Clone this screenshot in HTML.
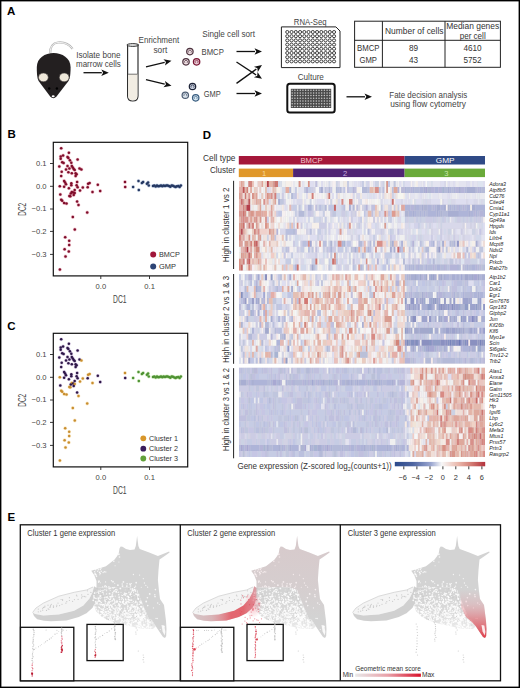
<!DOCTYPE html>
<html><head><meta charset="utf-8"><style>
html,body{margin:0;padding:0;background:#fff;width:520px;height:688px;overflow:hidden}
svg{display:block;font-family:"Liberation Sans",sans-serif}
</style></head><body>
<svg width="520" height="688" viewBox="0 0 520 688">
<rect width="520" height="688" fill="#fff"/>
<text x="7" y="15.2" font-size="11.5" fill="#000" font-weight="bold">A</text>
<text x="7.5" y="137.8" font-size="11.5" fill="#000" font-weight="bold">B</text>
<text x="7.2" y="330.2" font-size="11.5" fill="#000" font-weight="bold">C</text>
<text x="202.8" y="138.6" font-size="11.5" fill="#000" font-weight="bold">D</text>
<text x="7.6" y="521.4" font-size="11.5" fill="#000" font-weight="bold">E</text>
<path d="M50.2,53 C50,47 53,43 58,42.5 C63,42 69,44 72.6,48.8" fill="none" stroke="#b5b5b5" stroke-width="2.2"/>
<path d="M50.2,53 C50,47 53,43 58,42.5 C63,42 69,44 72.6,48.8" fill="none" stroke="#fff" stroke-width="0.8"/>
<path d="M53.6,52.9 C62,52.9 70.6,58 70.6,67 C70.6,73 70.2,78 68.5,81 L56.5,96.5 Q53.3,99.8 50.2,96.5 L38.6,81 C37,78 36.8,73 36.8,67 C36.8,58 45,52.9 53.6,52.9 Z" fill="#231f20"/>
<ellipse cx="43.4" cy="77.4" rx="4.9" ry="4.4" fill="#efe8da" stroke="#3a3536" stroke-width="0.6"/>
<ellipse cx="64.2" cy="77.4" rx="4.9" ry="4.4" fill="#efe8da" stroke="#3a3536" stroke-width="0.6"/>
<circle cx="49.2" cy="88.5" r="1.2" fill="#000"/><circle cx="56.9" cy="88.5" r="1.2" fill="#000"/>
<ellipse cx="53.2" cy="96.3" rx="1.5" ry="1" fill="#fff"/>
<text x="76.2" y="58" font-size="8.7" fill="#444" textLength="44.3" lengthAdjust="spacingAndGlyphs">Isolate bone</text>
<text x="76.0" y="67.4" font-size="8.7" fill="#444" textLength="44.8" lengthAdjust="spacingAndGlyphs">marrow cells</text>
<line x1="83.5" y1="72.7" x2="101.80" y2="72.70" stroke="#111" stroke-width="1.3"/>
<path d="M108.80,72.70 L101.30,75.90 L103.10,72.70 L101.30,69.50 Z" fill="#111"/>
<path d="M127.6,45 L127.6,96 Q127.6,101 132.8,101 Q138,101 138,96 L138,45" fill="#fff" stroke="#2a2a2a" stroke-width="1.15"/>
<path d="M128.2,74 L137.4,74 L137.4,96 Q137.4,100.3 132.8,100.3 Q128.2,100.3 128.2,96 Z" fill="#f2ede3"/>
<line x1="128" y1="74.2" x2="137.6" y2="74.2" stroke="#666" stroke-width="0.9"/>
<ellipse cx="132.8" cy="45" rx="6" ry="1.3" fill="#fff" stroke="#222" stroke-width="1"/>
<text x="138.6" y="43" font-size="8.7" fill="#444" textLength="40.6" lengthAdjust="spacingAndGlyphs">Enrichment</text>
<text x="153.4" y="52.7" font-size="8.7" fill="#444" textLength="13.8" lengthAdjust="spacingAndGlyphs">sort</text>
<line x1="146" y1="66.8" x2="164.69" y2="62.33" stroke="#111" stroke-width="1.3"/>
<path d="M171.50,60.70 L164.95,65.56 L165.96,62.03 L163.46,59.33 Z" fill="#111"/>
<line x1="146" y1="79.6" x2="164.70" y2="84.15" stroke="#111" stroke-width="1.3"/>
<path d="M171.50,85.80 L163.46,87.14 L165.96,84.45 L164.97,80.92 Z" fill="#111"/>
<circle cx="189.9" cy="51.6" r="3.2" fill="#f0e0e4" stroke="#4e3440" stroke-width="1.25"/>
<path d="M188.70000000000002,52.5 A1.5,1.5 0 1 1 191.0,52.6" fill="none" stroke="#4e3440" stroke-width="0.75"/>
<circle cx="186" cy="61.8" r="3.2" fill="#f0e0e4" stroke="#4e3440" stroke-width="1.25"/>
<path d="M184.8,62.699999999999996 A1.5,1.5 0 1 1 187.1,62.8" fill="none" stroke="#4e3440" stroke-width="0.75"/>
<circle cx="196.6" cy="61.8" r="3.2" fill="#e8c8d2" stroke="#7a1836" stroke-width="1.25"/>
<path d="M195.4,62.699999999999996 A1.5,1.5 0 1 1 197.7,62.8" fill="none" stroke="#7a1836" stroke-width="0.75"/>
<circle cx="192.5" cy="86.5" r="3.2" fill="#c8d0e0" stroke="#1c2236" stroke-width="1.25"/>
<path d="M191.3,87.4 A1.5,1.5 0 1 1 193.6,87.5" fill="none" stroke="#1c2236" stroke-width="0.75"/>
<circle cx="185.3" cy="95.2" r="3.2" fill="#e0e8f0" stroke="#4e5e74" stroke-width="1.25"/>
<path d="M184.10000000000002,96.10000000000001 A1.5,1.5 0 1 1 186.4,96.2" fill="none" stroke="#4e5e74" stroke-width="0.75"/>
<circle cx="195.7" cy="97.8" r="3.2" fill="#d8e8f2" stroke="#3a5e80" stroke-width="1.25"/>
<path d="M194.5,98.7 A1.5,1.5 0 1 1 196.79999999999998,98.8" fill="none" stroke="#3a5e80" stroke-width="0.75"/>
<text x="202.3" y="37.3" font-size="8.7" fill="#444" textLength="52.7" lengthAdjust="spacingAndGlyphs">Single cell sort</text>
<text x="201.5" y="55" font-size="8.7" fill="#444" textLength="22.3" lengthAdjust="spacingAndGlyphs">BMCP</text>
<text x="203.8" y="97.3" font-size="8.7" fill="#444" textLength="17" lengthAdjust="spacingAndGlyphs">GMP</text>
<line x1="236.5" y1="51.5" x2="255.00" y2="51.50" stroke="#111" stroke-width="1.3"/>
<path d="M262.00,51.50 L254.50,54.70 L256.30,51.50 L254.50,48.30 Z" fill="#111"/>
<line x1="236.5" y1="62" x2="256.15" y2="74.95" stroke="#111" stroke-width="1.3"/>
<path d="M262.00,78.80 L253.98,77.35 L257.24,75.66 L257.50,72.00 Z" fill="#111"/>
<line x1="236.5" y1="83.4" x2="256.32" y2="69.10" stroke="#111" stroke-width="1.3"/>
<path d="M262.00,65.00 L257.79,71.98 L257.38,68.34 L254.05,66.79 Z" fill="#111"/>
<line x1="236.5" y1="93.5" x2="255.00" y2="93.50" stroke="#111" stroke-width="1.3"/>
<path d="M262.00,93.50 L254.50,96.70 L256.30,93.50 L254.50,90.30 Z" fill="#111"/>
<path d="M281.4,26.9 L335.9,26.9 L340,31 L340,67.6 L281.4,67.6 Z" fill="#fff" stroke="#222" stroke-width="1"/>
<g fill="none" stroke="#2a2a2a" stroke-width="0.9"><ellipse cx="287.30" cy="32.00" rx="1.6" ry="1.5"/><ellipse cx="291.55" cy="32.00" rx="1.6" ry="1.5"/><ellipse cx="295.80" cy="32.00" rx="1.6" ry="1.5"/><ellipse cx="300.05" cy="32.00" rx="1.6" ry="1.5"/><ellipse cx="304.30" cy="32.00" rx="1.6" ry="1.5"/><ellipse cx="308.55" cy="32.00" rx="1.6" ry="1.5"/><ellipse cx="312.80" cy="32.00" rx="1.6" ry="1.5"/><ellipse cx="317.05" cy="32.00" rx="1.6" ry="1.5"/><ellipse cx="321.30" cy="32.00" rx="1.6" ry="1.5"/><ellipse cx="325.55" cy="32.00" rx="1.6" ry="1.5"/><ellipse cx="329.80" cy="32.00" rx="1.6" ry="1.5"/><ellipse cx="334.05" cy="32.00" rx="1.6" ry="1.5"/><ellipse cx="287.30" cy="36.20" rx="1.6" ry="1.5"/><ellipse cx="291.55" cy="36.20" rx="1.6" ry="1.5"/><ellipse cx="295.80" cy="36.20" rx="1.6" ry="1.5"/><ellipse cx="300.05" cy="36.20" rx="1.6" ry="1.5"/><ellipse cx="304.30" cy="36.20" rx="1.6" ry="1.5"/><ellipse cx="308.55" cy="36.20" rx="1.6" ry="1.5"/><ellipse cx="312.80" cy="36.20" rx="1.6" ry="1.5"/><ellipse cx="317.05" cy="36.20" rx="1.6" ry="1.5"/><ellipse cx="321.30" cy="36.20" rx="1.6" ry="1.5"/><ellipse cx="325.55" cy="36.20" rx="1.6" ry="1.5"/><ellipse cx="329.80" cy="36.20" rx="1.6" ry="1.5"/><ellipse cx="334.05" cy="36.20" rx="1.6" ry="1.5"/><ellipse cx="287.30" cy="40.40" rx="1.6" ry="1.5"/><ellipse cx="291.55" cy="40.40" rx="1.6" ry="1.5"/><ellipse cx="295.80" cy="40.40" rx="1.6" ry="1.5"/><ellipse cx="300.05" cy="40.40" rx="1.6" ry="1.5"/><ellipse cx="304.30" cy="40.40" rx="1.6" ry="1.5"/><ellipse cx="308.55" cy="40.40" rx="1.6" ry="1.5"/><ellipse cx="312.80" cy="40.40" rx="1.6" ry="1.5"/><ellipse cx="317.05" cy="40.40" rx="1.6" ry="1.5"/><ellipse cx="321.30" cy="40.40" rx="1.6" ry="1.5"/><ellipse cx="325.55" cy="40.40" rx="1.6" ry="1.5"/><ellipse cx="329.80" cy="40.40" rx="1.6" ry="1.5"/><ellipse cx="334.05" cy="40.40" rx="1.6" ry="1.5"/><ellipse cx="287.30" cy="44.60" rx="1.6" ry="1.5"/><ellipse cx="291.55" cy="44.60" rx="1.6" ry="1.5"/><ellipse cx="295.80" cy="44.60" rx="1.6" ry="1.5"/><ellipse cx="300.05" cy="44.60" rx="1.6" ry="1.5"/><ellipse cx="304.30" cy="44.60" rx="1.6" ry="1.5"/><ellipse cx="308.55" cy="44.60" rx="1.6" ry="1.5"/><ellipse cx="312.80" cy="44.60" rx="1.6" ry="1.5"/><ellipse cx="317.05" cy="44.60" rx="1.6" ry="1.5"/><ellipse cx="321.30" cy="44.60" rx="1.6" ry="1.5"/><ellipse cx="325.55" cy="44.60" rx="1.6" ry="1.5"/><ellipse cx="329.80" cy="44.60" rx="1.6" ry="1.5"/><ellipse cx="334.05" cy="44.60" rx="1.6" ry="1.5"/><ellipse cx="287.30" cy="48.80" rx="1.6" ry="1.5"/><ellipse cx="291.55" cy="48.80" rx="1.6" ry="1.5"/><ellipse cx="295.80" cy="48.80" rx="1.6" ry="1.5"/><ellipse cx="300.05" cy="48.80" rx="1.6" ry="1.5"/><ellipse cx="304.30" cy="48.80" rx="1.6" ry="1.5"/><ellipse cx="308.55" cy="48.80" rx="1.6" ry="1.5"/><ellipse cx="312.80" cy="48.80" rx="1.6" ry="1.5"/><ellipse cx="317.05" cy="48.80" rx="1.6" ry="1.5"/><ellipse cx="321.30" cy="48.80" rx="1.6" ry="1.5"/><ellipse cx="325.55" cy="48.80" rx="1.6" ry="1.5"/><ellipse cx="329.80" cy="48.80" rx="1.6" ry="1.5"/><ellipse cx="334.05" cy="48.80" rx="1.6" ry="1.5"/><ellipse cx="287.30" cy="53.00" rx="1.6" ry="1.5"/><ellipse cx="291.55" cy="53.00" rx="1.6" ry="1.5"/><ellipse cx="295.80" cy="53.00" rx="1.6" ry="1.5"/><ellipse cx="300.05" cy="53.00" rx="1.6" ry="1.5"/><ellipse cx="304.30" cy="53.00" rx="1.6" ry="1.5"/><ellipse cx="308.55" cy="53.00" rx="1.6" ry="1.5"/><ellipse cx="312.80" cy="53.00" rx="1.6" ry="1.5"/><ellipse cx="317.05" cy="53.00" rx="1.6" ry="1.5"/><ellipse cx="321.30" cy="53.00" rx="1.6" ry="1.5"/><ellipse cx="325.55" cy="53.00" rx="1.6" ry="1.5"/><ellipse cx="329.80" cy="53.00" rx="1.6" ry="1.5"/><ellipse cx="334.05" cy="53.00" rx="1.6" ry="1.5"/><ellipse cx="287.30" cy="57.20" rx="1.6" ry="1.5"/><ellipse cx="291.55" cy="57.20" rx="1.6" ry="1.5"/><ellipse cx="295.80" cy="57.20" rx="1.6" ry="1.5"/><ellipse cx="300.05" cy="57.20" rx="1.6" ry="1.5"/><ellipse cx="304.30" cy="57.20" rx="1.6" ry="1.5"/><ellipse cx="308.55" cy="57.20" rx="1.6" ry="1.5"/><ellipse cx="312.80" cy="57.20" rx="1.6" ry="1.5"/><ellipse cx="317.05" cy="57.20" rx="1.6" ry="1.5"/><ellipse cx="321.30" cy="57.20" rx="1.6" ry="1.5"/><ellipse cx="325.55" cy="57.20" rx="1.6" ry="1.5"/><ellipse cx="329.80" cy="57.20" rx="1.6" ry="1.5"/><ellipse cx="334.05" cy="57.20" rx="1.6" ry="1.5"/><ellipse cx="287.30" cy="61.40" rx="1.6" ry="1.5"/><ellipse cx="291.55" cy="61.40" rx="1.6" ry="1.5"/><ellipse cx="295.80" cy="61.40" rx="1.6" ry="1.5"/><ellipse cx="300.05" cy="61.40" rx="1.6" ry="1.5"/><ellipse cx="304.30" cy="61.40" rx="1.6" ry="1.5"/><ellipse cx="308.55" cy="61.40" rx="1.6" ry="1.5"/><ellipse cx="312.80" cy="61.40" rx="1.6" ry="1.5"/><ellipse cx="317.05" cy="61.40" rx="1.6" ry="1.5"/><ellipse cx="321.30" cy="61.40" rx="1.6" ry="1.5"/><ellipse cx="325.55" cy="61.40" rx="1.6" ry="1.5"/><ellipse cx="329.80" cy="61.40" rx="1.6" ry="1.5"/><ellipse cx="334.05" cy="61.40" rx="1.6" ry="1.5"/></g>
<text x="293.8" y="25" font-size="8.7" fill="#444" textLength="32.7" lengthAdjust="spacingAndGlyphs">RNA-Seq</text>
<text x="297.7" y="80" font-size="8.7" fill="#444" textLength="26.2" lengthAdjust="spacingAndGlyphs">Culture</text>
<rect x="287.3" y="83.7" width="47.4" height="28.8" rx="2.5" fill="#fff" stroke="#111" stroke-width="2"/>
<rect x="290.8" y="88.8" width="40.4" height="19.2" fill="#4a4a4a"/>
<g fill="#c8c8c8"><circle cx="292.20" cy="90.20" r="0.75"/><circle cx="294.88" cy="90.20" r="0.75"/><circle cx="297.56" cy="90.20" r="0.75"/><circle cx="300.24" cy="90.20" r="0.75"/><circle cx="302.92" cy="90.20" r="0.75"/><circle cx="305.60" cy="90.20" r="0.75"/><circle cx="308.28" cy="90.20" r="0.75"/><circle cx="310.96" cy="90.20" r="0.75"/><circle cx="313.64" cy="90.20" r="0.75"/><circle cx="316.32" cy="90.20" r="0.75"/><circle cx="319.00" cy="90.20" r="0.75"/><circle cx="321.68" cy="90.20" r="0.75"/><circle cx="324.36" cy="90.20" r="0.75"/><circle cx="327.04" cy="90.20" r="0.75"/><circle cx="329.72" cy="90.20" r="0.75"/><circle cx="292.20" cy="92.90" r="0.75"/><circle cx="294.88" cy="92.90" r="0.75"/><circle cx="297.56" cy="92.90" r="0.75"/><circle cx="300.24" cy="92.90" r="0.75"/><circle cx="302.92" cy="92.90" r="0.75"/><circle cx="305.60" cy="92.90" r="0.75"/><circle cx="308.28" cy="92.90" r="0.75"/><circle cx="310.96" cy="92.90" r="0.75"/><circle cx="313.64" cy="92.90" r="0.75"/><circle cx="316.32" cy="92.90" r="0.75"/><circle cx="319.00" cy="92.90" r="0.75"/><circle cx="321.68" cy="92.90" r="0.75"/><circle cx="324.36" cy="92.90" r="0.75"/><circle cx="327.04" cy="92.90" r="0.75"/><circle cx="329.72" cy="92.90" r="0.75"/><circle cx="292.20" cy="95.60" r="0.75"/><circle cx="294.88" cy="95.60" r="0.75"/><circle cx="297.56" cy="95.60" r="0.75"/><circle cx="300.24" cy="95.60" r="0.75"/><circle cx="302.92" cy="95.60" r="0.75"/><circle cx="305.60" cy="95.60" r="0.75"/><circle cx="308.28" cy="95.60" r="0.75"/><circle cx="310.96" cy="95.60" r="0.75"/><circle cx="313.64" cy="95.60" r="0.75"/><circle cx="316.32" cy="95.60" r="0.75"/><circle cx="319.00" cy="95.60" r="0.75"/><circle cx="321.68" cy="95.60" r="0.75"/><circle cx="324.36" cy="95.60" r="0.75"/><circle cx="327.04" cy="95.60" r="0.75"/><circle cx="329.72" cy="95.60" r="0.75"/><circle cx="292.20" cy="98.30" r="0.75"/><circle cx="294.88" cy="98.30" r="0.75"/><circle cx="297.56" cy="98.30" r="0.75"/><circle cx="300.24" cy="98.30" r="0.75"/><circle cx="302.92" cy="98.30" r="0.75"/><circle cx="305.60" cy="98.30" r="0.75"/><circle cx="308.28" cy="98.30" r="0.75"/><circle cx="310.96" cy="98.30" r="0.75"/><circle cx="313.64" cy="98.30" r="0.75"/><circle cx="316.32" cy="98.30" r="0.75"/><circle cx="319.00" cy="98.30" r="0.75"/><circle cx="321.68" cy="98.30" r="0.75"/><circle cx="324.36" cy="98.30" r="0.75"/><circle cx="327.04" cy="98.30" r="0.75"/><circle cx="329.72" cy="98.30" r="0.75"/><circle cx="292.20" cy="101.00" r="0.75"/><circle cx="294.88" cy="101.00" r="0.75"/><circle cx="297.56" cy="101.00" r="0.75"/><circle cx="300.24" cy="101.00" r="0.75"/><circle cx="302.92" cy="101.00" r="0.75"/><circle cx="305.60" cy="101.00" r="0.75"/><circle cx="308.28" cy="101.00" r="0.75"/><circle cx="310.96" cy="101.00" r="0.75"/><circle cx="313.64" cy="101.00" r="0.75"/><circle cx="316.32" cy="101.00" r="0.75"/><circle cx="319.00" cy="101.00" r="0.75"/><circle cx="321.68" cy="101.00" r="0.75"/><circle cx="324.36" cy="101.00" r="0.75"/><circle cx="327.04" cy="101.00" r="0.75"/><circle cx="329.72" cy="101.00" r="0.75"/><circle cx="292.20" cy="103.70" r="0.75"/><circle cx="294.88" cy="103.70" r="0.75"/><circle cx="297.56" cy="103.70" r="0.75"/><circle cx="300.24" cy="103.70" r="0.75"/><circle cx="302.92" cy="103.70" r="0.75"/><circle cx="305.60" cy="103.70" r="0.75"/><circle cx="308.28" cy="103.70" r="0.75"/><circle cx="310.96" cy="103.70" r="0.75"/><circle cx="313.64" cy="103.70" r="0.75"/><circle cx="316.32" cy="103.70" r="0.75"/><circle cx="319.00" cy="103.70" r="0.75"/><circle cx="321.68" cy="103.70" r="0.75"/><circle cx="324.36" cy="103.70" r="0.75"/><circle cx="327.04" cy="103.70" r="0.75"/><circle cx="329.72" cy="103.70" r="0.75"/><circle cx="292.20" cy="106.40" r="0.75"/><circle cx="294.88" cy="106.40" r="0.75"/><circle cx="297.56" cy="106.40" r="0.75"/><circle cx="300.24" cy="106.40" r="0.75"/><circle cx="302.92" cy="106.40" r="0.75"/><circle cx="305.60" cy="106.40" r="0.75"/><circle cx="308.28" cy="106.40" r="0.75"/><circle cx="310.96" cy="106.40" r="0.75"/><circle cx="313.64" cy="106.40" r="0.75"/><circle cx="316.32" cy="106.40" r="0.75"/><circle cx="319.00" cy="106.40" r="0.75"/><circle cx="321.68" cy="106.40" r="0.75"/><circle cx="324.36" cy="106.40" r="0.75"/><circle cx="327.04" cy="106.40" r="0.75"/><circle cx="329.72" cy="106.40" r="0.75"/></g>
<line x1="346.5" y1="96.8" x2="365.00" y2="96.80" stroke="#111" stroke-width="1.3"/>
<path d="M372.00,96.80 L364.50,100.00 L366.30,96.80 L364.50,93.60 Z" fill="#111"/>
<text x="389.3" y="98" font-size="8.7" fill="#444" textLength="77.9" lengthAdjust="spacingAndGlyphs">Fate decision analysis</text>
<text x="390.2" y="107.3" font-size="8.7" fill="#444" textLength="75.8" lengthAdjust="spacingAndGlyphs">using flow cytometry</text>
<g stroke="#222" stroke-width="1" fill="none"><rect x="354.6" y="21.2" width="145.8" height="46.1"/><line x1="382.4" y1="21.2" x2="382.4" y2="67.3"/><line x1="445" y1="21.2" x2="445" y2="67.3"/><line x1="354.6" y1="40.3" x2="500.4" y2="40.3"/></g>
<text x="385" y="34.0" font-size="8.2" fill="#333" textLength="58.5" lengthAdjust="spacingAndGlyphs">Number of cells</text>
<text x="472.7" y="29.0" font-size="8.2" fill="#333" text-anchor="middle" textLength="53" lengthAdjust="spacingAndGlyphs">Median genes</text>
<text x="472.7" y="39.4" font-size="8.2" fill="#333" text-anchor="middle" textLength="26" lengthAdjust="spacingAndGlyphs">per cell</text>
<text x="357" y="50.7" font-size="8.2" fill="#333" textLength="22.5" lengthAdjust="spacingAndGlyphs">BMCP</text>
<text x="359.5" y="62.7" font-size="8.2" fill="#333" textLength="17.5" lengthAdjust="spacingAndGlyphs">GMP</text>
<text x="413.5" y="50.7" font-size="8.2" fill="#333" text-anchor="middle">89</text>
<text x="413.5" y="62.7" font-size="8.2" fill="#333" text-anchor="middle">43</text>
<text x="472.5" y="50.7" font-size="8.2" fill="#333" text-anchor="middle">4610</text>
<text x="472.5" y="62.7" font-size="8.2" fill="#333" text-anchor="middle">5752</text>
<rect x="53.3" y="142.3" width="134.4" height="133.6" fill="none" stroke="#111" stroke-width="1.2"/>
<line x1="50" y1="163.5" x2="53.3" y2="163.5" stroke="#222" stroke-width="0.9"/>
<text x="46.6" y="165.9" font-size="7.6" fill="#444" text-anchor="end">0.1</text>
<line x1="50" y1="186.3" x2="53.3" y2="186.3" stroke="#222" stroke-width="0.9"/>
<text x="46.6" y="188.70000000000002" font-size="7.6" fill="#444" text-anchor="end">0.0</text>
<line x1="50" y1="209" x2="53.3" y2="209" stroke="#222" stroke-width="0.9"/>
<text x="46.6" y="211.4" font-size="7.6" fill="#444" text-anchor="end">−0.1</text>
<line x1="50" y1="231.4" x2="53.3" y2="231.4" stroke="#222" stroke-width="0.9"/>
<text x="46.6" y="233.8" font-size="7.6" fill="#444" text-anchor="end">−0.2</text>
<line x1="50" y1="254.4" x2="53.3" y2="254.4" stroke="#222" stroke-width="0.9"/>
<text x="46.6" y="256.8" font-size="7.6" fill="#444" text-anchor="end">−0.3</text>
<line x1="100.8" y1="276" x2="100.8" y2="279" stroke="#222" stroke-width="0.9"/>
<text x="100.89999999999999" y="288.6" font-size="7.6" fill="#444" text-anchor="middle">0.0</text>
<line x1="149.5" y1="276" x2="149.5" y2="279" stroke="#222" stroke-width="0.9"/>
<text x="149.6" y="288.6" font-size="7.6" fill="#444" text-anchor="middle">0.1</text>
<text x="119.85" y="302.7" font-size="10" fill="#444" text-anchor="middle" textLength="13.5" lengthAdjust="spacingAndGlyphs">DC1</text>
<text transform="translate(26.0,209.3) rotate(-90)" font-size="10" fill="#444" text-anchor="middle" textLength="12.8" lengthAdjust="spacingAndGlyphs">DC2</text>
<circle cx="61.2" cy="148.3" r="1.9" fill="#d03a5a" fill-opacity="0.3"/><circle cx="68.9" cy="152.8" r="1.9" fill="#d03a5a" fill-opacity="0.3"/><circle cx="60.7" cy="156.4" r="1.9" fill="#d03a5a" fill-opacity="0.3"/><circle cx="63.1" cy="155.5" r="1.9" fill="#d03a5a" fill-opacity="0.3"/><circle cx="60.7" cy="158.8" r="1.9" fill="#d03a5a" fill-opacity="0.3"/><circle cx="67.5" cy="156.9" r="1.9" fill="#d03a5a" fill-opacity="0.3"/><circle cx="68.4" cy="157.9" r="1.9" fill="#d03a5a" fill-opacity="0.3"/><circle cx="77.6" cy="159.6" r="1.9" fill="#d03a5a" fill-opacity="0.3"/><circle cx="69.9" cy="160.3" r="1.9" fill="#d03a5a" fill-opacity="0.3"/><circle cx="62.2" cy="162.2" r="1.9" fill="#d03a5a" fill-opacity="0.3"/><circle cx="63.6" cy="163" r="1.9" fill="#d03a5a" fill-opacity="0.3"/><circle cx="71.3" cy="162.7" r="1.9" fill="#d03a5a" fill-opacity="0.3"/><circle cx="59.3" cy="166.5" r="1.9" fill="#d03a5a" fill-opacity="0.3"/><circle cx="67.5" cy="166" r="1.9" fill="#d03a5a" fill-opacity="0.3"/><circle cx="71.8" cy="166" r="1.9" fill="#d03a5a" fill-opacity="0.3"/><circle cx="72.8" cy="167.5" r="1.9" fill="#d03a5a" fill-opacity="0.3"/><circle cx="73.7" cy="169" r="1.9" fill="#d03a5a" fill-opacity="0.3"/><circle cx="74.7" cy="169.9" r="1.9" fill="#d03a5a" fill-opacity="0.3"/><circle cx="79.5" cy="168.4" r="1.9" fill="#d03a5a" fill-opacity="0.3"/><circle cx="81.4" cy="169.4" r="1.9" fill="#d03a5a" fill-opacity="0.3"/><circle cx="66" cy="169.4" r="1.9" fill="#d03a5a" fill-opacity="0.3"/><circle cx="69.4" cy="168.4" r="1.9" fill="#d03a5a" fill-opacity="0.3"/><circle cx="61.7" cy="171.8" r="1.9" fill="#d03a5a" fill-opacity="0.3"/><circle cx="68.4" cy="172.3" r="1.9" fill="#d03a5a" fill-opacity="0.3"/><circle cx="71.8" cy="173.3" r="1.9" fill="#d03a5a" fill-opacity="0.3"/><circle cx="75.6" cy="173.3" r="1.9" fill="#d03a5a" fill-opacity="0.3"/><circle cx="76.6" cy="174.2" r="1.9" fill="#d03a5a" fill-opacity="0.3"/><circle cx="75.6" cy="176.1" r="1.9" fill="#d03a5a" fill-opacity="0.3"/><circle cx="61.2" cy="176.1" r="1.9" fill="#d03a5a" fill-opacity="0.3"/><circle cx="64.1" cy="181" r="1.9" fill="#d03a5a" fill-opacity="0.3"/><circle cx="65.1" cy="182.4" r="1.9" fill="#d03a5a" fill-opacity="0.3"/><circle cx="66" cy="184.3" r="1.9" fill="#d03a5a" fill-opacity="0.3"/><circle cx="71.3" cy="183.3" r="1.9" fill="#d03a5a" fill-opacity="0.3"/><circle cx="71.3" cy="185.3" r="1.9" fill="#d03a5a" fill-opacity="0.3"/><circle cx="77.1" cy="181.9" r="1.9" fill="#d03a5a" fill-opacity="0.3"/><circle cx="76.6" cy="185.3" r="1.9" fill="#d03a5a" fill-opacity="0.3"/><circle cx="77.6" cy="187.2" r="1.9" fill="#d03a5a" fill-opacity="0.3"/><circle cx="59.8" cy="186.3" r="1.9" fill="#d03a5a" fill-opacity="0.3"/><circle cx="64.1" cy="186.7" r="1.9" fill="#d03a5a" fill-opacity="0.3"/><circle cx="68.9" cy="188.2" r="1.9" fill="#d03a5a" fill-opacity="0.3"/><circle cx="82.8" cy="187.5" r="1.9" fill="#d03a5a" fill-opacity="0.3"/><circle cx="88.1" cy="183.8" r="1.9" fill="#d03a5a" fill-opacity="0.3"/><circle cx="89.6" cy="183.1" r="1.9" fill="#d03a5a" fill-opacity="0.3"/><circle cx="87.7" cy="187.2" r="1.9" fill="#d03a5a" fill-opacity="0.3"/><circle cx="97.8" cy="184.8" r="1.9" fill="#d03a5a" fill-opacity="0.3"/><circle cx="80" cy="190.6" r="1.9" fill="#d03a5a" fill-opacity="0.3"/><circle cx="92.5" cy="192" r="1.9" fill="#d03a5a" fill-opacity="0.3"/><circle cx="100.2" cy="191" r="1.9" fill="#d03a5a" fill-opacity="0.3"/><circle cx="74.7" cy="190.1" r="1.9" fill="#d03a5a" fill-opacity="0.3"/><circle cx="71.8" cy="192" r="1.9" fill="#d03a5a" fill-opacity="0.3"/><circle cx="73.2" cy="192.5" r="1.9" fill="#d03a5a" fill-opacity="0.3"/><circle cx="74.7" cy="193" r="1.9" fill="#d03a5a" fill-opacity="0.3"/><circle cx="70.8" cy="193.5" r="1.9" fill="#d03a5a" fill-opacity="0.3"/><circle cx="73.7" cy="194.9" r="1.9" fill="#d03a5a" fill-opacity="0.3"/><circle cx="69.4" cy="195.9" r="1.9" fill="#d03a5a" fill-opacity="0.3"/><circle cx="70.3" cy="196.3" r="1.9" fill="#d03a5a" fill-opacity="0.3"/><circle cx="60.3" cy="194.4" r="1.9" fill="#d03a5a" fill-opacity="0.3"/><circle cx="61.2" cy="199.7" r="1.9" fill="#d03a5a" fill-opacity="0.3"/><circle cx="62.2" cy="200.7" r="1.9" fill="#d03a5a" fill-opacity="0.3"/><circle cx="64.1" cy="203.1" r="1.9" fill="#d03a5a" fill-opacity="0.3"/><circle cx="66.5" cy="203.6" r="1.9" fill="#d03a5a" fill-opacity="0.3"/><circle cx="77.1" cy="201.6" r="1.9" fill="#d03a5a" fill-opacity="0.3"/><circle cx="78.5" cy="205" r="1.9" fill="#d03a5a" fill-opacity="0.3"/><circle cx="87.2" cy="212.5" r="1.9" fill="#d03a5a" fill-opacity="0.3"/><circle cx="72.8" cy="217" r="1.9" fill="#d03a5a" fill-opacity="0.3"/><circle cx="74.8" cy="229.5" r="1.9" fill="#d03a5a" fill-opacity="0.3"/><circle cx="65.2" cy="237.2" r="1.9" fill="#d03a5a" fill-opacity="0.3"/><circle cx="69.2" cy="240.8" r="1.9" fill="#d03a5a" fill-opacity="0.3"/><circle cx="69.2" cy="245" r="1.9" fill="#d03a5a" fill-opacity="0.3"/><circle cx="64.6" cy="249.2" r="1.9" fill="#d03a5a" fill-opacity="0.3"/><circle cx="68.8" cy="251.4" r="1.9" fill="#d03a5a" fill-opacity="0.3"/><circle cx="65.5" cy="256.5" r="1.9" fill="#d03a5a" fill-opacity="0.3"/><circle cx="59.9" cy="269.6" r="1.9" fill="#d03a5a" fill-opacity="0.3"/><circle cx="125" cy="181.9" r="1.9" fill="#d03a5a" fill-opacity="0.3"/><circle cx="125.2" cy="186.9" r="1.9" fill="#d03a5a" fill-opacity="0.3"/><circle cx="133.1" cy="186.9" r="1.9" fill="#5a7ab0" fill-opacity="0.3"/><circle cx="138.5" cy="181" r="1.9" fill="#5a7ab0" fill-opacity="0.3"/><circle cx="138.8" cy="190" r="1.9" fill="#5a7ab0" fill-opacity="0.3"/><circle cx="141.9" cy="183.1" r="1.9" fill="#5a7ab0" fill-opacity="0.3"/><circle cx="143.1" cy="181.9" r="1.9" fill="#5a7ab0" fill-opacity="0.3"/><circle cx="146.9" cy="183.8" r="1.9" fill="#5a7ab0" fill-opacity="0.3"/><circle cx="148.1" cy="182.5" r="1.9" fill="#5a7ab0" fill-opacity="0.3"/><circle cx="148.8" cy="185.6" r="1.9" fill="#5a7ab0" fill-opacity="0.3"/><circle cx="153.0" cy="185.9" r="1.9" fill="#5a7ab0" fill-opacity="0.3"/><circle cx="154.3" cy="185.6" r="1.9" fill="#5a7ab0" fill-opacity="0.3"/><circle cx="155.7" cy="186.5" r="1.9" fill="#5a7ab0" fill-opacity="0.3"/><circle cx="157.0" cy="185.4" r="1.9" fill="#5a7ab0" fill-opacity="0.3"/><circle cx="158.3" cy="186.3" r="1.9" fill="#5a7ab0" fill-opacity="0.3"/><circle cx="159.7" cy="186.0" r="1.9" fill="#5a7ab0" fill-opacity="0.3"/><circle cx="161.0" cy="185.4" r="1.9" fill="#5a7ab0" fill-opacity="0.3"/><circle cx="162.3" cy="186.2" r="1.9" fill="#5a7ab0" fill-opacity="0.3"/><circle cx="163.6" cy="185.4" r="1.9" fill="#5a7ab0" fill-opacity="0.3"/><circle cx="165.0" cy="186.1" r="1.9" fill="#5a7ab0" fill-opacity="0.3"/><circle cx="166.3" cy="185.4" r="1.9" fill="#5a7ab0" fill-opacity="0.3"/><circle cx="167.6" cy="185.5" r="1.9" fill="#5a7ab0" fill-opacity="0.3"/><circle cx="169.0" cy="186.1" r="1.9" fill="#5a7ab0" fill-opacity="0.3"/><circle cx="170.3" cy="186.8" r="1.9" fill="#5a7ab0" fill-opacity="0.3"/><circle cx="171.6" cy="185.5" r="1.9" fill="#5a7ab0" fill-opacity="0.3"/><circle cx="172.9" cy="185.7" r="1.9" fill="#5a7ab0" fill-opacity="0.3"/><circle cx="174.3" cy="186.4" r="1.9" fill="#5a7ab0" fill-opacity="0.3"/><circle cx="175.6" cy="187.0" r="1.9" fill="#5a7ab0" fill-opacity="0.3"/><circle cx="176.9" cy="186.3" r="1.9" fill="#5a7ab0" fill-opacity="0.3"/><circle cx="178.3" cy="186.0" r="1.9" fill="#5a7ab0" fill-opacity="0.3"/><circle cx="179.6" cy="187.1" r="1.9" fill="#5a7ab0" fill-opacity="0.3"/><circle cx="180.9" cy="185.4" r="1.9" fill="#5a7ab0" fill-opacity="0.3"/><circle cx="61.2" cy="148.3" r="1.25" fill="#7e0e2c"/><circle cx="68.9" cy="152.8" r="1.25" fill="#7e0e2c"/><circle cx="60.7" cy="156.4" r="1.25" fill="#7e0e2c"/><circle cx="63.1" cy="155.5" r="1.25" fill="#7e0e2c"/><circle cx="60.7" cy="158.8" r="1.25" fill="#7e0e2c"/><circle cx="67.5" cy="156.9" r="1.25" fill="#7e0e2c"/><circle cx="68.4" cy="157.9" r="1.25" fill="#7e0e2c"/><circle cx="77.6" cy="159.6" r="1.25" fill="#7e0e2c"/><circle cx="69.9" cy="160.3" r="1.25" fill="#7e0e2c"/><circle cx="62.2" cy="162.2" r="1.25" fill="#7e0e2c"/><circle cx="63.6" cy="163" r="1.25" fill="#7e0e2c"/><circle cx="71.3" cy="162.7" r="1.25" fill="#7e0e2c"/><circle cx="59.3" cy="166.5" r="1.25" fill="#7e0e2c"/><circle cx="67.5" cy="166" r="1.25" fill="#7e0e2c"/><circle cx="71.8" cy="166" r="1.25" fill="#7e0e2c"/><circle cx="72.8" cy="167.5" r="1.25" fill="#7e0e2c"/><circle cx="73.7" cy="169" r="1.25" fill="#7e0e2c"/><circle cx="74.7" cy="169.9" r="1.25" fill="#7e0e2c"/><circle cx="79.5" cy="168.4" r="1.25" fill="#7e0e2c"/><circle cx="81.4" cy="169.4" r="1.25" fill="#7e0e2c"/><circle cx="66" cy="169.4" r="1.25" fill="#7e0e2c"/><circle cx="69.4" cy="168.4" r="1.25" fill="#7e0e2c"/><circle cx="61.7" cy="171.8" r="1.25" fill="#7e0e2c"/><circle cx="68.4" cy="172.3" r="1.25" fill="#7e0e2c"/><circle cx="71.8" cy="173.3" r="1.25" fill="#7e0e2c"/><circle cx="75.6" cy="173.3" r="1.25" fill="#7e0e2c"/><circle cx="76.6" cy="174.2" r="1.25" fill="#7e0e2c"/><circle cx="75.6" cy="176.1" r="1.25" fill="#7e0e2c"/><circle cx="61.2" cy="176.1" r="1.25" fill="#7e0e2c"/><circle cx="64.1" cy="181" r="1.25" fill="#7e0e2c"/><circle cx="65.1" cy="182.4" r="1.25" fill="#7e0e2c"/><circle cx="66" cy="184.3" r="1.25" fill="#7e0e2c"/><circle cx="71.3" cy="183.3" r="1.25" fill="#7e0e2c"/><circle cx="71.3" cy="185.3" r="1.25" fill="#7e0e2c"/><circle cx="77.1" cy="181.9" r="1.25" fill="#7e0e2c"/><circle cx="76.6" cy="185.3" r="1.25" fill="#7e0e2c"/><circle cx="77.6" cy="187.2" r="1.25" fill="#7e0e2c"/><circle cx="59.8" cy="186.3" r="1.25" fill="#7e0e2c"/><circle cx="64.1" cy="186.7" r="1.25" fill="#7e0e2c"/><circle cx="68.9" cy="188.2" r="1.25" fill="#7e0e2c"/><circle cx="82.8" cy="187.5" r="1.25" fill="#7e0e2c"/><circle cx="88.1" cy="183.8" r="1.25" fill="#7e0e2c"/><circle cx="89.6" cy="183.1" r="1.25" fill="#7e0e2c"/><circle cx="87.7" cy="187.2" r="1.25" fill="#7e0e2c"/><circle cx="97.8" cy="184.8" r="1.25" fill="#7e0e2c"/><circle cx="80" cy="190.6" r="1.25" fill="#7e0e2c"/><circle cx="92.5" cy="192" r="1.25" fill="#7e0e2c"/><circle cx="100.2" cy="191" r="1.25" fill="#7e0e2c"/><circle cx="74.7" cy="190.1" r="1.25" fill="#7e0e2c"/><circle cx="71.8" cy="192" r="1.25" fill="#7e0e2c"/><circle cx="73.2" cy="192.5" r="1.25" fill="#7e0e2c"/><circle cx="74.7" cy="193" r="1.25" fill="#7e0e2c"/><circle cx="70.8" cy="193.5" r="1.25" fill="#7e0e2c"/><circle cx="73.7" cy="194.9" r="1.25" fill="#7e0e2c"/><circle cx="69.4" cy="195.9" r="1.25" fill="#7e0e2c"/><circle cx="70.3" cy="196.3" r="1.25" fill="#7e0e2c"/><circle cx="60.3" cy="194.4" r="1.25" fill="#7e0e2c"/><circle cx="61.2" cy="199.7" r="1.25" fill="#7e0e2c"/><circle cx="62.2" cy="200.7" r="1.25" fill="#7e0e2c"/><circle cx="64.1" cy="203.1" r="1.25" fill="#7e0e2c"/><circle cx="66.5" cy="203.6" r="1.25" fill="#7e0e2c"/><circle cx="77.1" cy="201.6" r="1.25" fill="#7e0e2c"/><circle cx="78.5" cy="205" r="1.25" fill="#7e0e2c"/><circle cx="87.2" cy="212.5" r="1.25" fill="#7e0e2c"/><circle cx="72.8" cy="217" r="1.25" fill="#7e0e2c"/><circle cx="74.8" cy="229.5" r="1.25" fill="#7e0e2c"/><circle cx="65.2" cy="237.2" r="1.25" fill="#7e0e2c"/><circle cx="69.2" cy="240.8" r="1.25" fill="#7e0e2c"/><circle cx="69.2" cy="245" r="1.25" fill="#7e0e2c"/><circle cx="64.6" cy="249.2" r="1.25" fill="#7e0e2c"/><circle cx="68.8" cy="251.4" r="1.25" fill="#7e0e2c"/><circle cx="65.5" cy="256.5" r="1.25" fill="#7e0e2c"/><circle cx="59.9" cy="269.6" r="1.25" fill="#7e0e2c"/><circle cx="125" cy="181.9" r="1.25" fill="#7e0e2c"/><circle cx="125.2" cy="186.9" r="1.25" fill="#7e0e2c"/><circle cx="133.1" cy="186.9" r="1.25" fill="#253862"/><circle cx="138.5" cy="181" r="1.25" fill="#253862"/><circle cx="138.8" cy="190" r="1.25" fill="#253862"/><circle cx="141.9" cy="183.1" r="1.25" fill="#253862"/><circle cx="143.1" cy="181.9" r="1.25" fill="#253862"/><circle cx="146.9" cy="183.8" r="1.25" fill="#253862"/><circle cx="148.1" cy="182.5" r="1.25" fill="#253862"/><circle cx="148.8" cy="185.6" r="1.25" fill="#253862"/><circle cx="153.0" cy="185.9" r="1.25" fill="#253862"/><circle cx="154.3" cy="185.6" r="1.25" fill="#253862"/><circle cx="155.7" cy="186.5" r="1.25" fill="#253862"/><circle cx="157.0" cy="185.4" r="1.25" fill="#253862"/><circle cx="158.3" cy="186.3" r="1.25" fill="#253862"/><circle cx="159.7" cy="186.0" r="1.25" fill="#253862"/><circle cx="161.0" cy="185.4" r="1.25" fill="#253862"/><circle cx="162.3" cy="186.2" r="1.25" fill="#253862"/><circle cx="163.6" cy="185.4" r="1.25" fill="#253862"/><circle cx="165.0" cy="186.1" r="1.25" fill="#253862"/><circle cx="166.3" cy="185.4" r="1.25" fill="#253862"/><circle cx="167.6" cy="185.5" r="1.25" fill="#253862"/><circle cx="169.0" cy="186.1" r="1.25" fill="#253862"/><circle cx="170.3" cy="186.8" r="1.25" fill="#253862"/><circle cx="171.6" cy="185.5" r="1.25" fill="#253862"/><circle cx="172.9" cy="185.7" r="1.25" fill="#253862"/><circle cx="174.3" cy="186.4" r="1.25" fill="#253862"/><circle cx="175.6" cy="187.0" r="1.25" fill="#253862"/><circle cx="176.9" cy="186.3" r="1.25" fill="#253862"/><circle cx="178.3" cy="186.0" r="1.25" fill="#253862"/><circle cx="179.6" cy="187.1" r="1.25" fill="#253862"/><circle cx="180.9" cy="185.4" r="1.25" fill="#253862"/>
<circle cx="153.2" cy="254.5" r="3" fill="#a0163a"/>
<text x="158.9" y="257.2" font-size="7.5" fill="#333" textLength="21" lengthAdjust="spacingAndGlyphs">BMCP</text>
<circle cx="153.2" cy="266.6" r="3" fill="#2c4475"/>
<text x="158.9" y="269.3" font-size="7.5" fill="#333" textLength="17" lengthAdjust="spacingAndGlyphs">GMP</text>
<rect x="53.3" y="333.3" width="134.4" height="133.6" fill="none" stroke="#111" stroke-width="1.2"/>
<line x1="50" y1="354.5" x2="53.3" y2="354.5" stroke="#222" stroke-width="0.9"/>
<text x="46.6" y="356.9" font-size="7.6" fill="#444" text-anchor="end">0.1</text>
<line x1="50" y1="377.3" x2="53.3" y2="377.3" stroke="#222" stroke-width="0.9"/>
<text x="46.6" y="379.7" font-size="7.6" fill="#444" text-anchor="end">0.0</text>
<line x1="50" y1="400" x2="53.3" y2="400" stroke="#222" stroke-width="0.9"/>
<text x="46.6" y="402.4" font-size="7.6" fill="#444" text-anchor="end">−0.1</text>
<line x1="50" y1="422.4" x2="53.3" y2="422.4" stroke="#222" stroke-width="0.9"/>
<text x="46.6" y="424.79999999999995" font-size="7.6" fill="#444" text-anchor="end">−0.2</text>
<line x1="50" y1="445.4" x2="53.3" y2="445.4" stroke="#222" stroke-width="0.9"/>
<text x="46.6" y="447.79999999999995" font-size="7.6" fill="#444" text-anchor="end">−0.3</text>
<line x1="100.8" y1="467" x2="100.8" y2="470" stroke="#222" stroke-width="0.9"/>
<text x="100.89999999999999" y="479.6" font-size="7.6" fill="#444" text-anchor="middle">0.0</text>
<line x1="149.5" y1="467" x2="149.5" y2="470" stroke="#222" stroke-width="0.9"/>
<text x="149.6" y="479.6" font-size="7.6" fill="#444" text-anchor="middle">0.1</text>
<text x="119.85" y="493.7" font-size="10" fill="#444" text-anchor="middle" textLength="13.5" lengthAdjust="spacingAndGlyphs">DC1</text>
<text transform="translate(26.0,400.3) rotate(-90)" font-size="10" fill="#444" text-anchor="middle" textLength="12.8" lengthAdjust="spacingAndGlyphs">DC2</text>
<circle cx="61.2" cy="339.3" r="1.9" fill="#8a60b0" fill-opacity="0.3"/><circle cx="68.9" cy="343.8" r="1.9" fill="#8a60b0" fill-opacity="0.3"/><circle cx="60.7" cy="347.4" r="1.9" fill="#8a60b0" fill-opacity="0.3"/><circle cx="63.1" cy="346.5" r="1.9" fill="#8a60b0" fill-opacity="0.3"/><circle cx="60.7" cy="349.8" r="1.9" fill="#8a60b0" fill-opacity="0.3"/><circle cx="67.5" cy="347.9" r="1.9" fill="#8a60b0" fill-opacity="0.3"/><circle cx="68.4" cy="348.9" r="1.9" fill="#8a60b0" fill-opacity="0.3"/><circle cx="77.6" cy="350.6" r="1.9" fill="#8a60b0" fill-opacity="0.3"/><circle cx="69.9" cy="351.3" r="1.9" fill="#8a60b0" fill-opacity="0.3"/><circle cx="62.2" cy="353.2" r="1.9" fill="#8a60b0" fill-opacity="0.3"/><circle cx="63.6" cy="354" r="1.9" fill="#8a60b0" fill-opacity="0.3"/><circle cx="71.3" cy="353.7" r="1.9" fill="#8a60b0" fill-opacity="0.3"/><circle cx="59.3" cy="357.5" r="1.9" fill="#8a60b0" fill-opacity="0.3"/><circle cx="67.5" cy="357" r="1.9" fill="#8a60b0" fill-opacity="0.3"/><circle cx="71.8" cy="357" r="1.9" fill="#8a60b0" fill-opacity="0.3"/><circle cx="72.8" cy="358.5" r="1.9" fill="#8a60b0" fill-opacity="0.3"/><circle cx="73.7" cy="360" r="1.9" fill="#8a60b0" fill-opacity="0.3"/><circle cx="74.7" cy="360.9" r="1.9" fill="#8a60b0" fill-opacity="0.3"/><circle cx="79.5" cy="359.4" r="1.9" fill="#8a60b0" fill-opacity="0.3"/><circle cx="81.4" cy="360.4" r="1.9" fill="#f0b850" fill-opacity="0.3"/><circle cx="66" cy="360.4" r="1.9" fill="#8a60b0" fill-opacity="0.3"/><circle cx="69.4" cy="359.4" r="1.9" fill="#8a60b0" fill-opacity="0.3"/><circle cx="61.7" cy="362.8" r="1.9" fill="#8a60b0" fill-opacity="0.3"/><circle cx="68.4" cy="363.3" r="1.9" fill="#8a60b0" fill-opacity="0.3"/><circle cx="71.8" cy="364.3" r="1.9" fill="#8a60b0" fill-opacity="0.3"/><circle cx="75.6" cy="364.3" r="1.9" fill="#8a60b0" fill-opacity="0.3"/><circle cx="76.6" cy="365.2" r="1.9" fill="#8a60b0" fill-opacity="0.3"/><circle cx="75.6" cy="367.1" r="1.9" fill="#8a60b0" fill-opacity="0.3"/><circle cx="61.2" cy="367.1" r="1.9" fill="#8a60b0" fill-opacity="0.3"/><circle cx="64.1" cy="372" r="1.9" fill="#8a60b0" fill-opacity="0.3"/><circle cx="65.1" cy="373.4" r="1.9" fill="#8a60b0" fill-opacity="0.3"/><circle cx="66" cy="375.3" r="1.9" fill="#8a60b0" fill-opacity="0.3"/><circle cx="71.3" cy="374.3" r="1.9" fill="#8a60b0" fill-opacity="0.3"/><circle cx="71.3" cy="376.3" r="1.9" fill="#8a60b0" fill-opacity="0.3"/><circle cx="77.1" cy="372.9" r="1.9" fill="#8a60b0" fill-opacity="0.3"/><circle cx="76.6" cy="376.3" r="1.9" fill="#8a60b0" fill-opacity="0.3"/><circle cx="77.6" cy="378.2" r="1.9" fill="#8a60b0" fill-opacity="0.3"/><circle cx="59.8" cy="377.3" r="1.9" fill="#f0b850" fill-opacity="0.3"/><circle cx="64.1" cy="377.7" r="1.9" fill="#8a60b0" fill-opacity="0.3"/><circle cx="68.9" cy="379.2" r="1.9" fill="#8a60b0" fill-opacity="0.3"/><circle cx="82.8" cy="378.5" r="1.9" fill="#f0b850" fill-opacity="0.3"/><circle cx="88.1" cy="374.8" r="1.9" fill="#f0b850" fill-opacity="0.3"/><circle cx="89.6" cy="374.1" r="1.9" fill="#f0b850" fill-opacity="0.3"/><circle cx="87.7" cy="378.2" r="1.9" fill="#8a60b0" fill-opacity="0.3"/><circle cx="97.8" cy="375.8" r="1.9" fill="#8a60b0" fill-opacity="0.3"/><circle cx="80" cy="381.6" r="1.9" fill="#f0b850" fill-opacity="0.3"/><circle cx="92.5" cy="383" r="1.9" fill="#f0b850" fill-opacity="0.3"/><circle cx="100.2" cy="382" r="1.9" fill="#8a60b0" fill-opacity="0.3"/><circle cx="74.7" cy="381.1" r="1.9" fill="#8a60b0" fill-opacity="0.3"/><circle cx="71.8" cy="383" r="1.9" fill="#f0b850" fill-opacity="0.3"/><circle cx="73.2" cy="383.5" r="1.9" fill="#8a60b0" fill-opacity="0.3"/><circle cx="74.7" cy="384" r="1.9" fill="#f0b850" fill-opacity="0.3"/><circle cx="70.8" cy="384.5" r="1.9" fill="#8a60b0" fill-opacity="0.3"/><circle cx="73.7" cy="385.9" r="1.9" fill="#8a60b0" fill-opacity="0.3"/><circle cx="69.4" cy="386.9" r="1.9" fill="#f0b850" fill-opacity="0.3"/><circle cx="70.3" cy="387.3" r="1.9" fill="#f0b850" fill-opacity="0.3"/><circle cx="60.3" cy="385.4" r="1.9" fill="#8a60b0" fill-opacity="0.3"/><circle cx="61.2" cy="390.7" r="1.9" fill="#f0b850" fill-opacity="0.3"/><circle cx="62.2" cy="391.7" r="1.9" fill="#f0b850" fill-opacity="0.3"/><circle cx="64.1" cy="394.1" r="1.9" fill="#f0b850" fill-opacity="0.3"/><circle cx="66.5" cy="394.6" r="1.9" fill="#f0b850" fill-opacity="0.3"/><circle cx="77.1" cy="392.6" r="1.9" fill="#8a60b0" fill-opacity="0.3"/><circle cx="78.5" cy="396" r="1.9" fill="#f0b850" fill-opacity="0.3"/><circle cx="87.2" cy="403.5" r="1.9" fill="#f0b850" fill-opacity="0.3"/><circle cx="72.8" cy="408" r="1.9" fill="#f0b850" fill-opacity="0.3"/><circle cx="74.8" cy="420.5" r="1.9" fill="#f0b850" fill-opacity="0.3"/><circle cx="65.2" cy="428.2" r="1.9" fill="#f0b850" fill-opacity="0.3"/><circle cx="69.2" cy="431.8" r="1.9" fill="#f0b850" fill-opacity="0.3"/><circle cx="69.2" cy="436" r="1.9" fill="#f0b850" fill-opacity="0.3"/><circle cx="64.6" cy="440.2" r="1.9" fill="#f0b850" fill-opacity="0.3"/><circle cx="68.8" cy="442.4" r="1.9" fill="#f0b850" fill-opacity="0.3"/><circle cx="65.5" cy="447.5" r="1.9" fill="#f0b850" fill-opacity="0.3"/><circle cx="59.9" cy="460.6" r="1.9" fill="#f0b850" fill-opacity="0.3"/><circle cx="125" cy="372.9" r="1.9" fill="#f0b850" fill-opacity="0.3"/><circle cx="125.2" cy="377.9" r="1.9" fill="#8a60b0" fill-opacity="0.3"/><circle cx="133.1" cy="377.9" r="1.9" fill="#90d060" fill-opacity="0.3"/><circle cx="138.5" cy="372" r="1.9" fill="#90d060" fill-opacity="0.3"/><circle cx="138.8" cy="381" r="1.9" fill="#90d060" fill-opacity="0.3"/><circle cx="141.9" cy="374.1" r="1.9" fill="#90d060" fill-opacity="0.3"/><circle cx="143.1" cy="372.9" r="1.9" fill="#90d060" fill-opacity="0.3"/><circle cx="146.9" cy="374.8" r="1.9" fill="#90d060" fill-opacity="0.3"/><circle cx="148.1" cy="373.5" r="1.9" fill="#90d060" fill-opacity="0.3"/><circle cx="148.8" cy="376.6" r="1.9" fill="#90d060" fill-opacity="0.3"/><circle cx="153.0" cy="376.9" r="1.9" fill="#90d060" fill-opacity="0.3"/><circle cx="154.3" cy="376.6" r="1.9" fill="#90d060" fill-opacity="0.3"/><circle cx="155.7" cy="377.5" r="1.9" fill="#90d060" fill-opacity="0.3"/><circle cx="157.0" cy="376.4" r="1.9" fill="#90d060" fill-opacity="0.3"/><circle cx="158.3" cy="377.3" r="1.9" fill="#90d060" fill-opacity="0.3"/><circle cx="159.7" cy="377.0" r="1.9" fill="#90d060" fill-opacity="0.3"/><circle cx="161.0" cy="376.4" r="1.9" fill="#90d060" fill-opacity="0.3"/><circle cx="162.3" cy="377.2" r="1.9" fill="#90d060" fill-opacity="0.3"/><circle cx="163.6" cy="376.4" r="1.9" fill="#90d060" fill-opacity="0.3"/><circle cx="165.0" cy="377.1" r="1.9" fill="#90d060" fill-opacity="0.3"/><circle cx="166.3" cy="376.4" r="1.9" fill="#90d060" fill-opacity="0.3"/><circle cx="167.6" cy="376.5" r="1.9" fill="#90d060" fill-opacity="0.3"/><circle cx="169.0" cy="377.1" r="1.9" fill="#90d060" fill-opacity="0.3"/><circle cx="170.3" cy="377.8" r="1.9" fill="#90d060" fill-opacity="0.3"/><circle cx="171.6" cy="376.5" r="1.9" fill="#90d060" fill-opacity="0.3"/><circle cx="172.9" cy="376.7" r="1.9" fill="#90d060" fill-opacity="0.3"/><circle cx="174.3" cy="377.4" r="1.9" fill="#90d060" fill-opacity="0.3"/><circle cx="175.6" cy="378.0" r="1.9" fill="#90d060" fill-opacity="0.3"/><circle cx="176.9" cy="377.3" r="1.9" fill="#90d060" fill-opacity="0.3"/><circle cx="178.3" cy="377.0" r="1.9" fill="#90d060" fill-opacity="0.3"/><circle cx="179.6" cy="378.1" r="1.9" fill="#90d060" fill-opacity="0.3"/><circle cx="180.9" cy="376.4" r="1.9" fill="#90d060" fill-opacity="0.3"/><circle cx="61.2" cy="339.3" r="1.25" fill="#2e1848"/><circle cx="68.9" cy="343.8" r="1.25" fill="#2e1848"/><circle cx="60.7" cy="347.4" r="1.25" fill="#2e1848"/><circle cx="63.1" cy="346.5" r="1.25" fill="#2e1848"/><circle cx="60.7" cy="349.8" r="1.25" fill="#2e1848"/><circle cx="67.5" cy="347.9" r="1.25" fill="#2e1848"/><circle cx="68.4" cy="348.9" r="1.25" fill="#2e1848"/><circle cx="77.6" cy="350.6" r="1.25" fill="#2e1848"/><circle cx="69.9" cy="351.3" r="1.25" fill="#2e1848"/><circle cx="62.2" cy="353.2" r="1.25" fill="#2e1848"/><circle cx="63.6" cy="354" r="1.25" fill="#2e1848"/><circle cx="71.3" cy="353.7" r="1.25" fill="#2e1848"/><circle cx="59.3" cy="357.5" r="1.25" fill="#2e1848"/><circle cx="67.5" cy="357" r="1.25" fill="#2e1848"/><circle cx="71.8" cy="357" r="1.25" fill="#2e1848"/><circle cx="72.8" cy="358.5" r="1.25" fill="#2e1848"/><circle cx="73.7" cy="360" r="1.25" fill="#2e1848"/><circle cx="74.7" cy="360.9" r="1.25" fill="#2e1848"/><circle cx="79.5" cy="359.4" r="1.25" fill="#2e1848"/><circle cx="81.4" cy="360.4" r="1.25" fill="#c88e30"/><circle cx="66" cy="360.4" r="1.25" fill="#2e1848"/><circle cx="69.4" cy="359.4" r="1.25" fill="#2e1848"/><circle cx="61.7" cy="362.8" r="1.25" fill="#2e1848"/><circle cx="68.4" cy="363.3" r="1.25" fill="#2e1848"/><circle cx="71.8" cy="364.3" r="1.25" fill="#2e1848"/><circle cx="75.6" cy="364.3" r="1.25" fill="#2e1848"/><circle cx="76.6" cy="365.2" r="1.25" fill="#2e1848"/><circle cx="75.6" cy="367.1" r="1.25" fill="#2e1848"/><circle cx="61.2" cy="367.1" r="1.25" fill="#2e1848"/><circle cx="64.1" cy="372" r="1.25" fill="#2e1848"/><circle cx="65.1" cy="373.4" r="1.25" fill="#2e1848"/><circle cx="66" cy="375.3" r="1.25" fill="#2e1848"/><circle cx="71.3" cy="374.3" r="1.25" fill="#2e1848"/><circle cx="71.3" cy="376.3" r="1.25" fill="#2e1848"/><circle cx="77.1" cy="372.9" r="1.25" fill="#2e1848"/><circle cx="76.6" cy="376.3" r="1.25" fill="#2e1848"/><circle cx="77.6" cy="378.2" r="1.25" fill="#2e1848"/><circle cx="59.8" cy="377.3" r="1.25" fill="#c88e30"/><circle cx="64.1" cy="377.7" r="1.25" fill="#2e1848"/><circle cx="68.9" cy="379.2" r="1.25" fill="#2e1848"/><circle cx="82.8" cy="378.5" r="1.25" fill="#c88e30"/><circle cx="88.1" cy="374.8" r="1.25" fill="#c88e30"/><circle cx="89.6" cy="374.1" r="1.25" fill="#c88e30"/><circle cx="87.7" cy="378.2" r="1.25" fill="#2e1848"/><circle cx="97.8" cy="375.8" r="1.25" fill="#2e1848"/><circle cx="80" cy="381.6" r="1.25" fill="#c88e30"/><circle cx="92.5" cy="383" r="1.25" fill="#c88e30"/><circle cx="100.2" cy="382" r="1.25" fill="#2e1848"/><circle cx="74.7" cy="381.1" r="1.25" fill="#2e1848"/><circle cx="71.8" cy="383" r="1.25" fill="#c88e30"/><circle cx="73.2" cy="383.5" r="1.25" fill="#2e1848"/><circle cx="74.7" cy="384" r="1.25" fill="#c88e30"/><circle cx="70.8" cy="384.5" r="1.25" fill="#2e1848"/><circle cx="73.7" cy="385.9" r="1.25" fill="#2e1848"/><circle cx="69.4" cy="386.9" r="1.25" fill="#c88e30"/><circle cx="70.3" cy="387.3" r="1.25" fill="#c88e30"/><circle cx="60.3" cy="385.4" r="1.25" fill="#2e1848"/><circle cx="61.2" cy="390.7" r="1.25" fill="#c88e30"/><circle cx="62.2" cy="391.7" r="1.25" fill="#c88e30"/><circle cx="64.1" cy="394.1" r="1.25" fill="#c88e30"/><circle cx="66.5" cy="394.6" r="1.25" fill="#c88e30"/><circle cx="77.1" cy="392.6" r="1.25" fill="#2e1848"/><circle cx="78.5" cy="396" r="1.25" fill="#c88e30"/><circle cx="87.2" cy="403.5" r="1.25" fill="#c88e30"/><circle cx="72.8" cy="408" r="1.25" fill="#c88e30"/><circle cx="74.8" cy="420.5" r="1.25" fill="#c88e30"/><circle cx="65.2" cy="428.2" r="1.25" fill="#c88e30"/><circle cx="69.2" cy="431.8" r="1.25" fill="#c88e30"/><circle cx="69.2" cy="436" r="1.25" fill="#c88e30"/><circle cx="64.6" cy="440.2" r="1.25" fill="#c88e30"/><circle cx="68.8" cy="442.4" r="1.25" fill="#c88e30"/><circle cx="65.5" cy="447.5" r="1.25" fill="#c88e30"/><circle cx="59.9" cy="460.6" r="1.25" fill="#c88e30"/><circle cx="125" cy="372.9" r="1.25" fill="#c88e30"/><circle cx="125.2" cy="377.9" r="1.25" fill="#2e1848"/><circle cx="133.1" cy="377.9" r="1.25" fill="#4f9234"/><circle cx="138.5" cy="372" r="1.25" fill="#4f9234"/><circle cx="138.8" cy="381" r="1.25" fill="#4f9234"/><circle cx="141.9" cy="374.1" r="1.25" fill="#4f9234"/><circle cx="143.1" cy="372.9" r="1.25" fill="#4f9234"/><circle cx="146.9" cy="374.8" r="1.25" fill="#4f9234"/><circle cx="148.1" cy="373.5" r="1.25" fill="#4f9234"/><circle cx="148.8" cy="376.6" r="1.25" fill="#4f9234"/><circle cx="153.0" cy="376.9" r="1.25" fill="#4f9234"/><circle cx="154.3" cy="376.6" r="1.25" fill="#4f9234"/><circle cx="155.7" cy="377.5" r="1.25" fill="#4f9234"/><circle cx="157.0" cy="376.4" r="1.25" fill="#4f9234"/><circle cx="158.3" cy="377.3" r="1.25" fill="#4f9234"/><circle cx="159.7" cy="377.0" r="1.25" fill="#4f9234"/><circle cx="161.0" cy="376.4" r="1.25" fill="#4f9234"/><circle cx="162.3" cy="377.2" r="1.25" fill="#4f9234"/><circle cx="163.6" cy="376.4" r="1.25" fill="#4f9234"/><circle cx="165.0" cy="377.1" r="1.25" fill="#4f9234"/><circle cx="166.3" cy="376.4" r="1.25" fill="#4f9234"/><circle cx="167.6" cy="376.5" r="1.25" fill="#4f9234"/><circle cx="169.0" cy="377.1" r="1.25" fill="#4f9234"/><circle cx="170.3" cy="377.8" r="1.25" fill="#4f9234"/><circle cx="171.6" cy="376.5" r="1.25" fill="#4f9234"/><circle cx="172.9" cy="376.7" r="1.25" fill="#4f9234"/><circle cx="174.3" cy="377.4" r="1.25" fill="#4f9234"/><circle cx="175.6" cy="378.0" r="1.25" fill="#4f9234"/><circle cx="176.9" cy="377.3" r="1.25" fill="#4f9234"/><circle cx="178.3" cy="377.0" r="1.25" fill="#4f9234"/><circle cx="179.6" cy="378.1" r="1.25" fill="#4f9234"/><circle cx="180.9" cy="376.4" r="1.25" fill="#4f9234"/>
<circle cx="143.3" cy="438.3" r="2.9" fill="#d8962a"/>
<text x="149" y="440.90000000000003" font-size="7.3" fill="#333" textLength="28.9" lengthAdjust="spacingAndGlyphs">Cluster 1</text>
<circle cx="143.3" cy="448.7" r="2.9" fill="#3a1c5c"/>
<text x="149" y="451.3" font-size="7.3" fill="#333" textLength="28.9" lengthAdjust="spacingAndGlyphs">Cluster 2</text>
<circle cx="143.3" cy="458.5" r="2.9" fill="#62a03a"/>
<text x="149" y="461.1" font-size="7.3" fill="#333" textLength="28.9" lengthAdjust="spacingAndGlyphs">Cluster 3</text>
<rect x="239" y="181" width="246" height="89.5" fill="#d9d6e0"/>
<rect x="239" y="274.2" width="246" height="89.4" fill="#d9d6e0"/>
<rect x="239" y="367.8" width="246" height="89.1" fill="#d9d6e0"/>
<defs><filter id="hb" x="0" y="0" width="1" height="1"><feGaussianBlur stdDeviation="0.45"/></filter></defs><g filter="url(#hb)">
<path fill="#f0ccc6" d="M239.00 181.00h1.86v5.97h-1.86zM248.32 216.80h1.86v5.97h-1.86zM270.68 252.60h3.73v5.97h-3.73zM347.09 274.20h1.86v5.96h-1.86zM335.91 280.16h1.86v5.96h-1.86zM274.41 292.08h1.86v5.96h-1.86zM313.55 298.04h1.86v5.96h-1.86zM246.45 327.84h1.86v5.96h-1.86zM326.59 339.76h3.73v5.96h-3.73zM335.91 339.76h1.86v5.96h-1.86zM248.32 351.68h1.86v5.96h-1.86zM378.77 357.64h3.73v5.96h-3.73zM414.18 385.62h1.86v5.94h-1.86zM412.32 403.44h1.86v5.94h-1.86zM438.41 415.32h1.86v5.94h-1.86zM434.68 421.26h1.86v5.94h-1.86zM412.32 433.14h1.86v5.94h-1.86zM481.27 445.02h1.86v5.94h-1.86z"/>
<path fill="#dea296" d="M240.86 181.00h1.86v5.97h-1.86zM261.36 181.00h1.86v5.97h-1.86zM255.77 192.93h1.86v5.97h-1.86zM274.41 198.90h1.86v5.97h-1.86zM259.50 204.87h1.86v5.97h-1.86zM270.68 204.87h1.86v5.97h-1.86zM255.77 210.83h5.59v5.97h-5.59zM250.18 216.80h1.86v5.97h-1.86zM257.64 234.70h1.86v5.97h-1.86zM242.73 252.60h1.86v5.97h-1.86zM250.18 252.60h1.86v5.97h-1.86zM257.64 258.57h1.86v5.97h-1.86zM296.77 280.16h1.86v5.96h-1.86zM348.95 286.12h1.86v5.96h-1.86zM300.50 292.08h1.86v5.96h-1.86zM307.95 292.08h1.86v5.96h-1.86zM391.82 292.08h3.73v5.96h-3.73zM309.82 304.00h1.86v5.96h-1.86zM306.09 327.84h1.86v5.96h-1.86zM365.73 345.72h1.86v5.96h-1.86zM442.14 367.80h1.86v5.94h-1.86zM425.36 373.74h1.86v5.94h-1.86zM434.68 373.74h1.86v5.94h-1.86zM470.09 373.74h3.73v5.94h-3.73zM438.41 379.68h1.86v5.94h-1.86zM434.68 385.62h1.86v5.94h-1.86zM457.05 385.62h1.86v5.94h-1.86zM481.27 385.62h1.86v5.94h-1.86zM464.50 415.32h1.86v5.94h-1.86zM425.36 427.20h1.86v5.94h-1.86zM462.64 433.14h1.86v5.94h-1.86zM423.50 445.02h1.86v5.94h-1.86zM455.18 445.02h1.86v5.94h-1.86zM470.09 450.96h1.86v5.94h-1.86z"/>
<path fill="#e4b4a8" d="M242.73 181.00h1.86v5.97h-1.86zM268.82 181.00h3.73v5.97h-3.73zM244.59 186.97h1.86v5.97h-1.86zM253.91 192.93h1.86v5.97h-1.86zM257.64 198.90h1.86v5.97h-1.86zM266.95 198.90h1.86v5.97h-1.86zM272.55 216.80h1.86v5.97h-1.86zM255.77 228.73h1.86v5.97h-1.86zM270.68 228.73h1.86v5.97h-1.86zM240.86 234.70h1.86v5.97h-1.86zM252.05 234.70h1.86v5.97h-1.86zM270.68 234.70h1.86v5.97h-1.86zM268.82 240.67h1.86v5.97h-1.86zM253.91 246.63h1.86v5.97h-1.86zM403.00 246.63h1.86v5.97h-1.86zM246.45 252.60h1.86v5.97h-1.86zM263.23 264.53h1.86v5.97h-1.86zM347.09 280.16h1.86v5.96h-1.86zM386.23 286.12h1.86v5.96h-1.86zM403.00 286.12h1.86v5.96h-1.86zM315.41 292.08h1.86v5.96h-1.86zM326.59 292.08h1.86v5.96h-1.86zM298.64 304.00h3.73v5.96h-3.73zM313.55 304.00h1.86v5.96h-1.86zM337.77 304.00h3.73v5.96h-3.73zM304.23 309.96h1.86v5.96h-1.86zM293.05 321.88h1.86v5.96h-1.86zM298.64 321.88h1.86v5.96h-1.86zM296.77 333.80h1.86v5.96h-1.86zM252.05 339.76h1.86v5.96h-1.86zM317.27 339.76h3.73v5.96h-3.73zM298.64 345.72h1.86v5.96h-1.86zM252.05 351.68h1.86v5.96h-1.86zM265.09 351.68h3.73v5.96h-3.73zM356.41 351.68h1.86v5.96h-1.86zM403.00 351.68h1.86v5.96h-1.86zM451.45 367.80h1.86v5.94h-1.86zM460.77 367.80h1.86v5.94h-1.86zM466.36 367.80h1.86v5.94h-1.86zM481.27 367.80h3.73v5.94h-3.73zM479.41 373.74h1.86v5.94h-1.86zM425.36 379.68h1.86v5.94h-1.86zM460.77 379.68h1.86v5.94h-1.86zM417.91 385.62h1.86v5.94h-1.86zM466.36 385.62h1.86v5.94h-1.86zM449.59 391.56h1.86v5.94h-1.86zM471.95 397.50h1.86v5.94h-1.86zM414.18 403.44h1.86v5.94h-1.86zM468.23 409.38h3.73v5.94h-3.73zM410.45 415.32h1.86v5.94h-1.86zM429.09 415.32h1.86v5.94h-1.86zM432.82 415.32h3.73v5.94h-3.73zM462.64 415.32h1.86v5.94h-1.86zM483.14 415.32h1.86v5.94h-1.86zM432.82 421.26h1.86v5.94h-1.86zM445.86 421.26h1.86v5.94h-1.86zM451.45 421.26h1.86v5.94h-1.86zM458.91 421.26h1.86v5.94h-1.86zM464.50 421.26h5.59v5.94h-5.59zM483.14 421.26h1.86v5.94h-1.86zM429.09 427.20h1.86v5.94h-1.86zM442.14 433.14h1.86v5.94h-1.86zM445.86 433.14h1.86v5.94h-1.86zM425.36 439.08h1.86v5.94h-1.86zM429.09 439.08h1.86v5.94h-1.86zM455.18 439.08h1.86v5.94h-1.86zM447.73 445.02h1.86v5.94h-1.86zM460.77 445.02h1.86v5.94h-1.86zM475.68 445.02h1.86v5.94h-1.86zM479.41 445.02h1.86v5.94h-1.86zM442.14 450.96h1.86v5.94h-1.86zM457.05 450.96h1.86v5.94h-1.86z"/>
<path fill="#f0f0f0" d="M244.59 181.00h3.73v5.97h-3.73zM281.86 181.00h3.73v5.97h-3.73zM294.91 181.00h3.73v5.97h-3.73zM300.50 181.00h1.86v5.97h-1.86zM304.23 181.00h3.73v5.97h-3.73zM319.14 181.00h1.86v5.97h-1.86zM324.73 181.00h1.86v5.97h-1.86zM339.64 181.00h3.73v5.97h-3.73zM371.32 181.00h1.86v5.97h-1.86zM384.36 181.00h1.86v5.97h-1.86zM397.41 181.00h1.86v5.97h-1.86zM414.18 181.00h1.86v5.97h-1.86zM445.86 181.00h1.86v5.97h-1.86zM252.05 186.97h1.86v5.97h-1.86zM263.23 186.97h1.86v5.97h-1.86zM291.18 186.97h1.86v5.97h-1.86zM296.77 186.97h1.86v5.97h-1.86zM332.18 186.97h3.73v5.97h-3.73zM399.27 186.97h1.86v5.97h-1.86zM263.23 192.93h1.86v5.97h-1.86zM289.32 192.93h1.86v5.97h-1.86zM304.23 192.93h1.86v5.97h-1.86zM317.27 192.93h1.86v5.97h-1.86zM321.00 192.93h1.86v5.97h-1.86zM339.64 192.93h3.73v5.97h-3.73zM345.23 192.93h5.59v5.97h-5.59zM354.55 192.93h1.86v5.97h-1.86zM380.64 192.93h1.86v5.97h-1.86zM408.59 192.93h1.86v5.97h-1.86zM455.18 192.93h1.86v5.97h-1.86zM276.27 198.90h1.86v5.97h-1.86zM285.59 198.90h3.73v5.97h-3.73zM306.09 198.90h3.73v5.97h-3.73zM334.05 198.90h1.86v5.97h-1.86zM345.23 198.90h1.86v5.97h-1.86zM354.55 198.90h1.86v5.97h-1.86zM371.32 198.90h3.73v5.97h-3.73zM378.77 198.90h1.86v5.97h-1.86zM253.91 204.87h3.73v5.97h-3.73zM287.45 204.87h1.86v5.97h-1.86zM326.59 204.87h1.86v5.97h-1.86zM345.23 204.87h1.86v5.97h-1.86zM399.27 204.87h1.86v5.97h-1.86zM287.45 210.83h1.86v5.97h-1.86zM326.59 210.83h3.73v5.97h-3.73zM360.14 210.83h1.86v5.97h-1.86zM283.73 216.80h1.86v5.97h-1.86zM287.45 216.80h1.86v5.97h-1.86zM291.18 216.80h1.86v5.97h-1.86zM306.09 216.80h1.86v5.97h-1.86zM309.82 216.80h3.73v5.97h-3.73zM322.86 216.80h1.86v5.97h-1.86zM328.45 216.80h1.86v5.97h-1.86zM334.05 216.80h1.86v5.97h-1.86zM382.50 216.80h1.86v5.97h-1.86zM386.23 216.80h1.86v5.97h-1.86zM393.68 216.80h1.86v5.97h-1.86zM268.82 222.77h1.86v5.97h-1.86zM276.27 222.77h1.86v5.97h-1.86zM280.00 222.77h3.73v5.97h-3.73zM294.91 222.77h1.86v5.97h-1.86zM302.36 222.77h1.86v5.97h-1.86zM326.59 222.77h1.86v5.97h-1.86zM354.55 222.77h1.86v5.97h-1.86zM362.00 222.77h1.86v5.97h-1.86zM382.50 222.77h1.86v5.97h-1.86zM389.95 222.77h1.86v5.97h-1.86zM393.68 222.77h3.73v5.97h-3.73zM475.68 222.77h1.86v5.97h-1.86zM300.50 228.73h3.73v5.97h-3.73zM334.05 228.73h1.86v5.97h-1.86zM362.00 228.73h1.86v5.97h-1.86zM373.18 228.73h1.86v5.97h-1.86zM438.41 228.73h1.86v5.97h-1.86zM451.45 228.73h1.86v5.97h-1.86zM255.77 234.70h1.86v5.97h-1.86zM283.73 234.70h1.86v5.97h-1.86zM287.45 234.70h1.86v5.97h-1.86zM291.18 234.70h1.86v5.97h-1.86zM326.59 234.70h1.86v5.97h-1.86zM330.32 234.70h1.86v5.97h-1.86zM363.86 234.70h1.86v5.97h-1.86zM395.55 234.70h1.86v5.97h-1.86zM399.27 234.70h5.59v5.97h-5.59zM259.50 240.67h3.73v5.97h-3.73zM285.59 240.67h7.45v5.97h-7.45zM313.55 240.67h1.86v5.97h-1.86zM326.59 240.67h1.86v5.97h-1.86zM371.32 240.67h1.86v5.97h-1.86zM417.91 240.67h1.86v5.97h-1.86zM464.50 240.67h1.86v5.97h-1.86zM470.09 240.67h1.86v5.97h-1.86zM239.00 246.63h1.86v5.97h-1.86zM278.14 246.63h3.73v5.97h-3.73zM294.91 246.63h1.86v5.97h-1.86zM304.23 246.63h1.86v5.97h-1.86zM343.36 246.63h1.86v5.97h-1.86zM373.18 246.63h1.86v5.97h-1.86zM378.77 246.63h1.86v5.97h-1.86zM382.50 246.63h1.86v5.97h-1.86zM386.23 246.63h3.73v5.97h-3.73zM429.09 246.63h1.86v5.97h-1.86zM444.00 246.63h1.86v5.97h-1.86zM449.59 246.63h1.86v5.97h-1.86zM458.91 246.63h1.86v5.97h-1.86zM475.68 246.63h3.73v5.97h-3.73zM268.82 252.60h1.86v5.97h-1.86zM302.36 252.60h1.86v5.97h-1.86zM337.77 252.60h1.86v5.97h-1.86zM341.50 252.60h1.86v5.97h-1.86zM365.73 252.60h3.73v5.97h-3.73zM373.18 252.60h1.86v5.97h-1.86zM404.86 252.60h3.73v5.97h-3.73zM416.05 252.60h3.73v5.97h-3.73zM455.18 252.60h1.86v5.97h-1.86zM347.09 258.57h1.86v5.97h-1.86zM350.82 258.57h1.86v5.97h-1.86zM389.95 258.57h1.86v5.97h-1.86zM401.14 258.57h1.86v5.97h-1.86zM242.73 264.53h3.73v5.97h-3.73zM261.36 264.53h1.86v5.97h-1.86zM276.27 264.53h5.59v5.97h-5.59zM307.95 264.53h1.86v5.97h-1.86zM321.00 264.53h1.86v5.97h-1.86zM332.18 264.53h3.73v5.97h-3.73zM341.50 264.53h1.86v5.97h-1.86zM356.41 264.53h1.86v5.97h-1.86zM386.23 264.53h1.86v5.97h-1.86zM460.77 264.53h1.86v5.97h-1.86zM272.55 274.20h1.86v5.96h-1.86zM285.59 274.20h1.86v5.96h-1.86zM296.77 274.20h1.86v5.96h-1.86zM343.36 274.20h1.86v5.96h-1.86zM352.68 274.20h1.86v5.96h-1.86zM242.73 280.16h1.86v5.96h-1.86zM252.05 280.16h1.86v5.96h-1.86zM265.09 280.16h1.86v5.96h-1.86zM280.00 280.16h1.86v5.96h-1.86zM293.05 280.16h1.86v5.96h-1.86zM319.14 280.16h1.86v5.96h-1.86zM322.86 280.16h1.86v5.96h-1.86zM328.45 280.16h1.86v5.96h-1.86zM334.05 280.16h1.86v5.96h-1.86zM339.64 280.16h1.86v5.96h-1.86zM343.36 280.16h3.73v5.96h-3.73zM365.73 280.16h1.86v5.96h-1.86zM389.95 280.16h1.86v5.96h-1.86zM416.05 280.16h1.86v5.96h-1.86zM307.95 286.12h1.86v5.96h-1.86zM311.68 286.12h9.32v5.96h-9.32zM356.41 286.12h1.86v5.96h-1.86zM360.14 286.12h3.73v5.96h-3.73zM399.27 286.12h1.86v5.96h-1.86zM404.86 286.12h1.86v5.96h-1.86zM471.95 286.12h3.73v5.96h-3.73zM265.09 292.08h1.86v5.96h-1.86zM313.55 292.08h1.86v5.96h-1.86zM321.00 292.08h1.86v5.96h-1.86zM330.32 292.08h1.86v5.96h-1.86zM367.59 292.08h1.86v5.96h-1.86zM375.05 292.08h1.86v5.96h-1.86zM434.68 292.08h1.86v5.96h-1.86zM281.86 298.04h1.86v5.96h-1.86zM289.32 298.04h1.86v5.96h-1.86zM322.86 298.04h1.86v5.96h-1.86zM345.23 298.04h1.86v5.96h-1.86zM369.45 298.04h1.86v5.96h-1.86zM403.00 298.04h1.86v5.96h-1.86zM414.18 298.04h1.86v5.96h-1.86zM425.36 298.04h1.86v5.96h-1.86zM442.14 298.04h1.86v5.96h-1.86zM445.86 298.04h3.73v5.96h-3.73zM451.45 298.04h1.86v5.96h-1.86zM455.18 298.04h1.86v5.96h-1.86zM319.14 304.00h1.86v5.96h-1.86zM468.23 304.00h1.86v5.96h-1.86zM481.27 304.00h1.86v5.96h-1.86zM261.36 309.96h1.86v5.96h-1.86zM321.00 309.96h1.86v5.96h-1.86zM363.86 309.96h3.73v5.96h-3.73zM268.82 315.92h1.86v5.96h-1.86zM332.18 315.92h1.86v5.96h-1.86zM401.14 315.92h1.86v5.96h-1.86zM466.36 315.92h1.86v5.96h-1.86zM253.91 321.88h1.86v5.96h-1.86zM257.64 321.88h1.86v5.96h-1.86zM263.23 321.88h1.86v5.96h-1.86zM278.14 321.88h1.86v5.96h-1.86zM287.45 321.88h1.86v5.96h-1.86zM315.41 321.88h1.86v5.96h-1.86zM345.23 321.88h1.86v5.96h-1.86zM350.82 321.88h1.86v5.96h-1.86zM239.00 327.84h3.73v5.96h-3.73zM248.32 327.84h1.86v5.96h-1.86zM341.50 327.84h3.73v5.96h-3.73zM356.41 327.84h1.86v5.96h-1.86zM382.50 327.84h1.86v5.96h-1.86zM397.41 327.84h1.86v5.96h-1.86zM403.00 327.84h1.86v5.96h-1.86zM412.32 327.84h1.86v5.96h-1.86zM432.82 327.84h1.86v5.96h-1.86zM438.41 327.84h1.86v5.96h-1.86zM240.86 333.80h1.86v5.96h-1.86zM266.95 333.80h1.86v5.96h-1.86zM300.50 333.80h3.73v5.96h-3.73zM309.82 333.80h3.73v5.96h-3.73zM343.36 333.80h1.86v5.96h-1.86zM386.23 333.80h3.73v5.96h-3.73zM255.77 339.76h1.86v5.96h-1.86zM311.68 339.76h1.86v5.96h-1.86zM321.00 339.76h1.86v5.96h-1.86zM334.05 339.76h1.86v5.96h-1.86zM345.23 339.76h1.86v5.96h-1.86zM360.14 339.76h1.86v5.96h-1.86zM367.59 339.76h1.86v5.96h-1.86zM239.00 345.72h1.86v5.96h-1.86zM252.05 345.72h3.73v5.96h-3.73zM281.86 345.72h1.86v5.96h-1.86zM348.95 345.72h1.86v5.96h-1.86zM386.23 345.72h1.86v5.96h-1.86zM393.68 345.72h3.73v5.96h-3.73zM403.00 345.72h1.86v5.96h-1.86zM416.05 345.72h1.86v5.96h-1.86zM457.05 345.72h3.73v5.96h-3.73zM475.68 345.72h1.86v5.96h-1.86zM239.00 351.68h1.86v5.96h-1.86zM263.23 351.68h1.86v5.96h-1.86zM309.82 351.68h1.86v5.96h-1.86zM315.41 351.68h1.86v5.96h-1.86zM326.59 351.68h1.86v5.96h-1.86zM347.09 351.68h1.86v5.96h-1.86zM352.68 351.68h1.86v5.96h-1.86zM375.05 351.68h1.86v5.96h-1.86zM380.64 351.68h1.86v5.96h-1.86zM397.41 351.68h1.86v5.96h-1.86zM481.27 351.68h1.86v5.96h-1.86zM306.09 357.64h3.73v5.96h-3.73zM356.41 357.64h1.86v5.96h-1.86zM376.91 357.64h1.86v5.96h-1.86zM382.50 357.64h3.73v5.96h-3.73zM289.32 367.80h1.86v5.94h-1.86zM326.59 367.80h1.86v5.94h-1.86zM362.00 367.80h1.86v5.94h-1.86zM445.86 367.80h1.86v5.94h-1.86zM479.41 367.80h1.86v5.94h-1.86zM427.23 373.74h5.59v5.94h-5.59zM281.86 379.68h3.73v5.94h-3.73zM449.59 379.68h3.73v5.94h-3.73zM419.77 385.62h3.73v5.94h-3.73zM365.73 391.56h1.86v5.94h-1.86zM421.64 391.56h1.86v5.94h-1.86zM438.41 391.56h1.86v5.94h-1.86zM423.50 397.50h3.73v5.94h-3.73zM432.82 397.50h1.86v5.94h-1.86zM291.18 403.44h1.86v5.94h-1.86zM404.86 403.44h1.86v5.94h-1.86zM410.45 403.44h1.86v5.94h-1.86zM416.05 403.44h1.86v5.94h-1.86zM425.36 403.44h3.73v5.94h-3.73zM362.00 409.38h1.86v5.94h-1.86zM414.18 409.38h1.86v5.94h-1.86zM408.59 415.32h1.86v5.94h-1.86zM434.68 427.20h1.86v5.94h-1.86zM300.50 433.14h1.86v5.94h-1.86zM300.50 439.08h1.86v5.94h-1.86zM389.95 439.08h5.59v5.94h-5.59zM408.59 439.08h1.86v5.94h-1.86zM449.59 439.08h1.86v5.94h-1.86zM375.05 450.96h1.86v5.94h-1.86z"/>
<path fill="#d2847e" d="M248.32 181.00h3.73v5.97h-3.73zM348.95 198.90h3.73v5.97h-3.73zM242.73 204.87h1.86v5.97h-1.86zM253.91 228.73h1.86v5.97h-1.86zM250.18 240.67h1.86v5.97h-1.86zM246.45 258.57h1.86v5.97h-1.86zM468.23 379.68h1.86v5.94h-1.86zM475.68 421.26h1.86v5.94h-1.86zM473.82 433.14h1.86v5.94h-1.86zM481.27 439.08h1.86v5.94h-1.86z"/>
<path fill="#eac0b4" d="M252.05 181.00h1.86v5.97h-1.86zM375.05 204.87h1.86v5.97h-1.86zM257.64 222.77h1.86v5.97h-1.86zM291.18 222.77h1.86v5.97h-1.86zM257.64 252.60h3.73v5.97h-3.73zM281.86 264.53h1.86v5.97h-1.86zM354.55 274.20h3.73v5.96h-3.73zM391.82 280.16h1.86v5.96h-1.86zM347.09 286.12h1.86v5.96h-1.86zM343.36 292.08h1.86v5.96h-1.86zM384.36 292.08h1.86v5.96h-1.86zM386.23 304.00h1.86v5.96h-1.86zM393.68 304.00h1.86v5.96h-1.86zM397.41 333.80h1.86v5.96h-1.86zM287.45 339.76h1.86v5.96h-1.86zM313.55 339.76h1.86v5.96h-1.86zM360.14 345.72h1.86v5.96h-1.86zM293.05 351.68h1.86v5.96h-1.86zM447.73 391.56h1.86v5.94h-1.86zM483.14 391.56h1.86v5.94h-1.86zM457.05 397.50h1.86v5.94h-1.86zM470.09 397.50h1.86v5.94h-1.86zM455.18 403.44h1.86v5.94h-1.86zM471.95 403.44h1.86v5.94h-1.86zM432.82 409.38h1.86v5.94h-1.86zM447.73 421.26h3.73v5.94h-3.73zM451.45 433.14h1.86v5.94h-1.86zM417.91 445.02h1.86v5.94h-1.86zM421.64 445.02h1.86v5.94h-1.86zM430.95 445.02h1.86v5.94h-1.86zM473.82 445.02h1.86v5.94h-1.86zM419.77 450.96h1.86v5.94h-1.86z"/>
<path fill="#f6f0f0" d="M253.91 181.00h3.73v5.97h-3.73zM291.18 181.00h1.86v5.97h-1.86zM332.18 181.00h3.73v5.97h-3.73zM369.45 181.00h1.86v5.97h-1.86zM378.77 181.00h1.86v5.97h-1.86zM410.45 181.00h1.86v5.97h-1.86zM257.64 186.97h1.86v5.97h-1.86zM345.23 186.97h1.86v5.97h-1.86zM384.36 186.97h1.86v5.97h-1.86zM250.18 192.93h1.86v5.97h-1.86zM257.64 192.93h1.86v5.97h-1.86zM315.41 192.93h1.86v5.97h-1.86zM289.32 198.90h1.86v5.97h-1.86zM328.45 198.90h1.86v5.97h-1.86zM332.18 198.90h1.86v5.97h-1.86zM356.41 198.90h1.86v5.97h-1.86zM362.00 198.90h3.73v5.97h-3.73zM369.45 198.90h1.86v5.97h-1.86zM393.68 198.90h1.86v5.97h-1.86zM412.32 198.90h1.86v5.97h-1.86zM313.55 204.87h1.86v5.97h-1.86zM347.09 204.87h1.86v5.97h-1.86zM360.14 204.87h1.86v5.97h-1.86zM445.86 204.87h1.86v5.97h-1.86zM281.86 210.83h3.73v5.97h-3.73zM291.18 210.83h1.86v5.97h-1.86zM315.41 210.83h3.73v5.97h-3.73zM324.73 210.83h1.86v5.97h-1.86zM356.41 210.83h1.86v5.97h-1.86zM261.36 216.80h1.86v5.97h-1.86zM281.86 216.80h1.86v5.97h-1.86zM294.91 216.80h1.86v5.97h-1.86zM369.45 216.80h3.73v5.97h-3.73zM375.05 216.80h1.86v5.97h-1.86zM483.14 216.80h1.86v5.97h-1.86zM244.59 222.77h1.86v5.97h-1.86zM259.50 222.77h1.86v5.97h-1.86zM263.23 222.77h1.86v5.97h-1.86zM332.18 222.77h1.86v5.97h-1.86zM403.00 222.77h1.86v5.97h-1.86zM464.50 222.77h1.86v5.97h-1.86zM296.77 228.73h3.73v5.97h-3.73zM304.23 228.73h1.86v5.97h-1.86zM345.23 228.73h1.86v5.97h-1.86zM371.32 228.73h1.86v5.97h-1.86zM386.23 228.73h1.86v5.97h-1.86zM416.05 228.73h1.86v5.97h-1.86zM242.73 240.67h1.86v5.97h-1.86zM266.95 240.67h1.86v5.97h-1.86zM278.14 240.67h1.86v5.97h-1.86zM311.68 240.67h1.86v5.97h-1.86zM317.27 240.67h1.86v5.97h-1.86zM397.41 240.67h1.86v5.97h-1.86zM481.27 240.67h1.86v5.97h-1.86zM289.32 246.63h3.73v5.97h-3.73zM313.55 246.63h1.86v5.97h-1.86zM321.00 246.63h1.86v5.97h-1.86zM376.91 246.63h1.86v5.97h-1.86zM430.95 246.63h5.59v5.97h-5.59zM460.77 246.63h1.86v5.97h-1.86zM265.09 252.60h1.86v5.97h-1.86zM285.59 252.60h1.86v5.97h-1.86zM328.45 252.60h1.86v5.97h-1.86zM332.18 252.60h1.86v5.97h-1.86zM410.45 252.60h1.86v5.97h-1.86zM425.36 252.60h1.86v5.97h-1.86zM429.09 252.60h1.86v5.97h-1.86zM434.68 252.60h1.86v5.97h-1.86zM244.59 258.57h1.86v5.97h-1.86zM266.95 258.57h1.86v5.97h-1.86zM309.82 258.57h1.86v5.97h-1.86zM391.82 258.57h3.73v5.97h-3.73zM266.95 264.53h5.59v5.97h-5.59zM317.27 264.53h1.86v5.97h-1.86zM326.59 264.53h1.86v5.97h-1.86zM253.91 274.20h1.86v5.96h-1.86zM266.95 274.20h3.73v5.96h-3.73zM360.14 274.20h3.73v5.96h-3.73zM375.05 274.20h1.86v5.96h-1.86zM427.23 274.20h1.86v5.96h-1.86zM263.23 280.16h1.86v5.96h-1.86zM285.59 280.16h1.86v5.96h-1.86zM289.32 280.16h1.86v5.96h-1.86zM313.55 280.16h1.86v5.96h-1.86zM324.73 280.16h3.73v5.96h-3.73zM332.18 280.16h1.86v5.96h-1.86zM354.55 280.16h3.73v5.96h-3.73zM401.14 280.16h1.86v5.96h-1.86zM447.73 286.12h1.86v5.96h-1.86zM348.95 292.08h1.86v5.96h-1.86zM352.68 292.08h1.86v5.96h-1.86zM378.77 292.08h3.73v5.96h-3.73zM246.45 298.04h1.86v5.96h-1.86zM348.95 298.04h3.73v5.96h-3.73zM460.77 298.04h1.86v5.96h-1.86zM291.18 304.00h1.86v5.96h-1.86zM307.95 304.00h1.86v5.96h-1.86zM352.68 304.00h5.59v5.96h-5.59zM380.64 304.00h1.86v5.96h-1.86zM389.95 304.00h1.86v5.96h-1.86zM399.27 304.00h1.86v5.96h-1.86zM419.77 304.00h1.86v5.96h-1.86zM434.68 304.00h1.86v5.96h-1.86zM255.77 309.96h1.86v5.96h-1.86zM281.86 309.96h1.86v5.96h-1.86zM315.41 309.96h1.86v5.96h-1.86zM326.59 309.96h1.86v5.96h-1.86zM444.00 309.96h3.73v5.96h-3.73zM296.77 315.92h3.73v5.96h-3.73zM317.27 315.92h1.86v5.96h-1.86zM369.45 315.92h1.86v5.96h-1.86zM408.59 315.92h1.86v5.96h-1.86zM417.91 315.92h3.73v5.96h-3.73zM250.18 321.88h1.86v5.96h-1.86zM294.91 321.88h1.86v5.96h-1.86zM302.36 321.88h1.86v5.96h-1.86zM352.68 321.88h1.86v5.96h-1.86zM371.32 321.88h1.86v5.96h-1.86zM391.82 321.88h1.86v5.96h-1.86zM410.45 321.88h1.86v5.96h-1.86zM414.18 321.88h1.86v5.96h-1.86zM261.36 327.84h1.86v5.96h-1.86zM304.23 327.84h1.86v5.96h-1.86zM376.91 327.84h1.86v5.96h-1.86zM380.64 327.84h1.86v5.96h-1.86zM268.82 333.80h1.86v5.96h-1.86zM294.91 333.80h1.86v5.96h-1.86zM321.00 333.80h5.59v5.96h-5.59zM337.77 333.80h1.86v5.96h-1.86zM369.45 333.80h1.86v5.96h-1.86zM389.95 333.80h3.73v5.96h-3.73zM429.09 333.80h1.86v5.96h-1.86zM270.68 339.76h1.86v5.96h-1.86zM348.95 339.76h5.59v5.96h-5.59zM378.77 339.76h3.73v5.96h-3.73zM384.36 339.76h1.86v5.96h-1.86zM345.23 345.72h1.86v5.96h-1.86zM352.68 345.72h1.86v5.96h-1.86zM406.73 345.72h3.73v5.96h-3.73zM453.32 345.72h3.73v5.96h-3.73zM278.14 351.68h1.86v5.96h-1.86zM306.09 351.68h1.86v5.96h-1.86zM328.45 351.68h3.73v5.96h-3.73zM343.36 351.68h1.86v5.96h-1.86zM371.32 351.68h1.86v5.96h-1.86zM246.45 357.64h1.86v5.96h-1.86zM276.27 357.64h1.86v5.96h-1.86zM287.45 357.64h1.86v5.96h-1.86zM350.82 357.64h1.86v5.96h-1.86zM365.73 357.64h1.86v5.96h-1.86zM371.32 357.64h1.86v5.96h-1.86zM395.55 357.64h1.86v5.96h-1.86zM436.55 367.80h1.86v5.94h-1.86zM455.18 367.80h1.86v5.94h-1.86zM414.18 379.68h3.73v5.94h-3.73zM421.64 379.68h1.86v5.94h-1.86zM444.00 379.68h1.86v5.94h-1.86zM408.59 391.56h3.73v5.94h-3.73zM419.77 391.56h1.86v5.94h-1.86zM423.50 391.56h1.86v5.94h-1.86zM436.55 391.56h1.86v5.94h-1.86zM462.64 391.56h1.86v5.94h-1.86zM464.50 397.50h1.86v5.94h-1.86zM438.41 403.44h3.73v5.94h-3.73zM466.36 409.38h1.86v5.94h-1.86zM417.91 427.20h1.86v5.94h-1.86zM436.55 427.20h1.86v5.94h-1.86zM462.64 427.20h1.86v5.94h-1.86zM436.55 433.14h1.86v5.94h-1.86zM458.91 433.14h3.73v5.94h-3.73zM419.77 445.02h1.86v5.94h-1.86z"/>
<path fill="#eaccc6" d="M257.64 181.00h3.73v5.97h-3.73zM255.77 186.97h1.86v5.97h-1.86zM259.50 186.97h1.86v5.97h-1.86zM272.55 192.93h1.86v5.97h-1.86zM421.64 246.63h1.86v5.97h-1.86zM453.32 252.60h1.86v5.97h-1.86zM367.59 286.12h1.86v5.96h-1.86zM239.00 292.08h1.86v5.96h-1.86zM397.41 292.08h1.86v5.96h-1.86zM311.68 298.04h1.86v5.96h-1.86zM268.82 309.96h3.73v5.96h-3.73zM291.18 309.96h1.86v5.96h-1.86zM337.77 315.92h1.86v5.96h-1.86zM384.36 321.88h1.86v5.96h-1.86zM345.23 327.84h1.86v5.96h-1.86zM315.41 333.80h1.86v5.96h-1.86zM376.91 333.80h1.86v5.96h-1.86zM296.77 339.76h1.86v5.96h-1.86zM334.05 345.72h3.73v5.96h-3.73zM373.18 345.72h1.86v5.96h-1.86zM389.95 345.72h1.86v5.96h-1.86zM348.95 357.64h1.86v5.96h-1.86zM410.45 397.50h1.86v5.94h-1.86zM421.64 415.32h3.73v5.94h-3.73zM451.45 427.20h3.73v5.94h-3.73zM434.68 439.08h1.86v5.94h-1.86zM425.36 450.96h1.86v5.94h-1.86z"/>
<path fill="#f0e4d8" d="M263.23 181.00h1.86v5.97h-1.86zM335.91 198.90h1.86v5.97h-1.86zM246.45 228.73h1.86v5.97h-1.86zM388.09 240.67h1.86v5.97h-1.86zM274.41 252.60h1.86v5.97h-1.86zM419.77 252.60h1.86v5.97h-1.86zM471.95 252.60h1.86v5.97h-1.86zM389.95 264.53h1.86v5.97h-1.86zM307.95 274.20h1.86v5.96h-1.86zM386.23 274.20h1.86v5.96h-1.86zM393.68 280.16h1.86v5.96h-1.86zM309.82 286.12h1.86v5.96h-1.86zM322.86 286.12h1.86v5.96h-1.86zM389.95 292.08h1.86v5.96h-1.86zM315.41 304.00h1.86v5.96h-1.86zM404.86 385.62h1.86v5.94h-1.86zM416.05 409.38h1.86v5.94h-1.86zM412.32 421.26h3.73v5.94h-3.73zM440.27 427.20h1.86v5.94h-1.86z"/>
<path fill="#f0d2cc" d="M265.09 181.00h1.86v5.97h-1.86zM326.59 192.93h1.86v5.97h-1.86zM274.41 210.83h1.86v5.97h-1.86zM272.55 222.77h1.86v5.97h-1.86zM259.50 228.73h7.45v5.97h-7.45zM382.50 240.67h3.73v5.97h-3.73zM248.32 246.63h1.86v5.97h-1.86zM371.32 264.53h1.86v5.97h-1.86zM334.05 274.20h1.86v5.96h-1.86zM363.86 274.20h1.86v5.96h-1.86zM358.27 280.16h5.59v5.96h-5.59zM332.18 286.12h1.86v5.96h-1.86zM337.77 286.12h1.86v5.96h-1.86zM401.14 286.12h1.86v5.96h-1.86zM298.64 292.08h1.86v5.96h-1.86zM339.64 298.04h1.86v5.96h-1.86zM380.64 298.04h1.86v5.96h-1.86zM261.36 304.00h1.86v5.96h-1.86zM334.05 304.00h1.86v5.96h-1.86zM371.32 304.00h1.86v5.96h-1.86zM337.77 309.96h1.86v5.96h-1.86zM362.00 309.96h1.86v5.96h-1.86zM375.05 309.96h3.73v5.96h-3.73zM319.14 315.92h1.86v5.96h-1.86zM375.05 315.92h3.73v5.96h-3.73zM341.50 321.88h1.86v5.96h-1.86zM326.59 327.84h1.86v5.96h-1.86zM337.77 327.84h1.86v5.96h-1.86zM246.45 333.80h1.86v5.96h-1.86zM384.36 333.80h1.86v5.96h-1.86zM309.82 345.72h1.86v5.96h-1.86zM380.64 345.72h3.73v5.96h-3.73zM244.59 351.68h1.86v5.96h-1.86zM294.91 351.68h1.86v5.96h-1.86zM334.05 351.68h1.86v5.96h-1.86zM294.91 357.64h1.86v5.96h-1.86zM375.05 357.64h1.86v5.96h-1.86zM393.68 357.64h1.86v5.96h-1.86zM414.18 367.80h3.73v5.94h-3.73zM416.05 385.62h1.86v5.94h-1.86zM479.41 391.56h1.86v5.94h-1.86zM412.32 397.50h1.86v5.94h-1.86zM451.45 403.44h1.86v5.94h-1.86zM421.64 409.38h1.86v5.94h-1.86zM462.64 421.26h1.86v5.94h-1.86zM414.18 445.02h1.86v5.94h-1.86z"/>
<path fill="#b44248" d="M266.95 181.00h1.86v5.97h-1.86zM246.45 246.63h1.86v5.97h-1.86z"/>
<path fill="#d89c90" d="M272.55 181.00h1.86v5.97h-1.86zM386.23 186.97h1.86v5.97h-1.86zM239.00 192.93h1.86v5.97h-1.86zM242.73 198.90h1.86v5.97h-1.86zM244.59 204.87h1.86v5.97h-1.86zM253.91 216.80h1.86v5.97h-1.86zM239.00 222.77h1.86v5.97h-1.86zM255.77 222.77h1.86v5.97h-1.86zM384.36 222.77h1.86v5.97h-1.86zM239.00 228.73h1.86v5.97h-1.86zM259.50 234.70h1.86v5.97h-1.86zM239.00 240.67h1.86v5.97h-1.86zM244.59 240.67h3.73v5.97h-3.73zM240.86 252.60h1.86v5.97h-1.86zM373.18 280.16h1.86v5.96h-1.86zM311.68 292.08h1.86v5.96h-1.86zM328.45 292.08h1.86v5.96h-1.86zM337.77 292.08h3.73v5.96h-3.73zM367.59 309.96h1.86v5.96h-1.86zM384.36 315.92h7.45v5.96h-7.45zM386.23 327.84h3.73v5.96h-3.73zM341.50 333.80h1.86v5.96h-1.86zM358.27 351.68h1.86v5.96h-1.86zM462.64 373.74h1.86v5.94h-1.86zM466.36 373.74h3.73v5.94h-3.73zM483.14 385.62h1.86v5.94h-1.86zM475.68 391.56h1.86v5.94h-1.86zM417.91 409.38h1.86v5.94h-1.86zM449.59 409.38h1.86v5.94h-1.86zM481.27 415.32h1.86v5.94h-1.86zM457.05 433.14h1.86v5.94h-1.86zM471.95 433.14h1.86v5.94h-1.86zM471.95 445.02h1.86v5.94h-1.86z"/>
<path fill="#cc7872" d="M274.41 181.00h3.73v5.97h-3.73zM244.59 192.93h1.86v5.97h-1.86zM328.45 192.93h1.86v5.97h-1.86zM248.32 222.77h1.86v5.97h-1.86zM449.59 397.50h1.86v5.94h-1.86zM436.55 409.38h1.86v5.94h-1.86zM481.27 409.38h1.86v5.94h-1.86z"/>
<path fill="#d2d8ea" d="M278.14 181.00h1.86v5.97h-1.86zM328.45 181.00h1.86v5.97h-1.86zM365.73 181.00h1.86v5.97h-1.86zM403.00 181.00h1.86v5.97h-1.86zM281.86 186.97h3.73v5.97h-3.73zM360.14 198.90h1.86v5.97h-1.86zM425.36 198.90h1.86v5.97h-1.86zM300.50 204.87h1.86v5.97h-1.86zM339.64 204.87h1.86v5.97h-1.86zM335.91 210.83h5.59v5.97h-5.59zM347.09 210.83h1.86v5.97h-1.86zM296.77 216.80h1.86v5.97h-1.86zM307.95 216.80h1.86v5.97h-1.86zM315.41 216.80h3.73v5.97h-3.73zM337.77 216.80h1.86v5.97h-1.86zM445.86 216.80h1.86v5.97h-1.86zM453.32 216.80h1.86v5.97h-1.86zM343.36 222.77h1.86v5.97h-1.86zM375.05 222.77h1.86v5.97h-1.86zM408.59 222.77h1.86v5.97h-1.86zM419.77 222.77h1.86v5.97h-1.86zM425.36 222.77h1.86v5.97h-1.86zM481.27 222.77h1.86v5.97h-1.86zM363.86 228.73h1.86v5.97h-1.86zM444.00 228.73h1.86v5.97h-1.86zM294.91 234.70h3.73v5.97h-3.73zM410.45 234.70h1.86v5.97h-1.86zM421.64 234.70h1.86v5.97h-1.86zM436.55 234.70h3.73v5.97h-3.73zM475.68 234.70h5.59v5.97h-5.59zM294.91 240.67h3.73v5.97h-3.73zM335.91 240.67h1.86v5.97h-1.86zM399.27 240.67h1.86v5.97h-1.86zM283.73 246.63h1.86v5.97h-1.86zM360.14 246.63h1.86v5.97h-1.86zM462.64 246.63h1.86v5.97h-1.86zM276.27 252.60h1.86v5.97h-1.86zM322.86 252.60h1.86v5.97h-1.86zM356.41 252.60h1.86v5.97h-1.86zM360.14 252.60h1.86v5.97h-1.86zM375.05 252.60h3.73v5.97h-3.73zM401.14 252.60h3.73v5.97h-3.73zM440.27 252.60h1.86v5.97h-1.86zM319.14 258.57h1.86v5.97h-1.86zM330.32 258.57h1.86v5.97h-1.86zM341.50 258.57h1.86v5.97h-1.86zM371.32 258.57h3.73v5.97h-3.73zM388.09 258.57h1.86v5.97h-1.86zM395.55 258.57h1.86v5.97h-1.86zM423.50 258.57h1.86v5.97h-1.86zM430.95 258.57h1.86v5.97h-1.86zM434.68 258.57h1.86v5.97h-1.86zM440.27 258.57h1.86v5.97h-1.86zM300.50 264.53h5.59v5.97h-5.59zM330.32 264.53h1.86v5.97h-1.86zM343.36 264.53h1.86v5.97h-1.86zM373.18 264.53h1.86v5.97h-1.86zM380.64 264.53h1.86v5.97h-1.86zM391.82 264.53h1.86v5.97h-1.86zM263.23 274.20h1.86v5.96h-1.86zM244.59 280.16h1.86v5.96h-1.86zM479.41 280.16h1.86v5.96h-1.86zM434.68 286.12h1.86v5.96h-1.86zM460.77 286.12h1.86v5.96h-1.86zM281.86 292.08h3.73v5.96h-3.73zM276.27 298.04h3.73v5.96h-3.73zM250.18 304.00h1.86v5.96h-1.86zM429.09 309.96h1.86v5.96h-1.86zM324.73 321.88h1.86v5.96h-1.86zM393.68 321.88h3.73v5.96h-3.73zM453.32 321.88h1.86v5.96h-1.86zM458.91 321.88h1.86v5.96h-1.86zM455.18 333.80h1.86v5.96h-1.86zM473.82 333.80h1.86v5.96h-1.86zM250.18 339.76h1.86v5.96h-1.86zM302.36 339.76h1.86v5.96h-1.86zM261.36 345.72h1.86v5.96h-1.86zM324.73 345.72h1.86v5.96h-1.86zM255.77 351.68h1.86v5.96h-1.86zM272.55 351.68h1.86v5.96h-1.86zM432.82 351.68h3.73v5.96h-3.73zM263.23 357.64h1.86v5.96h-1.86zM268.82 357.64h3.73v5.96h-3.73zM406.73 397.50h3.73v5.94h-3.73zM283.73 433.14h1.86v5.94h-1.86zM296.77 433.14h1.86v5.94h-1.86zM307.95 433.14h1.86v5.94h-1.86zM369.45 433.14h1.86v5.94h-1.86zM382.50 433.14h1.86v5.94h-1.86zM395.55 433.14h1.86v5.94h-1.86zM363.86 439.08h1.86v5.94h-1.86z"/>
<path fill="#d8deea" d="M280.00 181.00h1.86v5.97h-1.86zM430.95 181.00h1.86v5.97h-1.86zM287.45 192.93h1.86v5.97h-1.86zM414.18 198.90h1.86v5.97h-1.86zM421.64 198.90h1.86v5.97h-1.86zM447.73 198.90h3.73v5.97h-3.73zM479.41 198.90h1.86v5.97h-1.86zM483.14 198.90h1.86v5.97h-1.86zM313.55 210.83h1.86v5.97h-1.86zM330.32 216.80h1.86v5.97h-1.86zM347.09 216.80h1.86v5.97h-1.86zM365.73 216.80h1.86v5.97h-1.86zM436.55 222.77h1.86v5.97h-1.86zM477.55 222.77h1.86v5.97h-1.86zM352.68 228.73h1.86v5.97h-1.86zM388.09 228.73h1.86v5.97h-1.86zM412.32 228.73h1.86v5.97h-1.86zM417.91 228.73h3.73v5.97h-3.73zM427.23 228.73h1.86v5.97h-1.86zM298.64 234.70h1.86v5.97h-1.86zM324.73 234.70h1.86v5.97h-1.86zM382.50 234.70h1.86v5.97h-1.86zM406.73 234.70h1.86v5.97h-1.86zM416.05 234.70h1.86v5.97h-1.86zM451.45 234.70h1.86v5.97h-1.86zM458.91 234.70h1.86v5.97h-1.86zM406.73 240.67h3.73v5.97h-3.73zM414.18 240.67h1.86v5.97h-1.86zM440.27 240.67h1.86v5.97h-1.86zM380.64 258.57h1.86v5.97h-1.86zM287.45 264.53h1.86v5.97h-1.86zM252.05 274.20h1.86v5.96h-1.86zM388.09 274.20h1.86v5.96h-1.86zM294.91 280.16h1.86v5.96h-1.86zM285.59 292.08h1.86v5.96h-1.86zM268.82 304.00h1.86v5.96h-1.86zM335.91 309.96h1.86v5.96h-1.86zM250.18 327.84h1.86v5.96h-1.86zM257.64 345.72h3.73v5.96h-3.73zM285.59 345.72h1.86v5.96h-1.86zM246.45 351.68h1.86v5.96h-1.86zM287.45 351.68h1.86v5.96h-1.86zM354.55 351.68h1.86v5.96h-1.86zM406.73 427.20h1.86v5.94h-1.86zM412.32 427.20h1.86v5.94h-1.86zM408.59 433.14h3.73v5.94h-3.73zM406.73 450.96h1.86v5.94h-1.86z"/>
<path fill="#f6f0ea" d="M285.59 181.00h5.59v5.97h-5.59zM416.05 181.00h1.86v5.97h-1.86zM276.27 186.97h3.73v5.97h-3.73zM356.41 186.97h3.73v5.97h-3.73zM313.55 192.93h1.86v5.97h-1.86zM386.23 192.93h1.86v5.97h-1.86zM403.00 192.93h1.86v5.97h-1.86zM302.36 198.90h1.86v5.97h-1.86zM347.09 198.90h1.86v5.97h-1.86zM354.55 204.87h1.86v5.97h-1.86zM470.09 204.87h1.86v5.97h-1.86zM268.82 216.80h1.86v5.97h-1.86zM362.00 216.80h1.86v5.97h-1.86zM367.59 216.80h1.86v5.97h-1.86zM378.77 216.80h1.86v5.97h-1.86zM253.91 222.77h1.86v5.97h-1.86zM311.68 222.77h7.45v5.97h-7.45zM337.77 222.77h1.86v5.97h-1.86zM350.82 222.77h1.86v5.97h-1.86zM248.32 228.73h3.73v5.97h-3.73zM343.36 228.73h1.86v5.97h-1.86zM280.00 234.70h1.86v5.97h-1.86zM307.95 234.70h1.86v5.97h-1.86zM343.36 234.70h1.86v5.97h-1.86zM281.86 240.67h1.86v5.97h-1.86zM321.00 240.67h1.86v5.97h-1.86zM365.73 240.67h1.86v5.97h-1.86zM425.36 240.67h3.73v5.97h-3.73zM471.95 240.67h3.73v5.97h-3.73zM261.36 246.63h3.73v5.97h-3.73zM263.23 258.57h1.86v5.97h-1.86zM317.27 258.57h1.86v5.97h-1.86zM360.14 258.57h1.86v5.97h-1.86zM382.50 258.57h1.86v5.97h-1.86zM419.77 258.57h1.86v5.97h-1.86zM319.14 264.53h1.86v5.97h-1.86zM298.64 274.20h1.86v5.96h-1.86zM313.55 274.20h1.86v5.96h-1.86zM321.00 274.20h1.86v5.96h-1.86zM350.82 274.20h1.86v5.96h-1.86zM358.27 274.20h1.86v5.96h-1.86zM378.77 274.20h1.86v5.96h-1.86zM436.55 274.20h1.86v5.96h-1.86zM382.50 280.16h1.86v5.96h-1.86zM330.32 286.12h1.86v5.96h-1.86zM345.23 286.12h1.86v5.96h-1.86zM280.00 292.08h1.86v5.96h-1.86zM341.50 292.08h1.86v5.96h-1.86zM307.95 298.04h1.86v5.96h-1.86zM341.50 298.04h1.86v5.96h-1.86zM399.27 298.04h1.86v5.96h-1.86zM330.32 304.00h3.73v5.96h-3.73zM363.86 304.00h3.73v5.96h-3.73zM384.36 304.00h1.86v5.96h-1.86zM388.09 304.00h1.86v5.96h-1.86zM401.14 304.00h1.86v5.96h-1.86zM285.59 309.96h1.86v5.96h-1.86zM309.82 309.96h1.86v5.96h-1.86zM242.73 315.92h1.86v5.96h-1.86zM313.55 315.92h1.86v5.96h-1.86zM354.55 315.92h1.86v5.96h-1.86zM358.27 315.92h1.86v5.96h-1.86zM447.73 315.92h1.86v5.96h-1.86zM458.91 315.92h1.86v5.96h-1.86zM477.55 315.92h3.73v5.96h-3.73zM296.77 321.88h1.86v5.96h-1.86zM268.82 327.84h1.86v5.96h-1.86zM321.00 327.84h1.86v5.96h-1.86zM313.55 333.80h1.86v5.96h-1.86zM309.82 339.76h1.86v5.96h-1.86zM369.45 339.76h1.86v5.96h-1.86zM306.09 345.72h1.86v5.96h-1.86zM356.41 345.72h1.86v5.96h-1.86zM283.73 351.68h1.86v5.96h-1.86zM386.23 351.68h1.86v5.96h-1.86zM438.41 351.68h1.86v5.96h-1.86zM326.59 357.64h1.86v5.96h-1.86zM337.77 357.64h1.86v5.96h-1.86zM358.27 357.64h3.73v5.96h-3.73zM423.50 357.64h1.86v5.96h-1.86zM410.45 373.74h3.73v5.94h-3.73zM447.73 379.68h1.86v5.94h-1.86zM419.77 397.50h3.73v5.94h-3.73zM440.27 397.50h1.86v5.94h-1.86zM483.14 397.50h1.86v5.94h-1.86zM421.64 403.44h1.86v5.94h-1.86zM449.59 403.44h1.86v5.94h-1.86zM477.55 415.32h1.86v5.94h-1.86zM438.41 421.26h1.86v5.94h-1.86zM410.45 427.20h1.86v5.94h-1.86zM445.86 427.20h5.59v5.94h-5.59zM419.77 439.08h1.86v5.94h-1.86z"/>
<path fill="#eaeaf0" d="M293.05 181.00h1.86v5.97h-1.86zM317.27 181.00h1.86v5.97h-1.86zM322.86 181.00h1.86v5.97h-1.86zM326.59 181.00h1.86v5.97h-1.86zM330.32 181.00h1.86v5.97h-1.86zM348.95 181.00h3.73v5.97h-3.73zM363.86 181.00h1.86v5.97h-1.86zM389.95 181.00h3.73v5.97h-3.73zM395.55 181.00h1.86v5.97h-1.86zM401.14 181.00h1.86v5.97h-1.86zM421.64 181.00h1.86v5.97h-1.86zM455.18 181.00h3.73v5.97h-3.73zM470.09 181.00h1.86v5.97h-1.86zM280.00 186.97h1.86v5.97h-1.86zM293.05 186.97h1.86v5.97h-1.86zM259.50 192.93h1.86v5.97h-1.86zM280.00 192.93h1.86v5.97h-1.86zM324.73 192.93h1.86v5.97h-1.86zM330.32 192.93h1.86v5.97h-1.86zM343.36 192.93h1.86v5.97h-1.86zM414.18 192.93h3.73v5.97h-3.73zM423.50 192.93h1.86v5.97h-1.86zM430.95 192.93h1.86v5.97h-1.86zM438.41 192.93h3.73v5.97h-3.73zM451.45 192.93h3.73v5.97h-3.73zM457.05 192.93h1.86v5.97h-1.86zM464.50 192.93h1.86v5.97h-1.86zM470.09 192.93h1.86v5.97h-1.86zM475.68 192.93h1.86v5.97h-1.86zM479.41 192.93h5.59v5.97h-5.59zM291.18 198.90h1.86v5.97h-1.86zM313.55 198.90h1.86v5.97h-1.86zM343.36 198.90h1.86v5.97h-1.86zM382.50 198.90h1.86v5.97h-1.86zM388.09 198.90h1.86v5.97h-1.86zM250.18 204.87h1.86v5.97h-1.86zM263.23 204.87h1.86v5.97h-1.86zM276.27 204.87h5.59v5.97h-5.59zM296.77 204.87h1.86v5.97h-1.86zM293.05 210.83h1.86v5.97h-1.86zM401.14 210.83h1.86v5.97h-1.86zM326.59 216.80h1.86v5.97h-1.86zM339.64 216.80h1.86v5.97h-1.86zM449.59 216.80h1.86v5.97h-1.86zM423.50 222.77h1.86v5.97h-1.86zM326.59 228.73h1.86v5.97h-1.86zM330.32 228.73h3.73v5.97h-3.73zM395.55 228.73h1.86v5.97h-1.86zM410.45 228.73h1.86v5.97h-1.86zM429.09 228.73h1.86v5.97h-1.86zM464.50 228.73h1.86v5.97h-1.86zM250.18 234.70h1.86v5.97h-1.86zM261.36 234.70h1.86v5.97h-1.86zM334.05 234.70h1.86v5.97h-1.86zM347.09 234.70h3.73v5.97h-3.73zM365.73 234.70h3.73v5.97h-3.73zM386.23 234.70h1.86v5.97h-1.86zM280.00 240.67h1.86v5.97h-1.86zM259.50 246.63h1.86v5.97h-1.86zM266.95 246.63h1.86v5.97h-1.86zM272.55 246.63h1.86v5.97h-1.86zM276.27 246.63h1.86v5.97h-1.86zM293.05 246.63h1.86v5.97h-1.86zM335.91 246.63h1.86v5.97h-1.86zM348.95 246.63h1.86v5.97h-1.86zM414.18 246.63h1.86v5.97h-1.86zM468.23 246.63h1.86v5.97h-1.86zM483.14 246.63h1.86v5.97h-1.86zM266.95 252.60h1.86v5.97h-1.86zM280.00 252.60h1.86v5.97h-1.86zM293.05 252.60h1.86v5.97h-1.86zM298.64 252.60h1.86v5.97h-1.86zM317.27 252.60h1.86v5.97h-1.86zM347.09 252.60h1.86v5.97h-1.86zM358.27 252.60h1.86v5.97h-1.86zM412.32 252.60h1.86v5.97h-1.86zM432.82 252.60h1.86v5.97h-1.86zM442.14 252.60h1.86v5.97h-1.86zM466.36 252.60h1.86v5.97h-1.86zM306.09 258.57h3.73v5.97h-3.73zM324.73 264.53h1.86v5.97h-1.86zM348.95 264.53h1.86v5.97h-1.86zM403.00 264.53h1.86v5.97h-1.86zM240.86 274.20h1.86v5.96h-1.86zM291.18 274.20h1.86v5.96h-1.86zM326.59 274.20h1.86v5.96h-1.86zM274.41 280.16h1.86v5.96h-1.86zM291.18 280.16h1.86v5.96h-1.86zM378.77 280.16h1.86v5.96h-1.86zM266.95 286.12h1.86v5.96h-1.86zM289.32 286.12h1.86v5.96h-1.86zM300.50 286.12h1.86v5.96h-1.86zM371.32 286.12h3.73v5.96h-3.73zM250.18 292.08h1.86v5.96h-1.86zM362.00 292.08h3.73v5.96h-3.73zM386.23 292.08h1.86v5.96h-1.86zM287.45 298.04h1.86v5.96h-1.86zM334.05 298.04h1.86v5.96h-1.86zM406.73 298.04h3.73v5.96h-3.73zM427.23 298.04h1.86v5.96h-1.86zM471.95 298.04h5.59v5.96h-5.59zM481.27 298.04h1.86v5.96h-1.86zM253.91 304.00h1.86v5.96h-1.86zM274.41 309.96h1.86v5.96h-1.86zM287.45 315.92h1.86v5.96h-1.86zM343.36 315.92h1.86v5.96h-1.86zM362.00 315.92h1.86v5.96h-1.86zM365.73 315.92h1.86v5.96h-1.86zM393.68 315.92h1.86v5.96h-1.86zM416.05 315.92h1.86v5.96h-1.86zM457.05 315.92h1.86v5.96h-1.86zM252.05 321.88h1.86v5.96h-1.86zM280.00 321.88h1.86v5.96h-1.86zM317.27 327.84h1.86v5.96h-1.86zM304.23 333.80h5.59v5.96h-5.59zM375.05 339.76h3.73v5.96h-3.73zM419.77 339.76h1.86v5.96h-1.86zM248.32 345.72h1.86v5.96h-1.86zM263.23 345.72h1.86v5.96h-1.86zM304.23 345.72h1.86v5.96h-1.86zM311.68 345.72h1.86v5.96h-1.86zM337.77 345.72h1.86v5.96h-1.86zM367.59 345.72h1.86v5.96h-1.86zM285.59 351.68h1.86v5.96h-1.86zM337.77 351.68h1.86v5.96h-1.86zM278.14 357.64h3.73v5.96h-3.73zM289.32 357.64h1.86v5.96h-1.86zM328.45 357.64h3.73v5.96h-3.73zM388.09 357.64h3.73v5.96h-3.73zM337.77 379.68h1.86v5.94h-1.86zM406.73 385.62h1.86v5.94h-1.86zM432.82 385.62h1.86v5.94h-1.86zM239.00 391.56h1.86v5.94h-1.86zM278.14 391.56h3.73v5.94h-3.73zM425.36 391.56h1.86v5.94h-1.86zM253.91 397.50h1.86v5.94h-1.86zM257.64 397.50h1.86v5.94h-1.86zM322.86 397.50h1.86v5.94h-1.86zM403.00 403.44h1.86v5.94h-1.86zM306.09 415.32h1.86v5.94h-1.86zM408.59 427.20h1.86v5.94h-1.86zM376.91 433.14h1.86v5.94h-1.86zM276.27 439.08h1.86v5.94h-1.86zM406.73 439.08h1.86v5.94h-1.86zM421.64 439.08h1.86v5.94h-1.86zM307.95 445.02h1.86v5.94h-1.86z"/>
<path fill="#d89084" d="M298.64 181.00h1.86v5.97h-1.86zM307.95 181.00h1.86v5.97h-1.86zM252.05 192.93h1.86v5.97h-1.86zM266.95 192.93h1.86v5.97h-1.86zM244.59 210.83h1.86v5.97h-1.86zM240.86 222.77h1.86v5.97h-1.86zM265.09 222.77h1.86v5.97h-1.86zM248.32 234.70h1.86v5.97h-1.86zM334.05 252.60h1.86v5.97h-1.86zM239.00 258.57h1.86v5.97h-1.86zM365.73 258.57h1.86v5.97h-1.86zM239.00 264.53h1.86v5.97h-1.86zM348.95 327.84h3.73v5.96h-3.73zM419.77 373.74h3.73v5.94h-3.73zM483.14 373.74h1.86v5.94h-1.86zM462.64 379.68h1.86v5.94h-1.86zM458.91 385.62h1.86v5.94h-1.86zM429.09 391.56h1.86v5.94h-1.86zM470.09 391.56h1.86v5.94h-1.86zM481.27 397.50h1.86v5.94h-1.86zM432.82 403.44h1.86v5.94h-1.86zM444.00 403.44h1.86v5.94h-1.86zM460.77 427.20h1.86v5.94h-1.86zM475.68 433.14h1.86v5.94h-1.86zM442.14 445.02h3.73v5.94h-3.73zM473.82 450.96h1.86v5.94h-1.86z"/>
<path fill="#e4e4f0" d="M302.36 181.00h1.86v5.97h-1.86zM313.55 181.00h1.86v5.97h-1.86zM352.68 181.00h1.86v5.97h-1.86zM356.41 181.00h1.86v5.97h-1.86zM412.32 181.00h1.86v5.97h-1.86zM417.91 181.00h3.73v5.97h-3.73zM429.09 181.00h1.86v5.97h-1.86zM432.82 181.00h7.45v5.97h-7.45zM449.59 181.00h3.73v5.97h-3.73zM458.91 181.00h7.45v5.97h-7.45zM473.82 181.00h3.73v5.97h-3.73zM298.64 186.97h5.59v5.97h-5.59zM283.73 192.93h1.86v5.97h-1.86zM298.64 192.93h3.73v5.97h-3.73zM362.00 192.93h5.59v5.97h-5.59zM375.05 192.93h1.86v5.97h-1.86zM410.45 192.93h3.73v5.97h-3.73zM417.91 192.93h1.86v5.97h-1.86zM421.64 192.93h1.86v5.97h-1.86zM425.36 192.93h1.86v5.97h-1.86zM432.82 192.93h5.59v5.97h-5.59zM442.14 192.93h5.59v5.97h-5.59zM449.59 192.93h1.86v5.97h-1.86zM458.91 192.93h5.59v5.97h-5.59zM466.36 192.93h3.73v5.97h-3.73zM471.95 192.93h3.73v5.97h-3.73zM294.91 198.90h1.86v5.97h-1.86zM304.23 198.90h1.86v5.97h-1.86zM315.41 198.90h1.86v5.97h-1.86zM326.59 198.90h1.86v5.97h-1.86zM339.64 198.90h1.86v5.97h-1.86zM352.68 198.90h1.86v5.97h-1.86zM384.36 198.90h3.73v5.97h-3.73zM403.00 198.90h1.86v5.97h-1.86zM406.73 198.90h1.86v5.97h-1.86zM477.55 198.90h1.86v5.97h-1.86zM283.73 204.87h1.86v5.97h-1.86zM369.45 204.87h1.86v5.97h-1.86zM319.14 210.83h3.73v5.97h-3.73zM403.00 210.83h1.86v5.97h-1.86zM289.32 216.80h1.86v5.97h-1.86zM302.36 216.80h1.86v5.97h-1.86zM332.18 216.80h1.86v5.97h-1.86zM341.50 216.80h1.86v5.97h-1.86zM356.41 216.80h1.86v5.97h-1.86zM391.82 216.80h1.86v5.97h-1.86zM283.73 222.77h1.86v5.97h-1.86zM307.95 222.77h3.73v5.97h-3.73zM334.05 222.77h3.73v5.97h-3.73zM345.23 222.77h1.86v5.97h-1.86zM365.73 222.77h1.86v5.97h-1.86zM378.77 222.77h1.86v5.97h-1.86zM386.23 222.77h1.86v5.97h-1.86zM391.82 222.77h1.86v5.97h-1.86zM397.41 222.77h3.73v5.97h-3.73zM311.68 228.73h1.86v5.97h-1.86zM341.50 228.73h1.86v5.97h-1.86zM384.36 228.73h1.86v5.97h-1.86zM393.68 228.73h1.86v5.97h-1.86zM403.00 228.73h1.86v5.97h-1.86zM457.05 228.73h3.73v5.97h-3.73zM468.23 228.73h3.73v5.97h-3.73zM477.55 228.73h1.86v5.97h-1.86zM293.05 234.70h1.86v5.97h-1.86zM302.36 234.70h5.59v5.97h-5.59zM322.86 234.70h1.86v5.97h-1.86zM328.45 234.70h1.86v5.97h-1.86zM352.68 234.70h3.73v5.97h-3.73zM397.41 234.70h1.86v5.97h-1.86zM471.95 234.70h1.86v5.97h-1.86zM481.27 234.70h3.73v5.97h-3.73zM332.18 240.67h1.86v5.97h-1.86zM416.05 240.67h1.86v5.97h-1.86zM423.50 240.67h1.86v5.97h-1.86zM410.45 246.63h1.86v5.97h-1.86zM419.77 246.63h1.86v5.97h-1.86zM287.45 252.60h3.73v5.97h-3.73zM294.91 252.60h3.73v5.97h-3.73zM304.23 252.60h1.86v5.97h-1.86zM319.14 252.60h3.73v5.97h-3.73zM391.82 252.60h3.73v5.97h-3.73zM445.86 252.60h5.59v5.97h-5.59zM280.00 258.57h5.59v5.97h-5.59zM337.77 258.57h1.86v5.97h-1.86zM362.00 258.57h3.73v5.97h-3.73zM378.77 258.57h1.86v5.97h-1.86zM404.86 258.57h1.86v5.97h-1.86zM410.45 258.57h1.86v5.97h-1.86zM306.09 264.53h1.86v5.97h-1.86zM376.91 264.53h1.86v5.97h-1.86zM246.45 280.16h1.86v5.96h-1.86zM248.32 286.12h5.59v5.96h-5.59zM393.68 286.12h1.86v5.96h-1.86zM335.91 292.08h1.86v5.96h-1.86zM345.23 292.08h1.86v5.96h-1.86zM458.91 298.04h1.86v5.96h-1.86zM266.95 304.00h1.86v5.96h-1.86zM289.32 304.00h1.86v5.96h-1.86zM259.50 309.96h1.86v5.96h-1.86zM393.68 309.96h3.73v5.96h-3.73zM240.86 315.92h1.86v5.96h-1.86zM321.00 315.92h3.73v5.96h-3.73zM244.59 321.88h3.73v5.96h-3.73zM270.68 321.88h1.86v5.96h-1.86zM367.59 321.88h1.86v5.96h-1.86zM259.50 327.84h1.86v5.96h-1.86zM347.09 327.84h1.86v5.96h-1.86zM242.73 333.80h3.73v5.96h-3.73zM354.55 333.80h1.86v5.96h-1.86zM382.50 333.80h1.86v5.96h-1.86zM253.91 339.76h1.86v5.96h-1.86zM263.23 339.76h1.86v5.96h-1.86zM337.77 339.76h3.73v5.96h-3.73zM300.50 351.68h1.86v5.96h-1.86zM253.91 357.64h1.86v5.96h-1.86zM332.18 357.64h1.86v5.96h-1.86zM339.64 357.64h1.86v5.96h-1.86zM358.27 373.74h3.73v5.94h-3.73zM408.59 385.62h3.73v5.94h-3.73zM332.18 391.56h1.86v5.94h-1.86zM352.68 391.56h1.86v5.94h-1.86zM404.86 397.50h1.86v5.94h-1.86zM321.00 403.44h3.73v5.94h-3.73zM404.86 409.38h1.86v5.94h-1.86zM350.82 421.26h1.86v5.94h-1.86zM345.23 427.20h1.86v5.94h-1.86zM388.09 427.20h1.86v5.94h-1.86zM404.86 427.20h1.86v5.94h-1.86zM270.68 433.14h1.86v5.94h-1.86zM404.86 433.14h1.86v5.94h-1.86zM345.23 439.08h3.73v5.94h-3.73zM423.50 439.08h1.86v5.94h-1.86zM427.23 439.08h1.86v5.94h-1.86zM298.64 445.02h1.86v5.94h-1.86zM306.09 445.02h1.86v5.94h-1.86zM423.50 450.96h1.86v5.94h-1.86z"/>
<path fill="#dedef0" d="M309.82 181.00h3.73v5.97h-3.73zM321.00 181.00h1.86v5.97h-1.86zM354.55 181.00h1.86v5.97h-1.86zM358.27 181.00h1.86v5.97h-1.86zM373.18 181.00h1.86v5.97h-1.86zM399.27 181.00h1.86v5.97h-1.86zM404.86 181.00h5.59v5.97h-5.59zM423.50 181.00h1.86v5.97h-1.86zM440.27 181.00h3.73v5.97h-3.73zM447.73 181.00h1.86v5.97h-1.86zM453.32 181.00h1.86v5.97h-1.86zM466.36 181.00h3.73v5.97h-3.73zM471.95 181.00h1.86v5.97h-1.86zM483.14 181.00h1.86v5.97h-1.86zM268.82 186.97h1.86v5.97h-1.86zM322.86 186.97h1.86v5.97h-1.86zM306.09 192.93h1.86v5.97h-1.86zM332.18 192.93h1.86v5.97h-1.86zM369.45 192.93h1.86v5.97h-1.86zM373.18 192.93h1.86v5.97h-1.86zM378.77 192.93h1.86v5.97h-1.86zM393.68 192.93h1.86v5.97h-1.86zM406.73 192.93h1.86v5.97h-1.86zM419.77 192.93h1.86v5.97h-1.86zM447.73 192.93h1.86v5.97h-1.86zM268.82 198.90h1.86v5.97h-1.86zM293.05 198.90h1.86v5.97h-1.86zM317.27 198.90h7.45v5.97h-7.45zM389.95 198.90h1.86v5.97h-1.86zM395.55 198.90h5.59v5.97h-5.59zM404.86 198.90h1.86v5.97h-1.86zM408.59 198.90h1.86v5.97h-1.86zM416.05 198.90h5.59v5.97h-5.59zM430.95 198.90h9.32v5.97h-9.32zM444.00 198.90h3.73v5.97h-3.73zM455.18 198.90h11.18v5.97h-11.18zM468.23 198.90h5.59v5.97h-5.59zM285.59 204.87h1.86v5.97h-1.86zM350.82 204.87h1.86v5.97h-1.86zM382.50 204.87h1.86v5.97h-1.86zM348.95 210.83h1.86v5.97h-1.86zM399.27 210.83h1.86v5.97h-1.86zM298.64 216.80h3.73v5.97h-3.73zM304.23 216.80h1.86v5.97h-1.86zM345.23 216.80h1.86v5.97h-1.86zM352.68 216.80h3.73v5.97h-3.73zM363.86 216.80h1.86v5.97h-1.86zM330.32 222.77h1.86v5.97h-1.86zM352.68 222.77h1.86v5.97h-1.86zM371.32 222.77h3.73v5.97h-3.73zM410.45 222.77h3.73v5.97h-3.73zM432.82 222.77h3.73v5.97h-3.73zM483.14 222.77h1.86v5.97h-1.86zM322.86 228.73h1.86v5.97h-1.86zM335.91 228.73h1.86v5.97h-1.86zM356.41 228.73h5.59v5.97h-5.59zM406.73 228.73h1.86v5.97h-1.86zM421.64 228.73h3.73v5.97h-3.73zM455.18 228.73h1.86v5.97h-1.86zM483.14 228.73h1.86v5.97h-1.86zM300.50 234.70h1.86v5.97h-1.86zM309.82 234.70h7.45v5.97h-7.45zM335.91 234.70h1.86v5.97h-1.86zM371.32 234.70h1.86v5.97h-1.86zM384.36 234.70h1.86v5.97h-1.86zM429.09 234.70h1.86v5.97h-1.86zM432.82 234.70h1.86v5.97h-1.86zM442.14 234.70h1.86v5.97h-1.86zM460.77 234.70h1.86v5.97h-1.86zM470.09 234.70h1.86v5.97h-1.86zM445.86 240.67h3.73v5.97h-3.73zM468.23 240.67h1.86v5.97h-1.86zM371.32 246.63h1.86v5.97h-1.86zM451.45 246.63h1.86v5.97h-1.86zM455.18 246.63h3.73v5.97h-3.73zM464.50 246.63h1.86v5.97h-1.86zM261.36 252.60h1.86v5.97h-1.86zM306.09 252.60h1.86v5.97h-1.86zM339.64 252.60h1.86v5.97h-1.86zM354.55 252.60h1.86v5.97h-1.86zM369.45 252.60h1.86v5.97h-1.86zM423.50 252.60h1.86v5.97h-1.86zM343.36 258.57h3.73v5.97h-3.73zM354.55 258.57h1.86v5.97h-1.86zM384.36 258.57h1.86v5.97h-1.86zM406.73 258.57h1.86v5.97h-1.86zM453.32 258.57h1.86v5.97h-1.86zM378.77 264.53h1.86v5.97h-1.86zM259.50 274.20h1.86v5.96h-1.86zM268.82 280.16h1.86v5.96h-1.86zM281.86 280.16h3.73v5.96h-3.73zM307.95 280.16h1.86v5.96h-1.86zM341.50 280.16h1.86v5.96h-1.86zM468.23 280.16h5.59v5.96h-5.59zM240.86 286.12h3.73v5.96h-3.73zM365.73 286.12h1.86v5.96h-1.86zM261.36 292.08h1.86v5.96h-1.86zM343.36 298.04h1.86v5.96h-1.86zM389.95 298.04h3.73v5.96h-3.73zM274.41 304.00h1.86v5.96h-1.86zM274.41 315.92h1.86v5.96h-1.86zM360.14 315.92h1.86v5.96h-1.86zM242.73 321.88h1.86v5.96h-1.86zM276.27 321.88h1.86v5.96h-1.86zM376.91 321.88h1.86v5.96h-1.86zM281.86 327.84h1.86v5.96h-1.86zM389.95 327.84h1.86v5.96h-1.86zM332.18 333.80h1.86v5.96h-1.86zM240.86 339.76h1.86v5.96h-1.86zM285.59 339.76h1.86v5.96h-1.86zM242.73 345.72h1.86v5.96h-1.86zM268.82 345.72h1.86v5.96h-1.86zM291.18 345.72h1.86v5.96h-1.86zM375.05 345.72h3.73v5.96h-3.73zM240.86 351.68h1.86v5.96h-1.86zM332.18 351.68h1.86v5.96h-1.86zM406.73 373.74h3.73v5.94h-3.73zM447.73 373.74h3.73v5.94h-3.73zM399.27 385.62h1.86v5.94h-1.86zM404.86 391.56h1.86v5.94h-1.86zM404.86 450.96h1.86v5.94h-1.86z"/>
<path fill="#c0c0de" d="M315.41 181.00h1.86v5.97h-1.86zM347.09 186.97h1.86v5.97h-1.86zM354.55 186.97h1.86v5.97h-1.86zM315.41 204.87h1.86v5.97h-1.86zM356.41 204.87h1.86v5.97h-1.86zM371.32 204.87h3.73v5.97h-3.73zM371.32 210.83h1.86v5.97h-1.86zM388.09 210.83h1.86v5.97h-1.86zM294.91 228.73h1.86v5.97h-1.86zM306.09 240.67h1.86v5.97h-1.86zM287.45 246.63h1.86v5.97h-1.86zM315.41 246.63h1.86v5.97h-1.86zM352.68 246.63h1.86v5.97h-1.86zM352.68 258.57h1.86v5.97h-1.86zM365.73 264.53h1.86v5.97h-1.86zM442.14 280.16h1.86v5.96h-1.86zM453.32 280.16h3.73v5.96h-3.73zM464.50 280.16h1.86v5.96h-1.86zM483.14 280.16h1.86v5.96h-1.86zM298.64 286.12h1.86v5.96h-1.86zM438.41 286.12h1.86v5.96h-1.86zM451.45 286.12h5.59v5.96h-5.59zM268.82 292.08h1.86v5.96h-1.86zM350.82 292.08h1.86v5.96h-1.86zM384.36 298.04h1.86v5.96h-1.86zM257.64 304.00h1.86v5.96h-1.86zM373.18 309.96h1.86v5.96h-1.86zM455.18 309.96h1.86v5.96h-1.86zM462.64 309.96h1.86v5.96h-1.86zM281.86 315.92h1.86v5.96h-1.86zM371.32 315.92h1.86v5.96h-1.86zM330.32 321.88h3.73v5.96h-3.73zM427.23 321.88h1.86v5.96h-1.86zM457.05 321.88h1.86v5.96h-1.86zM276.27 327.84h1.86v5.96h-1.86zM326.59 333.80h1.86v5.96h-1.86zM419.77 333.80h1.86v5.96h-1.86zM440.27 333.80h1.86v5.96h-1.86zM276.27 345.72h1.86v5.96h-1.86zM242.73 357.64h1.86v5.96h-1.86zM414.18 357.64h1.86v5.96h-1.86zM462.64 357.64h1.86v5.96h-1.86zM468.23 357.64h1.86v5.96h-1.86zM475.68 357.64h1.86v5.96h-1.86zM481.27 357.64h1.86v5.96h-1.86zM239.00 367.80h1.86v5.94h-1.86zM263.23 367.80h3.73v5.94h-3.73zM270.68 367.80h1.86v5.94h-1.86zM278.14 367.80h1.86v5.94h-1.86zM281.86 367.80h1.86v5.94h-1.86zM287.45 367.80h1.86v5.94h-1.86zM291.18 367.80h1.86v5.94h-1.86zM309.82 367.80h1.86v5.94h-1.86zM313.55 367.80h5.59v5.94h-5.59zM335.91 367.80h3.73v5.94h-3.73zM341.50 367.80h1.86v5.94h-1.86zM360.14 367.80h1.86v5.94h-1.86zM388.09 367.80h1.86v5.94h-1.86zM397.41 367.80h1.86v5.94h-1.86zM401.14 367.80h3.73v5.94h-3.73zM252.05 373.74h3.73v5.94h-3.73zM270.68 373.74h1.86v5.94h-1.86zM278.14 373.74h1.86v5.94h-1.86zM285.59 373.74h1.86v5.94h-1.86zM294.91 373.74h3.73v5.94h-3.73zM307.95 373.74h1.86v5.94h-1.86zM334.05 373.74h1.86v5.94h-1.86zM339.64 373.74h1.86v5.94h-1.86zM362.00 373.74h3.73v5.94h-3.73zM263.23 385.62h1.86v5.94h-1.86zM281.86 385.62h1.86v5.94h-1.86zM335.91 385.62h1.86v5.94h-1.86zM246.45 391.56h1.86v5.94h-1.86zM289.32 391.56h3.73v5.94h-3.73zM324.73 391.56h3.73v5.94h-3.73zM348.95 391.56h1.86v5.94h-1.86zM356.41 391.56h1.86v5.94h-1.86zM363.86 391.56h1.86v5.94h-1.86zM367.59 391.56h1.86v5.94h-1.86zM376.91 391.56h1.86v5.94h-1.86zM401.14 391.56h1.86v5.94h-1.86zM272.55 397.50h1.86v5.94h-1.86zM296.77 397.50h5.59v5.94h-5.59zM315.41 397.50h1.86v5.94h-1.86zM326.59 397.50h3.73v5.94h-3.73zM332.18 397.50h1.86v5.94h-1.86zM339.64 397.50h1.86v5.94h-1.86zM360.14 397.50h1.86v5.94h-1.86zM389.95 397.50h1.86v5.94h-1.86zM393.68 397.50h3.73v5.94h-3.73zM401.14 397.50h1.86v5.94h-1.86zM242.73 403.44h1.86v5.94h-1.86zM255.77 403.44h1.86v5.94h-1.86zM272.55 403.44h1.86v5.94h-1.86zM294.91 403.44h7.45v5.94h-7.45zM304.23 403.44h1.86v5.94h-1.86zM324.73 403.44h1.86v5.94h-1.86zM393.68 403.44h1.86v5.94h-1.86zM397.41 403.44h1.86v5.94h-1.86zM401.14 403.44h1.86v5.94h-1.86zM244.59 409.38h3.73v5.94h-3.73zM255.77 409.38h1.86v5.94h-1.86zM270.68 409.38h1.86v5.94h-1.86zM307.95 409.38h1.86v5.94h-1.86zM330.32 409.38h1.86v5.94h-1.86zM337.77 409.38h1.86v5.94h-1.86zM343.36 409.38h1.86v5.94h-1.86zM365.73 409.38h1.86v5.94h-1.86zM375.05 409.38h1.86v5.94h-1.86zM399.27 409.38h1.86v5.94h-1.86zM239.00 415.32h7.45v5.94h-7.45zM328.45 415.32h5.59v5.94h-5.59zM335.91 415.32h3.73v5.94h-3.73zM375.05 415.32h1.86v5.94h-1.86zM395.55 415.32h3.73v5.94h-3.73zM268.82 421.26h1.86v5.94h-1.86zM272.55 421.26h1.86v5.94h-1.86zM283.73 421.26h1.86v5.94h-1.86zM315.41 421.26h1.86v5.94h-1.86zM347.09 421.26h1.86v5.94h-1.86zM375.05 421.26h1.86v5.94h-1.86zM384.36 421.26h3.73v5.94h-3.73zM395.55 421.26h1.86v5.94h-1.86zM242.73 427.20h1.86v5.94h-1.86zM263.23 427.20h1.86v5.94h-1.86zM283.73 427.20h3.73v5.94h-3.73zM317.27 427.20h1.86v5.94h-1.86zM347.09 427.20h1.86v5.94h-1.86zM350.82 427.20h1.86v5.94h-1.86zM365.73 427.20h1.86v5.94h-1.86zM265.09 450.96h1.86v5.94h-1.86zM276.27 450.96h1.86v5.94h-1.86zM280.00 450.96h1.86v5.94h-1.86zM291.18 450.96h1.86v5.94h-1.86zM339.64 450.96h3.73v5.94h-3.73zM358.27 450.96h5.59v5.94h-5.59zM393.68 450.96h1.86v5.94h-1.86zM399.27 450.96h1.86v5.94h-1.86z"/>
<path fill="#ccd2e4" d="M335.91 181.00h1.86v5.97h-1.86zM375.05 181.00h3.73v5.97h-3.73zM382.50 181.00h1.86v5.97h-1.86zM276.27 192.93h3.73v5.97h-3.73zM391.82 192.93h1.86v5.97h-1.86zM309.82 198.90h1.86v5.97h-1.86zM330.32 198.90h1.86v5.97h-1.86zM317.27 204.87h1.86v5.97h-1.86zM322.86 204.87h1.86v5.97h-1.86zM389.95 204.87h1.86v5.97h-1.86zM304.23 210.83h1.86v5.97h-1.86zM345.23 210.83h1.86v5.97h-1.86zM313.55 216.80h1.86v5.97h-1.86zM319.14 216.80h1.86v5.97h-1.86zM388.09 216.80h1.86v5.97h-1.86zM408.59 216.80h5.59v5.97h-5.59zM417.91 216.80h1.86v5.97h-1.86zM421.64 216.80h3.73v5.97h-3.73zM436.55 216.80h1.86v5.97h-1.86zM440.27 216.80h1.86v5.97h-1.86zM447.73 216.80h1.86v5.97h-1.86zM455.18 216.80h1.86v5.97h-1.86zM460.77 216.80h1.86v5.97h-1.86zM464.50 216.80h1.86v5.97h-1.86zM468.23 216.80h1.86v5.97h-1.86zM471.95 216.80h1.86v5.97h-1.86zM429.09 222.77h1.86v5.97h-1.86zM440.27 222.77h1.86v5.97h-1.86zM324.73 228.73h1.86v5.97h-1.86zM391.82 228.73h1.86v5.97h-1.86zM447.73 228.73h3.73v5.97h-3.73zM471.95 228.73h3.73v5.97h-3.73zM266.95 234.70h1.86v5.97h-1.86zM317.27 234.70h1.86v5.97h-1.86zM419.77 234.70h1.86v5.97h-1.86zM328.45 240.67h1.86v5.97h-1.86zM421.64 240.67h1.86v5.97h-1.86zM417.91 246.63h1.86v5.97h-1.86zM423.50 246.63h1.86v5.97h-1.86zM335.91 252.60h1.86v5.97h-1.86zM348.95 252.60h1.86v5.97h-1.86zM363.86 252.60h1.86v5.97h-1.86zM395.55 252.60h3.73v5.97h-3.73zM436.55 252.60h3.73v5.97h-3.73zM348.95 258.57h1.86v5.97h-1.86zM425.36 258.57h1.86v5.97h-1.86zM436.55 258.57h3.73v5.97h-3.73zM444.00 258.57h3.73v5.97h-3.73zM470.09 258.57h7.45v5.97h-7.45zM315.41 264.53h1.86v5.97h-1.86zM246.45 274.20h1.86v5.96h-1.86zM248.32 280.16h1.86v5.96h-1.86zM257.64 280.16h1.86v5.96h-1.86zM432.82 280.16h1.86v5.96h-1.86zM445.86 280.16h5.59v5.96h-5.59zM296.77 286.12h1.86v5.96h-1.86zM350.82 286.12h1.86v5.96h-1.86zM391.82 286.12h1.86v5.96h-1.86zM406.73 286.12h1.86v5.96h-1.86zM417.91 286.12h1.86v5.96h-1.86zM427.23 286.12h1.86v5.96h-1.86zM436.55 286.12h1.86v5.96h-1.86zM440.27 286.12h1.86v5.96h-1.86zM444.00 286.12h3.73v5.96h-3.73zM244.59 304.00h1.86v5.96h-1.86zM272.55 304.00h1.86v5.96h-1.86zM347.09 304.00h3.73v5.96h-3.73zM266.95 309.96h1.86v5.96h-1.86zM404.86 309.96h1.86v5.96h-1.86zM410.45 309.96h1.86v5.96h-1.86zM432.82 309.96h1.86v5.96h-1.86zM436.55 309.96h1.86v5.96h-1.86zM248.32 315.92h5.59v5.96h-5.59zM263.23 315.92h1.86v5.96h-1.86zM276.27 315.92h1.86v5.96h-1.86zM315.41 315.92h1.86v5.96h-1.86zM321.00 321.88h1.86v5.96h-1.86zM404.86 321.88h1.86v5.96h-1.86zM416.05 321.88h1.86v5.96h-1.86zM257.64 327.84h1.86v5.96h-1.86zM330.32 327.84h1.86v5.96h-1.86zM358.27 327.84h1.86v5.96h-1.86zM255.77 333.80h1.86v5.96h-1.86zM289.32 333.80h1.86v5.96h-1.86zM406.73 333.80h1.86v5.96h-1.86zM427.23 333.80h1.86v5.96h-1.86zM239.00 339.76h1.86v5.96h-1.86zM272.55 345.72h1.86v5.96h-1.86zM302.36 345.72h1.86v5.96h-1.86zM250.18 351.68h1.86v5.96h-1.86zM253.91 351.68h1.86v5.96h-1.86zM429.09 351.68h3.73v5.96h-3.73zM468.23 351.68h1.86v5.96h-1.86zM261.36 357.64h1.86v5.96h-1.86zM300.50 373.74h1.86v5.94h-1.86zM265.09 385.62h1.86v5.94h-1.86zM272.55 385.62h1.86v5.94h-1.86zM280.00 385.62h1.86v5.94h-1.86zM289.32 385.62h1.86v5.94h-1.86zM307.95 385.62h1.86v5.94h-1.86zM319.14 385.62h1.86v5.94h-1.86zM326.59 385.62h1.86v5.94h-1.86zM341.50 385.62h3.73v5.94h-3.73zM356.41 385.62h1.86v5.94h-1.86zM369.45 385.62h3.73v5.94h-3.73zM313.55 391.56h1.86v5.94h-1.86zM330.32 403.44h1.86v5.94h-1.86zM406.73 403.44h3.73v5.94h-3.73zM451.45 409.38h3.73v5.94h-3.73zM371.32 415.32h1.86v5.94h-1.86zM270.68 421.26h1.86v5.94h-1.86zM300.50 421.26h1.86v5.94h-1.86zM335.91 421.26h1.86v5.94h-1.86zM354.55 421.26h1.86v5.94h-1.86zM358.27 427.20h1.86v5.94h-1.86zM246.45 433.14h1.86v5.94h-1.86zM257.64 433.14h3.73v5.94h-3.73zM272.55 433.14h1.86v5.94h-1.86zM291.18 433.14h1.86v5.94h-1.86zM319.14 433.14h1.86v5.94h-1.86zM326.59 433.14h3.73v5.94h-3.73zM332.18 433.14h1.86v5.94h-1.86zM337.77 433.14h1.86v5.94h-1.86zM341.50 433.14h3.73v5.94h-3.73zM371.32 433.14h3.73v5.94h-3.73zM401.14 433.14h1.86v5.94h-1.86zM240.86 439.08h3.73v5.94h-3.73zM281.86 439.08h1.86v5.94h-1.86zM296.77 439.08h3.73v5.94h-3.73zM341.50 439.08h3.73v5.94h-3.73zM360.14 439.08h1.86v5.94h-1.86zM395.55 439.08h1.86v5.94h-1.86zM399.27 439.08h1.86v5.94h-1.86zM404.86 445.02h1.86v5.94h-1.86zM283.73 450.96h1.86v5.94h-1.86zM304.23 450.96h1.86v5.94h-1.86zM345.23 450.96h1.86v5.94h-1.86z"/>
<path fill="#d8d8ea" d="M337.77 181.00h1.86v5.97h-1.86zM360.14 181.00h1.86v5.97h-1.86zM380.64 181.00h1.86v5.97h-1.86zM444.00 181.00h1.86v5.97h-1.86zM266.95 186.97h1.86v5.97h-1.86zM341.50 186.97h1.86v5.97h-1.86zM380.64 186.97h1.86v5.97h-1.86zM335.91 192.93h1.86v5.97h-1.86zM352.68 192.93h1.86v5.97h-1.86zM356.41 192.93h3.73v5.97h-3.73zM382.50 192.93h1.86v5.97h-1.86zM296.77 198.90h5.59v5.97h-5.59zM337.77 198.90h1.86v5.97h-1.86zM358.27 198.90h1.86v5.97h-1.86zM380.64 198.90h1.86v5.97h-1.86zM401.14 198.90h1.86v5.97h-1.86zM423.50 198.90h1.86v5.97h-1.86zM427.23 198.90h3.73v5.97h-3.73zM442.14 198.90h1.86v5.97h-1.86zM451.45 198.90h3.73v5.97h-3.73zM466.36 198.90h1.86v5.97h-1.86zM473.82 198.90h3.73v5.97h-3.73zM481.27 198.90h1.86v5.97h-1.86zM335.91 204.87h3.73v5.97h-3.73zM367.59 204.87h1.86v5.97h-1.86zM296.77 210.83h1.86v5.97h-1.86zM306.09 210.83h1.86v5.97h-1.86zM373.18 210.83h1.86v5.97h-1.86zM380.64 210.83h3.73v5.97h-3.73zM293.05 216.80h1.86v5.97h-1.86zM321.00 216.80h1.86v5.97h-1.86zM343.36 216.80h1.86v5.97h-1.86zM376.91 216.80h1.86v5.97h-1.86zM380.64 216.80h1.86v5.97h-1.86zM384.36 216.80h1.86v5.97h-1.86zM397.41 216.80h3.73v5.97h-3.73zM451.45 216.80h1.86v5.97h-1.86zM306.09 222.77h1.86v5.97h-1.86zM339.64 222.77h1.86v5.97h-1.86zM360.14 222.77h1.86v5.97h-1.86zM363.86 222.77h1.86v5.97h-1.86zM376.91 222.77h1.86v5.97h-1.86zM404.86 222.77h3.73v5.97h-3.73zM421.64 222.77h1.86v5.97h-1.86zM427.23 222.77h1.86v5.97h-1.86zM430.95 222.77h1.86v5.97h-1.86zM438.41 222.77h1.86v5.97h-1.86zM442.14 222.77h20.50v5.97h-20.50zM466.36 222.77h3.73v5.97h-3.73zM471.95 222.77h1.86v5.97h-1.86zM479.41 222.77h1.86v5.97h-1.86zM280.00 228.73h5.59v5.97h-5.59zM307.95 228.73h1.86v5.97h-1.86zM313.55 228.73h1.86v5.97h-1.86zM321.00 228.73h1.86v5.97h-1.86zM337.77 228.73h1.86v5.97h-1.86zM347.09 228.73h3.73v5.97h-3.73zM354.55 228.73h1.86v5.97h-1.86zM369.45 228.73h1.86v5.97h-1.86zM375.05 228.73h5.59v5.97h-5.59zM399.27 228.73h3.73v5.97h-3.73zM404.86 228.73h1.86v5.97h-1.86zM408.59 228.73h1.86v5.97h-1.86zM425.36 228.73h1.86v5.97h-1.86zM432.82 228.73h5.59v5.97h-5.59zM442.14 228.73h1.86v5.97h-1.86zM445.86 228.73h1.86v5.97h-1.86zM462.64 228.73h1.86v5.97h-1.86zM475.68 228.73h1.86v5.97h-1.86zM481.27 228.73h1.86v5.97h-1.86zM289.32 234.70h1.86v5.97h-1.86zM319.14 234.70h1.86v5.97h-1.86zM356.41 234.70h1.86v5.97h-1.86zM369.45 234.70h1.86v5.97h-1.86zM375.05 234.70h1.86v5.97h-1.86zM380.64 234.70h1.86v5.97h-1.86zM404.86 234.70h1.86v5.97h-1.86zM408.59 234.70h1.86v5.97h-1.86zM423.50 234.70h5.59v5.97h-5.59zM434.68 234.70h1.86v5.97h-1.86zM444.00 234.70h3.73v5.97h-3.73zM449.59 234.70h1.86v5.97h-1.86zM455.18 234.70h3.73v5.97h-3.73zM464.50 234.70h5.59v5.97h-5.59zM473.82 234.70h1.86v5.97h-1.86zM350.82 240.67h1.86v5.97h-1.86zM386.23 240.67h1.86v5.97h-1.86zM479.41 240.67h1.86v5.97h-1.86zM298.64 246.63h1.86v5.97h-1.86zM309.82 246.63h1.86v5.97h-1.86zM317.27 246.63h1.86v5.97h-1.86zM324.73 246.63h1.86v5.97h-1.86zM347.09 246.63h1.86v5.97h-1.86zM391.82 246.63h1.86v5.97h-1.86zM471.95 246.63h1.86v5.97h-1.86zM307.95 252.60h7.45v5.97h-7.45zM343.36 252.60h3.73v5.97h-3.73zM352.68 252.60h1.86v5.97h-1.86zM378.77 252.60h1.86v5.97h-1.86zM414.18 252.60h1.86v5.97h-1.86zM430.95 252.60h1.86v5.97h-1.86zM294.91 258.57h3.73v5.97h-3.73zM300.50 258.57h3.73v5.97h-3.73zM321.00 258.57h3.73v5.97h-3.73zM339.64 258.57h1.86v5.97h-1.86zM356.41 258.57h3.73v5.97h-3.73zM397.41 258.57h1.86v5.97h-1.86zM416.05 258.57h1.86v5.97h-1.86zM442.14 258.57h1.86v5.97h-1.86zM447.73 258.57h1.86v5.97h-1.86zM457.05 258.57h1.86v5.97h-1.86zM335.91 264.53h1.86v5.97h-1.86zM399.27 264.53h1.86v5.97h-1.86zM276.27 274.20h1.86v5.96h-1.86zM309.82 274.20h1.86v5.96h-1.86zM317.27 274.20h3.73v5.96h-3.73zM270.68 280.16h1.86v5.96h-1.86zM287.45 280.16h1.86v5.96h-1.86zM239.00 286.12h1.86v5.96h-1.86zM270.68 286.12h1.86v5.96h-1.86zM253.91 298.04h1.86v5.96h-1.86zM309.82 298.04h1.86v5.96h-1.86zM388.09 298.04h1.86v5.96h-1.86zM240.86 304.00h1.86v5.96h-1.86zM255.77 304.00h1.86v5.96h-1.86zM281.86 304.00h3.73v5.96h-3.73zM246.45 309.96h1.86v5.96h-1.86zM272.55 309.96h1.86v5.96h-1.86zM276.27 309.96h1.86v5.96h-1.86zM280.00 315.92h1.86v5.96h-1.86zM326.59 315.92h1.86v5.96h-1.86zM268.82 321.88h1.86v5.96h-1.86zM274.41 321.88h1.86v5.96h-1.86zM322.86 321.88h1.86v5.96h-1.86zM263.23 327.84h1.86v5.96h-1.86zM270.68 327.84h1.86v5.96h-1.86zM272.55 333.80h3.73v5.96h-3.73zM298.64 333.80h1.86v5.96h-1.86zM244.59 339.76h1.86v5.96h-1.86zM248.32 339.76h1.86v5.96h-1.86zM265.09 339.76h3.73v5.96h-3.73zM250.18 345.72h1.86v5.96h-1.86zM259.50 351.68h1.86v5.96h-1.86zM319.14 357.64h1.86v5.96h-1.86zM404.86 373.74h1.86v5.94h-1.86zM404.86 379.68h1.86v5.94h-1.86zM417.91 391.56h1.86v5.94h-1.86zM408.59 409.38h1.86v5.94h-1.86zM406.73 415.32h1.86v5.94h-1.86zM324.73 421.26h1.86v5.94h-1.86zM408.59 421.26h1.86v5.94h-1.86zM244.59 433.14h1.86v5.94h-1.86zM322.86 433.14h1.86v5.94h-1.86zM339.64 433.14h1.86v5.94h-1.86zM360.14 433.14h1.86v5.94h-1.86zM384.36 433.14h1.86v5.94h-1.86zM414.18 450.96h1.86v5.94h-1.86z"/>
<path fill="#f0eae4" d="M343.36 181.00h3.73v5.97h-3.73zM360.14 192.93h1.86v5.97h-1.86zM250.18 198.90h1.86v5.97h-1.86zM252.05 204.87h1.86v5.97h-1.86zM266.95 204.87h1.86v5.97h-1.86zM246.45 210.83h1.86v5.97h-1.86zM341.50 222.77h1.86v5.97h-1.86zM453.32 246.63h1.86v5.97h-1.86zM239.00 252.60h1.86v5.97h-1.86zM263.23 252.60h1.86v5.97h-1.86zM444.00 252.60h1.86v5.97h-1.86zM268.82 258.57h3.73v5.97h-3.73zM369.45 258.57h1.86v5.97h-1.86zM255.77 264.53h1.86v5.97h-1.86zM272.55 264.53h1.86v5.97h-1.86zM330.32 274.20h1.86v5.96h-1.86zM388.09 280.16h1.86v5.96h-1.86zM293.05 286.12h1.86v5.96h-1.86zM259.50 298.04h1.86v5.96h-1.86zM302.36 298.04h1.86v5.96h-1.86zM289.32 309.96h1.86v5.96h-1.86zM296.77 309.96h1.86v5.96h-1.86zM354.55 309.96h1.86v5.96h-1.86zM239.00 315.92h1.86v5.96h-1.86zM391.82 327.84h1.86v5.96h-1.86zM365.73 333.80h1.86v5.96h-1.86zM272.55 357.64h1.86v5.96h-1.86zM412.32 367.80h1.86v5.94h-1.86zM419.77 403.44h1.86v5.94h-1.86zM438.41 409.38h1.86v5.94h-1.86zM416.05 421.26h1.86v5.94h-1.86zM440.27 439.08h1.86v5.94h-1.86zM466.36 445.02h1.86v5.94h-1.86zM445.86 450.96h1.86v5.94h-1.86z"/>
<path fill="#c6cce4" d="M347.09 181.00h1.86v5.97h-1.86zM362.00 181.00h1.86v5.97h-1.86zM294.91 186.97h1.86v5.97h-1.86zM307.95 186.97h3.73v5.97h-3.73zM348.95 186.97h3.73v5.97h-3.73zM293.05 192.93h1.86v5.97h-1.86zM293.05 204.87h3.73v5.97h-3.73zM311.68 204.87h1.86v5.97h-1.86zM321.00 204.87h1.86v5.97h-1.86zM341.50 204.87h1.86v5.97h-1.86zM363.86 204.87h1.86v5.97h-1.86zM393.68 204.87h1.86v5.97h-1.86zM397.41 204.87h1.86v5.97h-1.86zM294.91 210.83h1.86v5.97h-1.86zM322.86 210.83h1.86v5.97h-1.86zM389.95 210.83h1.86v5.97h-1.86zM324.73 216.80h1.86v5.97h-1.86zM360.14 216.80h1.86v5.97h-1.86zM389.95 216.80h1.86v5.97h-1.86zM404.86 216.80h1.86v5.97h-1.86zM416.05 216.80h1.86v5.97h-1.86zM419.77 216.80h1.86v5.97h-1.86zM432.82 216.80h1.86v5.97h-1.86zM442.14 216.80h1.86v5.97h-1.86zM462.64 216.80h1.86v5.97h-1.86zM470.09 216.80h1.86v5.97h-1.86zM475.68 216.80h1.86v5.97h-1.86zM479.41 216.80h1.86v5.97h-1.86zM358.27 222.77h1.86v5.97h-1.86zM417.91 222.77h1.86v5.97h-1.86zM317.27 228.73h3.73v5.97h-3.73zM389.95 228.73h1.86v5.97h-1.86zM358.27 234.70h1.86v5.97h-1.86zM373.18 234.70h1.86v5.97h-1.86zM410.45 240.67h1.86v5.97h-1.86zM300.50 246.63h3.73v5.97h-3.73zM322.86 246.63h1.86v5.97h-1.86zM339.64 246.63h3.73v5.97h-3.73zM345.23 246.63h1.86v5.97h-1.86zM365.73 246.63h1.86v5.97h-1.86zM412.32 246.63h1.86v5.97h-1.86zM291.18 252.60h1.86v5.97h-1.86zM384.36 252.60h7.45v5.97h-7.45zM475.68 252.60h1.86v5.97h-1.86zM479.41 252.60h1.86v5.97h-1.86zM285.59 258.57h5.59v5.97h-5.59zM311.68 258.57h3.73v5.97h-3.73zM328.45 258.57h1.86v5.97h-1.86zM479.41 258.57h1.86v5.97h-1.86zM483.14 258.57h1.86v5.97h-1.86zM283.73 264.53h1.86v5.97h-1.86zM293.05 264.53h1.86v5.97h-1.86zM354.55 264.53h1.86v5.97h-1.86zM239.00 274.20h1.86v5.96h-1.86zM315.41 274.20h1.86v5.96h-1.86zM324.73 274.20h1.86v5.96h-1.86zM365.73 274.20h1.86v5.96h-1.86zM253.91 280.16h1.86v5.96h-1.86zM278.14 280.16h1.86v5.96h-1.86zM408.59 280.16h1.86v5.96h-1.86zM419.77 280.16h1.86v5.96h-1.86zM427.23 280.16h1.86v5.96h-1.86zM430.95 280.16h1.86v5.96h-1.86zM434.68 280.16h1.86v5.96h-1.86zM473.82 280.16h3.73v5.96h-3.73zM419.77 286.12h7.45v5.96h-7.45zM429.09 286.12h5.59v5.96h-5.59zM457.05 286.12h3.73v5.96h-3.73zM477.55 286.12h3.73v5.96h-3.73zM291.18 292.08h1.86v5.96h-1.86zM319.14 292.08h1.86v5.96h-1.86zM352.68 298.04h1.86v5.96h-1.86zM382.50 304.00h1.86v5.96h-1.86zM239.00 309.96h1.86v5.96h-1.86zM242.73 309.96h1.86v5.96h-1.86zM287.45 309.96h1.86v5.96h-1.86zM408.59 309.96h1.86v5.96h-1.86zM419.77 309.96h3.73v5.96h-3.73zM434.68 309.96h1.86v5.96h-1.86zM440.27 309.96h1.86v5.96h-1.86zM451.45 309.96h3.73v5.96h-3.73zM458.91 309.96h3.73v5.96h-3.73zM464.50 309.96h1.86v5.96h-1.86zM300.50 321.88h1.86v5.96h-1.86zM408.59 321.88h1.86v5.96h-1.86zM419.77 321.88h3.73v5.96h-3.73zM425.36 321.88h1.86v5.96h-1.86zM429.09 321.88h1.86v5.96h-1.86zM432.82 321.88h1.86v5.96h-1.86zM442.14 321.88h3.73v5.96h-3.73zM449.59 321.88h1.86v5.96h-1.86zM464.50 321.88h5.59v5.96h-5.59zM473.82 321.88h9.32v5.96h-9.32zM332.18 327.84h3.73v5.96h-3.73zM363.86 333.80h1.86v5.96h-1.86zM404.86 333.80h1.86v5.96h-1.86zM408.59 333.80h1.86v5.96h-1.86zM425.36 333.80h1.86v5.96h-1.86zM432.82 333.80h3.73v5.96h-3.73zM438.41 333.80h1.86v5.96h-1.86zM445.86 333.80h1.86v5.96h-1.86zM449.59 333.80h1.86v5.96h-1.86zM453.32 333.80h1.86v5.96h-1.86zM458.91 333.80h1.86v5.96h-1.86zM468.23 333.80h1.86v5.96h-1.86zM479.41 333.80h1.86v5.96h-1.86zM399.27 339.76h1.86v5.96h-1.86zM307.95 345.72h1.86v5.96h-1.86zM410.45 351.68h1.86v5.96h-1.86zM414.18 351.68h3.73v5.96h-3.73zM455.18 351.68h1.86v5.96h-1.86zM475.68 351.68h1.86v5.96h-1.86zM479.41 351.68h1.86v5.96h-1.86zM266.95 357.64h1.86v5.96h-1.86zM291.18 357.64h1.86v5.96h-1.86zM391.82 357.64h1.86v5.96h-1.86zM416.05 357.64h3.73v5.96h-3.73zM272.55 367.80h5.59v5.94h-5.59zM319.14 367.80h3.73v5.94h-3.73zM334.05 367.80h1.86v5.94h-1.86zM348.95 367.80h3.73v5.94h-3.73zM354.55 367.80h1.86v5.94h-1.86zM371.32 367.80h1.86v5.94h-1.86zM382.50 367.80h1.86v5.94h-1.86zM389.95 367.80h3.73v5.94h-3.73zM239.00 373.74h1.86v5.94h-1.86zM259.50 373.74h7.45v5.94h-7.45zM283.73 373.74h1.86v5.94h-1.86zM302.36 373.74h1.86v5.94h-1.86zM315.41 373.74h3.73v5.94h-3.73zM321.00 373.74h1.86v5.94h-1.86zM328.45 373.74h3.73v5.94h-3.73zM337.77 373.74h1.86v5.94h-1.86zM356.41 373.74h1.86v5.94h-1.86zM365.73 373.74h5.59v5.94h-5.59zM375.05 373.74h1.86v5.94h-1.86zM386.23 373.74h1.86v5.94h-1.86zM391.82 373.74h7.45v5.94h-7.45zM401.14 373.74h1.86v5.94h-1.86zM408.59 379.68h1.86v5.94h-1.86zM250.18 385.62h3.73v5.94h-3.73zM266.95 385.62h1.86v5.94h-1.86zM270.68 385.62h1.86v5.94h-1.86zM276.27 385.62h1.86v5.94h-1.86zM293.05 385.62h1.86v5.94h-1.86zM300.50 385.62h5.59v5.94h-5.59zM311.68 385.62h3.73v5.94h-3.73zM330.32 385.62h5.59v5.94h-5.59zM339.64 385.62h1.86v5.94h-1.86zM360.14 385.62h1.86v5.94h-1.86zM391.82 385.62h1.86v5.94h-1.86zM395.55 385.62h3.73v5.94h-3.73zM242.73 391.56h1.86v5.94h-1.86zM252.05 391.56h3.73v5.94h-3.73zM259.50 391.56h3.73v5.94h-3.73zM268.82 391.56h3.73v5.94h-3.73zM283.73 391.56h3.73v5.94h-3.73zM293.05 391.56h3.73v5.94h-3.73zM300.50 391.56h3.73v5.94h-3.73zM311.68 391.56h1.86v5.94h-1.86zM317.27 391.56h1.86v5.94h-1.86zM321.00 391.56h1.86v5.94h-1.86zM330.32 391.56h1.86v5.94h-1.86zM335.91 391.56h1.86v5.94h-1.86zM339.64 391.56h7.45v5.94h-7.45zM369.45 391.56h7.45v5.94h-7.45zM378.77 391.56h3.73v5.94h-3.73zM386.23 391.56h1.86v5.94h-1.86zM397.41 391.56h1.86v5.94h-1.86zM239.00 397.50h1.86v5.94h-1.86zM244.59 397.50h1.86v5.94h-1.86zM276.27 397.50h1.86v5.94h-1.86zM311.68 397.50h1.86v5.94h-1.86zM321.00 397.50h1.86v5.94h-1.86zM324.73 397.50h1.86v5.94h-1.86zM330.32 397.50h1.86v5.94h-1.86zM337.77 397.50h1.86v5.94h-1.86zM362.00 397.50h3.73v5.94h-3.73zM373.18 397.50h1.86v5.94h-1.86zM376.91 397.50h1.86v5.94h-1.86zM380.64 397.50h1.86v5.94h-1.86zM388.09 397.50h1.86v5.94h-1.86zM391.82 397.50h1.86v5.94h-1.86zM252.05 403.44h3.73v5.94h-3.73zM265.09 403.44h1.86v5.94h-1.86zM270.68 403.44h1.86v5.94h-1.86zM276.27 403.44h5.59v5.94h-5.59zM287.45 403.44h1.86v5.94h-1.86zM306.09 403.44h1.86v5.94h-1.86zM309.82 403.44h3.73v5.94h-3.73zM328.45 403.44h1.86v5.94h-1.86zM332.18 403.44h1.86v5.94h-1.86zM335.91 403.44h1.86v5.94h-1.86zM339.64 403.44h7.45v5.94h-7.45zM363.86 403.44h1.86v5.94h-1.86zM367.59 403.44h1.86v5.94h-1.86zM388.09 403.44h1.86v5.94h-1.86zM399.27 403.44h1.86v5.94h-1.86zM445.86 403.44h1.86v5.94h-1.86zM242.73 409.38h1.86v5.94h-1.86zM252.05 409.38h1.86v5.94h-1.86zM259.50 409.38h1.86v5.94h-1.86zM265.09 409.38h3.73v5.94h-3.73zM278.14 409.38h1.86v5.94h-1.86zM285.59 409.38h3.73v5.94h-3.73zM291.18 409.38h9.32v5.94h-9.32zM302.36 409.38h5.59v5.94h-5.59zM317.27 409.38h7.45v5.94h-7.45zM341.50 409.38h1.86v5.94h-1.86zM345.23 409.38h3.73v5.94h-3.73zM352.68 409.38h1.86v5.94h-1.86zM376.91 409.38h1.86v5.94h-1.86zM382.50 409.38h5.59v5.94h-5.59zM268.82 415.32h1.86v5.94h-1.86zM272.55 415.32h5.59v5.94h-5.59zM281.86 415.32h1.86v5.94h-1.86zM298.64 415.32h1.86v5.94h-1.86zM304.23 415.32h1.86v5.94h-1.86zM319.14 415.32h5.59v5.94h-5.59zM326.59 415.32h1.86v5.94h-1.86zM348.95 415.32h1.86v5.94h-1.86zM354.55 415.32h1.86v5.94h-1.86zM367.59 415.32h1.86v5.94h-1.86zM380.64 415.32h1.86v5.94h-1.86zM393.68 415.32h1.86v5.94h-1.86zM399.27 415.32h5.59v5.94h-5.59zM240.86 421.26h3.73v5.94h-3.73zM248.32 421.26h5.59v5.94h-5.59zM261.36 421.26h1.86v5.94h-1.86zM287.45 421.26h3.73v5.94h-3.73zM294.91 421.26h1.86v5.94h-1.86zM302.36 421.26h1.86v5.94h-1.86zM307.95 421.26h1.86v5.94h-1.86zM313.55 421.26h1.86v5.94h-1.86zM328.45 421.26h3.73v5.94h-3.73zM341.50 421.26h3.73v5.94h-3.73zM356.41 421.26h9.32v5.94h-9.32zM373.18 421.26h1.86v5.94h-1.86zM378.77 421.26h1.86v5.94h-1.86zM382.50 421.26h1.86v5.94h-1.86zM399.27 421.26h5.59v5.94h-5.59zM274.41 427.20h9.32v5.94h-9.32zM291.18 427.20h1.86v5.94h-1.86zM294.91 427.20h3.73v5.94h-3.73zM307.95 427.20h3.73v5.94h-3.73zM315.41 427.20h1.86v5.94h-1.86zM334.05 427.20h3.73v5.94h-3.73zM339.64 427.20h1.86v5.94h-1.86zM343.36 427.20h1.86v5.94h-1.86zM363.86 427.20h1.86v5.94h-1.86zM367.59 427.20h1.86v5.94h-1.86zM373.18 427.20h5.59v5.94h-5.59zM380.64 427.20h1.86v5.94h-1.86zM389.95 427.20h1.86v5.94h-1.86zM395.55 427.20h1.86v5.94h-1.86zM399.27 427.20h1.86v5.94h-1.86zM280.00 433.14h3.73v5.94h-3.73zM294.91 433.14h1.86v5.94h-1.86zM298.64 433.14h1.86v5.94h-1.86zM309.82 433.14h3.73v5.94h-3.73zM317.27 433.14h1.86v5.94h-1.86zM334.05 433.14h1.86v5.94h-1.86zM362.00 433.14h1.86v5.94h-1.86zM389.95 433.14h3.73v5.94h-3.73zM406.73 433.14h1.86v5.94h-1.86zM246.45 439.08h5.59v5.94h-5.59zM255.77 439.08h1.86v5.94h-1.86zM259.50 439.08h5.59v5.94h-5.59zM268.82 439.08h1.86v5.94h-1.86zM287.45 439.08h1.86v5.94h-1.86zM294.91 439.08h1.86v5.94h-1.86zM304.23 439.08h3.73v5.94h-3.73zM309.82 439.08h1.86v5.94h-1.86zM326.59 439.08h3.73v5.94h-3.73zM334.05 439.08h5.59v5.94h-5.59zM350.82 439.08h5.59v5.94h-5.59zM358.27 439.08h1.86v5.94h-1.86zM362.00 439.08h1.86v5.94h-1.86zM365.73 439.08h1.86v5.94h-1.86zM373.18 439.08h1.86v5.94h-1.86zM386.23 439.08h1.86v5.94h-1.86zM401.14 439.08h1.86v5.94h-1.86zM246.45 450.96h1.86v5.94h-1.86zM250.18 450.96h1.86v5.94h-1.86zM257.64 450.96h3.73v5.94h-3.73zM268.82 450.96h7.45v5.94h-7.45zM278.14 450.96h1.86v5.94h-1.86zM281.86 450.96h1.86v5.94h-1.86zM294.91 450.96h3.73v5.94h-3.73zM306.09 450.96h3.73v5.94h-3.73zM348.95 450.96h1.86v5.94h-1.86zM386.23 450.96h3.73v5.94h-3.73zM401.14 450.96h1.86v5.94h-1.86zM408.59 450.96h1.86v5.94h-1.86z"/>
<path fill="#d2d2ea" d="M367.59 181.00h1.86v5.97h-1.86zM283.73 198.90h1.86v5.97h-1.86zM306.09 204.87h1.86v5.97h-1.86zM358.27 216.80h1.86v5.97h-1.86zM328.45 222.77h1.86v5.97h-1.86zM414.18 222.77h3.73v5.97h-3.73zM328.45 228.73h1.86v5.97h-1.86zM321.00 234.70h1.86v5.97h-1.86zM391.82 234.70h3.73v5.97h-3.73zM412.32 234.70h3.73v5.97h-3.73zM345.23 240.67h1.86v5.97h-1.86zM326.59 252.60h1.86v5.97h-1.86zM339.64 264.53h1.86v5.97h-1.86zM287.45 274.20h1.86v5.96h-1.86zM315.41 280.16h1.86v5.96h-1.86zM280.00 298.04h1.86v5.96h-1.86zM479.41 309.96h1.86v5.96h-1.86zM395.55 315.92h1.86v5.96h-1.86zM356.41 321.88h1.86v5.96h-1.86zM455.18 321.88h1.86v5.96h-1.86zM253.91 327.84h1.86v5.96h-1.86zM471.95 333.80h1.86v5.96h-1.86zM270.68 345.72h1.86v5.96h-1.86zM423.50 351.68h1.86v5.96h-1.86zM352.68 357.64h1.86v5.96h-1.86zM404.86 367.80h1.86v5.94h-1.86zM268.82 385.62h1.86v5.94h-1.86zM278.14 385.62h1.86v5.94h-1.86zM296.77 385.62h1.86v5.94h-1.86zM352.68 385.62h1.86v5.94h-1.86zM358.27 385.62h1.86v5.94h-1.86zM363.86 385.62h1.86v5.94h-1.86zM239.00 433.14h1.86v5.94h-1.86zM255.77 433.14h1.86v5.94h-1.86zM266.95 433.14h1.86v5.94h-1.86zM274.41 433.14h1.86v5.94h-1.86zM315.41 433.14h1.86v5.94h-1.86zM335.91 433.14h1.86v5.94h-1.86zM386.23 433.14h1.86v5.94h-1.86zM265.09 439.08h1.86v5.94h-1.86zM348.95 439.08h1.86v5.94h-1.86zM375.05 439.08h1.86v5.94h-1.86zM388.09 439.08h1.86v5.94h-1.86z"/>
<path fill="#d8968a" d="M386.23 181.00h1.86v5.97h-1.86zM250.18 210.83h3.73v5.97h-3.73zM259.50 216.80h1.86v5.97h-1.86zM268.82 228.73h1.86v5.97h-1.86zM255.77 252.60h1.86v5.97h-1.86zM350.82 309.96h1.86v5.96h-1.86zM369.45 321.88h1.86v5.96h-1.86zM317.27 351.68h1.86v5.96h-1.86zM421.64 367.80h1.86v5.94h-1.86zM425.36 367.80h1.86v5.94h-1.86zM412.32 379.68h1.86v5.94h-1.86zM458.91 391.56h1.86v5.94h-1.86zM471.95 427.20h1.86v5.94h-1.86zM481.27 427.20h1.86v5.94h-1.86zM483.14 433.14h1.86v5.94h-1.86zM451.45 450.96h3.73v5.94h-3.73zM460.77 450.96h1.86v5.94h-1.86z"/>
<path fill="#c0c6e4" d="M388.09 181.00h1.86v5.97h-1.86zM343.36 186.97h1.86v5.97h-1.86zM328.45 204.87h3.73v5.97h-3.73zM278.14 210.83h3.73v5.97h-3.73zM363.86 210.83h1.86v5.97h-1.86zM274.41 234.70h1.86v5.97h-1.86zM347.09 240.67h3.73v5.97h-3.73zM464.50 252.60h1.86v5.97h-1.86zM429.09 258.57h1.86v5.97h-1.86zM382.50 264.53h3.73v5.97h-3.73zM244.59 274.20h1.86v5.96h-1.86zM278.14 274.20h1.86v5.96h-1.86zM367.59 280.16h1.86v5.96h-1.86zM406.73 280.16h1.86v5.96h-1.86zM412.32 280.16h1.86v5.96h-1.86zM417.91 280.16h1.86v5.96h-1.86zM421.64 280.16h3.73v5.96h-3.73zM438.41 280.16h3.73v5.96h-3.73zM451.45 280.16h1.86v5.96h-1.86zM477.55 280.16h1.86v5.96h-1.86zM481.27 280.16h1.86v5.96h-1.86zM274.41 286.12h1.86v5.96h-1.86zM416.05 286.12h1.86v5.96h-1.86zM466.36 286.12h3.73v5.96h-3.73zM242.73 292.08h1.86v5.96h-1.86zM287.45 292.08h3.73v5.96h-3.73zM278.14 304.00h3.73v5.96h-3.73zM423.50 309.96h1.86v5.96h-1.86zM475.68 309.96h3.73v5.96h-3.73zM483.14 309.96h1.86v5.96h-1.86zM417.91 321.88h1.86v5.96h-1.86zM313.55 327.84h1.86v5.96h-1.86zM421.64 333.80h1.86v5.96h-1.86zM436.55 333.80h1.86v5.96h-1.86zM477.55 333.80h1.86v5.96h-1.86zM483.14 333.80h1.86v5.96h-1.86zM300.50 339.76h1.86v5.96h-1.86zM265.09 345.72h1.86v5.96h-1.86zM417.91 351.68h3.73v5.96h-3.73zM447.73 351.68h3.73v5.96h-3.73zM466.36 351.68h1.86v5.96h-1.86zM250.18 357.64h3.73v5.96h-3.73zM477.55 357.64h1.86v5.96h-1.86zM244.59 367.80h1.86v5.94h-1.86zM257.64 367.80h3.73v5.94h-3.73zM300.50 367.80h3.73v5.94h-3.73zM332.18 367.80h1.86v5.94h-1.86zM339.64 367.80h1.86v5.94h-1.86zM242.73 373.74h3.73v5.94h-3.73zM255.77 373.74h3.73v5.94h-3.73zM266.95 373.74h1.86v5.94h-1.86zM272.55 373.74h1.86v5.94h-1.86zM298.64 373.74h1.86v5.94h-1.86zM304.23 373.74h1.86v5.94h-1.86zM313.55 373.74h1.86v5.94h-1.86zM341.50 373.74h7.45v5.94h-7.45zM298.64 385.62h1.86v5.94h-1.86zM321.00 385.62h5.59v5.94h-5.59zM328.45 385.62h1.86v5.94h-1.86zM345.23 385.62h7.45v5.94h-7.45zM373.18 385.62h3.73v5.94h-3.73zM380.64 385.62h1.86v5.94h-1.86zM401.14 385.62h1.86v5.94h-1.86zM255.77 391.56h1.86v5.94h-1.86zM315.41 391.56h1.86v5.94h-1.86zM319.14 391.56h1.86v5.94h-1.86zM337.77 391.56h1.86v5.94h-1.86zM354.55 391.56h1.86v5.94h-1.86zM382.50 391.56h1.86v5.94h-1.86zM250.18 397.50h3.73v5.94h-3.73zM255.77 397.50h1.86v5.94h-1.86zM259.50 397.50h3.73v5.94h-3.73zM266.95 397.50h1.86v5.94h-1.86zM270.68 397.50h1.86v5.94h-1.86zM280.00 397.50h1.86v5.94h-1.86zM293.05 397.50h1.86v5.94h-1.86zM309.82 397.50h1.86v5.94h-1.86zM319.14 397.50h1.86v5.94h-1.86zM378.77 397.50h1.86v5.94h-1.86zM386.23 397.50h1.86v5.94h-1.86zM403.00 397.50h1.86v5.94h-1.86zM240.86 403.44h1.86v5.94h-1.86zM246.45 403.44h1.86v5.94h-1.86zM250.18 403.44h1.86v5.94h-1.86zM263.23 403.44h1.86v5.94h-1.86zM266.95 403.44h3.73v5.94h-3.73zM302.36 403.44h1.86v5.94h-1.86zM319.14 403.44h1.86v5.94h-1.86zM337.77 403.44h1.86v5.94h-1.86zM373.18 403.44h1.86v5.94h-1.86zM382.50 403.44h5.59v5.94h-5.59zM268.82 409.38h1.86v5.94h-1.86zM272.55 409.38h1.86v5.94h-1.86zM276.27 409.38h1.86v5.94h-1.86zM280.00 409.38h1.86v5.94h-1.86zM289.32 409.38h1.86v5.94h-1.86zM335.91 409.38h1.86v5.94h-1.86zM363.86 409.38h1.86v5.94h-1.86zM367.59 409.38h1.86v5.94h-1.86zM380.64 409.38h1.86v5.94h-1.86zM250.18 415.32h3.73v5.94h-3.73zM289.32 415.32h1.86v5.94h-1.86zM293.05 415.32h1.86v5.94h-1.86zM311.68 415.32h1.86v5.94h-1.86zM339.64 415.32h1.86v5.94h-1.86zM343.36 415.32h5.59v5.94h-5.59zM358.27 415.32h1.86v5.94h-1.86zM369.45 415.32h1.86v5.94h-1.86zM382.50 415.32h1.86v5.94h-1.86zM386.23 415.32h1.86v5.94h-1.86zM427.23 415.32h1.86v5.94h-1.86zM239.00 421.26h1.86v5.94h-1.86zM255.77 421.26h3.73v5.94h-3.73zM265.09 421.26h1.86v5.94h-1.86zM274.41 421.26h1.86v5.94h-1.86zM280.00 421.26h3.73v5.94h-3.73zM311.68 421.26h1.86v5.94h-1.86zM317.27 421.26h3.73v5.94h-3.73zM326.59 421.26h1.86v5.94h-1.86zM332.18 421.26h3.73v5.94h-3.73zM397.41 421.26h1.86v5.94h-1.86zM406.73 421.26h1.86v5.94h-1.86zM313.55 427.20h1.86v5.94h-1.86zM319.14 427.20h3.73v5.94h-3.73zM356.41 427.20h1.86v5.94h-1.86zM369.45 427.20h1.86v5.94h-1.86zM382.50 427.20h3.73v5.94h-3.73zM393.68 427.20h1.86v5.94h-1.86zM266.95 439.08h1.86v5.94h-1.86zM293.05 439.08h1.86v5.94h-1.86zM248.32 450.96h1.86v5.94h-1.86zM317.27 450.96h1.86v5.94h-1.86zM350.82 450.96h3.73v5.94h-3.73zM367.59 450.96h1.86v5.94h-1.86zM376.91 450.96h1.86v5.94h-1.86z"/>
<path fill="#c0c6de" d="M393.68 181.00h1.86v5.97h-1.86zM304.23 186.97h1.86v5.97h-1.86zM324.73 186.97h1.86v5.97h-1.86zM378.77 186.97h1.86v5.97h-1.86zM280.00 198.90h3.73v5.97h-3.73zM298.64 204.87h1.86v5.97h-1.86zM332.18 204.87h1.86v5.97h-1.86zM380.64 204.87h1.86v5.97h-1.86zM332.18 210.83h3.73v5.97h-3.73zM289.32 222.77h1.86v5.97h-1.86zM436.55 240.67h1.86v5.97h-1.86zM311.68 246.63h1.86v5.97h-1.86zM326.59 246.63h1.86v5.97h-1.86zM356.41 246.63h1.86v5.97h-1.86zM408.59 246.63h1.86v5.97h-1.86zM445.86 246.63h1.86v5.97h-1.86zM479.41 246.63h3.73v5.97h-3.73zM330.32 252.60h1.86v5.97h-1.86zM335.91 258.57h1.86v5.97h-1.86zM412.32 258.57h1.86v5.97h-1.86zM449.59 258.57h3.73v5.97h-3.73zM328.45 264.53h1.86v5.97h-1.86zM362.00 264.53h1.86v5.97h-1.86zM255.77 274.20h1.86v5.96h-1.86zM272.55 280.16h1.86v5.96h-1.86zM321.00 280.16h1.86v5.96h-1.86zM404.86 280.16h1.86v5.96h-1.86zM414.18 280.16h1.86v5.96h-1.86zM425.36 280.16h1.86v5.96h-1.86zM429.09 280.16h1.86v5.96h-1.86zM436.55 280.16h1.86v5.96h-1.86zM462.64 280.16h1.86v5.96h-1.86zM369.45 286.12h1.86v5.96h-1.86zM449.59 286.12h1.86v5.96h-1.86zM464.50 286.12h1.86v5.96h-1.86zM255.77 292.08h1.86v5.96h-1.86zM266.95 292.08h1.86v5.96h-1.86zM369.45 292.08h3.73v5.96h-3.73zM458.91 292.08h1.86v5.96h-1.86zM272.55 298.04h3.73v5.96h-3.73zM265.09 304.00h1.86v5.96h-1.86zM276.27 304.00h1.86v5.96h-1.86zM412.32 309.96h3.73v5.96h-3.73zM427.23 309.96h1.86v5.96h-1.86zM430.95 309.96h1.86v5.96h-1.86zM442.14 309.96h1.86v5.96h-1.86zM470.09 309.96h1.86v5.96h-1.86zM281.86 321.88h1.86v5.96h-1.86zM406.73 321.88h1.86v5.96h-1.86zM412.32 321.88h1.86v5.96h-1.86zM291.18 333.80h1.86v5.96h-1.86zM410.45 333.80h3.73v5.96h-3.73zM416.05 333.80h3.73v5.96h-3.73zM423.50 333.80h1.86v5.96h-1.86zM460.77 333.80h1.86v5.96h-1.86zM481.27 333.80h1.86v5.96h-1.86zM242.73 339.76h1.86v5.96h-1.86zM240.86 345.72h1.86v5.96h-1.86zM328.45 345.72h1.86v5.96h-1.86zM451.45 345.72h1.86v5.96h-1.86zM404.86 351.68h3.73v5.96h-3.73zM425.36 351.68h3.73v5.96h-3.73zM440.27 351.68h1.86v5.96h-1.86zM458.91 351.68h1.86v5.96h-1.86zM432.82 357.64h1.86v5.96h-1.86zM466.36 357.64h1.86v5.96h-1.86zM242.73 367.80h1.86v5.94h-1.86zM246.45 367.80h3.73v5.94h-3.73zM266.95 367.80h1.86v5.94h-1.86zM304.23 367.80h1.86v5.94h-1.86zM347.09 367.80h1.86v5.94h-1.86zM352.68 367.80h1.86v5.94h-1.86zM356.41 367.80h3.73v5.94h-3.73zM369.45 367.80h1.86v5.94h-1.86zM384.36 367.80h3.73v5.94h-3.73zM393.68 367.80h3.73v5.94h-3.73zM399.27 367.80h1.86v5.94h-1.86zM240.86 373.74h1.86v5.94h-1.86zM248.32 373.74h1.86v5.94h-1.86zM268.82 373.74h1.86v5.94h-1.86zM291.18 373.74h1.86v5.94h-1.86zM306.09 373.74h1.86v5.94h-1.86zM309.82 373.74h1.86v5.94h-1.86zM319.14 373.74h1.86v5.94h-1.86zM332.18 373.74h1.86v5.94h-1.86zM335.91 373.74h1.86v5.94h-1.86zM248.32 385.62h1.86v5.94h-1.86zM255.77 385.62h3.73v5.94h-3.73zM306.09 385.62h1.86v5.94h-1.86zM240.86 391.56h1.86v5.94h-1.86zM265.09 391.56h3.73v5.94h-3.73zM272.55 391.56h5.59v5.94h-5.59zM287.45 391.56h1.86v5.94h-1.86zM309.82 391.56h1.86v5.94h-1.86zM388.09 391.56h1.86v5.94h-1.86zM393.68 391.56h3.73v5.94h-3.73zM274.41 397.50h1.86v5.94h-1.86zM278.14 397.50h1.86v5.94h-1.86zM294.91 397.50h1.86v5.94h-1.86zM302.36 397.50h5.59v5.94h-5.59zM317.27 397.50h1.86v5.94h-1.86zM334.05 397.50h3.73v5.94h-3.73zM341.50 397.50h1.86v5.94h-1.86zM345.23 397.50h3.73v5.94h-3.73zM354.55 397.50h3.73v5.94h-3.73zM365.73 397.50h1.86v5.94h-1.86zM369.45 397.50h3.73v5.94h-3.73zM382.50 397.50h3.73v5.94h-3.73zM397.41 397.50h3.73v5.94h-3.73zM248.32 403.44h1.86v5.94h-1.86zM274.41 403.44h1.86v5.94h-1.86zM281.86 403.44h1.86v5.94h-1.86zM289.32 403.44h1.86v5.94h-1.86zM347.09 403.44h3.73v5.94h-3.73zM358.27 403.44h5.59v5.94h-5.59zM365.73 403.44h1.86v5.94h-1.86zM369.45 403.44h1.86v5.94h-1.86zM375.05 403.44h3.73v5.94h-3.73zM239.00 409.38h1.86v5.94h-1.86zM248.32 409.38h3.73v5.94h-3.73zM253.91 409.38h1.86v5.94h-1.86zM274.41 409.38h1.86v5.94h-1.86zM300.50 409.38h1.86v5.94h-1.86zM324.73 409.38h1.86v5.94h-1.86zM332.18 409.38h1.86v5.94h-1.86zM339.64 409.38h1.86v5.94h-1.86zM354.55 409.38h1.86v5.94h-1.86zM373.18 409.38h1.86v5.94h-1.86zM388.09 409.38h1.86v5.94h-1.86zM391.82 409.38h3.73v5.94h-3.73zM403.00 409.38h1.86v5.94h-1.86zM246.45 415.32h3.73v5.94h-3.73zM261.36 415.32h1.86v5.94h-1.86zM278.14 415.32h3.73v5.94h-3.73zM283.73 415.32h3.73v5.94h-3.73zM302.36 415.32h1.86v5.94h-1.86zM315.41 415.32h1.86v5.94h-1.86zM341.50 415.32h1.86v5.94h-1.86zM362.00 415.32h1.86v5.94h-1.86zM376.91 415.32h1.86v5.94h-1.86zM388.09 415.32h5.59v5.94h-5.59zM244.59 421.26h1.86v5.94h-1.86zM253.91 421.26h1.86v5.94h-1.86zM259.50 421.26h1.86v5.94h-1.86zM266.95 421.26h1.86v5.94h-1.86zM278.14 421.26h1.86v5.94h-1.86zM293.05 421.26h1.86v5.94h-1.86zM298.64 421.26h1.86v5.94h-1.86zM322.86 421.26h1.86v5.94h-1.86zM337.77 421.26h3.73v5.94h-3.73zM345.23 421.26h1.86v5.94h-1.86zM348.95 421.26h1.86v5.94h-1.86zM365.73 421.26h3.73v5.94h-3.73zM371.32 421.26h1.86v5.94h-1.86zM376.91 421.26h1.86v5.94h-1.86zM244.59 427.20h3.73v5.94h-3.73zM253.91 427.20h1.86v5.94h-1.86zM259.50 427.20h1.86v5.94h-1.86zM265.09 427.20h3.73v5.94h-3.73zM272.55 427.20h1.86v5.94h-1.86zM287.45 427.20h1.86v5.94h-1.86zM293.05 427.20h1.86v5.94h-1.86zM298.64 427.20h1.86v5.94h-1.86zM322.86 427.20h1.86v5.94h-1.86zM330.32 427.20h3.73v5.94h-3.73zM337.77 427.20h1.86v5.94h-1.86zM391.82 427.20h1.86v5.94h-1.86zM397.41 427.20h1.86v5.94h-1.86zM401.14 427.20h1.86v5.94h-1.86zM266.95 450.96h1.86v5.94h-1.86zM285.59 450.96h3.73v5.94h-3.73zM309.82 450.96h3.73v5.94h-3.73zM324.73 450.96h1.86v5.94h-1.86zM332.18 450.96h1.86v5.94h-1.86zM335.91 450.96h1.86v5.94h-1.86zM354.55 450.96h3.73v5.94h-3.73zM363.86 450.96h3.73v5.94h-3.73zM373.18 450.96h1.86v5.94h-1.86zM378.77 450.96h3.73v5.94h-3.73zM384.36 450.96h1.86v5.94h-1.86zM389.95 450.96h1.86v5.94h-1.86z"/>
<path fill="#f6f6f6" d="M425.36 181.00h1.86v5.97h-1.86zM261.36 186.97h1.86v5.97h-1.86zM315.41 186.97h3.73v5.97h-3.73zM360.14 186.97h1.86v5.97h-1.86zM388.09 186.97h1.86v5.97h-1.86zM334.05 192.93h1.86v5.97h-1.86zM311.68 198.90h1.86v5.97h-1.86zM367.59 198.90h1.86v5.97h-1.86zM375.05 198.90h1.86v5.97h-1.86zM285.59 210.83h1.86v5.97h-1.86zM289.32 210.83h1.86v5.97h-1.86zM362.00 210.83h1.86v5.97h-1.86zM276.27 216.80h3.73v5.97h-3.73zM335.91 216.80h1.86v5.97h-1.86zM274.41 222.77h1.86v5.97h-1.86zM380.64 222.77h1.86v5.97h-1.86zM278.14 228.73h1.86v5.97h-1.86zM315.41 228.73h1.86v5.97h-1.86zM365.73 228.73h1.86v5.97h-1.86zM332.18 234.70h1.86v5.97h-1.86zM341.50 234.70h1.86v5.97h-1.86zM345.23 234.70h1.86v5.97h-1.86zM376.91 234.70h1.86v5.97h-1.86zM298.64 240.67h1.86v5.97h-1.86zM319.14 246.63h1.86v5.97h-1.86zM416.05 246.63h1.86v5.97h-1.86zM380.64 252.60h1.86v5.97h-1.86zM399.27 252.60h1.86v5.97h-1.86zM460.77 252.60h1.86v5.97h-1.86zM276.27 258.57h1.86v5.97h-1.86zM367.59 258.57h1.86v5.97h-1.86zM350.82 264.53h1.86v5.97h-1.86zM242.73 274.20h1.86v5.96h-1.86zM266.95 280.16h1.86v5.96h-1.86zM298.64 280.16h3.73v5.96h-3.73zM371.32 280.16h1.86v5.96h-1.86zM265.09 286.12h1.86v5.96h-1.86zM294.91 286.12h1.86v5.96h-1.86zM276.27 292.08h3.73v5.96h-3.73zM382.50 292.08h1.86v5.96h-1.86zM432.82 292.08h1.86v5.96h-1.86zM367.59 298.04h1.86v5.96h-1.86zM311.68 304.00h1.86v5.96h-1.86zM345.23 304.00h1.86v5.96h-1.86zM244.59 309.96h1.86v5.96h-1.86zM294.91 309.96h1.86v5.96h-1.86zM328.45 309.96h1.86v5.96h-1.86zM388.09 309.96h3.73v5.96h-3.73zM285.59 315.92h1.86v5.96h-1.86zM302.36 315.92h1.86v5.96h-1.86zM391.82 315.92h1.86v5.96h-1.86zM436.55 315.92h1.86v5.96h-1.86zM307.95 321.88h3.73v5.96h-3.73zM358.27 321.88h3.73v5.96h-3.73zM298.64 327.84h1.86v5.96h-1.86zM319.14 327.84h1.86v5.96h-1.86zM352.68 327.84h1.86v5.96h-1.86zM362.00 327.84h1.86v5.96h-1.86zM365.73 327.84h5.59v5.96h-5.59zM278.14 333.80h1.86v5.96h-1.86zM348.95 333.80h1.86v5.96h-1.86zM399.27 333.80h1.86v5.96h-1.86zM403.00 333.80h1.86v5.96h-1.86zM457.05 333.80h1.86v5.96h-1.86zM246.45 339.76h1.86v5.96h-1.86zM283.73 339.76h1.86v5.96h-1.86zM294.91 339.76h1.86v5.96h-1.86zM298.64 339.76h1.86v5.96h-1.86zM315.41 339.76h1.86v5.96h-1.86zM386.23 339.76h3.73v5.96h-3.73zM289.32 345.72h1.86v5.96h-1.86zM280.00 351.68h1.86v5.96h-1.86zM296.77 351.68h3.73v5.96h-3.73zM240.86 357.64h1.86v5.96h-1.86zM313.55 357.64h1.86v5.96h-1.86zM464.50 379.68h3.73v5.94h-3.73zM475.68 379.68h1.86v5.94h-1.86zM414.18 415.32h1.86v5.94h-1.86zM425.36 415.32h1.86v5.94h-1.86zM414.18 433.14h3.73v5.94h-3.73zM416.05 445.02h1.86v5.94h-1.86z"/>
<path fill="#dee4f0" d="M427.23 181.00h1.86v5.97h-1.86zM477.55 181.00h5.59v5.97h-5.59zM367.59 192.93h1.86v5.97h-1.86zM371.32 192.93h1.86v5.97h-1.86zM404.86 192.93h1.86v5.97h-1.86zM429.09 192.93h1.86v5.97h-1.86zM410.45 198.90h1.86v5.97h-1.86zM304.23 222.77h1.86v5.97h-1.86zM414.18 228.73h1.86v5.97h-1.86zM324.73 252.60h1.86v5.97h-1.86zM293.05 258.57h1.86v5.97h-1.86zM304.23 258.57h1.86v5.97h-1.86zM460.77 258.57h3.73v5.97h-3.73zM477.55 258.57h1.86v5.97h-1.86zM322.86 264.53h1.86v5.97h-1.86zM266.95 315.92h1.86v5.96h-1.86zM239.00 357.64h1.86v5.96h-1.86zM395.55 379.68h1.86v5.94h-1.86zM417.91 403.44h1.86v5.94h-1.86zM276.27 421.26h1.86v5.94h-1.86z"/>
<path fill="#e4aea8" d="M239.00 186.97h3.73v5.97h-3.73zM239.00 204.87h3.73v5.97h-3.73zM242.73 246.63h1.86v5.97h-1.86zM253.91 252.60h1.86v5.97h-1.86zM367.59 264.53h1.86v5.97h-1.86zM270.68 292.08h3.73v5.96h-3.73zM358.27 292.08h1.86v5.96h-1.86zM283.73 298.04h1.86v5.96h-1.86zM401.14 298.04h1.86v5.96h-1.86zM352.68 309.96h1.86v5.96h-1.86zM293.05 327.84h3.73v5.96h-3.73zM391.82 351.68h5.59v5.96h-5.59zM447.73 367.80h1.86v5.94h-1.86zM453.32 367.80h1.86v5.94h-1.86zM457.05 367.80h1.86v5.94h-1.86zM473.82 367.80h1.86v5.94h-1.86zM457.05 373.74h1.86v5.94h-1.86zM447.73 385.62h1.86v5.94h-1.86zM464.50 391.56h1.86v5.94h-1.86zM462.64 409.38h1.86v5.94h-1.86zM483.14 409.38h1.86v5.94h-1.86zM460.77 415.32h1.86v5.94h-1.86zM466.36 439.08h1.86v5.94h-1.86zM445.86 445.02h1.86v5.94h-1.86zM464.50 445.02h1.86v5.94h-1.86z"/>
<path fill="#c05454" d="M242.73 186.97h1.86v5.97h-1.86z"/>
<path fill="#d28478" d="M246.45 186.97h1.86v5.97h-1.86zM304.23 321.88h1.86v5.96h-1.86zM395.55 339.76h3.73v5.96h-3.73zM475.68 385.62h1.86v5.94h-1.86z"/>
<path fill="#f6eae4" d="M248.32 186.97h1.86v5.97h-1.86zM307.95 192.93h3.73v5.97h-3.73zM388.09 192.93h1.86v5.97h-1.86zM365.73 198.90h1.86v5.97h-1.86zM281.86 204.87h1.86v5.97h-1.86zM391.82 204.87h1.86v5.97h-1.86zM266.95 210.83h1.86v5.97h-1.86zM263.23 216.80h1.86v5.97h-1.86zM274.41 216.80h1.86v5.97h-1.86zM367.59 222.77h3.73v5.97h-3.73zM401.14 222.77h1.86v5.97h-1.86zM404.86 240.67h1.86v5.97h-1.86zM281.86 252.60h1.86v5.97h-1.86zM253.91 264.53h1.86v5.97h-1.86zM395.55 264.53h3.73v5.97h-3.73zM401.14 264.53h1.86v5.97h-1.86zM311.68 274.20h1.86v5.96h-1.86zM391.82 274.20h1.86v5.96h-1.86zM261.36 280.16h1.86v5.96h-1.86zM352.68 280.16h1.86v5.96h-1.86zM341.50 286.12h3.73v5.96h-3.73zM358.27 286.12h1.86v5.96h-1.86zM252.05 292.08h1.86v5.96h-1.86zM388.09 292.08h1.86v5.96h-1.86zM265.09 298.04h1.86v5.96h-1.86zM457.05 298.04h1.86v5.96h-1.86zM373.18 304.00h1.86v5.96h-1.86zM291.18 327.84h1.86v5.96h-1.86zM257.64 333.80h1.86v5.96h-1.86zM285.59 333.80h1.86v5.96h-1.86zM319.14 333.80h1.86v5.96h-1.86zM393.68 333.80h1.86v5.96h-1.86zM291.18 339.76h1.86v5.96h-1.86zM389.95 339.76h3.73v5.96h-3.73zM322.86 351.68h1.86v5.96h-1.86zM257.64 357.64h1.86v5.96h-1.86zM321.00 357.64h1.86v5.96h-1.86zM341.50 357.64h1.86v5.96h-1.86zM440.27 379.68h1.86v5.94h-1.86zM473.82 385.62h1.86v5.94h-1.86zM406.73 409.38h1.86v5.94h-1.86zM404.86 421.26h1.86v5.94h-1.86zM414.18 427.20h3.73v5.94h-3.73zM457.05 427.20h1.86v5.94h-1.86zM466.36 433.14h1.86v5.94h-1.86zM442.14 439.08h3.73v5.94h-3.73zM412.32 445.02h1.86v5.94h-1.86z"/>
<path fill="#e4aea2" d="M250.18 186.97h1.86v5.97h-1.86zM285.59 186.97h3.73v5.97h-3.73zM263.23 210.83h3.73v5.97h-3.73zM266.95 222.77h1.86v5.97h-1.86zM358.27 246.63h1.86v5.97h-1.86zM335.91 274.20h1.86v5.96h-1.86zM281.86 286.12h1.86v5.96h-1.86zM302.36 292.08h1.86v5.96h-1.86zM324.73 292.08h1.86v5.96h-1.86zM334.05 292.08h1.86v5.96h-1.86zM337.77 298.04h1.86v5.96h-1.86zM347.09 298.04h1.86v5.96h-1.86zM263.23 304.00h1.86v5.96h-1.86zM358.27 304.00h1.86v5.96h-1.86zM265.09 315.92h1.86v5.96h-1.86zM300.50 345.72h1.86v5.96h-1.86zM339.64 351.68h1.86v5.96h-1.86zM475.68 367.80h1.86v5.94h-1.86zM434.68 379.68h1.86v5.94h-1.86zM470.09 379.68h1.86v5.94h-1.86zM477.55 379.68h1.86v5.94h-1.86zM425.36 385.62h1.86v5.94h-1.86zM451.45 385.62h1.86v5.94h-1.86zM477.55 385.62h1.86v5.94h-1.86zM427.23 391.56h1.86v5.94h-1.86zM445.86 397.50h3.73v5.94h-3.73zM436.55 403.44h1.86v5.94h-1.86zM479.41 409.38h1.86v5.94h-1.86zM436.55 415.32h1.86v5.94h-1.86zM444.00 415.32h1.86v5.94h-1.86zM421.64 421.26h1.86v5.94h-1.86zM427.23 427.20h1.86v5.94h-1.86zM442.14 427.20h1.86v5.94h-1.86zM479.41 427.20h1.86v5.94h-1.86zM481.27 433.14h1.86v5.94h-1.86zM477.55 439.08h1.86v5.94h-1.86zM432.82 445.02h1.86v5.94h-1.86zM462.64 450.96h1.86v5.94h-1.86zM481.27 450.96h1.86v5.94h-1.86z"/>
<path fill="#eaccc0" d="M253.91 186.97h1.86v5.97h-1.86zM373.18 186.97h1.86v5.97h-1.86zM261.36 192.93h1.86v5.97h-1.86zM265.09 204.87h1.86v5.97h-1.86zM272.55 204.87h1.86v5.97h-1.86zM375.05 210.83h1.86v5.97h-1.86zM395.55 210.83h1.86v5.97h-1.86zM252.05 228.73h1.86v5.97h-1.86zM276.27 240.67h1.86v5.97h-1.86zM253.91 258.57h1.86v5.97h-1.86zM393.68 264.53h1.86v5.97h-1.86zM261.36 274.20h1.86v5.96h-1.86zM341.50 274.20h1.86v5.96h-1.86zM401.14 274.20h3.73v5.96h-3.73zM363.86 280.16h1.86v5.96h-1.86zM376.91 280.16h1.86v5.96h-1.86zM399.27 280.16h1.86v5.96h-1.86zM352.68 286.12h1.86v5.96h-1.86zM395.55 286.12h1.86v5.96h-1.86zM399.27 292.08h1.86v5.96h-1.86zM319.14 298.04h3.73v5.96h-3.73zM324.73 298.04h1.86v5.96h-1.86zM362.00 298.04h1.86v5.96h-1.86zM270.68 304.00h1.86v5.96h-1.86zM283.73 309.96h1.86v5.96h-1.86zM343.36 309.96h5.59v5.96h-5.59zM403.00 309.96h1.86v5.96h-1.86zM324.73 315.92h1.86v5.96h-1.86zM345.23 315.92h1.86v5.96h-1.86zM311.68 321.88h1.86v5.96h-1.86zM373.18 321.88h1.86v5.96h-1.86zM322.86 327.84h1.86v5.96h-1.86zM259.50 339.76h1.86v5.96h-1.86zM306.09 339.76h1.86v5.96h-1.86zM322.86 339.76h3.73v5.96h-3.73zM401.14 339.76h1.86v5.96h-1.86zM391.82 345.72h1.86v5.96h-1.86zM384.36 351.68h1.86v5.96h-1.86zM399.27 351.68h1.86v5.96h-1.86zM362.00 357.64h3.73v5.96h-3.73zM440.27 367.80h1.86v5.94h-1.86zM477.55 373.74h1.86v5.94h-1.86zM483.14 379.68h1.86v5.94h-1.86zM430.95 385.62h1.86v5.94h-1.86zM436.55 385.62h1.86v5.94h-1.86zM453.32 391.56h1.86v5.94h-1.86zM434.68 397.50h1.86v5.94h-1.86zM442.14 409.38h3.73v5.94h-3.73zM471.95 409.38h1.86v5.94h-1.86zM449.59 415.32h1.86v5.94h-1.86zM453.32 421.26h1.86v5.94h-1.86zM473.82 427.20h1.86v5.94h-1.86zM430.95 433.14h1.86v5.94h-1.86zM440.27 433.14h1.86v5.94h-1.86zM473.82 439.08h1.86v5.94h-1.86zM462.64 445.02h1.86v5.94h-1.86zM438.41 450.96h1.86v5.94h-1.86zM477.55 450.96h1.86v5.94h-1.86z"/>
<path fill="#e4c0b4" d="M265.09 186.97h1.86v5.97h-1.86zM272.55 198.90h1.86v5.97h-1.86zM397.41 210.83h1.86v5.97h-1.86zM253.91 234.70h1.86v5.97h-1.86zM259.50 264.53h1.86v5.97h-1.86zM274.41 264.53h1.86v5.97h-1.86zM283.73 274.20h1.86v5.96h-1.86zM348.95 274.20h1.86v5.96h-1.86zM293.05 292.08h5.59v5.96h-5.59zM268.82 298.04h3.73v5.96h-3.73zM378.77 298.04h1.86v5.96h-1.86zM306.09 304.00h1.86v5.96h-1.86zM391.82 304.00h1.86v5.96h-1.86zM307.95 315.92h1.86v5.96h-1.86zM334.05 315.92h1.86v5.96h-1.86zM239.00 321.88h1.86v5.96h-1.86zM328.45 333.80h1.86v5.96h-1.86zM395.55 333.80h1.86v5.96h-1.86zM401.14 333.80h1.86v5.96h-1.86zM373.18 339.76h1.86v5.96h-1.86zM296.77 357.64h1.86v5.96h-1.86zM403.00 357.64h1.86v5.96h-1.86zM444.00 373.74h1.86v5.94h-1.86zM453.32 379.68h1.86v5.94h-1.86zM464.50 385.62h1.86v5.94h-1.86zM468.23 385.62h3.73v5.94h-3.73zM444.00 397.50h1.86v5.94h-1.86zM447.73 403.44h1.86v5.94h-1.86zM423.50 409.38h1.86v5.94h-1.86zM427.23 421.26h3.73v5.94h-3.73zM436.55 421.26h1.86v5.94h-1.86zM460.77 421.26h1.86v5.94h-1.86zM429.09 433.14h1.86v5.94h-1.86zM417.91 439.08h1.86v5.94h-1.86zM430.95 439.08h1.86v5.94h-1.86zM451.45 439.08h1.86v5.94h-1.86zM436.55 445.02h1.86v5.94h-1.86zM440.27 445.02h1.86v5.94h-1.86zM416.05 450.96h3.73v5.94h-3.73zM429.09 450.96h1.86v5.94h-1.86z"/>
<path fill="#f0e4e4" d="M270.68 186.97h1.86v5.97h-1.86zM296.77 192.93h1.86v5.97h-1.86zM268.82 204.87h1.86v5.97h-1.86zM268.82 234.70h1.86v5.97h-1.86zM276.27 234.70h1.86v5.97h-1.86zM440.27 246.63h1.86v5.97h-1.86zM470.09 246.63h1.86v5.97h-1.86zM274.41 274.20h1.86v5.96h-1.86zM281.86 274.20h1.86v5.96h-1.86zM306.09 274.20h1.86v5.96h-1.86zM276.27 280.16h1.86v5.96h-1.86zM302.36 280.16h1.86v5.96h-1.86zM283.73 286.12h3.73v5.96h-3.73zM321.00 286.12h1.86v5.96h-1.86zM376.91 292.08h1.86v5.96h-1.86zM395.55 292.08h1.86v5.96h-1.86zM393.68 298.04h1.86v5.96h-1.86zM369.45 304.00h1.86v5.96h-1.86zM397.41 304.00h1.86v5.96h-1.86zM261.36 315.92h1.86v5.96h-1.86zM283.73 321.88h1.86v5.96h-1.86zM315.41 327.84h1.86v5.96h-1.86zM373.18 327.84h1.86v5.96h-1.86zM287.45 333.80h1.86v5.96h-1.86zM345.23 333.80h1.86v5.96h-1.86zM356.41 333.80h5.59v5.96h-5.59zM375.05 333.80h1.86v5.96h-1.86zM322.86 345.72h1.86v5.96h-1.86zM257.64 351.68h1.86v5.96h-1.86zM265.09 357.64h1.86v5.96h-1.86zM293.05 357.64h1.86v5.96h-1.86zM367.59 357.64h1.86v5.96h-1.86zM417.91 379.68h1.86v5.94h-1.86zM412.32 385.62h1.86v5.94h-1.86zM468.23 391.56h1.86v5.94h-1.86zM417.91 397.50h1.86v5.94h-1.86zM423.50 421.26h3.73v5.94h-3.73zM434.68 450.96h1.86v5.94h-1.86z"/>
<path fill="#e4baae" d="M272.55 186.97h1.86v5.97h-1.86zM369.45 186.97h3.73v5.97h-3.73zM367.59 210.83h3.73v5.97h-3.73zM239.00 216.80h1.86v5.97h-1.86zM272.55 234.70h1.86v5.97h-1.86zM248.32 240.67h1.86v5.97h-1.86zM270.68 246.63h1.86v5.97h-1.86zM302.36 274.20h3.73v5.96h-3.73zM386.23 280.16h1.86v5.96h-1.86zM246.45 286.12h1.86v5.96h-1.86zM253.91 286.12h1.86v5.96h-1.86zM334.05 286.12h3.73v5.96h-3.73zM322.86 292.08h1.86v5.96h-1.86zM294.91 304.00h1.86v5.96h-1.86zM321.00 304.00h3.73v5.96h-3.73zM350.82 304.00h1.86v5.96h-1.86zM356.41 309.96h3.73v5.96h-3.73zM391.82 309.96h1.86v5.96h-1.86zM341.50 315.92h1.86v5.96h-1.86zM352.68 315.92h1.86v5.96h-1.86zM363.86 315.92h1.86v5.96h-1.86zM339.64 321.88h1.86v5.96h-1.86zM354.55 327.84h1.86v5.96h-1.86zM401.14 327.84h1.86v5.96h-1.86zM393.68 339.76h1.86v5.96h-1.86zM339.64 345.72h1.86v5.96h-1.86zM319.14 351.68h1.86v5.96h-1.86zM345.23 351.68h1.86v5.96h-1.86zM274.41 357.64h1.86v5.96h-1.86zM432.82 391.56h3.73v5.94h-3.73zM455.18 391.56h3.73v5.94h-3.73zM468.23 403.44h1.86v5.94h-1.86zM473.82 403.44h7.45v5.94h-7.45zM410.45 409.38h1.86v5.94h-1.86zM419.77 409.38h1.86v5.94h-1.86zM412.32 415.32h1.86v5.94h-1.86zM447.73 415.32h1.86v5.94h-1.86zM451.45 415.32h1.86v5.94h-1.86zM458.91 415.32h1.86v5.94h-1.86zM438.41 427.20h1.86v5.94h-1.86zM432.82 433.14h1.86v5.94h-1.86zM464.50 433.14h1.86v5.94h-1.86zM432.82 439.08h1.86v5.94h-1.86zM427.23 450.96h1.86v5.94h-1.86zM444.00 450.96h1.86v5.94h-1.86zM455.18 450.96h1.86v5.94h-1.86z"/>
<path fill="#eac6ba" d="M274.41 186.97h1.86v5.97h-1.86zM244.59 198.90h1.86v5.97h-1.86zM244.59 228.73h1.86v5.97h-1.86zM281.86 234.70h1.86v5.97h-1.86zM393.68 240.67h1.86v5.97h-1.86zM255.77 258.57h1.86v5.97h-1.86zM384.36 286.12h1.86v5.96h-1.86zM389.95 286.12h1.86v5.96h-1.86zM332.18 292.08h1.86v5.96h-1.86zM397.41 298.04h1.86v5.96h-1.86zM293.05 304.00h1.86v5.96h-1.86zM324.73 309.96h1.86v5.96h-1.86zM401.14 309.96h1.86v5.96h-1.86zM300.50 315.92h1.86v5.96h-1.86zM388.09 321.88h1.86v5.96h-1.86zM242.73 327.84h1.86v5.96h-1.86zM283.73 327.84h1.86v5.96h-1.86zM330.32 339.76h1.86v5.96h-1.86zM341.50 339.76h3.73v5.96h-3.73zM354.55 357.64h1.86v5.96h-1.86zM468.23 367.80h3.73v5.94h-3.73zM453.32 373.74h3.73v5.94h-3.73zM423.50 379.68h1.86v5.94h-1.86zM455.18 379.68h3.73v5.94h-3.73zM442.14 385.62h3.73v5.94h-3.73zM460.77 385.62h1.86v5.94h-1.86zM458.91 397.50h1.86v5.94h-1.86zM429.09 403.44h1.86v5.94h-1.86zM470.09 421.26h1.86v5.94h-1.86zM464.50 427.20h1.86v5.94h-1.86zM438.41 433.14h1.86v5.94h-1.86zM453.32 433.14h1.86v5.94h-1.86zM457.05 445.02h3.73v5.94h-3.73z"/>
<path fill="#b4bad8" d="M289.32 186.97h1.86v5.97h-1.86zM328.45 186.97h1.86v5.97h-1.86zM335.91 186.97h1.86v5.97h-1.86zM339.64 186.97h1.86v5.97h-1.86zM362.00 186.97h5.59v5.97h-5.59zM406.73 186.97h3.73v5.97h-3.73zM414.18 186.97h5.59v5.97h-5.59zM444.00 186.97h3.73v5.97h-3.73zM451.45 186.97h1.86v5.97h-1.86zM475.68 186.97h1.86v5.97h-1.86zM481.27 186.97h3.73v5.97h-3.73zM291.18 192.93h1.86v5.97h-1.86zM324.73 204.87h1.86v5.97h-1.86zM352.68 204.87h1.86v5.97h-1.86zM419.77 204.87h1.86v5.97h-1.86zM430.95 204.87h1.86v5.97h-1.86zM451.45 204.87h1.86v5.97h-1.86zM455.18 204.87h1.86v5.97h-1.86zM460.77 204.87h1.86v5.97h-1.86zM464.50 204.87h1.86v5.97h-1.86zM298.64 210.83h5.59v5.97h-5.59zM416.05 210.83h3.73v5.97h-3.73zM421.64 210.83h1.86v5.97h-1.86zM425.36 210.83h1.86v5.97h-1.86zM442.14 210.83h5.59v5.97h-5.59zM477.55 210.83h1.86v5.97h-1.86zM293.05 228.73h1.86v5.97h-1.86zM358.27 240.67h3.73v5.97h-3.73zM369.45 240.67h1.86v5.97h-1.86zM449.59 240.67h1.86v5.97h-1.86zM425.36 246.63h3.73v5.97h-3.73zM436.55 246.63h1.86v5.97h-1.86zM466.36 246.63h1.86v5.97h-1.86zM403.00 258.57h1.86v5.97h-1.86zM432.82 258.57h1.86v5.97h-1.86zM360.14 264.53h1.86v5.97h-1.86zM404.86 264.53h1.86v5.97h-1.86zM410.45 264.53h1.86v5.97h-1.86zM419.77 264.53h3.73v5.97h-3.73zM427.23 264.53h5.59v5.97h-5.59zM434.68 264.53h1.86v5.97h-1.86zM440.27 264.53h3.73v5.97h-3.73zM445.86 264.53h1.86v5.97h-1.86zM458.91 264.53h1.86v5.97h-1.86zM464.50 264.53h1.86v5.97h-1.86zM468.23 264.53h3.73v5.97h-3.73zM477.55 264.53h1.86v5.97h-1.86zM483.14 264.53h1.86v5.97h-1.86zM404.86 274.20h1.86v5.96h-1.86zM442.14 274.20h1.86v5.96h-1.86zM449.59 274.20h1.86v5.96h-1.86zM458.91 274.20h1.86v5.96h-1.86zM462.64 274.20h1.86v5.96h-1.86zM244.59 286.12h1.86v5.96h-1.86zM257.64 286.12h3.73v5.96h-3.73zM276.27 286.12h1.86v5.96h-1.86zM408.59 292.08h1.86v5.96h-1.86zM414.18 292.08h5.59v5.96h-5.59zM423.50 292.08h1.86v5.96h-1.86zM427.23 292.08h5.59v5.96h-5.59zM442.14 292.08h3.73v5.96h-3.73zM457.05 292.08h1.86v5.96h-1.86zM464.50 292.08h5.59v5.96h-5.59zM471.95 292.08h1.86v5.96h-1.86zM261.36 298.04h1.86v5.96h-1.86zM266.95 298.04h1.86v5.96h-1.86zM283.73 315.92h1.86v5.96h-1.86zM291.18 315.92h1.86v5.96h-1.86zM430.95 315.92h1.86v5.96h-1.86zM442.14 315.92h1.86v5.96h-1.86zM265.09 321.88h3.73v5.96h-3.73zM274.41 327.84h1.86v5.96h-1.86zM464.50 327.84h3.73v5.96h-3.73zM248.32 333.80h3.73v5.96h-3.73zM281.86 333.80h1.86v5.96h-1.86zM261.36 339.76h1.86v5.96h-1.86zM326.59 345.72h1.86v5.96h-1.86zM414.18 345.72h1.86v5.96h-1.86zM417.91 345.72h1.86v5.96h-1.86zM421.64 345.72h1.86v5.96h-1.86zM438.41 345.72h3.73v5.96h-3.73zM481.27 345.72h3.73v5.96h-3.73zM270.68 351.68h1.86v5.96h-1.86zM412.32 357.64h1.86v5.96h-1.86zM425.36 357.64h5.59v5.96h-5.59zM442.14 357.64h13.05v5.96h-13.05zM458.91 357.64h1.86v5.96h-1.86zM470.09 357.64h3.73v5.96h-3.73zM479.41 357.64h1.86v5.96h-1.86zM306.09 367.80h3.73v5.94h-3.73zM367.59 367.80h1.86v5.94h-1.86zM373.18 367.80h1.86v5.94h-1.86zM246.45 379.68h1.86v5.94h-1.86zM266.95 379.68h3.73v5.94h-3.73zM287.45 379.68h3.73v5.94h-3.73zM294.91 379.68h7.45v5.94h-7.45zM306.09 379.68h1.86v5.94h-1.86zM309.82 379.68h1.86v5.94h-1.86zM313.55 379.68h1.86v5.94h-1.86zM324.73 379.68h3.73v5.94h-3.73zM332.18 379.68h1.86v5.94h-1.86zM352.68 379.68h1.86v5.94h-1.86zM382.50 379.68h3.73v5.94h-3.73zM397.41 379.68h1.86v5.94h-1.86zM391.82 391.56h1.86v5.94h-1.86zM406.73 391.56h1.86v5.94h-1.86zM268.82 397.50h1.86v5.94h-1.86zM352.68 427.20h3.73v5.94h-3.73zM386.23 427.20h1.86v5.94h-1.86zM239.00 445.02h1.86v5.94h-1.86zM265.09 445.02h1.86v5.94h-1.86zM268.82 445.02h3.73v5.94h-3.73zM280.00 445.02h1.86v5.94h-1.86zM287.45 445.02h1.86v5.94h-1.86zM332.18 445.02h9.32v5.94h-9.32zM343.36 445.02h5.59v5.94h-5.59zM354.55 445.02h1.86v5.94h-1.86zM365.73 445.02h3.73v5.94h-3.73zM399.27 445.02h1.86v5.94h-1.86zM319.14 450.96h3.73v5.94h-3.73z"/>
<path fill="#b4b4d8" d="M306.09 186.97h1.86v5.97h-1.86zM352.68 186.97h1.86v5.97h-1.86zM397.41 186.97h1.86v5.97h-1.86zM410.45 186.97h1.86v5.97h-1.86zM430.95 186.97h3.73v5.97h-3.73zM438.41 186.97h3.73v5.97h-3.73zM455.18 186.97h3.73v5.97h-3.73zM460.77 186.97h3.73v5.97h-3.73zM477.55 186.97h1.86v5.97h-1.86zM365.73 204.87h1.86v5.97h-1.86zM410.45 204.87h3.73v5.97h-3.73zM432.82 204.87h1.86v5.97h-1.86zM457.05 204.87h1.86v5.97h-1.86zM462.64 204.87h1.86v5.97h-1.86zM473.82 210.83h1.86v5.97h-1.86zM479.41 210.83h3.73v5.97h-3.73zM276.27 228.73h1.86v5.97h-1.86zM412.32 240.67h1.86v5.97h-1.86zM399.27 246.63h1.86v5.97h-1.86zM376.91 258.57h1.86v5.97h-1.86zM416.05 264.53h1.86v5.97h-1.86zM432.82 264.53h1.86v5.97h-1.86zM444.00 264.53h1.86v5.97h-1.86zM449.59 264.53h7.45v5.97h-7.45zM475.68 264.53h1.86v5.97h-1.86zM248.32 274.20h3.73v5.96h-3.73zM421.64 274.20h1.86v5.96h-1.86zM255.77 280.16h1.86v5.96h-1.86zM395.55 280.16h3.73v5.96h-3.73zM410.45 292.08h1.86v5.96h-1.86zM425.36 292.08h1.86v5.96h-1.86zM438.41 292.08h3.73v5.96h-3.73zM470.09 292.08h1.86v5.96h-1.86zM242.73 298.04h1.86v5.96h-1.86zM263.23 298.04h1.86v5.96h-1.86zM263.23 309.96h1.86v5.96h-1.86zM259.50 321.88h1.86v5.96h-1.86zM481.27 327.84h1.86v5.96h-1.86zM270.68 333.80h1.86v5.96h-1.86zM404.86 345.72h1.86v5.96h-1.86zM419.77 345.72h1.86v5.96h-1.86zM436.55 345.72h1.86v5.96h-1.86zM449.59 345.72h1.86v5.96h-1.86zM460.77 345.72h1.86v5.96h-1.86zM470.09 345.72h1.86v5.96h-1.86zM404.86 357.64h5.59v5.96h-5.59zM464.50 357.64h1.86v5.96h-1.86zM248.32 379.68h1.86v5.94h-1.86zM280.00 379.68h1.86v5.94h-1.86zM291.18 379.68h1.86v5.94h-1.86zM302.36 379.68h1.86v5.94h-1.86zM307.95 379.68h1.86v5.94h-1.86zM315.41 379.68h1.86v5.94h-1.86zM319.14 379.68h1.86v5.94h-1.86zM334.05 379.68h3.73v5.94h-3.73zM339.64 379.68h1.86v5.94h-1.86zM365.73 379.68h1.86v5.94h-1.86zM371.32 379.68h1.86v5.94h-1.86zM393.68 379.68h1.86v5.94h-1.86zM399.27 379.68h5.59v5.94h-5.59zM244.59 445.02h1.86v5.94h-1.86zM248.32 445.02h1.86v5.94h-1.86zM259.50 445.02h3.73v5.94h-3.73zM283.73 445.02h1.86v5.94h-1.86zM322.86 445.02h1.86v5.94h-1.86zM328.45 445.02h1.86v5.94h-1.86zM348.95 445.02h1.86v5.94h-1.86zM356.41 445.02h3.73v5.94h-3.73zM393.68 445.02h1.86v5.94h-1.86z"/>
<path fill="#cccce4" d="M311.68 186.97h1.86v5.97h-1.86zM326.59 186.97h1.86v5.97h-1.86zM281.86 192.93h1.86v5.97h-1.86zM291.18 204.87h1.86v5.97h-1.86zM304.23 204.87h1.86v5.97h-1.86zM276.27 210.83h1.86v5.97h-1.86zM311.68 210.83h1.86v5.97h-1.86zM330.32 210.83h1.86v5.97h-1.86zM341.50 210.83h3.73v5.97h-3.73zM350.82 210.83h1.86v5.97h-1.86zM354.55 210.83h1.86v5.97h-1.86zM378.77 210.83h1.86v5.97h-1.86zM266.95 216.80h1.86v5.97h-1.86zM350.82 216.80h1.86v5.97h-1.86zM373.18 216.80h1.86v5.97h-1.86zM406.73 216.80h1.86v5.97h-1.86zM425.36 216.80h7.45v5.97h-7.45zM434.68 216.80h1.86v5.97h-1.86zM444.00 216.80h1.86v5.97h-1.86zM457.05 216.80h3.73v5.97h-3.73zM466.36 216.80h1.86v5.97h-1.86zM473.82 216.80h1.86v5.97h-1.86zM477.55 216.80h1.86v5.97h-1.86zM293.05 222.77h1.86v5.97h-1.86zM300.50 222.77h1.86v5.97h-1.86zM319.14 222.77h7.45v5.97h-7.45zM347.09 222.77h1.86v5.97h-1.86zM380.64 228.73h1.86v5.97h-1.86zM440.27 228.73h1.86v5.97h-1.86zM460.77 228.73h1.86v5.97h-1.86zM430.95 234.70h1.86v5.97h-1.86zM440.27 234.70h1.86v5.97h-1.86zM453.32 234.70h1.86v5.97h-1.86zM293.05 240.67h1.86v5.97h-1.86zM300.50 240.67h1.86v5.97h-1.86zM334.05 240.67h1.86v5.97h-1.86zM362.00 240.67h1.86v5.97h-1.86zM367.59 240.67h1.86v5.97h-1.86zM477.55 240.67h1.86v5.97h-1.86zM281.86 246.63h1.86v5.97h-1.86zM296.77 246.63h1.86v5.97h-1.86zM332.18 246.63h3.73v5.97h-3.73zM380.64 246.63h1.86v5.97h-1.86zM442.14 246.63h1.86v5.97h-1.86zM315.41 252.60h1.86v5.97h-1.86zM371.32 252.60h1.86v5.97h-1.86zM408.59 252.60h1.86v5.97h-1.86zM421.64 252.60h1.86v5.97h-1.86zM408.59 258.57h1.86v5.97h-1.86zM414.18 258.57h1.86v5.97h-1.86zM421.64 258.57h1.86v5.97h-1.86zM455.18 258.57h1.86v5.97h-1.86zM458.91 258.57h1.86v5.97h-1.86zM464.50 258.57h5.59v5.97h-5.59zM481.27 258.57h1.86v5.97h-1.86zM309.82 264.53h1.86v5.97h-1.86zM337.77 264.53h1.86v5.97h-1.86zM369.45 264.53h1.86v5.97h-1.86zM240.86 280.16h1.86v5.96h-1.86zM348.95 280.16h1.86v5.96h-1.86zM410.45 280.16h1.86v5.96h-1.86zM268.82 286.12h1.86v5.96h-1.86zM272.55 286.12h1.86v5.96h-1.86zM397.41 286.12h1.86v5.96h-1.86zM408.59 286.12h1.86v5.96h-1.86zM412.32 286.12h3.73v5.96h-3.73zM442.14 286.12h1.86v5.96h-1.86zM481.27 286.12h1.86v5.96h-1.86zM239.00 298.04h1.86v5.96h-1.86zM354.55 298.04h3.73v5.96h-3.73zM285.59 304.00h1.86v5.96h-1.86zM240.86 309.96h1.86v5.96h-1.86zM253.91 309.96h1.86v5.96h-1.86zM406.73 309.96h1.86v5.96h-1.86zM416.05 309.96h1.86v5.96h-1.86zM425.36 309.96h1.86v5.96h-1.86zM449.59 309.96h1.86v5.96h-1.86zM466.36 309.96h3.73v5.96h-3.73zM471.95 309.96h1.86v5.96h-1.86zM481.27 309.96h1.86v5.96h-1.86zM253.91 315.92h3.73v5.96h-3.73zM272.55 315.92h1.86v5.96h-1.86zM289.32 315.92h1.86v5.96h-1.86zM255.77 321.88h1.86v5.96h-1.86zM430.95 321.88h1.86v5.96h-1.86zM434.68 321.88h5.59v5.96h-5.59zM445.86 321.88h3.73v5.96h-3.73zM460.77 321.88h1.86v5.96h-1.86zM483.14 321.88h1.86v5.96h-1.86zM244.59 327.84h1.86v5.96h-1.86zM252.05 333.80h3.73v5.96h-3.73zM259.50 333.80h7.45v5.96h-7.45zM430.95 333.80h1.86v5.96h-1.86zM447.73 333.80h1.86v5.96h-1.86zM462.64 333.80h3.73v5.96h-3.73zM470.09 333.80h1.86v5.96h-1.86zM475.68 333.80h1.86v5.96h-1.86zM266.95 345.72h1.86v5.96h-1.86zM289.32 351.68h1.86v5.96h-1.86zM388.09 351.68h1.86v5.96h-1.86zM401.14 351.68h1.86v5.96h-1.86zM436.55 351.68h1.86v5.96h-1.86zM444.00 351.68h1.86v5.96h-1.86zM451.45 351.68h1.86v5.96h-1.86zM460.77 351.68h5.59v5.96h-5.59zM470.09 351.68h5.59v5.96h-5.59zM483.14 351.68h1.86v5.96h-1.86zM304.23 357.64h1.86v5.96h-1.86zM285.59 367.80h1.86v5.94h-1.86zM293.05 367.80h3.73v5.94h-3.73zM324.73 367.80h1.86v5.94h-1.86zM330.32 367.80h1.86v5.94h-1.86zM406.73 367.80h3.73v5.94h-3.73zM280.00 373.74h3.73v5.94h-3.73zM287.45 373.74h1.86v5.94h-1.86zM322.86 373.74h5.59v5.94h-5.59zM348.95 373.74h1.86v5.94h-1.86zM354.55 373.74h1.86v5.94h-1.86zM406.73 379.68h1.86v5.94h-1.86zM239.00 385.62h9.32v5.94h-9.32zM253.91 385.62h1.86v5.94h-1.86zM259.50 385.62h3.73v5.94h-3.73zM274.41 385.62h1.86v5.94h-1.86zM285.59 385.62h3.73v5.94h-3.73zM309.82 385.62h1.86v5.94h-1.86zM315.41 385.62h1.86v5.94h-1.86zM337.77 385.62h1.86v5.94h-1.86zM354.55 385.62h1.86v5.94h-1.86zM365.73 385.62h3.73v5.94h-3.73zM376.91 385.62h1.86v5.94h-1.86zM382.50 385.62h9.32v5.94h-9.32zM393.68 385.62h1.86v5.94h-1.86zM403.00 385.62h1.86v5.94h-1.86zM244.59 391.56h1.86v5.94h-1.86zM281.86 391.56h1.86v5.94h-1.86zM296.77 391.56h3.73v5.94h-3.73zM306.09 391.56h1.86v5.94h-1.86zM322.86 391.56h1.86v5.94h-1.86zM334.05 391.56h1.86v5.94h-1.86zM362.00 391.56h1.86v5.94h-1.86zM384.36 391.56h1.86v5.94h-1.86zM263.23 397.50h3.73v5.94h-3.73zM287.45 397.50h3.73v5.94h-3.73zM348.95 397.50h5.59v5.94h-5.59zM358.27 397.50h1.86v5.94h-1.86zM367.59 397.50h1.86v5.94h-1.86zM239.00 403.44h1.86v5.94h-1.86zM257.64 403.44h1.86v5.94h-1.86zM285.59 403.44h1.86v5.94h-1.86zM293.05 403.44h1.86v5.94h-1.86zM313.55 403.44h1.86v5.94h-1.86zM352.68 403.44h1.86v5.94h-1.86zM389.95 403.44h1.86v5.94h-1.86zM395.55 403.44h1.86v5.94h-1.86zM240.86 409.38h1.86v5.94h-1.86zM309.82 409.38h1.86v5.94h-1.86zM334.05 409.38h1.86v5.94h-1.86zM350.82 409.38h1.86v5.94h-1.86zM356.41 409.38h1.86v5.94h-1.86zM360.14 409.38h1.86v5.94h-1.86zM255.77 415.32h1.86v5.94h-1.86zM263.23 415.32h3.73v5.94h-3.73zM300.50 415.32h1.86v5.94h-1.86zM307.95 415.32h1.86v5.94h-1.86zM313.55 415.32h1.86v5.94h-1.86zM334.05 415.32h1.86v5.94h-1.86zM350.82 415.32h3.73v5.94h-3.73zM356.41 415.32h1.86v5.94h-1.86zM384.36 415.32h1.86v5.94h-1.86zM246.45 421.26h1.86v5.94h-1.86zM291.18 421.26h1.86v5.94h-1.86zM309.82 421.26h1.86v5.94h-1.86zM321.00 421.26h1.86v5.94h-1.86zM388.09 421.26h1.86v5.94h-1.86zM239.00 427.20h1.86v5.94h-1.86zM289.32 427.20h1.86v5.94h-1.86zM311.68 427.20h1.86v5.94h-1.86zM326.59 427.20h3.73v5.94h-3.73zM371.32 427.20h1.86v5.94h-1.86zM403.00 427.20h1.86v5.94h-1.86zM240.86 433.14h3.73v5.94h-3.73zM250.18 433.14h5.59v5.94h-5.59zM261.36 433.14h3.73v5.94h-3.73zM268.82 433.14h1.86v5.94h-1.86zM276.27 433.14h3.73v5.94h-3.73zM293.05 433.14h1.86v5.94h-1.86zM302.36 433.14h5.59v5.94h-5.59zM313.55 433.14h1.86v5.94h-1.86zM324.73 433.14h1.86v5.94h-1.86zM330.32 433.14h1.86v5.94h-1.86zM345.23 433.14h14.91v5.94h-14.91zM375.05 433.14h1.86v5.94h-1.86zM378.77 433.14h3.73v5.94h-3.73zM388.09 433.14h1.86v5.94h-1.86zM393.68 433.14h1.86v5.94h-1.86zM399.27 433.14h1.86v5.94h-1.86zM239.00 439.08h1.86v5.94h-1.86zM244.59 439.08h1.86v5.94h-1.86zM252.05 439.08h3.73v5.94h-3.73zM257.64 439.08h1.86v5.94h-1.86zM270.68 439.08h5.59v5.94h-5.59zM278.14 439.08h3.73v5.94h-3.73zM291.18 439.08h1.86v5.94h-1.86zM302.36 439.08h1.86v5.94h-1.86zM307.95 439.08h1.86v5.94h-1.86zM311.68 439.08h3.73v5.94h-3.73zM319.14 439.08h7.45v5.94h-7.45zM330.32 439.08h3.73v5.94h-3.73zM339.64 439.08h1.86v5.94h-1.86zM356.41 439.08h1.86v5.94h-1.86zM371.32 439.08h1.86v5.94h-1.86zM376.91 439.08h1.86v5.94h-1.86zM382.50 439.08h3.73v5.94h-3.73zM397.41 439.08h1.86v5.94h-1.86zM404.86 439.08h1.86v5.94h-1.86zM240.86 450.96h1.86v5.94h-1.86zM244.59 450.96h1.86v5.94h-1.86zM322.86 450.96h1.86v5.94h-1.86zM326.59 450.96h5.59v5.94h-5.59zM337.77 450.96h1.86v5.94h-1.86zM347.09 450.96h1.86v5.94h-1.86zM369.45 450.96h3.73v5.94h-3.73zM395.55 450.96h3.73v5.94h-3.73zM403.00 450.96h1.86v5.94h-1.86z"/>
<path fill="#d2d2e4" d="M313.55 186.97h1.86v5.97h-1.86zM358.27 204.87h1.86v5.97h-1.86zM362.00 204.87h1.86v5.97h-1.86zM388.09 204.87h1.86v5.97h-1.86zM352.68 210.83h1.86v5.97h-1.86zM365.73 210.83h1.86v5.97h-1.86zM414.18 216.80h1.86v5.97h-1.86zM438.41 216.80h1.86v5.97h-1.86zM481.27 216.80h1.86v5.97h-1.86zM356.41 222.77h1.86v5.97h-1.86zM462.64 222.77h1.86v5.97h-1.86zM470.09 222.77h1.86v5.97h-1.86zM473.82 222.77h1.86v5.97h-1.86zM306.09 228.73h1.86v5.97h-1.86zM382.50 228.73h1.86v5.97h-1.86zM430.95 228.73h1.86v5.97h-1.86zM453.32 228.73h1.86v5.97h-1.86zM350.82 234.70h1.86v5.97h-1.86zM417.91 234.70h1.86v5.97h-1.86zM447.73 234.70h1.86v5.97h-1.86zM462.64 234.70h1.86v5.97h-1.86zM315.41 240.67h1.86v5.97h-1.86zM455.18 240.67h1.86v5.97h-1.86zM345.23 264.53h3.73v5.97h-3.73zM322.86 274.20h1.86v5.96h-1.86zM239.00 280.16h1.86v5.96h-1.86zM388.09 286.12h1.86v5.96h-1.86zM248.32 292.08h1.86v5.96h-1.86zM257.64 292.08h3.73v5.96h-3.73zM287.45 304.00h1.86v5.96h-1.86zM244.59 315.92h1.86v5.96h-1.86zM257.64 315.92h1.86v5.96h-1.86zM347.09 321.88h3.73v5.96h-3.73zM440.27 321.88h1.86v5.96h-1.86zM470.09 321.88h3.73v5.96h-3.73zM255.77 327.84h1.86v5.96h-1.86zM272.55 327.84h1.86v5.96h-1.86zM239.00 333.80h1.86v5.96h-1.86zM466.36 333.80h1.86v5.96h-1.86zM362.00 345.72h3.73v5.96h-3.73zM281.86 351.68h1.86v5.96h-1.86zM457.05 351.68h1.86v5.96h-1.86zM322.86 357.64h1.86v5.96h-1.86zM283.73 385.62h1.86v5.94h-1.86zM294.91 385.62h1.86v5.94h-1.86zM317.27 385.62h1.86v5.94h-1.86zM378.77 385.62h1.86v5.94h-1.86zM248.32 433.14h1.86v5.94h-1.86zM265.09 433.14h1.86v5.94h-1.86zM285.59 433.14h5.59v5.94h-5.59zM363.86 433.14h5.59v5.94h-5.59zM397.41 433.14h1.86v5.94h-1.86zM403.00 433.14h1.86v5.94h-1.86zM283.73 439.08h3.73v5.94h-3.73zM315.41 439.08h3.73v5.94h-3.73zM367.59 439.08h3.73v5.94h-3.73zM378.77 439.08h1.86v5.94h-1.86z"/>
<path fill="#bac0de" d="M319.14 186.97h1.86v5.97h-1.86zM337.77 186.97h1.86v5.97h-1.86zM367.59 186.97h1.86v5.97h-1.86zM382.50 186.97h1.86v5.97h-1.86zM391.82 186.97h1.86v5.97h-1.86zM319.14 204.87h1.86v5.97h-1.86zM343.36 204.87h1.86v5.97h-1.86zM285.59 228.73h7.45v5.97h-7.45zM309.82 228.73h1.86v5.97h-1.86zM367.59 228.73h1.86v5.97h-1.86zM285.59 234.70h1.86v5.97h-1.86zM302.36 240.67h3.73v5.97h-3.73zM322.86 240.67h3.73v5.97h-3.73zM373.18 240.67h1.86v5.97h-1.86zM419.77 240.67h1.86v5.97h-1.86zM430.95 240.67h1.86v5.97h-1.86zM285.59 246.63h1.86v5.97h-1.86zM307.95 246.63h1.86v5.97h-1.86zM369.45 246.63h1.86v5.97h-1.86zM401.14 246.63h1.86v5.97h-1.86zM362.00 252.60h1.86v5.97h-1.86zM477.55 252.60h1.86v5.97h-1.86zM386.23 258.57h1.86v5.97h-1.86zM313.55 264.53h1.86v5.97h-1.86zM352.68 264.53h1.86v5.97h-1.86zM406.73 264.53h1.86v5.97h-1.86zM423.50 264.53h1.86v5.97h-1.86zM447.73 264.53h1.86v5.97h-1.86zM250.18 280.16h1.86v5.96h-1.86zM457.05 280.16h5.59v5.96h-5.59zM466.36 280.16h1.86v5.96h-1.86zM410.45 286.12h1.86v5.96h-1.86zM462.64 286.12h1.86v5.96h-1.86zM470.09 286.12h1.86v5.96h-1.86zM475.68 286.12h1.86v5.96h-1.86zM244.59 292.08h3.73v5.96h-3.73zM412.32 292.08h1.86v5.96h-1.86zM445.86 292.08h5.59v5.96h-5.59zM460.77 292.08h1.86v5.96h-1.86zM483.14 292.08h1.86v5.96h-1.86zM240.86 298.04h1.86v5.96h-1.86zM248.32 298.04h3.73v5.96h-3.73zM291.18 298.04h1.86v5.96h-1.86zM296.77 298.04h1.86v5.96h-1.86zM317.27 309.96h3.73v5.96h-3.73zM417.91 309.96h1.86v5.96h-1.86zM438.41 309.96h1.86v5.96h-1.86zM447.73 309.96h1.86v5.96h-1.86zM457.05 309.96h1.86v5.96h-1.86zM432.82 315.92h1.86v5.96h-1.86zM272.55 321.88h1.86v5.96h-1.86zM462.64 321.88h1.86v5.96h-1.86zM278.14 327.84h3.73v5.96h-3.73zM274.41 345.72h1.86v5.96h-1.86zM242.73 351.68h1.86v5.96h-1.86zM477.55 351.68h1.86v5.96h-1.86zM255.77 357.64h1.86v5.96h-1.86zM281.86 357.64h1.86v5.96h-1.86zM440.27 357.64h1.86v5.96h-1.86zM455.18 357.64h3.73v5.96h-3.73zM460.77 357.64h1.86v5.96h-1.86zM473.82 357.64h1.86v5.96h-1.86zM240.86 367.80h1.86v5.94h-1.86zM261.36 367.80h1.86v5.94h-1.86zM283.73 367.80h1.86v5.94h-1.86zM311.68 367.80h1.86v5.94h-1.86zM328.45 367.80h1.86v5.94h-1.86zM343.36 367.80h3.73v5.94h-3.73zM376.91 367.80h5.59v5.94h-5.59zM274.41 373.74h1.86v5.94h-1.86zM293.05 373.74h1.86v5.94h-1.86zM350.82 373.74h1.86v5.94h-1.86zM376.91 373.74h3.73v5.94h-3.73zM263.23 391.56h1.86v5.94h-1.86zM304.23 391.56h1.86v5.94h-1.86zM307.95 391.56h1.86v5.94h-1.86zM350.82 391.56h1.86v5.94h-1.86zM389.95 391.56h1.86v5.94h-1.86zM307.95 397.50h1.86v5.94h-1.86zM343.36 397.50h1.86v5.94h-1.86zM334.05 403.44h1.86v5.94h-1.86zM350.82 403.44h1.86v5.94h-1.86zM356.41 403.44h1.86v5.94h-1.86zM378.77 403.44h3.73v5.94h-3.73zM281.86 409.38h1.86v5.94h-1.86zM348.95 409.38h1.86v5.94h-1.86zM358.27 409.38h1.86v5.94h-1.86zM389.95 409.38h1.86v5.94h-1.86zM253.91 415.32h1.86v5.94h-1.86zM257.64 415.32h1.86v5.94h-1.86zM287.45 415.32h1.86v5.94h-1.86zM296.77 415.32h1.86v5.94h-1.86zM324.73 415.32h1.86v5.94h-1.86zM363.86 415.32h1.86v5.94h-1.86zM373.18 415.32h1.86v5.94h-1.86zM378.77 415.32h1.86v5.94h-1.86zM404.86 415.32h1.86v5.94h-1.86zM263.23 421.26h1.86v5.94h-1.86zM352.68 421.26h1.86v5.94h-1.86zM389.95 421.26h1.86v5.94h-1.86zM240.86 427.20h1.86v5.94h-1.86zM255.77 427.20h3.73v5.94h-3.73zM261.36 427.20h1.86v5.94h-1.86zM300.50 427.20h1.86v5.94h-1.86zM362.00 427.20h1.86v5.94h-1.86zM378.77 427.20h1.86v5.94h-1.86zM375.05 445.02h1.86v5.94h-1.86zM391.82 445.02h1.86v5.94h-1.86zM293.05 450.96h1.86v5.94h-1.86zM298.64 450.96h5.59v5.94h-5.59z"/>
<path fill="#a8aed2" d="M321.00 186.97h1.86v5.97h-1.86zM423.50 186.97h1.86v5.97h-1.86zM447.73 186.97h1.86v5.97h-1.86zM458.91 186.97h1.86v5.97h-1.86zM466.36 186.97h9.32v5.97h-9.32zM278.14 198.90h1.86v5.97h-1.86zM348.95 204.87h1.86v5.97h-1.86zM421.64 204.87h1.86v5.97h-1.86zM436.55 204.87h3.73v5.97h-3.73zM444.00 204.87h1.86v5.97h-1.86zM471.95 204.87h3.73v5.97h-3.73zM412.32 210.83h1.86v5.97h-1.86zM436.55 210.83h1.86v5.97h-1.86zM447.73 210.83h11.18v5.97h-11.18zM468.23 210.83h1.86v5.97h-1.86zM391.82 240.67h1.86v5.97h-1.86zM442.14 240.67h1.86v5.97h-1.86zM475.68 240.67h1.86v5.97h-1.86zM354.55 246.63h1.86v5.97h-1.86zM389.95 246.63h1.86v5.97h-1.86zM393.68 246.63h1.86v5.97h-1.86zM289.32 274.20h1.86v5.96h-1.86zM410.45 274.20h3.73v5.96h-3.73zM416.05 274.20h1.86v5.96h-1.86zM429.09 274.20h1.86v5.96h-1.86zM434.68 274.20h1.86v5.96h-1.86zM438.41 274.20h1.86v5.96h-1.86zM444.00 274.20h1.86v5.96h-1.86zM451.45 274.20h3.73v5.96h-3.73zM457.05 274.20h1.86v5.96h-1.86zM468.23 274.20h3.73v5.96h-3.73zM481.27 274.20h3.73v5.96h-3.73zM291.18 286.12h1.86v5.96h-1.86zM421.64 292.08h1.86v5.96h-1.86zM477.55 292.08h1.86v5.96h-1.86zM259.50 304.00h1.86v5.96h-1.86zM404.86 304.00h1.86v5.96h-1.86zM410.45 304.00h1.86v5.96h-1.86zM421.64 304.00h5.59v5.96h-5.59zM432.82 304.00h1.86v5.96h-1.86zM436.55 304.00h1.86v5.96h-1.86zM257.64 309.96h1.86v5.96h-1.86zM270.68 315.92h1.86v5.96h-1.86zM434.68 315.92h1.86v5.96h-1.86zM455.18 315.92h1.86v5.96h-1.86zM481.27 315.92h3.73v5.96h-3.73zM362.00 321.88h1.86v5.96h-1.86zM408.59 327.84h1.86v5.96h-1.86zM417.91 327.84h1.86v5.96h-1.86zM434.68 327.84h3.73v5.96h-3.73zM442.14 327.84h3.73v5.96h-3.73zM457.05 327.84h1.86v5.96h-1.86zM460.77 327.84h1.86v5.96h-1.86zM468.23 327.84h1.86v5.96h-1.86zM475.68 327.84h1.86v5.96h-1.86zM283.73 333.80h1.86v5.96h-1.86zM444.00 345.72h1.86v5.96h-1.86zM468.23 345.72h1.86v5.96h-1.86zM471.95 345.72h3.73v5.96h-3.73zM259.50 357.64h1.86v5.96h-1.86zM240.86 379.68h5.59v5.94h-5.59zM252.05 379.68h1.86v5.94h-1.86zM278.14 379.68h1.86v5.94h-1.86zM322.86 379.68h1.86v5.94h-1.86zM347.09 379.68h1.86v5.94h-1.86zM350.82 379.68h1.86v5.94h-1.86zM356.41 379.68h1.86v5.94h-1.86zM375.05 379.68h1.86v5.94h-1.86zM378.77 379.68h1.86v5.94h-1.86zM391.82 379.68h1.86v5.94h-1.86zM266.95 445.02h1.86v5.94h-1.86zM278.14 445.02h1.86v5.94h-1.86zM289.32 445.02h1.86v5.94h-1.86zM309.82 445.02h1.86v5.94h-1.86zM317.27 445.02h3.73v5.94h-3.73zM363.86 445.02h1.86v5.94h-1.86zM386.23 445.02h1.86v5.94h-1.86zM395.55 445.02h1.86v5.94h-1.86z"/>
<path fill="#c6c6e4" d="M330.32 186.97h1.86v5.97h-1.86zM294.91 192.93h1.86v5.97h-1.86zM307.95 210.83h3.73v5.97h-3.73zM397.41 228.73h1.86v5.97h-1.86zM479.41 228.73h1.86v5.97h-1.86zM389.95 234.70h1.86v5.97h-1.86zM429.09 240.67h1.86v5.97h-1.86zM438.41 240.67h1.86v5.97h-1.86zM328.45 246.63h1.86v5.97h-1.86zM337.77 246.63h1.86v5.97h-1.86zM473.82 246.63h1.86v5.97h-1.86zM283.73 252.60h1.86v5.97h-1.86zM427.23 252.60h1.86v5.97h-1.86zM468.23 252.60h1.86v5.97h-1.86zM417.91 258.57h1.86v5.97h-1.86zM427.23 258.57h1.86v5.97h-1.86zM388.09 264.53h1.86v5.97h-1.86zM395.55 274.20h3.73v5.96h-3.73zM317.27 280.16h1.86v5.96h-1.86zM444.00 280.16h1.86v5.96h-1.86zM278.14 286.12h3.73v5.96h-3.73zM483.14 286.12h1.86v5.96h-1.86zM473.82 309.96h1.86v5.96h-1.86zM309.82 315.92h1.86v5.96h-1.86zM423.50 321.88h1.86v5.96h-1.86zM451.45 321.88h1.86v5.96h-1.86zM414.18 333.80h1.86v5.96h-1.86zM442.14 333.80h1.86v5.96h-1.86zM451.45 333.80h1.86v5.96h-1.86zM382.50 339.76h1.86v5.96h-1.86zM291.18 351.68h1.86v5.96h-1.86zM408.59 351.68h1.86v5.96h-1.86zM412.32 351.68h1.86v5.96h-1.86zM421.64 351.68h1.86v5.96h-1.86zM442.14 351.68h1.86v5.96h-1.86zM445.86 351.68h1.86v5.96h-1.86zM453.32 351.68h1.86v5.96h-1.86zM419.77 357.64h3.73v5.96h-3.73zM434.68 357.64h1.86v5.96h-1.86zM250.18 367.80h1.86v5.94h-1.86zM268.82 367.80h1.86v5.94h-1.86zM322.86 367.80h1.86v5.94h-1.86zM363.86 367.80h3.73v5.94h-3.73zM375.05 367.80h1.86v5.94h-1.86zM246.45 373.74h1.86v5.94h-1.86zM276.27 373.74h1.86v5.94h-1.86zM311.68 373.74h1.86v5.94h-1.86zM352.68 373.74h1.86v5.94h-1.86zM380.64 373.74h5.59v5.94h-5.59zM388.09 373.74h3.73v5.94h-3.73zM399.27 373.74h1.86v5.94h-1.86zM403.00 373.74h1.86v5.94h-1.86zM291.18 385.62h1.86v5.94h-1.86zM362.00 385.62h1.86v5.94h-1.86zM248.32 391.56h3.73v5.94h-3.73zM257.64 391.56h1.86v5.94h-1.86zM347.09 391.56h1.86v5.94h-1.86zM358.27 391.56h3.73v5.94h-3.73zM399.27 391.56h1.86v5.94h-1.86zM403.00 391.56h1.86v5.94h-1.86zM240.86 397.50h3.73v5.94h-3.73zM246.45 397.50h1.86v5.94h-1.86zM281.86 397.50h5.59v5.94h-5.59zM291.18 397.50h1.86v5.94h-1.86zM313.55 397.50h1.86v5.94h-1.86zM375.05 397.50h1.86v5.94h-1.86zM436.55 397.50h1.86v5.94h-1.86zM244.59 403.44h1.86v5.94h-1.86zM259.50 403.44h3.73v5.94h-3.73zM283.73 403.44h1.86v5.94h-1.86zM307.95 403.44h1.86v5.94h-1.86zM315.41 403.44h3.73v5.94h-3.73zM326.59 403.44h1.86v5.94h-1.86zM354.55 403.44h1.86v5.94h-1.86zM371.32 403.44h1.86v5.94h-1.86zM391.82 403.44h1.86v5.94h-1.86zM257.64 409.38h1.86v5.94h-1.86zM261.36 409.38h3.73v5.94h-3.73zM283.73 409.38h1.86v5.94h-1.86zM311.68 409.38h5.59v5.94h-5.59zM326.59 409.38h3.73v5.94h-3.73zM369.45 409.38h3.73v5.94h-3.73zM378.77 409.38h1.86v5.94h-1.86zM395.55 409.38h3.73v5.94h-3.73zM401.14 409.38h1.86v5.94h-1.86zM259.50 415.32h1.86v5.94h-1.86zM266.95 415.32h1.86v5.94h-1.86zM270.68 415.32h1.86v5.94h-1.86zM291.18 415.32h1.86v5.94h-1.86zM309.82 415.32h1.86v5.94h-1.86zM317.27 415.32h1.86v5.94h-1.86zM360.14 415.32h1.86v5.94h-1.86zM365.73 415.32h1.86v5.94h-1.86zM285.59 421.26h1.86v5.94h-1.86zM296.77 421.26h1.86v5.94h-1.86zM304.23 421.26h3.73v5.94h-3.73zM369.45 421.26h1.86v5.94h-1.86zM380.64 421.26h1.86v5.94h-1.86zM391.82 421.26h3.73v5.94h-3.73zM248.32 427.20h5.59v5.94h-5.59zM268.82 427.20h3.73v5.94h-3.73zM302.36 427.20h1.86v5.94h-1.86zM324.73 427.20h1.86v5.94h-1.86zM341.50 427.20h1.86v5.94h-1.86zM348.95 427.20h1.86v5.94h-1.86zM321.00 433.14h1.86v5.94h-1.86zM289.32 439.08h1.86v5.94h-1.86zM380.64 439.08h1.86v5.94h-1.86zM403.00 439.08h1.86v5.94h-1.86zM239.00 450.96h1.86v5.94h-1.86zM252.05 450.96h5.59v5.94h-5.59zM261.36 450.96h3.73v5.94h-3.73zM289.32 450.96h1.86v5.94h-1.86zM313.55 450.96h3.73v5.94h-3.73zM343.36 450.96h1.86v5.94h-1.86zM382.50 450.96h1.86v5.94h-1.86zM391.82 450.96h1.86v5.94h-1.86z"/>
<path fill="#d8908a" d="M375.05 186.97h3.73v5.97h-3.73zM270.68 192.93h1.86v5.97h-1.86zM263.23 198.90h1.86v5.97h-1.86zM384.36 210.83h1.86v5.97h-1.86zM255.77 216.80h1.86v5.97h-1.86zM296.77 222.77h1.86v5.97h-1.86zM257.64 228.73h1.86v5.97h-1.86zM307.95 240.67h1.86v5.97h-1.86zM376.91 240.67h5.59v5.97h-5.59zM334.05 258.57h1.86v5.97h-1.86zM380.64 286.12h1.86v5.96h-1.86zM397.41 345.72h3.73v5.96h-3.73zM347.09 357.64h1.86v5.96h-1.86zM445.86 409.38h1.86v5.94h-1.86zM440.27 421.26h1.86v5.94h-1.86zM445.86 439.08h3.73v5.94h-3.73zM470.09 439.08h3.73v5.94h-3.73zM477.55 445.02h1.86v5.94h-1.86z"/>
<path fill="#f0e4de" d="M389.95 186.97h1.86v5.97h-1.86zM337.77 192.93h1.86v5.97h-1.86zM384.36 192.93h1.86v5.97h-1.86zM395.55 192.93h1.86v5.97h-1.86zM270.68 198.90h1.86v5.97h-1.86zM376.91 204.87h1.86v5.97h-1.86zM384.36 204.87h3.73v5.97h-3.73zM272.55 210.83h1.86v5.97h-1.86zM358.27 210.83h1.86v5.97h-1.86zM280.00 216.80h1.86v5.97h-1.86zM263.23 234.70h3.73v5.97h-3.73zM362.00 234.70h1.86v5.97h-1.86zM378.77 234.70h1.86v5.97h-1.86zM388.09 234.70h1.86v5.97h-1.86zM375.05 240.67h1.86v5.97h-1.86zM403.00 240.67h1.86v5.97h-1.86zM460.77 240.67h1.86v5.97h-1.86zM252.05 246.63h1.86v5.97h-1.86zM447.73 246.63h1.86v5.97h-1.86zM311.68 280.16h1.86v5.96h-1.86zM261.36 286.12h1.86v5.96h-1.86zM317.27 292.08h1.86v5.96h-1.86zM347.09 292.08h1.86v5.96h-1.86zM365.73 292.08h1.86v5.96h-1.86zM401.14 292.08h1.86v5.96h-1.86zM382.50 309.96h1.86v5.96h-1.86zM304.23 315.92h3.73v5.96h-3.73zM348.95 315.92h1.86v5.96h-1.86zM367.59 315.92h1.86v5.96h-1.86zM397.41 315.92h3.73v5.96h-3.73zM296.77 327.84h1.86v5.96h-1.86zM378.77 327.84h1.86v5.96h-1.86zM384.36 327.84h1.86v5.96h-1.86zM330.32 333.80h1.86v5.96h-1.86zM244.59 345.72h3.73v5.96h-3.73zM350.82 345.72h1.86v5.96h-1.86zM384.36 345.72h1.86v5.96h-1.86zM321.00 351.68h1.86v5.96h-1.86zM244.59 357.64h1.86v5.96h-1.86zM298.64 357.64h1.86v5.96h-1.86zM386.23 357.64h1.86v5.96h-1.86zM423.50 373.74h1.86v5.94h-1.86zM432.82 373.74h1.86v5.94h-1.86zM414.18 397.50h1.86v5.94h-1.86zM430.95 397.50h1.86v5.94h-1.86zM455.18 409.38h1.86v5.94h-1.86zM417.91 421.26h3.73v5.94h-3.73zM434.68 433.14h1.86v5.94h-1.86zM464.50 439.08h1.86v5.94h-1.86zM468.23 439.08h1.86v5.94h-1.86zM408.59 445.02h3.73v5.94h-3.73zM434.68 445.02h1.86v5.94h-1.86z"/>
<path fill="#dea89c" d="M393.68 186.97h3.73v5.97h-3.73zM268.82 192.93h1.86v5.97h-1.86zM255.77 198.90h1.86v5.97h-1.86zM259.50 198.90h1.86v5.97h-1.86zM248.32 210.83h1.86v5.97h-1.86zM242.73 228.73h1.86v5.97h-1.86zM272.55 228.73h1.86v5.97h-1.86zM363.86 246.63h1.86v5.97h-1.86zM244.59 252.60h1.86v5.97h-1.86zM240.86 258.57h1.86v5.97h-1.86zM380.64 274.20h3.73v5.96h-3.73zM403.00 280.16h1.86v5.96h-1.86zM287.45 286.12h1.86v5.96h-1.86zM354.55 286.12h1.86v5.96h-1.86zM315.41 298.04h3.73v5.96h-3.73zM363.86 298.04h3.73v5.96h-3.73zM324.73 304.00h1.86v5.96h-1.86zM328.45 304.00h1.86v5.96h-1.86zM360.14 304.00h3.73v5.96h-3.73zM395.55 304.00h1.86v5.96h-1.86zM311.68 315.92h1.86v5.96h-1.86zM328.45 315.92h3.73v5.96h-3.73zM350.82 315.92h1.86v5.96h-1.86zM335.91 321.88h3.73v5.96h-3.73zM317.27 333.80h1.86v5.96h-1.86zM309.82 357.64h1.86v5.96h-1.86zM345.23 357.64h1.86v5.96h-1.86zM434.68 367.80h1.86v5.94h-1.86zM449.59 367.80h1.86v5.94h-1.86zM464.50 367.80h1.86v5.94h-1.86zM410.45 379.68h1.86v5.94h-1.86zM419.77 379.68h1.86v5.94h-1.86zM430.95 379.68h1.86v5.94h-1.86zM462.64 385.62h1.86v5.94h-1.86zM430.95 391.56h1.86v5.94h-1.86zM416.05 397.50h1.86v5.94h-1.86zM453.32 397.50h3.73v5.94h-3.73zM462.64 397.50h1.86v5.94h-1.86zM466.36 397.50h1.86v5.94h-1.86zM453.32 403.44h1.86v5.94h-1.86zM466.36 403.44h1.86v5.94h-1.86zM425.36 409.38h1.86v5.94h-1.86zM473.82 409.38h5.59v5.94h-5.59zM453.32 415.32h5.59v5.94h-5.59zM466.36 415.32h1.86v5.94h-1.86zM473.82 415.32h3.73v5.94h-3.73zM442.14 421.26h1.86v5.94h-1.86zM479.41 421.26h3.73v5.94h-3.73zM477.55 427.20h1.86v5.94h-1.86zM449.59 433.14h1.86v5.94h-1.86zM458.91 439.08h5.59v5.94h-5.59zM475.68 439.08h1.86v5.94h-1.86zM451.45 445.02h3.73v5.94h-3.73zM470.09 445.02h1.86v5.94h-1.86zM412.32 450.96h1.86v5.94h-1.86zM421.64 450.96h1.86v5.94h-1.86zM464.50 450.96h1.86v5.94h-1.86zM471.95 450.96h1.86v5.94h-1.86zM479.41 450.96h1.86v5.94h-1.86z"/>
<path fill="#babad8" d="M401.14 186.97h3.73v5.97h-3.73zM462.64 264.53h1.86v5.97h-1.86zM479.41 264.53h1.86v5.97h-1.86zM451.45 292.08h1.86v5.96h-1.86zM417.91 298.04h1.86v5.96h-1.86zM239.00 304.00h1.86v5.96h-1.86zM483.14 357.64h1.86v5.96h-1.86zM253.91 367.80h3.73v5.94h-3.73zM360.14 427.20h1.86v5.94h-1.86z"/>
<path fill="#aeb4d8" d="M404.86 186.97h1.86v5.97h-1.86zM412.32 186.97h1.86v5.97h-1.86zM419.77 186.97h3.73v5.97h-3.73zM434.68 186.97h3.73v5.97h-3.73zM449.59 186.97h1.86v5.97h-1.86zM453.32 186.97h1.86v5.97h-1.86zM464.50 186.97h1.86v5.97h-1.86zM479.41 186.97h1.86v5.97h-1.86zM307.95 204.87h3.73v5.97h-3.73zM404.86 204.87h5.59v5.97h-5.59zM416.05 204.87h3.73v5.97h-3.73zM427.23 204.87h3.73v5.97h-3.73zM434.68 204.87h1.86v5.97h-1.86zM440.27 204.87h3.73v5.97h-3.73zM449.59 204.87h1.86v5.97h-1.86zM453.32 204.87h1.86v5.97h-1.86zM458.91 204.87h1.86v5.97h-1.86zM466.36 204.87h3.73v5.97h-3.73zM475.68 204.87h9.32v5.97h-9.32zM408.59 210.83h3.73v5.97h-3.73zM414.18 210.83h1.86v5.97h-1.86zM419.77 210.83h1.86v5.97h-1.86zM423.50 210.83h1.86v5.97h-1.86zM427.23 210.83h9.32v5.97h-9.32zM438.41 210.83h1.86v5.97h-1.86zM458.91 210.83h9.32v5.97h-9.32zM470.09 210.83h3.73v5.97h-3.73zM475.68 210.83h1.86v5.97h-1.86zM483.14 210.83h1.86v5.97h-1.86zM341.50 240.67h1.86v5.97h-1.86zM401.14 240.67h1.86v5.97h-1.86zM432.82 240.67h1.86v5.97h-1.86zM453.32 240.67h1.86v5.97h-1.86zM330.32 246.63h1.86v5.97h-1.86zM367.59 246.63h1.86v5.97h-1.86zM294.91 264.53h1.86v5.97h-1.86zM408.59 264.53h1.86v5.97h-1.86zM412.32 264.53h1.86v5.97h-1.86zM417.91 264.53h1.86v5.97h-1.86zM425.36 264.53h1.86v5.97h-1.86zM436.55 264.53h3.73v5.97h-3.73zM457.05 264.53h1.86v5.97h-1.86zM466.36 264.53h1.86v5.97h-1.86zM471.95 264.53h3.73v5.97h-3.73zM406.73 274.20h1.86v5.96h-1.86zM417.91 274.20h1.86v5.96h-1.86zM423.50 274.20h1.86v5.96h-1.86zM445.86 274.20h3.73v5.96h-3.73zM455.18 274.20h1.86v5.96h-1.86zM479.41 274.20h1.86v5.96h-1.86zM404.86 292.08h1.86v5.96h-1.86zM436.55 292.08h1.86v5.96h-1.86zM453.32 292.08h1.86v5.96h-1.86zM462.64 292.08h1.86v5.96h-1.86zM473.82 292.08h3.73v5.96h-3.73zM479.41 292.08h3.73v5.96h-3.73zM246.45 304.00h3.73v5.96h-3.73zM416.05 304.00h1.86v5.96h-1.86zM252.05 309.96h1.86v5.96h-1.86zM246.45 315.92h1.86v5.96h-1.86zM278.14 315.92h1.86v5.96h-1.86zM451.45 315.92h1.86v5.96h-1.86zM252.05 327.84h1.86v5.96h-1.86zM440.27 327.84h1.86v5.96h-1.86zM471.95 327.84h1.86v5.96h-1.86zM276.27 339.76h3.73v5.96h-3.73zM410.45 345.72h1.86v5.96h-1.86zM445.86 345.72h1.86v5.96h-1.86zM462.64 345.72h5.59v5.96h-5.59zM250.18 379.68h1.86v5.94h-1.86zM253.91 379.68h13.05v5.94h-13.05zM270.68 379.68h1.86v5.94h-1.86zM276.27 379.68h1.86v5.94h-1.86zM285.59 379.68h1.86v5.94h-1.86zM293.05 379.68h1.86v5.94h-1.86zM304.23 379.68h1.86v5.94h-1.86zM317.27 379.68h1.86v5.94h-1.86zM321.00 379.68h1.86v5.94h-1.86zM330.32 379.68h1.86v5.94h-1.86zM341.50 379.68h3.73v5.94h-3.73zM348.95 379.68h1.86v5.94h-1.86zM354.55 379.68h1.86v5.94h-1.86zM358.27 379.68h7.45v5.94h-7.45zM369.45 379.68h1.86v5.94h-1.86zM373.18 379.68h1.86v5.94h-1.86zM380.64 379.68h1.86v5.94h-1.86zM386.23 379.68h5.59v5.94h-5.59zM242.73 445.02h1.86v5.94h-1.86zM250.18 445.02h9.32v5.94h-9.32zM272.55 445.02h5.59v5.94h-5.59zM281.86 445.02h1.86v5.94h-1.86zM291.18 445.02h7.45v5.94h-7.45zM311.68 445.02h1.86v5.94h-1.86zM321.00 445.02h1.86v5.94h-1.86zM324.73 445.02h1.86v5.94h-1.86zM330.32 445.02h1.86v5.94h-1.86zM341.50 445.02h1.86v5.94h-1.86zM350.82 445.02h3.73v5.94h-3.73zM360.14 445.02h3.73v5.94h-3.73zM369.45 445.02h1.86v5.94h-1.86zM376.91 445.02h9.32v5.94h-9.32zM388.09 445.02h3.73v5.94h-3.73zM397.41 445.02h1.86v5.94h-1.86zM401.14 445.02h3.73v5.94h-3.73zM406.73 445.02h1.86v5.94h-1.86z"/>
<path fill="#a8a8d2" d="M425.36 186.97h1.86v5.97h-1.86zM473.82 274.20h3.73v5.96h-3.73zM406.73 304.00h1.86v5.96h-1.86zM449.59 304.00h1.86v5.96h-1.86zM444.00 315.92h3.73v5.96h-3.73zM470.09 315.92h1.86v5.96h-1.86zM429.09 345.72h5.59v5.96h-5.59zM272.55 379.68h3.73v5.94h-3.73zM240.86 445.02h1.86v5.94h-1.86zM246.45 445.02h1.86v5.94h-1.86zM304.23 445.02h1.86v5.94h-1.86zM326.59 445.02h1.86v5.94h-1.86z"/>
<path fill="#aeb4d2" d="M427.23 186.97h3.73v5.97h-3.73zM414.18 204.87h1.86v5.97h-1.86zM423.50 204.87h3.73v5.97h-3.73zM447.73 204.87h1.86v5.97h-1.86zM404.86 210.83h3.73v5.97h-3.73zM440.27 210.83h1.86v5.97h-1.86zM330.32 240.67h1.86v5.97h-1.86zM408.59 274.20h1.86v5.96h-1.86zM460.77 304.00h3.73v5.96h-3.73zM240.86 321.88h1.86v5.96h-1.86zM239.00 379.68h1.86v5.94h-1.86zM345.23 379.68h1.86v5.94h-1.86zM376.91 379.68h1.86v5.94h-1.86zM300.50 445.02h3.73v5.94h-3.73zM373.18 445.02h1.86v5.94h-1.86z"/>
<path fill="#a8b4d2" d="M442.14 186.97h1.86v5.97h-1.86zM343.36 240.67h1.86v5.97h-1.86zM250.18 309.96h1.86v5.96h-1.86zM406.73 315.92h1.86v5.96h-1.86zM423.50 345.72h1.86v5.96h-1.86zM434.68 345.72h1.86v5.96h-1.86zM274.41 351.68h3.73v5.96h-3.73zM328.45 379.68h1.86v5.94h-1.86zM367.59 379.68h1.86v5.94h-1.86zM263.23 445.02h1.86v5.94h-1.86zM313.55 445.02h3.73v5.94h-3.73zM371.32 445.02h1.86v5.94h-1.86z"/>
<path fill="#dea29c" d="M240.86 192.93h1.86v5.97h-1.86zM270.68 210.83h1.86v5.97h-1.86zM240.86 240.67h1.86v5.97h-1.86zM345.23 274.20h1.86v5.96h-1.86zM389.95 274.20h1.86v5.96h-1.86zM356.41 315.92h1.86v5.96h-1.86zM447.73 409.38h1.86v5.94h-1.86zM479.41 439.08h1.86v5.94h-1.86z"/>
<path fill="#f0ded8" d="M242.73 192.93h1.86v5.97h-1.86zM261.36 222.77h1.86v5.97h-1.86zM278.14 222.77h1.86v5.97h-1.86zM244.59 234.70h1.86v5.97h-1.86zM265.09 240.67h1.86v5.97h-1.86zM270.68 240.67h5.59v5.97h-5.59zM283.73 240.67h1.86v5.97h-1.86zM458.91 240.67h1.86v5.97h-1.86zM483.14 240.67h1.86v5.97h-1.86zM268.82 246.63h1.86v5.97h-1.86zM483.14 252.60h1.86v5.97h-1.86zM278.14 258.57h1.86v5.97h-1.86zM339.64 274.20h1.86v5.96h-1.86zM367.59 274.20h1.86v5.96h-1.86zM373.18 274.20h1.86v5.96h-1.86zM306.09 280.16h1.86v5.96h-1.86zM375.05 280.16h1.86v5.96h-1.86zM302.36 286.12h1.86v5.96h-1.86zM363.86 286.12h1.86v5.96h-1.86zM304.23 292.08h3.73v5.96h-3.73zM356.41 292.08h1.86v5.96h-1.86zM300.50 298.04h1.86v5.96h-1.86zM373.18 298.04h1.86v5.96h-1.86zM302.36 304.00h3.73v5.96h-3.73zM334.05 309.96h1.86v5.96h-1.86zM399.27 309.96h1.86v5.96h-1.86zM386.23 321.88h1.86v5.96h-1.86zM403.00 321.88h1.86v5.96h-1.86zM307.95 327.84h3.73v5.96h-3.73zM324.73 327.84h1.86v5.96h-1.86zM293.05 333.80h1.86v5.96h-1.86zM363.86 339.76h1.86v5.96h-1.86zM283.73 345.72h1.86v5.96h-1.86zM313.55 345.72h1.86v5.96h-1.86zM369.45 345.72h3.73v5.96h-3.73zM378.77 345.72h1.86v5.96h-1.86zM302.36 357.64h1.86v5.96h-1.86zM417.91 367.80h1.86v5.94h-1.86zM442.14 373.74h1.86v5.94h-1.86zM473.82 373.74h3.73v5.94h-3.73zM423.50 385.62h1.86v5.94h-1.86zM440.27 385.62h1.86v5.94h-1.86zM449.59 385.62h1.86v5.94h-1.86zM427.23 397.50h1.86v5.94h-1.86zM412.32 409.38h1.86v5.94h-1.86zM457.05 409.38h5.59v5.94h-5.59zM464.50 409.38h1.86v5.94h-1.86zM442.14 415.32h1.86v5.94h-1.86zM470.09 415.32h3.73v5.94h-3.73zM430.95 421.26h1.86v5.94h-1.86zM466.36 427.20h1.86v5.94h-1.86zM421.64 433.14h3.73v5.94h-3.73zM444.00 433.14h1.86v5.94h-1.86zM447.73 433.14h1.86v5.94h-1.86zM412.32 439.08h1.86v5.94h-1.86zM427.23 445.02h3.73v5.94h-3.73zM449.59 445.02h1.86v5.94h-1.86zM430.95 450.96h3.73v5.94h-3.73z"/>
<path fill="#f0d2c6" d="M246.45 192.93h1.86v5.97h-1.86zM252.05 198.90h1.86v5.97h-1.86zM257.64 204.87h1.86v5.97h-1.86zM257.64 216.80h1.86v5.97h-1.86zM252.05 240.67h1.86v5.97h-1.86zM250.18 258.57h1.86v5.97h-1.86zM265.09 264.53h1.86v5.97h-1.86zM384.36 280.16h1.86v5.96h-1.86zM378.77 286.12h1.86v5.96h-1.86zM382.50 286.12h1.86v5.96h-1.86zM376.91 298.04h1.86v5.96h-1.86zM341.50 304.00h1.86v5.96h-1.86zM298.64 309.96h1.86v5.96h-1.86zM378.77 309.96h1.86v5.96h-1.86zM363.86 321.88h3.73v5.96h-3.73zM287.45 327.84h1.86v5.96h-1.86zM335.91 327.84h1.86v5.96h-1.86zM317.27 345.72h5.59v5.96h-5.59zM388.09 345.72h1.86v5.96h-1.86zM302.36 351.68h1.86v5.96h-1.86zM445.86 379.68h1.86v5.94h-1.86zM471.95 421.26h3.73v5.94h-3.73zM455.18 427.20h1.86v5.94h-1.86zM416.05 439.08h1.86v5.94h-1.86z"/>
<path fill="#de9c96" d="M248.32 192.93h1.86v5.97h-1.86zM319.14 240.67h1.86v5.97h-1.86zM358.27 264.53h1.86v5.97h-1.86zM375.05 286.12h1.86v5.96h-1.86zM373.18 357.64h1.86v5.96h-1.86zM455.18 421.26h1.86v5.94h-1.86zM458.91 427.20h1.86v5.94h-1.86zM468.23 433.14h1.86v5.94h-1.86z"/>
<path fill="#eac0ba" d="M265.09 192.93h1.86v5.97h-1.86zM253.91 210.83h1.86v5.97h-1.86zM363.86 240.67h1.86v5.97h-1.86zM462.64 252.60h1.86v5.97h-1.86zM265.09 258.57h1.86v5.97h-1.86zM285.59 264.53h1.86v5.97h-1.86zM380.64 280.16h1.86v5.96h-1.86zM309.82 292.08h1.86v5.96h-1.86zM335.91 304.00h1.86v5.96h-1.86zM375.05 304.00h3.73v5.96h-3.73zM348.95 309.96h1.86v5.96h-1.86zM347.09 315.92h1.86v5.96h-1.86zM306.09 321.88h1.86v5.96h-1.86zM317.27 321.88h1.86v5.96h-1.86zM326.59 321.88h3.73v5.96h-3.73zM375.05 321.88h1.86v5.96h-1.86zM375.05 327.84h1.86v5.96h-1.86zM293.05 339.76h1.86v5.96h-1.86zM307.95 351.68h1.86v5.96h-1.86zM283.73 357.64h1.86v5.96h-1.86zM317.27 357.64h1.86v5.96h-1.86zM334.05 357.64h3.73v5.96h-3.73zM399.27 357.64h3.73v5.96h-3.73zM410.45 367.80h1.86v5.94h-1.86zM419.77 367.80h1.86v5.94h-1.86zM462.64 367.80h1.86v5.94h-1.86zM451.45 373.74h1.86v5.94h-1.86zM444.00 391.56h1.86v5.94h-1.86zM460.77 391.56h1.86v5.94h-1.86zM434.68 409.38h1.86v5.94h-1.86zM457.05 421.26h1.86v5.94h-1.86zM419.77 427.20h1.86v5.94h-1.86zM432.82 427.20h1.86v5.94h-1.86zM414.18 439.08h1.86v5.94h-1.86zM453.32 439.08h1.86v5.94h-1.86zM483.14 445.02h1.86v5.94h-1.86z"/>
<path fill="#d27e78" d="M274.41 192.93h1.86v5.97h-1.86zM311.68 192.93h1.86v5.97h-1.86zM252.05 222.77h1.86v5.97h-1.86zM239.00 234.70h1.86v5.97h-1.86zM242.73 258.57h1.86v5.97h-1.86zM477.55 367.80h1.86v5.94h-1.86zM481.27 373.74h1.86v5.94h-1.86zM440.27 415.32h1.86v5.94h-1.86zM475.68 427.20h1.86v5.94h-1.86zM457.05 439.08h1.86v5.94h-1.86z"/>
<path fill="#f6f6f0" d="M285.59 192.93h1.86v5.97h-1.86zM302.36 192.93h1.86v5.97h-1.86zM322.86 192.93h1.86v5.97h-1.86zM397.41 192.93h5.59v5.97h-5.59zM261.36 198.90h1.86v5.97h-1.86zM376.91 198.90h1.86v5.97h-1.86zM440.27 198.90h1.86v5.97h-1.86zM302.36 204.87h1.86v5.97h-1.86zM378.77 204.87h1.86v5.97h-1.86zM285.59 216.80h1.86v5.97h-1.86zM388.09 222.77h1.86v5.97h-1.86zM337.77 234.70h1.86v5.97h-1.86zM352.68 240.67h3.73v5.97h-3.73zM306.09 246.63h1.86v5.97h-1.86zM404.86 246.63h1.86v5.97h-1.86zM252.05 252.60h1.86v5.97h-1.86zM278.14 252.60h1.86v5.97h-1.86zM350.82 252.60h1.86v5.97h-1.86zM291.18 258.57h1.86v5.97h-1.86zM324.73 258.57h3.73v5.97h-3.73zM363.86 264.53h1.86v5.97h-1.86zM376.91 274.20h1.86v5.96h-1.86zM350.82 280.16h1.86v5.96h-1.86zM354.55 292.08h1.86v5.96h-1.86zM395.55 298.04h1.86v5.96h-1.86zM440.27 298.04h1.86v5.96h-1.86zM403.00 304.00h1.86v5.96h-1.86zM278.14 309.96h3.73v5.96h-3.73zM293.05 309.96h1.86v5.96h-1.86zM289.32 321.88h3.73v5.96h-3.73zM334.05 321.88h1.86v5.96h-1.86zM289.32 327.84h1.86v5.96h-1.86zM311.68 327.84h1.86v5.96h-1.86zM360.14 327.84h1.86v5.96h-1.86zM399.27 327.84h1.86v5.96h-1.86zM339.64 333.80h1.86v5.96h-1.86zM257.64 339.76h1.86v5.96h-1.86zM272.55 339.76h3.73v5.96h-3.73zM447.73 345.72h1.86v5.96h-1.86zM324.73 357.64h1.86v5.96h-1.86zM440.27 409.38h1.86v5.94h-1.86zM425.36 433.14h1.86v5.94h-1.86zM410.45 450.96h1.86v5.94h-1.86z"/>
<path fill="#f6f0f6" d="M319.14 192.93h1.86v5.97h-1.86zM324.73 198.90h1.86v5.97h-1.86zM274.41 204.87h1.86v5.97h-1.86zM356.41 240.67h1.86v5.97h-1.86zM481.27 252.60h1.86v5.97h-1.86zM399.27 258.57h1.86v5.97h-1.86zM252.05 264.53h1.86v5.97h-1.86zM399.27 274.20h1.86v5.96h-1.86zM380.64 309.96h1.86v5.96h-1.86zM380.64 321.88h1.86v5.96h-1.86zM373.18 351.68h1.86v5.96h-1.86zM438.41 397.50h1.86v5.94h-1.86z"/>
<path fill="#f6eaea" d="M350.82 192.93h1.86v5.97h-1.86zM348.95 216.80h1.86v5.97h-1.86zM285.59 222.77h1.86v5.97h-1.86zM298.64 222.77h1.86v5.97h-1.86zM278.14 234.70h1.86v5.97h-1.86zM339.64 234.70h1.86v5.97h-1.86zM466.36 240.67h1.86v5.97h-1.86zM274.41 246.63h1.86v5.97h-1.86zM395.55 246.63h1.86v5.97h-1.86zM406.73 246.63h1.86v5.97h-1.86zM382.50 252.60h1.86v5.97h-1.86zM451.45 252.60h1.86v5.97h-1.86zM261.36 258.57h1.86v5.97h-1.86zM375.05 258.57h1.86v5.97h-1.86zM298.64 264.53h1.86v5.97h-1.86zM294.91 274.20h1.86v5.96h-1.86zM328.45 274.20h1.86v5.96h-1.86zM369.45 280.16h1.86v5.96h-1.86zM304.23 286.12h3.73v5.96h-3.73zM285.59 298.04h1.86v5.96h-1.86zM382.50 298.04h1.86v5.96h-1.86zM483.14 298.04h1.86v5.96h-1.86zM294.91 315.92h1.86v5.96h-1.86zM339.64 315.92h1.86v5.96h-1.86zM380.64 315.92h1.86v5.96h-1.86zM404.86 315.92h1.86v5.96h-1.86zM363.86 327.84h1.86v5.96h-1.86zM276.27 333.80h1.86v5.96h-1.86zM444.00 333.80h1.86v5.96h-1.86zM332.18 339.76h1.86v5.96h-1.86zM347.09 339.76h1.86v5.96h-1.86zM468.23 339.76h1.86v5.96h-1.86zM330.32 345.72h1.86v5.96h-1.86zM304.23 351.68h1.86v5.96h-1.86zM430.95 357.64h1.86v5.96h-1.86zM442.14 379.68h1.86v5.94h-1.86zM451.45 397.50h1.86v5.94h-1.86zM477.55 397.50h1.86v5.94h-1.86zM483.14 403.44h1.86v5.94h-1.86zM419.77 415.32h1.86v5.94h-1.86zM468.23 415.32h1.86v5.94h-1.86zM421.64 427.20h1.86v5.94h-1.86zM410.45 439.08h1.86v5.94h-1.86z"/>
<path fill="#f0eaf0" d="M376.91 192.93h1.86v5.97h-1.86zM360.14 234.70h1.86v5.97h-1.86zM434.68 240.67h1.86v5.97h-1.86zM298.64 258.57h1.86v5.97h-1.86zM427.23 315.92h1.86v5.96h-1.86zM477.55 327.84h1.86v5.96h-1.86zM280.00 345.72h1.86v5.96h-1.86zM347.09 345.72h1.86v5.96h-1.86zM397.41 357.64h1.86v5.96h-1.86zM451.45 391.56h1.86v5.94h-1.86z"/>
<path fill="#f0d8d2" d="M389.95 192.93h1.86v5.97h-1.86zM270.68 222.77h1.86v5.97h-1.86zM266.95 228.73h1.86v5.97h-1.86zM274.41 228.73h1.86v5.97h-1.86zM444.00 240.67h1.86v5.97h-1.86zM362.00 246.63h1.86v5.97h-1.86zM384.36 246.63h1.86v5.97h-1.86zM470.09 252.60h1.86v5.97h-1.86zM274.41 258.57h1.86v5.97h-1.86zM300.50 274.20h1.86v5.96h-1.86zM369.45 274.20h1.86v5.96h-1.86zM384.36 274.20h1.86v5.96h-1.86zM393.68 274.20h1.86v5.96h-1.86zM304.23 280.16h1.86v5.96h-1.86zM324.73 286.12h3.73v5.96h-3.73zM376.91 286.12h1.86v5.96h-1.86zM328.45 298.04h1.86v5.96h-1.86zM296.77 304.00h1.86v5.96h-1.86zM326.59 304.00h1.86v5.96h-1.86zM343.36 304.00h1.86v5.96h-1.86zM322.86 309.96h1.86v5.96h-1.86zM339.64 309.96h1.86v5.96h-1.86zM293.05 315.92h1.86v5.96h-1.86zM378.77 315.92h1.86v5.96h-1.86zM382.50 315.92h1.86v5.96h-1.86zM403.00 315.92h1.86v5.96h-1.86zM343.36 321.88h1.86v5.96h-1.86zM378.77 321.88h1.86v5.96h-1.86zM399.27 321.88h3.73v5.96h-3.73zM367.59 333.80h1.86v5.96h-1.86zM380.64 333.80h1.86v5.96h-1.86zM307.95 339.76h1.86v5.96h-1.86zM362.00 339.76h1.86v5.96h-1.86zM293.05 345.72h5.59v5.96h-5.59zM343.36 345.72h1.86v5.96h-1.86zM261.36 351.68h1.86v5.96h-1.86zM311.68 351.68h1.86v5.96h-1.86zM324.73 351.68h1.86v5.96h-1.86zM335.91 351.68h1.86v5.96h-1.86zM367.59 351.68h3.73v5.96h-3.73zM382.50 351.68h1.86v5.96h-1.86zM311.68 357.64h1.86v5.96h-1.86zM343.36 357.64h1.86v5.96h-1.86zM369.45 357.64h1.86v5.96h-1.86zM423.50 367.80h1.86v5.94h-1.86zM429.09 367.80h1.86v5.94h-1.86zM444.00 367.80h1.86v5.94h-1.86zM471.95 367.80h1.86v5.94h-1.86zM414.18 373.74h3.73v5.94h-3.73zM460.77 373.74h1.86v5.94h-1.86zM458.91 379.68h1.86v5.94h-1.86zM438.41 385.62h1.86v5.94h-1.86zM453.32 385.62h1.86v5.94h-1.86zM414.18 391.56h3.73v5.94h-3.73zM419.77 433.14h1.86v5.94h-1.86zM440.27 450.96h1.86v5.94h-1.86z"/>
<path fill="#e4eaf0" d="M427.23 192.93h1.86v5.97h-1.86zM477.55 192.93h1.86v5.97h-1.86zM261.36 204.87h1.86v5.97h-1.86zM395.55 216.80h1.86v5.97h-1.86zM401.14 216.80h3.73v5.97h-3.73zM272.55 258.57h1.86v5.97h-1.86zM242.73 304.00h1.86v5.96h-1.86zM330.32 309.96h1.86v5.96h-1.86zM339.64 327.84h1.86v5.96h-1.86z"/>
<path fill="#e4b4ae" d="M239.00 198.90h1.86v5.97h-1.86zM270.68 216.80h1.86v5.97h-1.86zM250.18 222.77h1.86v5.97h-1.86zM263.23 240.67h1.86v5.97h-1.86zM240.86 246.63h1.86v5.97h-1.86zM293.05 274.20h1.86v5.96h-1.86zM332.18 274.20h1.86v5.96h-1.86zM337.77 274.20h1.86v5.96h-1.86zM371.32 274.20h1.86v5.96h-1.86zM259.50 280.16h1.86v5.96h-1.86zM263.23 286.12h1.86v5.96h-1.86zM253.91 292.08h1.86v5.96h-1.86zM294.91 298.04h1.86v5.96h-1.86zM330.32 298.04h3.73v5.96h-3.73zM358.27 298.04h3.73v5.96h-3.73zM375.05 298.04h1.86v5.96h-1.86zM306.09 309.96h3.73v5.96h-3.73zM384.36 309.96h3.73v5.96h-3.73zM259.50 315.92h1.86v5.96h-1.86zM319.14 321.88h1.86v5.96h-1.86zM354.55 321.88h1.86v5.96h-1.86zM389.95 321.88h1.86v5.96h-1.86zM362.00 333.80h1.86v5.96h-1.86zM371.32 339.76h1.86v5.96h-1.86zM268.82 351.68h1.86v5.96h-1.86zM436.55 373.74h1.86v5.94h-1.86zM429.09 379.68h1.86v5.94h-1.86zM427.23 385.62h3.73v5.94h-3.73zM471.95 391.56h1.86v5.94h-1.86zM473.82 397.50h1.86v5.94h-1.86zM457.05 403.44h1.86v5.94h-1.86zM462.64 403.44h1.86v5.94h-1.86zM416.05 415.32h1.86v5.94h-1.86zM430.95 415.32h1.86v5.94h-1.86zM477.55 421.26h1.86v5.94h-1.86zM438.41 445.02h1.86v5.94h-1.86z"/>
<path fill="#cc6c6c" d="M240.86 198.90h1.86v5.97h-1.86zM397.41 246.63h1.86v5.97h-1.86zM248.32 252.60h1.86v5.97h-1.86zM479.41 433.14h1.86v5.94h-1.86z"/>
<path fill="#e4bab4" d="M246.45 198.90h1.86v5.97h-1.86zM289.32 204.87h1.86v5.97h-1.86zM246.45 222.77h1.86v5.97h-1.86zM257.64 240.67h1.86v5.97h-1.86zM457.05 252.60h3.73v5.97h-3.73zM252.05 258.57h1.86v5.97h-1.86zM259.50 258.57h1.86v5.97h-1.86zM250.18 264.53h1.86v5.97h-1.86zM375.05 264.53h1.86v5.97h-1.86zM328.45 286.12h1.86v5.96h-1.86zM339.64 286.12h1.86v5.96h-1.86zM403.00 292.08h1.86v5.96h-1.86zM326.59 298.04h1.86v5.96h-1.86zM386.23 298.04h1.86v5.96h-1.86zM367.59 304.00h1.86v5.96h-1.86zM311.68 309.96h3.73v5.96h-3.73zM335.91 315.92h1.86v5.96h-1.86zM328.45 327.84h1.86v5.96h-1.86zM335.91 333.80h1.86v5.96h-1.86zM378.77 333.80h1.86v5.96h-1.86zM280.00 339.76h3.73v5.96h-3.73zM365.73 339.76h1.86v5.96h-1.86zM403.00 339.76h1.86v5.96h-1.86zM332.18 345.72h1.86v5.96h-1.86zM300.50 357.64h1.86v5.96h-1.86zM315.41 357.64h1.86v5.96h-1.86zM440.27 373.74h1.86v5.94h-1.86zM427.23 379.68h1.86v5.94h-1.86zM442.14 397.50h1.86v5.94h-1.86zM423.50 403.44h1.86v5.94h-1.86zM458.91 403.44h1.86v5.94h-1.86zM430.95 427.20h1.86v5.94h-1.86zM427.23 433.14h1.86v5.94h-1.86zM455.18 433.14h1.86v5.94h-1.86zM436.55 450.96h1.86v5.94h-1.86zM468.23 450.96h1.86v5.94h-1.86z"/>
<path fill="#c05a5a" d="M248.32 198.90h1.86v5.97h-1.86z"/>
<path fill="#eac6c0" d="M253.91 198.90h1.86v5.97h-1.86zM265.09 198.90h1.86v5.97h-1.86zM268.82 210.83h1.86v5.97h-1.86zM386.23 210.83h1.86v5.97h-1.86zM252.05 216.80h1.86v5.97h-1.86zM395.55 240.67h1.86v5.97h-1.86zM462.64 240.67h1.86v5.97h-1.86zM309.82 280.16h1.86v5.96h-1.86zM248.32 309.96h1.86v5.96h-1.86zM300.50 309.96h3.73v5.96h-3.73zM332.18 309.96h1.86v5.96h-1.86zM360.14 309.96h1.86v5.96h-1.86zM397.41 309.96h1.86v5.96h-1.86zM261.36 321.88h1.86v5.96h-1.86zM285.59 321.88h1.86v5.96h-1.86zM285.59 327.84h1.86v5.96h-1.86zM354.55 339.76h5.59v5.96h-5.59zM315.41 345.72h1.86v5.96h-1.86zM401.14 345.72h1.86v5.96h-1.86zM378.77 351.68h1.86v5.96h-1.86zM438.41 373.74h1.86v5.94h-1.86zM445.86 373.74h1.86v5.94h-1.86zM432.82 379.68h1.86v5.94h-1.86zM479.41 379.68h3.73v5.94h-3.73zM445.86 385.62h1.86v5.94h-1.86zM471.95 385.62h1.86v5.94h-1.86zM412.32 391.56h1.86v5.94h-1.86zM445.86 391.56h1.86v5.94h-1.86zM466.36 391.56h1.86v5.94h-1.86zM473.82 391.56h1.86v5.94h-1.86zM429.09 397.50h1.86v5.94h-1.86zM442.14 403.44h1.86v5.94h-1.86zM423.50 427.20h1.86v5.94h-1.86zM417.91 433.14h1.86v5.94h-1.86z"/>
<path fill="#d88a84" d="M341.50 198.90h1.86v5.97h-1.86zM242.73 216.80h1.86v5.97h-1.86zM337.77 240.67h3.73v5.97h-3.73zM298.64 298.04h1.86v5.96h-1.86zM378.77 304.00h1.86v5.96h-1.86zM371.32 333.80h3.73v5.96h-3.73zM440.27 391.56h3.73v5.94h-3.73zM481.27 391.56h1.86v5.94h-1.86zM468.23 397.50h1.86v5.94h-1.86zM445.86 415.32h1.86v5.94h-1.86zM468.23 427.20h3.73v5.94h-3.73zM483.14 427.20h1.86v5.94h-1.86zM483.14 439.08h1.86v5.94h-1.86zM475.68 450.96h1.86v5.94h-1.86zM483.14 450.96h1.86v5.94h-1.86z"/>
<path fill="#cc726c" d="M391.82 198.90h1.86v5.97h-1.86zM242.73 210.83h1.86v5.97h-1.86zM242.73 222.77h1.86v5.97h-1.86zM253.91 240.67h1.86v5.97h-1.86zM315.41 258.57h1.86v5.97h-1.86zM332.18 258.57h1.86v5.97h-1.86zM296.77 264.53h1.86v5.97h-1.86z"/>
<path fill="#b43c48" d="M246.45 204.87h3.73v5.97h-3.73z"/>
<path fill="#c66666" d="M334.05 204.87h1.86v5.97h-1.86z"/>
<path fill="#f0ded2" d="M395.55 204.87h1.86v5.97h-1.86zM458.91 450.96h1.86v5.94h-1.86z"/>
<path fill="#dea8a2" d="M401.14 204.87h3.73v5.97h-3.73zM261.36 210.83h1.86v5.97h-1.86zM242.73 234.70h1.86v5.97h-1.86zM250.18 246.63h1.86v5.97h-1.86zM335.91 298.04h1.86v5.96h-1.86zM265.09 309.96h1.86v5.96h-1.86zM300.50 327.84h3.73v5.96h-3.73zM371.32 327.84h1.86v5.96h-1.86zM334.05 333.80h1.86v5.96h-1.86zM304.23 339.76h1.86v5.96h-1.86zM255.77 345.72h1.86v5.96h-1.86zM438.41 367.80h1.86v5.94h-1.86zM471.95 379.68h3.73v5.94h-3.73zM455.18 385.62h1.86v5.94h-1.86zM460.77 397.50h1.86v5.94h-1.86zM479.41 397.50h1.86v5.94h-1.86zM464.50 403.44h1.86v5.94h-1.86zM470.09 433.14h1.86v5.94h-1.86zM477.55 433.14h1.86v5.94h-1.86zM466.36 450.96h1.86v5.94h-1.86z"/>
<path fill="#d89690" d="M239.00 210.83h3.73v5.97h-3.73zM240.86 216.80h1.86v5.97h-1.86zM244.59 216.80h3.73v5.97h-3.73zM265.09 216.80h1.86v5.97h-1.86zM244.59 246.63h1.86v5.97h-1.86zM375.05 246.63h1.86v5.97h-1.86zM373.18 292.08h1.86v5.96h-1.86zM341.50 345.72h1.86v5.96h-1.86zM341.50 351.68h1.86v5.96h-1.86zM430.95 367.80h1.86v5.94h-1.86zM479.41 415.32h1.86v5.94h-1.86zM444.00 421.26h1.86v5.94h-1.86zM425.36 445.02h1.86v5.94h-1.86zM468.23 445.02h1.86v5.94h-1.86zM449.59 450.96h1.86v5.94h-1.86z"/>
<path fill="#f0d8cc" d="M376.91 210.83h1.86v5.97h-1.86zM287.45 222.77h1.86v5.97h-1.86zM246.45 234.70h1.86v5.97h-1.86zM265.09 246.63h1.86v5.97h-1.86zM473.82 252.60h1.86v5.97h-1.86zM246.45 264.53h1.86v5.97h-1.86zM257.64 264.53h1.86v5.97h-1.86zM289.32 264.53h3.73v5.97h-3.73zM330.32 280.16h1.86v5.96h-1.86zM337.77 280.16h1.86v5.96h-1.86zM293.05 298.04h1.86v5.96h-1.86zM371.32 298.04h1.86v5.96h-1.86zM317.27 304.00h1.86v5.96h-1.86zM341.50 309.96h1.86v5.96h-1.86zM371.32 309.96h1.86v5.96h-1.86zM373.18 315.92h1.86v5.96h-1.86zM248.32 321.88h1.86v5.96h-1.86zM382.50 321.88h1.86v5.96h-1.86zM397.41 321.88h1.86v5.96h-1.86zM350.82 333.80h3.73v5.96h-3.73zM268.82 339.76h1.86v5.96h-1.86zM354.55 345.72h1.86v5.96h-1.86zM358.27 345.72h1.86v5.96h-1.86zM313.55 351.68h1.86v5.96h-1.86zM348.95 351.68h3.73v5.96h-3.73zM376.91 351.68h1.86v5.96h-1.86zM389.95 351.68h1.86v5.96h-1.86zM427.23 367.80h1.86v5.94h-1.86zM432.82 367.80h1.86v5.94h-1.86zM417.91 373.74h1.86v5.94h-1.86zM458.91 373.74h1.86v5.94h-1.86zM434.68 403.44h1.86v5.94h-1.86zM481.27 403.44h1.86v5.94h-1.86zM427.23 409.38h5.59v5.94h-5.59zM417.91 415.32h1.86v5.94h-1.86zM410.45 421.26h1.86v5.94h-1.86zM436.55 439.08h3.73v5.94h-3.73zM447.73 450.96h1.86v5.94h-1.86z"/>
<path fill="#de9c90" d="M391.82 210.83h3.73v5.97h-3.73zM348.95 222.77h1.86v5.97h-1.86zM339.64 228.73h1.86v5.97h-1.86zM360.14 292.08h1.86v5.96h-1.86zM347.09 333.80h1.86v5.96h-1.86zM458.91 367.80h1.86v5.94h-1.86zM479.41 385.62h1.86v5.94h-1.86zM430.95 403.44h1.86v5.94h-1.86zM470.09 403.44h1.86v5.94h-1.86zM444.00 427.20h1.86v5.94h-1.86z"/>
<path fill="#ba4e54" d="M240.86 228.73h1.86v5.97h-1.86z"/>
<path fill="#dedeea" d="M350.82 228.73h1.86v5.97h-1.86zM466.36 228.73h1.86v5.97h-1.86zM300.50 252.60h1.86v5.97h-1.86zM313.55 321.88h1.86v5.96h-1.86z"/>
<path fill="#c66060" d="M255.77 240.67h1.86v5.97h-1.86zM248.32 258.57h1.86v5.97h-1.86z"/>
<path fill="#a2a8d2" d="M309.82 240.67h1.86v5.97h-1.86zM257.64 274.20h1.86v5.96h-1.86zM460.77 274.20h1.86v5.96h-1.86zM255.77 286.12h1.86v5.96h-1.86zM263.23 292.08h1.86v5.96h-1.86zM255.77 298.04h1.86v5.96h-1.86zM416.05 298.04h1.86v5.96h-1.86zM429.09 298.04h1.86v5.96h-1.86zM438.41 298.04h1.86v5.96h-1.86zM470.09 298.04h1.86v5.96h-1.86zM468.23 315.92h1.86v5.96h-1.86zM473.82 327.84h1.86v5.96h-1.86zM479.41 327.84h1.86v5.96h-1.86zM425.36 345.72h1.86v5.96h-1.86zM311.68 379.68h1.86v5.94h-1.86z"/>
<path fill="#bac0d8" d="M389.95 240.67h1.86v5.97h-1.86zM451.45 240.67h1.86v5.97h-1.86zM350.82 246.63h1.86v5.97h-1.86zM414.18 264.53h1.86v5.97h-1.86zM481.27 264.53h1.86v5.97h-1.86zM280.00 274.20h1.86v5.96h-1.86zM406.73 292.08h1.86v5.96h-1.86zM419.77 292.08h1.86v5.96h-1.86zM455.18 292.08h1.86v5.96h-1.86zM252.05 304.00h1.86v5.96h-1.86zM393.68 327.84h3.73v5.96h-3.73zM280.00 333.80h1.86v5.96h-1.86zM289.32 339.76h1.86v5.96h-1.86zM278.14 345.72h1.86v5.96h-1.86zM442.14 345.72h1.86v5.96h-1.86zM360.14 351.68h7.45v5.96h-7.45zM410.45 357.64h1.86v5.96h-1.86zM436.55 357.64h3.73v5.96h-3.73zM252.05 367.80h1.86v5.94h-1.86zM280.00 367.80h1.86v5.94h-1.86zM296.77 367.80h3.73v5.94h-3.73zM250.18 373.74h1.86v5.94h-1.86zM289.32 373.74h1.86v5.94h-1.86zM371.32 373.74h3.73v5.94h-3.73zM328.45 391.56h1.86v5.94h-1.86zM248.32 397.50h1.86v5.94h-1.86zM294.91 415.32h1.86v5.94h-1.86zM304.23 427.20h3.73v5.94h-3.73zM285.59 445.02h1.86v5.94h-1.86zM242.73 450.96h1.86v5.94h-1.86zM334.05 450.96h1.86v5.94h-1.86z"/>
<path fill="#9096c6" d="M457.05 240.67h1.86v5.97h-1.86zM410.45 298.04h3.73v5.96h-3.73zM483.14 304.00h1.86v5.96h-1.86zM429.09 315.92h1.86v5.96h-1.86zM404.86 339.76h1.86v5.96h-1.86zM430.95 339.76h1.86v5.96h-1.86zM444.00 339.76h1.86v5.96h-1.86z"/>
<path fill="#d28a7e" d="M255.77 246.63h3.73v5.97h-3.73zM369.45 309.96h1.86v5.96h-1.86zM464.50 373.74h1.86v5.94h-1.86zM460.77 403.44h1.86v5.94h-1.86z"/>
<path fill="#969cc6" d="M438.41 246.63h1.86v5.97h-1.86zM244.59 298.04h1.86v5.96h-1.86zM252.05 298.04h1.86v5.96h-1.86zM432.82 298.04h1.86v5.96h-1.86zM444.00 298.04h1.86v5.96h-1.86zM408.59 304.00h1.86v5.96h-1.86zM442.14 304.00h3.73v5.96h-3.73zM453.32 304.00h1.86v5.96h-1.86zM475.68 315.92h1.86v5.96h-1.86zM462.64 339.76h1.86v5.96h-1.86z"/>
<path fill="#c66660" d="M240.86 264.53h1.86v5.97h-1.86z"/>
<path fill="#d88a7e" d="M248.32 264.53h1.86v5.97h-1.86z"/>
<path fill="#a2a8cc" d="M311.68 264.53h1.86v5.97h-1.86zM414.18 274.20h1.86v5.96h-1.86zM419.77 274.20h1.86v5.96h-1.86zM425.36 274.20h1.86v5.96h-1.86zM440.27 274.20h1.86v5.96h-1.86zM464.50 274.20h3.73v5.96h-3.73zM471.95 274.20h1.86v5.96h-1.86zM477.55 274.20h1.86v5.96h-1.86zM257.64 298.04h1.86v5.96h-1.86zM419.77 298.04h1.86v5.96h-1.86zM436.55 298.04h1.86v5.96h-1.86zM449.59 298.04h1.86v5.96h-1.86zM468.23 298.04h1.86v5.96h-1.86zM414.18 304.00h1.86v5.96h-1.86zM477.55 304.00h1.86v5.96h-1.86zM410.45 315.92h1.86v5.96h-1.86zM440.27 315.92h1.86v5.96h-1.86zM449.59 315.92h1.86v5.96h-1.86zM453.32 315.92h1.86v5.96h-1.86zM265.09 327.84h3.73v5.96h-3.73zM410.45 327.84h1.86v5.96h-1.86zM414.18 327.84h3.73v5.96h-3.73zM419.77 327.84h9.32v5.96h-9.32zM449.59 327.84h1.86v5.96h-1.86zM455.18 327.84h1.86v5.96h-1.86zM458.91 327.84h1.86v5.96h-1.86zM462.64 327.84h1.86v5.96h-1.86zM412.32 345.72h1.86v5.96h-1.86zM248.32 357.64h1.86v5.96h-1.86z"/>
<path fill="#848aba" d="M265.09 274.20h1.86v5.96h-1.86z"/>
<path fill="#909cc6" d="M270.68 274.20h1.86v5.96h-1.86zM404.86 298.04h1.86v5.96h-1.86zM434.68 298.04h1.86v5.96h-1.86zM427.23 304.00h3.73v5.96h-3.73zM438.41 304.00h1.86v5.96h-1.86zM447.73 304.00h1.86v5.96h-1.86zM464.50 304.00h3.73v5.96h-3.73zM475.68 304.00h1.86v5.96h-1.86zM460.77 315.92h1.86v5.96h-1.86zM404.86 327.84h1.86v5.96h-1.86zM408.59 339.76h1.86v5.96h-1.86zM432.82 339.76h7.45v5.96h-7.45zM285.59 357.64h1.86v5.96h-1.86z"/>
<path fill="#9ca8cc" d="M430.95 274.20h1.86v5.96h-1.86zM423.50 298.04h1.86v5.96h-1.86zM430.95 298.04h1.86v5.96h-1.86zM477.55 298.04h1.86v5.96h-1.86zM458.91 304.00h1.86v5.96h-1.86zM438.41 315.92h1.86v5.96h-1.86zM429.09 327.84h3.73v5.96h-3.73zM477.55 345.72h3.73v5.96h-3.73z"/>
<path fill="#9ca2cc" d="M432.82 274.20h1.86v5.96h-1.86zM421.64 298.04h1.86v5.96h-1.86zM462.64 298.04h5.59v5.96h-5.59zM412.32 304.00h1.86v5.96h-1.86zM417.91 304.00h1.86v5.96h-1.86zM430.95 304.00h1.86v5.96h-1.86zM445.86 304.00h1.86v5.96h-1.86zM455.18 304.00h3.73v5.96h-3.73zM470.09 304.00h5.59v5.96h-5.59zM479.41 304.00h1.86v5.96h-1.86zM421.64 315.92h5.59v5.96h-5.59zM462.64 315.92h3.73v5.96h-3.73zM473.82 315.92h1.86v5.96h-1.86zM406.73 327.84h1.86v5.96h-1.86zM445.86 327.84h3.73v5.96h-3.73zM451.45 327.84h3.73v5.96h-3.73zM470.09 327.84h1.86v5.96h-1.86zM427.23 345.72h1.86v5.96h-1.86z"/>
<path fill="#8490c0" d="M240.86 292.08h1.86v5.96h-1.86zM410.45 339.76h3.73v5.96h-3.73zM429.09 339.76h1.86v5.96h-1.86zM447.73 339.76h1.86v5.96h-1.86zM451.45 339.76h3.73v5.96h-3.73zM464.50 339.76h1.86v5.96h-1.86z"/>
<path fill="#d27872" d="M304.23 298.04h3.73v5.96h-3.73zM436.55 379.68h1.86v5.94h-1.86zM477.55 391.56h1.86v5.94h-1.86z"/>
<path fill="#969ccc" d="M453.32 298.04h1.86v5.96h-1.86zM479.41 298.04h1.86v5.96h-1.86zM483.14 327.84h1.86v5.96h-1.86zM417.91 339.76h1.86v5.96h-1.86zM460.77 339.76h1.86v5.96h-1.86zM287.45 345.72h1.86v5.96h-1.86z"/>
<path fill="#8a90c0" d="M440.27 304.00h1.86v5.96h-1.86zM451.45 304.00h1.86v5.96h-1.86zM412.32 315.92h3.73v5.96h-3.73zM414.18 339.76h1.86v5.96h-1.86zM421.64 339.76h7.45v5.96h-7.45zM440.27 339.76h3.73v5.96h-3.73zM445.86 339.76h1.86v5.96h-1.86zM455.18 339.76h1.86v5.96h-1.86zM470.09 339.76h7.45v5.96h-7.45zM481.27 339.76h1.86v5.96h-1.86z"/>
<path fill="#848ac0" d="M471.95 315.92h1.86v5.96h-1.86zM457.05 339.76h1.86v5.96h-1.86zM466.36 339.76h1.86v5.96h-1.86z"/>
<path fill="#7e8aba" d="M406.73 339.76h1.86v5.96h-1.86zM416.05 339.76h1.86v5.96h-1.86z"/>
<path fill="#7884ba" d="M449.59 339.76h1.86v5.96h-1.86zM479.41 339.76h1.86v5.96h-1.86z"/>
<path fill="#6c78b4" d="M458.91 339.76h1.86v5.96h-1.86z"/>
<path fill="#9096c0" d="M477.55 339.76h1.86v5.96h-1.86z"/>
<path fill="#8a96c0" d="M483.14 339.76h1.86v5.96h-1.86z"/>
<path fill="#cc6c66" d="M475.68 397.50h1.86v5.94h-1.86z"/>
</g>
<rect x="238.8" y="156" width="165.8" height="8.5" fill="#a5183a"/><rect x="404.6" y="156" width="80.4" height="8.5" fill="#2f4a86"/>
<rect x="238.8" y="168.6" width="54.3" height="8.5" fill="#e0982a"/><rect x="293.1" y="168.6" width="111.5" height="8.5" fill="#4f2574"/><rect x="404.6" y="168.6" width="80.4" height="8.5" fill="#6aaa3a"/>
<text x="311.5" y="163" font-size="7.6" fill="#f4c8d0" text-anchor="middle" textLength="22" lengthAdjust="spacingAndGlyphs">BMCP</text>
<text x="445.2" y="163" font-size="7.6" fill="#fff" text-anchor="middle" textLength="18.8" lengthAdjust="spacingAndGlyphs">GMP</text>
<text x="264" y="175.6" font-size="7.6" fill="#f8d89a" text-anchor="middle">1</text>
<text x="345" y="175.6" font-size="7.6" fill="#c8b0e0" text-anchor="middle">2</text>
<text x="446.3" y="175.6" font-size="7.6" fill="#c8e8a8" text-anchor="middle">3</text>
<text x="235.4" y="160.6" font-size="8.6" fill="#333" text-anchor="end" textLength="32.3" lengthAdjust="spacingAndGlyphs">Cell type</text>
<text x="235.4" y="173.4" font-size="8.6" fill="#333" text-anchor="end" textLength="25.4" lengthAdjust="spacingAndGlyphs">Cluster</text>
<line x1="233.6" y1="180.8" x2="233.6" y2="269" stroke="#222" stroke-width="1"/>
<text transform="translate(229.4,224.8) rotate(-90)" font-size="8.2" fill="#333" text-anchor="middle" textLength="74.8" lengthAdjust="spacingAndGlyphs">High in cluster 1 vs 2</text>
<line x1="233.6" y1="274" x2="233.6" y2="363.8" stroke="#222" stroke-width="1"/>
<text transform="translate(229.4,319.5) rotate(-90)" font-size="8.2" fill="#333" text-anchor="middle" textLength="87.2" lengthAdjust="spacingAndGlyphs">High in cluster 2 vs 1 &amp; 3</text>
<line x1="233.6" y1="368.2" x2="233.6" y2="458.3" stroke="#222" stroke-width="1"/>
<text transform="translate(229.4,409.5) rotate(-90)" font-size="8.2" fill="#333" text-anchor="middle" textLength="83" lengthAdjust="spacingAndGlyphs">High in cluster 3 vs 1 &amp; 2</text>
<g transform="translate(489.2,0) scale(0.88,1)" font-size="5.9" font-style="italic" fill="#222"><text x="0" y="185.98">Adora3</text><text x="0" y="191.95">Atp8b5</text><text x="0" y="197.92">Cd276</text><text x="0" y="203.88">Cited4</text><text x="0" y="209.85">Cmia1</text><text x="0" y="215.82">Cyp11a1</text><text x="0" y="221.78">Gp49a</text><text x="0" y="227.75">Hpgds</text><text x="0" y="233.72">Ids</text><text x="0" y="239.68">Lilrb4</text><text x="0" y="245.65">Mcpt8</text><text x="0" y="251.62">Ndst2</text><text x="0" y="257.58">Npl</text><text x="0" y="263.55">Prkcb</text><text x="0" y="269.52">Rab27b</text></g>
<g transform="translate(489.2,0) scale(0.88,1)" font-size="5.9" font-style="italic" fill="#222"><text x="0" y="279.18">Atp1b2</text><text x="0" y="285.14">Car1</text><text x="0" y="291.10">Dok2</text><text x="0" y="297.06">Egr1</text><text x="0" y="303.02">Gm7676</text><text x="0" y="308.98">Gpr183</text><text x="0" y="314.94">Gtpbp2</text><text x="0" y="320.90">Jun</text><text x="0" y="326.86">Kif26b</text><text x="0" y="332.82">Klf6</text><text x="0" y="338.78">Myo1e</text><text x="0" y="344.74">Scin</text><text x="0" y="350.70">St6galc</text><text x="0" y="356.66">Tnv12-2</text><text x="0" y="362.62">Trib2</text></g>
<g transform="translate(489.2,0) scale(0.88,1)" font-size="5.9" font-style="italic" fill="#222"><text x="0" y="372.77">Alas1</text><text x="0" y="378.71">Anxa3</text><text x="0" y="384.65">Elane</text><text x="0" y="390.59">Gatm</text><text x="0" y="396.53">Gm11505</text><text x="0" y="402.47">Hk3</text><text x="0" y="408.41">Hp</text><text x="0" y="414.35">Igsf6</text><text x="0" y="420.29">Lbp</text><text x="0" y="426.23">Ly6c2</text><text x="0" y="432.17">Mefa3</text><text x="0" y="438.11">Mtus1</text><text x="0" y="444.05">Prss57</text><text x="0" y="449.99">Prtn3</text><text x="0" y="455.93">Rasgrp2</text></g>
<defs><linearGradient id="cb" x1="0" x2="1"><stop offset="0" stop-color="#2b4a8b"/><stop offset="0.2" stop-color="#4d64a0"/><stop offset="0.4" stop-color="#9aa6d0"/><stop offset="0.52" stop-color="#f7f7f7"/><stop offset="0.7" stop-color="#eab8ac"/><stop offset="0.85" stop-color="#d27a72"/><stop offset="1" stop-color="#b3323c"/></linearGradient><linearGradient id="gm" x1="0" x2="1"><stop offset="0" stop-color="#e8e8e8"/><stop offset="0.5" stop-color="#e8a0a8"/><stop offset="1" stop-color="#d8102a"/></linearGradient></defs>
<rect x="394.8" y="461.9" width="90.4" height="4.4" fill="url(#cb)"/>
<text x="402.6" y="479.8" font-size="7.4" fill="#333" text-anchor="middle">−6</text>
<text x="415.7" y="479.8" font-size="7.4" fill="#333" text-anchor="middle">−4</text>
<text x="428.8" y="479.8" font-size="7.4" fill="#333" text-anchor="middle">−2</text>
<text x="442.9" y="479.8" font-size="7.4" fill="#333" text-anchor="middle">0</text>
<text x="455.8" y="479.8" font-size="7.4" fill="#333" text-anchor="middle">2</text>
<text x="468.8" y="479.8" font-size="7.4" fill="#333" text-anchor="middle">4</text>
<text x="481.9" y="479.8" font-size="7.4" fill="#333" text-anchor="middle">6</text>
<line x1="403.8" y1="466.3" x2="403.8" y2="469.3" stroke="#222" stroke-width="0.9"/><line x1="416.9" y1="466.3" x2="416.9" y2="469.3" stroke="#222" stroke-width="0.9"/><line x1="430" y1="466.3" x2="430" y2="469.3" stroke="#222" stroke-width="0.9"/><line x1="442.9" y1="466.3" x2="442.9" y2="469.3" stroke="#222" stroke-width="0.9"/><line x1="455.8" y1="466.3" x2="455.8" y2="469.3" stroke="#222" stroke-width="0.9"/><line x1="468.8" y1="466.3" x2="468.8" y2="469.3" stroke="#222" stroke-width="0.9"/><line x1="481.9" y1="466.3" x2="481.9" y2="469.3" stroke="#222" stroke-width="0.9"/>
<text x="237.4" y="469" font-size="8.2" fill="#333" textLength="154.3" lengthAdjust="spacingAndGlyphs">Gene expression (Z-scored log<tspan font-size="5.5" dy="2">2</tspan><tspan dy="-2">(counts+1))</tspan></text>
<defs><linearGradient id="lg" x1="0" y1="0" x2="0" y2="1"><stop offset="0" stop-color="#d3d3d3" stop-opacity="1"/><stop offset="0.6" stop-color="#d3d3d3" stop-opacity="0.85"/><stop offset="1" stop-color="#d3d3d3" stop-opacity="0.45"/></linearGradient><g id="emb"><path d="M12.6,87.5 L16.0,83.0 L23.4,78.1 L38.8,71.2 L54.2,67.3 L66.5,65.0 L73.0,62.0 L74.2,61.2 L72.6,67.3 L69.5,73.5 L63.4,80.4 L54.2,85.8 L38.8,89.6 L23.4,90.4 L15.0,89.0 Z" fill="#ececec" fill-opacity="0.6"/><path d="M74.0,63.0 L80.0,62.5 L90.0,62.5 L99.0,62.0 L110.0,62.5 L117.0,65.0 L123.0,80.0 L128.8,93.8 L131.9,95.0 L135.8,101.2 L133.0,104.0 L126.0,104.0 L118.0,103.0 L110.0,101.0 L100.0,99.0 L90.0,96.0 L82.0,92.0 L76.0,86.0 L72.5,75.0 Z" fill="url(#lg)"/><path d="M98.9,27.5 L99.5,23.5 L100.7,21.4 L102.5,21.8 L106.0,24.0 L110.0,25.0 L114.5,24.5 L115.8,21.0 L116.6,15.0 L117.1,10.8 L117.6,15.0 L118.4,21.0 L119.7,24.0 L129.2,27.5 L137.9,31.0 L143.0,29.0 L149.1,26.4 L149.6,27.4 L144.0,31.5 L139.5,34.4 L138.5,45.0 L137.9,55.0 L139.0,66.0 L140.0,74.0 L144.0,80.0 L145.0,88.0 L146.0,96.0 L146.5,104.0 L146.2,111.0 L145.0,113.0 L143.0,112.0 L139.6,107.0 L135.8,101.2 L131.9,95.0 L128.8,93.8 L123.0,80.0 L117.0,65.0 L110.0,62.5 L99.0,62.0 L90.0,62.5 L80.0,62.5 L76.5,63.0 L76.5,56.0 L74.2,50.0 L71.2,45.7 L77.3,43.9 L86.0,41.3 L94.6,34.4 L97.2,31.0 Z" fill="#d3d3d3"/><path d="M12.6,87.5 L14.0,91.0 L17.2,94.2 L24.0,95.8 L31.1,96.3 L46.5,95.5 L58.8,92.0 L66.5,88.2 L72.6,82.7 L75.7,76.5 L76.5,70.4 L76.5,63.0 L74.2,61.2 L72.6,67.3 L69.5,73.5 L63.4,80.4 L54.2,85.8 L38.8,89.6 L23.4,90.4 L15.0,89.0 Z" fill="#d0d0d0"/><path d="M12.6,87.5 L16,83 L23.4,78.1 L38.8,71.2 L54.2,67.3 L66.5,65 L73,62" fill="none" stroke="#dadada" stroke-width="1"/><g fill="#fff" fill-opacity="0.8"><circle cx="118.6" cy="91.0" r="0.73"/><circle cx="78.8" cy="75.2" r="0.63"/><circle cx="112.4" cy="81.3" r="0.55"/><circle cx="80.8" cy="83.8" r="0.76"/><circle cx="112.1" cy="87.3" r="0.92"/><circle cx="107.5" cy="88.9" r="0.76"/><circle cx="128.5" cy="97.0" r="0.66"/><circle cx="132.2" cy="97.9" r="0.67"/><circle cx="94.7" cy="58.3" r="0.56"/><circle cx="111.6" cy="71.5" r="0.57"/><circle cx="116.3" cy="95.9" r="0.71"/><circle cx="78.3" cy="73.2" r="0.84"/><circle cx="108.1" cy="90.3" r="0.50"/><circle cx="92.7" cy="71.4" r="0.90"/><circle cx="108.9" cy="67.6" r="0.61"/><circle cx="91.2" cy="93.4" r="0.63"/><circle cx="98.2" cy="93.6" r="0.89"/><circle cx="124.2" cy="86.5" r="0.65"/><circle cx="98.3" cy="88.9" r="0.70"/><circle cx="107.9" cy="92.6" r="0.52"/><circle cx="120.7" cy="81.7" r="0.63"/><circle cx="106.1" cy="95.4" r="0.66"/><circle cx="127.6" cy="96.0" r="0.57"/><circle cx="123.9" cy="89.7" r="0.93"/><circle cx="115.3" cy="86.6" r="0.87"/><circle cx="118.7" cy="92.9" r="0.63"/><circle cx="104.4" cy="85.7" r="0.52"/><circle cx="123.5" cy="84.6" r="0.50"/><circle cx="106.8" cy="61.1" r="0.91"/><circle cx="80.4" cy="66.4" r="0.62"/><circle cx="99.7" cy="83.5" r="0.53"/><circle cx="91.7" cy="71.8" r="0.72"/><circle cx="134.8" cy="69.7" r="0.75"/><circle cx="102.7" cy="95.2" r="0.51"/><circle cx="114.1" cy="83.7" r="0.80"/><circle cx="119.1" cy="99.7" r="0.57"/><circle cx="108.7" cy="72.1" r="0.87"/><circle cx="92.3" cy="75.7" r="0.86"/><circle cx="118.5" cy="73.7" r="0.81"/><circle cx="131.0" cy="96.0" r="0.65"/><circle cx="89.2" cy="63.5" r="0.94"/><circle cx="93.5" cy="78.9" r="0.60"/><circle cx="93.2" cy="78.7" r="0.59"/><circle cx="98.2" cy="91.2" r="0.85"/><circle cx="139.3" cy="79.6" r="0.52"/><circle cx="100.6" cy="97.4" r="0.69"/><circle cx="93.1" cy="96.1" r="0.74"/><circle cx="107.3" cy="79.8" r="0.67"/><circle cx="117.6" cy="72.0" r="0.71"/><circle cx="114.9" cy="91.1" r="0.72"/><circle cx="80.5" cy="73.0" r="0.66"/><circle cx="81.8" cy="84.6" r="0.56"/><circle cx="90.5" cy="80.0" r="0.91"/><circle cx="121.9" cy="95.6" r="0.91"/><circle cx="96.0" cy="83.6" r="0.77"/><circle cx="120.5" cy="94.7" r="0.64"/><circle cx="114.7" cy="90.9" r="0.55"/><circle cx="107.5" cy="92.1" r="0.73"/><circle cx="106.7" cy="99.6" r="0.51"/><circle cx="103.4" cy="75.0" r="0.70"/><circle cx="123.6" cy="87.1" r="0.54"/><circle cx="94.3" cy="75.1" r="0.93"/><circle cx="110.5" cy="68.3" r="0.74"/><circle cx="73.9" cy="71.0" r="0.89"/><circle cx="89.9" cy="71.6" r="0.63"/><circle cx="108.0" cy="81.1" r="0.91"/><circle cx="105.0" cy="95.9" r="0.62"/><circle cx="79.0" cy="66.1" r="0.85"/><circle cx="92.3" cy="69.7" r="0.78"/><circle cx="90.9" cy="95.1" r="0.70"/><circle cx="90.5" cy="87.2" r="0.76"/><circle cx="98.3" cy="67.2" r="0.82"/><circle cx="115.6" cy="96.0" r="0.92"/><circle cx="77.4" cy="78.8" r="0.60"/><circle cx="107.6" cy="99.1" r="0.76"/><circle cx="86.8" cy="64.1" r="0.54"/><circle cx="111.9" cy="94.3" r="0.60"/><circle cx="116.3" cy="87.4" r="0.53"/><circle cx="91.4" cy="89.5" r="0.90"/><circle cx="110.3" cy="100.0" r="0.89"/><circle cx="117.9" cy="70.4" r="0.54"/><circle cx="86.6" cy="65.7" r="0.67"/><circle cx="118.5" cy="100.0" r="0.63"/><circle cx="119.4" cy="92.5" r="0.82"/><circle cx="111.2" cy="100.5" r="0.95"/><circle cx="113.9" cy="83.0" r="0.62"/><circle cx="84.8" cy="82.5" r="0.55"/><circle cx="123.8" cy="90.3" r="0.60"/><circle cx="87.9" cy="88.4" r="0.66"/><circle cx="127.4" cy="95.3" r="0.52"/><circle cx="79.2" cy="82.6" r="0.77"/><circle cx="79.1" cy="75.8" r="0.87"/><circle cx="127.5" cy="101.3" r="0.53"/><circle cx="88.6" cy="86.6" r="0.91"/><circle cx="129.7" cy="68.9" r="0.90"/><circle cx="89.6" cy="74.6" r="0.75"/><circle cx="116.3" cy="100.3" r="0.63"/><circle cx="119.6" cy="50.1" r="0.65"/><circle cx="129.0" cy="99.7" r="0.61"/><circle cx="84.4" cy="72.9" r="0.70"/><circle cx="102.7" cy="77.2" r="0.84"/><circle cx="97.4" cy="76.7" r="0.70"/><circle cx="86.2" cy="74.3" r="0.66"/><circle cx="76.9" cy="67.8" r="0.60"/><circle cx="91.5" cy="93.5" r="0.87"/><circle cx="90.4" cy="96.1" r="0.84"/><circle cx="100.3" cy="84.5" r="0.84"/><circle cx="127.7" cy="80.6" r="0.78"/><circle cx="108.6" cy="98.5" r="0.70"/><circle cx="117.7" cy="83.5" r="0.91"/><circle cx="120.6" cy="99.7" r="0.73"/><circle cx="90.2" cy="65.3" r="0.58"/><circle cx="90.9" cy="76.6" r="0.62"/><circle cx="102.7" cy="93.5" r="0.61"/><circle cx="90.6" cy="84.5" r="0.74"/><circle cx="119.3" cy="97.0" r="0.79"/><circle cx="100.0" cy="84.9" r="0.61"/><circle cx="90.3" cy="71.7" r="0.80"/><circle cx="102.0" cy="98.4" r="0.88"/><circle cx="102.5" cy="61.1" r="0.94"/><circle cx="114.1" cy="64.8" r="0.88"/><circle cx="79.0" cy="79.2" r="0.50"/><circle cx="119.4" cy="101.3" r="0.75"/><circle cx="106.7" cy="92.0" r="0.87"/><circle cx="80.4" cy="57.7" r="0.53"/><circle cx="89.6" cy="68.7" r="0.89"/><circle cx="96.2" cy="82.3" r="0.75"/><circle cx="80.4" cy="72.4" r="0.94"/><circle cx="121.1" cy="91.9" r="0.86"/><circle cx="109.4" cy="89.3" r="0.89"/><circle cx="115.3" cy="91.1" r="0.80"/><circle cx="116.5" cy="91.9" r="0.85"/><circle cx="78.3" cy="74.6" r="0.57"/><circle cx="117.9" cy="89.5" r="0.87"/><circle cx="75.2" cy="67.7" r="0.91"/><circle cx="93.4" cy="90.3" r="0.71"/><circle cx="101.4" cy="74.2" r="0.57"/><circle cx="123.3" cy="92.2" r="0.85"/><circle cx="89.5" cy="87.6" r="0.73"/><circle cx="77.4" cy="83.1" r="0.66"/><circle cx="81.2" cy="64.7" r="0.78"/><circle cx="81.6" cy="72.7" r="0.51"/><circle cx="116.9" cy="91.9" r="0.79"/><circle cx="117.4" cy="79.1" r="0.78"/><circle cx="93.0" cy="95.4" r="0.53"/><circle cx="94.1" cy="87.3" r="0.61"/><circle cx="110.0" cy="75.2" r="0.92"/><circle cx="95.6" cy="87.8" r="0.80"/><circle cx="105.2" cy="86.1" r="0.93"/><circle cx="101.6" cy="72.7" r="0.69"/><circle cx="104.2" cy="99.0" r="0.66"/><circle cx="98.5" cy="83.0" r="0.62"/><circle cx="76.4" cy="84.3" r="0.94"/><circle cx="94.9" cy="84.2" r="0.85"/><circle cx="89.9" cy="83.9" r="0.55"/><circle cx="117.9" cy="74.4" r="0.69"/><circle cx="94.3" cy="62.4" r="0.67"/><circle cx="127.7" cy="101.4" r="0.64"/><circle cx="126.2" cy="76.5" r="0.90"/><circle cx="114.7" cy="64.4" r="0.75"/><circle cx="90.3" cy="74.5" r="0.71"/><circle cx="108.0" cy="96.5" r="0.90"/><circle cx="119.5" cy="97.6" r="0.88"/><circle cx="93.0" cy="56.7" r="0.91"/><circle cx="115.6" cy="61.2" r="0.61"/><circle cx="121.8" cy="81.9" r="0.86"/><circle cx="79.3" cy="82.3" r="0.67"/><circle cx="119.1" cy="88.1" r="0.92"/><circle cx="84.6" cy="75.0" r="0.69"/><circle cx="97.0" cy="75.6" r="0.61"/><circle cx="117.2" cy="86.0" r="0.74"/><circle cx="97.4" cy="88.3" r="0.64"/><circle cx="81.7" cy="86.7" r="0.79"/><circle cx="98.7" cy="83.8" r="0.58"/><circle cx="122.3" cy="101.7" r="0.87"/><circle cx="125.3" cy="88.8" r="0.59"/><circle cx="117.9" cy="84.0" r="0.77"/><circle cx="110.9" cy="89.9" r="0.88"/><circle cx="125.7" cy="103.5" r="0.62"/><circle cx="96.0" cy="92.6" r="0.69"/><circle cx="108.5" cy="86.1" r="0.80"/><circle cx="94.9" cy="77.0" r="0.80"/><circle cx="129.9" cy="102.6" r="0.60"/><circle cx="79.2" cy="78.4" r="0.52"/><circle cx="127.5" cy="95.0" r="0.93"/><circle cx="113.2" cy="65.7" r="0.86"/><circle cx="103.3" cy="78.2" r="0.87"/><circle cx="110.8" cy="87.1" r="0.68"/><circle cx="110.7" cy="69.3" r="0.68"/><circle cx="103.2" cy="96.5" r="0.51"/><circle cx="86.3" cy="61.6" r="0.79"/><circle cx="121.1" cy="100.7" r="0.87"/><circle cx="110.3" cy="69.6" r="0.95"/><circle cx="85.3" cy="90.9" r="0.83"/><circle cx="85.2" cy="60.7" r="0.73"/><circle cx="131.8" cy="102.0" r="0.71"/><circle cx="116.0" cy="93.8" r="0.68"/><circle cx="85.1" cy="72.2" r="0.74"/><circle cx="95.6" cy="62.8" r="0.58"/><circle cx="84.3" cy="81.7" r="0.83"/><circle cx="117.6" cy="89.2" r="0.77"/><circle cx="78.5" cy="81.8" r="0.55"/><circle cx="108.7" cy="72.5" r="0.75"/><circle cx="99.0" cy="92.1" r="0.51"/><circle cx="111.1" cy="91.4" r="0.55"/><circle cx="115.9" cy="81.4" r="0.54"/><circle cx="86.8" cy="86.8" r="0.71"/><circle cx="87.8" cy="90.4" r="0.73"/><circle cx="115.3" cy="65.5" r="0.53"/><circle cx="109.0" cy="85.8" r="0.68"/><circle cx="98.0" cy="87.8" r="0.73"/><circle cx="108.2" cy="95.3" r="0.79"/><circle cx="97.4" cy="91.6" r="0.52"/><circle cx="103.2" cy="99.6" r="0.89"/><circle cx="111.8" cy="97.8" r="0.83"/><circle cx="95.6" cy="86.5" r="0.54"/><circle cx="108.9" cy="91.8" r="0.64"/><circle cx="90.1" cy="76.6" r="0.66"/><circle cx="113.7" cy="87.2" r="0.83"/><circle cx="117.5" cy="97.7" r="0.62"/><circle cx="85.4" cy="90.3" r="0.76"/><circle cx="107.0" cy="87.7" r="0.74"/><circle cx="82.9" cy="87.4" r="0.87"/><circle cx="92.7" cy="62.8" r="0.77"/><circle cx="78.9" cy="73.4" r="0.63"/><circle cx="90.2" cy="91.9" r="0.92"/><circle cx="120.7" cy="98.9" r="0.89"/><circle cx="96.8" cy="77.4" r="0.64"/><circle cx="100.0" cy="80.5" r="0.75"/><circle cx="83.8" cy="79.3" r="0.84"/><circle cx="118.9" cy="98.9" r="0.67"/><circle cx="112.0" cy="80.6" r="0.76"/><circle cx="81.3" cy="87.5" r="0.56"/><circle cx="108.3" cy="74.2" r="0.87"/><circle cx="86.2" cy="89.0" r="0.68"/><circle cx="104.5" cy="88.9" r="0.92"/><circle cx="119.3" cy="101.7" r="0.63"/><circle cx="103.4" cy="74.8" r="0.60"/><circle cx="103.5" cy="76.5" r="0.65"/><circle cx="89.4" cy="94.2" r="0.67"/><circle cx="112.4" cy="79.7" r="0.65"/><circle cx="103.0" cy="88.1" r="0.80"/><circle cx="124.8" cy="91.7" r="0.85"/><circle cx="96.5" cy="90.1" r="0.81"/><circle cx="120.4" cy="77.7" r="0.90"/><circle cx="114.5" cy="96.8" r="0.61"/><circle cx="117.6" cy="91.6" r="0.66"/><circle cx="108.1" cy="100.4" r="0.94"/><circle cx="85.4" cy="76.5" r="0.91"/><circle cx="135.0" cy="71.5" r="0.87"/><circle cx="83.8" cy="85.4" r="0.65"/><circle cx="97.7" cy="82.8" r="0.52"/><circle cx="121.3" cy="93.3" r="0.81"/><circle cx="113.9" cy="81.3" r="0.82"/><circle cx="90.8" cy="71.6" r="0.51"/><circle cx="113.6" cy="81.9" r="0.86"/><circle cx="92.9" cy="89.9" r="0.62"/><circle cx="75.5" cy="73.2" r="0.70"/><circle cx="83.7" cy="67.2" r="0.51"/><circle cx="125.5" cy="97.0" r="0.53"/><circle cx="109.7" cy="95.0" r="0.50"/><circle cx="85.1" cy="86.9" r="0.76"/><circle cx="97.2" cy="85.0" r="0.68"/><circle cx="107.8" cy="76.6" r="0.65"/><circle cx="111.3" cy="80.1" r="0.76"/><circle cx="73.3" cy="75.3" r="0.90"/><circle cx="107.0" cy="91.1" r="0.59"/><circle cx="110.5" cy="81.9" r="0.69"/><circle cx="76.2" cy="73.4" r="0.60"/><circle cx="88.8" cy="93.0" r="0.78"/><circle cx="99.7" cy="83.8" r="0.58"/><circle cx="120.8" cy="97.0" r="0.65"/><circle cx="120.4" cy="102.3" r="0.67"/><circle cx="107.7" cy="99.3" r="0.58"/><circle cx="102.2" cy="95.6" r="0.63"/><circle cx="90.6" cy="63.3" r="0.82"/><circle cx="92.4" cy="79.2" r="0.55"/><circle cx="91.9" cy="71.0" r="0.78"/><circle cx="101.5" cy="95.8" r="0.57"/><circle cx="76.1" cy="85.2" r="0.51"/><circle cx="115.8" cy="101.1" r="0.75"/><circle cx="83.0" cy="65.5" r="0.79"/><circle cx="81.1" cy="89.6" r="0.68"/><circle cx="92.2" cy="90.9" r="0.59"/><circle cx="88.7" cy="76.5" r="0.51"/><circle cx="82.2" cy="79.7" r="0.88"/><circle cx="85.5" cy="78.3" r="0.56"/><circle cx="120.5" cy="94.6" r="0.56"/><circle cx="91.7" cy="81.1" r="0.67"/><circle cx="114.2" cy="94.5" r="0.65"/><circle cx="90.2" cy="84.2" r="0.59"/><circle cx="123.1" cy="95.0" r="0.85"/><circle cx="115.8" cy="95.9" r="0.63"/><circle cx="84.3" cy="91.7" r="0.53"/><circle cx="87.8" cy="79.7" r="0.74"/><circle cx="94.2" cy="96.9" r="0.60"/><circle cx="125.8" cy="60.4" r="0.56"/><circle cx="84.7" cy="80.4" r="0.80"/><circle cx="94.3" cy="90.7" r="0.60"/><circle cx="99.9" cy="92.6" r="0.95"/><circle cx="128.6" cy="96.5" r="0.73"/><circle cx="126.9" cy="101.6" r="0.60"/><circle cx="85.0" cy="75.1" r="0.65"/><circle cx="107.6" cy="83.7" r="0.81"/><circle cx="119.9" cy="87.0" r="0.60"/><circle cx="92.9" cy="83.1" r="0.65"/><circle cx="77.8" cy="77.2" r="0.83"/><circle cx="105.8" cy="77.5" r="0.93"/><circle cx="115.3" cy="83.0" r="0.79"/><circle cx="97.3" cy="65.4" r="0.57"/><circle cx="117.7" cy="88.2" r="0.61"/><circle cx="81.1" cy="77.4" r="0.60"/><circle cx="74.2" cy="72.4" r="0.54"/><circle cx="104.4" cy="79.2" r="0.86"/><circle cx="104.6" cy="85.1" r="0.89"/><circle cx="117.1" cy="100.5" r="0.77"/><circle cx="99.6" cy="81.3" r="0.64"/><circle cx="90.1" cy="84.3" r="0.88"/><circle cx="78.6" cy="57.2" r="0.74"/><circle cx="120.9" cy="81.6" r="0.82"/><circle cx="115.7" cy="69.0" r="0.67"/><circle cx="116.9" cy="86.7" r="0.79"/><circle cx="97.8" cy="92.2" r="0.55"/><circle cx="116.2" cy="57.7" r="0.85"/><circle cx="101.1" cy="82.9" r="0.52"/><circle cx="85.5" cy="87.3" r="0.69"/><circle cx="95.6" cy="85.0" r="0.59"/><circle cx="94.7" cy="78.3" r="0.75"/><circle cx="102.2" cy="70.2" r="0.84"/><circle cx="98.7" cy="86.9" r="0.91"/><circle cx="115.8" cy="76.4" r="0.87"/><circle cx="127.4" cy="72.8" r="0.82"/><circle cx="110.4" cy="69.5" r="0.86"/><circle cx="91.9" cy="81.9" r="0.86"/><circle cx="88.2" cy="79.4" r="0.59"/><circle cx="83.6" cy="89.7" r="0.69"/><circle cx="118.7" cy="89.5" r="0.72"/><circle cx="116.0" cy="86.4" r="0.90"/><circle cx="78.0" cy="67.3" r="0.88"/><circle cx="106.7" cy="78.0" r="0.94"/><circle cx="120.2" cy="89.3" r="0.73"/><circle cx="115.6" cy="100.7" r="0.95"/><circle cx="123.7" cy="99.2" r="0.73"/><circle cx="97.0" cy="64.6" r="0.58"/><circle cx="90.9" cy="85.8" r="0.67"/><circle cx="87.0" cy="71.9" r="0.92"/><circle cx="124.5" cy="85.0" r="0.68"/><circle cx="87.9" cy="93.1" r="0.70"/><circle cx="115.5" cy="90.2" r="0.59"/><circle cx="120.1" cy="93.6" r="0.66"/><circle cx="106.6" cy="88.6" r="0.84"/><circle cx="114.8" cy="86.7" r="0.89"/><circle cx="99.0" cy="78.2" r="0.56"/><circle cx="103.4" cy="74.6" r="0.55"/><circle cx="118.8" cy="69.8" r="0.69"/><circle cx="125.7" cy="89.2" r="0.51"/><circle cx="98.6" cy="78.5" r="0.56"/><circle cx="86.5" cy="72.3" r="0.51"/><circle cx="110.1" cy="87.4" r="0.83"/><circle cx="80.8" cy="65.8" r="0.78"/><circle cx="127.7" cy="98.3" r="0.94"/><circle cx="94.1" cy="86.7" r="0.68"/><circle cx="125.7" cy="88.0" r="0.83"/><circle cx="109.0" cy="67.0" r="0.56"/><circle cx="104.6" cy="67.7" r="0.52"/><circle cx="119.1" cy="99.6" r="0.78"/><circle cx="96.5" cy="94.5" r="0.54"/><circle cx="123.0" cy="84.2" r="0.65"/><circle cx="89.1" cy="77.0" r="0.84"/><circle cx="112.2" cy="93.9" r="0.63"/><circle cx="96.1" cy="66.8" r="0.80"/><circle cx="108.7" cy="92.4" r="0.94"/><circle cx="86.4" cy="89.9" r="0.82"/><circle cx="88.0" cy="77.4" r="0.62"/><circle cx="117.6" cy="90.9" r="0.56"/><circle cx="90.8" cy="91.9" r="0.56"/><circle cx="102.0" cy="89.6" r="0.75"/><circle cx="81.4" cy="77.7" r="0.63"/><circle cx="124.8" cy="93.6" r="0.90"/><circle cx="84.6" cy="90.8" r="0.79"/><circle cx="122.9" cy="84.0" r="0.68"/><circle cx="75.9" cy="82.7" r="0.79"/><circle cx="128.9" cy="95.4" r="0.92"/><circle cx="107.4" cy="94.4" r="0.69"/><circle cx="111.2" cy="99.1" r="0.76"/><circle cx="117.9" cy="70.0" r="0.89"/><circle cx="121.4" cy="77.9" r="0.89"/><circle cx="126.7" cy="102.8" r="0.70"/><circle cx="73.2" cy="75.0" r="0.58"/><circle cx="75.7" cy="76.8" r="0.94"/><circle cx="86.5" cy="68.9" r="0.71"/><circle cx="82.9" cy="87.3" r="0.91"/><circle cx="104.7" cy="69.4" r="0.91"/><circle cx="102.9" cy="90.1" r="0.95"/><circle cx="83.6" cy="79.7" r="0.73"/><circle cx="108.6" cy="76.3" r="0.77"/><circle cx="117.3" cy="66.1" r="0.63"/><circle cx="91.9" cy="96.0" r="0.75"/><circle cx="95.8" cy="64.5" r="0.92"/><circle cx="117.5" cy="102.2" r="0.82"/><circle cx="89.1" cy="82.1" r="0.53"/><circle cx="96.3" cy="86.9" r="0.59"/><circle cx="80.2" cy="71.0" r="0.92"/><circle cx="93.4" cy="95.3" r="0.63"/><circle cx="100.8" cy="90.9" r="0.77"/><circle cx="124.6" cy="100.0" r="0.63"/><circle cx="80.8" cy="86.6" r="0.90"/><circle cx="103.4" cy="56.9" r="0.88"/><circle cx="119.7" cy="96.3" r="0.64"/><circle cx="105.9" cy="74.7" r="0.83"/><circle cx="115.5" cy="84.8" r="0.79"/><circle cx="121.3" cy="62.2" r="0.55"/><circle cx="127.6" cy="62.2" r="0.63"/><circle cx="81.0" cy="65.3" r="0.79"/><circle cx="97.4" cy="91.5" r="0.83"/><circle cx="99.1" cy="79.7" r="0.75"/><circle cx="105.7" cy="68.4" r="0.77"/><circle cx="98.1" cy="80.7" r="0.63"/><circle cx="93.9" cy="79.5" r="0.60"/><circle cx="117.5" cy="82.5" r="0.77"/><circle cx="97.4" cy="84.1" r="0.69"/><circle cx="92.1" cy="82.1" r="0.51"/><circle cx="130.4" cy="104.0" r="0.85"/><circle cx="123.2" cy="89.7" r="0.92"/><circle cx="116.4" cy="89.9" r="0.93"/><circle cx="95.0" cy="77.0" r="0.78"/><circle cx="84.6" cy="61.3" r="0.67"/><circle cx="87.3" cy="83.7" r="0.76"/><circle cx="83.5" cy="78.6" r="0.71"/><circle cx="104.9" cy="89.1" r="0.81"/><circle cx="84.9" cy="64.8" r="0.70"/><circle cx="120.7" cy="75.7" r="0.55"/><circle cx="108.7" cy="71.8" r="0.89"/><circle cx="102.8" cy="87.6" r="0.65"/><circle cx="117.0" cy="81.1" r="0.81"/><circle cx="117.2" cy="94.2" r="0.64"/><circle cx="90.3" cy="92.3" r="0.58"/><circle cx="112.1" cy="77.6" r="0.54"/><circle cx="115.6" cy="89.9" r="0.86"/><circle cx="124.4" cy="58.0" r="0.64"/><circle cx="95.5" cy="88.4" r="0.68"/><circle cx="119.7" cy="76.5" r="0.60"/><circle cx="91.5" cy="80.7" r="0.75"/><circle cx="86.4" cy="87.8" r="0.65"/><circle cx="80.9" cy="70.8" r="0.56"/><circle cx="116.5" cy="91.5" r="0.82"/><circle cx="105.5" cy="86.0" r="0.65"/><circle cx="88.2" cy="86.1" r="0.80"/><circle cx="109.7" cy="82.8" r="0.70"/><circle cx="121.3" cy="93.7" r="0.70"/><circle cx="83.6" cy="68.9" r="0.57"/><circle cx="101.2" cy="93.5" r="0.93"/><circle cx="121.0" cy="76.7" r="0.64"/><circle cx="85.7" cy="84.6" r="0.63"/><circle cx="101.4" cy="96.9" r="0.87"/><circle cx="74.5" cy="68.2" r="0.71"/><circle cx="78.6" cy="85.0" r="0.60"/><circle cx="85.3" cy="86.7" r="0.66"/><circle cx="98.3" cy="82.9" r="0.63"/><circle cx="117.4" cy="82.6" r="0.76"/><circle cx="122.6" cy="102.4" r="0.92"/><circle cx="87.3" cy="83.6" r="0.74"/><circle cx="97.9" cy="60.2" r="0.91"/><circle cx="106.6" cy="96.4" r="0.60"/><circle cx="111.6" cy="75.2" r="0.85"/><circle cx="110.0" cy="84.4" r="0.79"/><circle cx="123.4" cy="83.1" r="0.77"/><circle cx="124.8" cy="87.5" r="0.50"/><circle cx="128.3" cy="99.4" r="0.92"/><circle cx="92.2" cy="81.6" r="0.52"/><circle cx="107.3" cy="71.4" r="0.81"/><circle cx="109.6" cy="94.2" r="0.52"/><circle cx="114.1" cy="70.5" r="0.50"/><circle cx="108.9" cy="89.9" r="0.56"/><circle cx="81.7" cy="79.4" r="0.66"/><circle cx="108.2" cy="91.7" r="0.57"/><circle cx="111.6" cy="91.4" r="0.71"/><circle cx="118.2" cy="82.4" r="0.63"/><circle cx="83.4" cy="91.4" r="0.67"/><circle cx="107.6" cy="98.4" r="0.58"/><circle cx="93.6" cy="83.4" r="0.88"/><circle cx="112.3" cy="63.8" r="0.82"/><circle cx="96.4" cy="66.9" r="0.90"/><circle cx="122.0" cy="94.6" r="0.70"/><circle cx="136.0" cy="93.3" r="0.66"/><circle cx="123.6" cy="83.3" r="0.53"/><circle cx="114.7" cy="85.8" r="0.77"/><circle cx="108.7" cy="85.6" r="0.79"/><circle cx="118.3" cy="87.0" r="0.76"/><circle cx="100.5" cy="77.0" r="0.89"/><circle cx="128.5" cy="101.6" r="0.79"/><circle cx="105.3" cy="70.3" r="0.81"/><circle cx="113.6" cy="97.3" r="0.68"/><circle cx="116.3" cy="95.5" r="0.56"/><circle cx="116.9" cy="84.8" r="0.76"/><circle cx="95.5" cy="85.8" r="0.90"/><circle cx="92.1" cy="80.1" r="0.63"/><circle cx="115.9" cy="96.5" r="0.95"/><circle cx="108.9" cy="74.8" r="0.83"/><circle cx="94.4" cy="92.7" r="0.80"/><circle cx="123.6" cy="97.1" r="0.66"/><circle cx="122.1" cy="92.6" r="0.86"/><circle cx="110.4" cy="84.9" r="0.95"/><circle cx="86.8" cy="86.7" r="0.56"/><circle cx="116.1" cy="69.3" r="0.52"/><circle cx="101.1" cy="79.3" r="0.61"/><circle cx="75.8" cy="82.1" r="0.75"/><circle cx="113.4" cy="67.5" r="0.68"/><circle cx="99.7" cy="83.1" r="0.84"/><circle cx="90.6" cy="73.0" r="0.86"/><circle cx="117.5" cy="67.8" r="0.50"/><circle cx="116.8" cy="92.7" r="0.83"/><circle cx="115.7" cy="91.2" r="0.79"/><circle cx="81.3" cy="73.5" r="0.60"/><circle cx="115.4" cy="66.2" r="0.83"/><circle cx="99.8" cy="85.2" r="0.54"/><circle cx="75.5" cy="79.0" r="0.64"/><circle cx="117.0" cy="101.3" r="0.76"/><circle cx="129.9" cy="97.6" r="0.54"/><circle cx="115.3" cy="77.5" r="0.79"/><circle cx="137.2" cy="93.5" r="0.65"/><circle cx="100.2" cy="63.4" r="0.81"/><circle cx="109.8" cy="77.4" r="0.56"/><circle cx="102.5" cy="77.3" r="0.78"/><circle cx="101.9" cy="86.3" r="0.55"/><circle cx="94.7" cy="65.8" r="0.69"/><circle cx="120.0" cy="101.6" r="0.57"/><circle cx="110.2" cy="91.5" r="0.70"/><circle cx="105.4" cy="79.0" r="0.85"/><circle cx="103.7" cy="76.2" r="0.58"/><circle cx="123.7" cy="102.4" r="0.65"/><circle cx="86.2" cy="79.8" r="0.82"/><circle cx="98.3" cy="94.1" r="0.63"/><circle cx="123.2" cy="92.6" r="0.62"/><circle cx="82.2" cy="86.4" r="0.76"/><circle cx="100.7" cy="63.7" r="0.59"/><circle cx="111.2" cy="98.7" r="0.50"/><circle cx="124.6" cy="103.7" r="0.84"/><circle cx="114.8" cy="89.1" r="0.66"/><circle cx="125.0" cy="86.0" r="0.61"/><circle cx="128.2" cy="102.9" r="0.87"/><circle cx="74.1" cy="72.9" r="0.91"/><circle cx="112.5" cy="85.7" r="0.68"/><circle cx="123.2" cy="90.9" r="0.72"/><circle cx="101.8" cy="94.8" r="0.77"/><circle cx="107.6" cy="82.0" r="0.87"/><circle cx="140.3" cy="104.5" r="0.57"/><circle cx="88.4" cy="73.6" r="0.58"/><circle cx="93.6" cy="74.0" r="0.89"/><circle cx="119.8" cy="85.2" r="0.78"/><circle cx="118.2" cy="98.4" r="0.82"/><circle cx="133.4" cy="82.9" r="0.64"/><circle cx="87.4" cy="78.3" r="0.58"/><circle cx="78.4" cy="88.0" r="0.87"/><circle cx="99.0" cy="79.5" r="0.85"/><circle cx="120.7" cy="95.0" r="0.86"/><circle cx="109.2" cy="96.5" r="0.56"/><circle cx="96.9" cy="76.5" r="0.89"/><circle cx="113.8" cy="87.1" r="0.67"/><circle cx="107.1" cy="94.9" r="0.82"/><circle cx="93.2" cy="93.5" r="0.81"/><circle cx="115.1" cy="89.4" r="0.83"/><circle cx="95.3" cy="80.4" r="0.73"/><circle cx="105.0" cy="64.8" r="0.60"/><circle cx="123.2" cy="83.7" r="0.84"/><circle cx="109.2" cy="95.7" r="0.53"/><circle cx="93.9" cy="66.3" r="0.85"/><circle cx="113.4" cy="76.5" r="0.63"/><circle cx="119.9" cy="86.1" r="0.72"/><circle cx="103.9" cy="96.6" r="0.70"/><circle cx="78.5" cy="86.4" r="0.85"/><circle cx="78.7" cy="68.3" r="0.81"/><circle cx="117.1" cy="101.0" r="0.58"/><circle cx="84.3" cy="89.2" r="0.92"/><circle cx="89.3" cy="77.8" r="0.84"/><circle cx="118.6" cy="95.7" r="0.64"/><circle cx="109.8" cy="91.9" r="0.93"/><circle cx="78.2" cy="76.1" r="0.55"/><circle cx="110.3" cy="64.0" r="0.73"/><circle cx="89.6" cy="94.5" r="0.90"/><circle cx="88.1" cy="92.6" r="0.59"/><circle cx="121.9" cy="94.1" r="0.88"/><circle cx="83.0" cy="92.4" r="0.92"/><circle cx="97.6" cy="91.1" r="0.74"/><circle cx="124.5" cy="91.2" r="0.86"/><circle cx="82.4" cy="67.3" r="0.79"/><circle cx="143.9" cy="101.5" r="0.86"/><circle cx="135.4" cy="64.6" r="0.79"/><circle cx="89.3" cy="94.9" r="0.65"/><circle cx="76.7" cy="78.6" r="0.91"/><circle cx="106.0" cy="85.8" r="0.54"/><circle cx="112.3" cy="65.0" r="0.92"/><circle cx="128.3" cy="100.6" r="0.90"/><circle cx="126.2" cy="102.1" r="0.69"/><circle cx="80.4" cy="76.4" r="0.63"/><circle cx="105.3" cy="89.2" r="0.67"/><circle cx="82.5" cy="80.6" r="0.60"/><circle cx="100.1" cy="98.5" r="0.61"/><circle cx="114.7" cy="83.4" r="0.73"/><circle cx="114.6" cy="62.5" r="0.76"/><circle cx="118.7" cy="97.6" r="0.85"/><circle cx="108.8" cy="96.7" r="0.76"/><circle cx="102.2" cy="59.1" r="0.74"/><circle cx="82.1" cy="84.2" r="0.79"/><circle cx="114.2" cy="96.4" r="0.69"/><circle cx="118.8" cy="91.1" r="0.88"/><circle cx="119.9" cy="97.6" r="0.95"/><circle cx="89.9" cy="89.3" r="0.79"/><circle cx="104.4" cy="68.5" r="0.59"/><circle cx="107.1" cy="58.8" r="0.70"/><circle cx="104.7" cy="92.1" r="0.68"/><circle cx="123.8" cy="91.8" r="0.93"/><circle cx="99.4" cy="76.5" r="0.65"/><circle cx="89.5" cy="84.3" r="0.66"/><circle cx="101.0" cy="89.0" r="0.59"/><circle cx="111.5" cy="67.1" r="0.78"/><circle cx="129.9" cy="97.5" r="0.90"/><circle cx="120.6" cy="97.1" r="0.79"/><circle cx="125.0" cy="89.6" r="0.58"/><circle cx="86.8" cy="80.7" r="0.83"/><circle cx="105.3" cy="90.9" r="0.94"/><circle cx="83.5" cy="83.9" r="0.93"/><circle cx="122.4" cy="93.3" r="0.77"/><circle cx="95.2" cy="71.1" r="0.63"/><circle cx="86.0" cy="89.9" r="0.60"/><circle cx="99.5" cy="74.2" r="0.79"/><circle cx="99.9" cy="84.4" r="0.73"/><circle cx="117.4" cy="83.4" r="0.78"/><circle cx="112.0" cy="81.9" r="0.83"/><circle cx="114.1" cy="80.7" r="0.57"/><circle cx="105.5" cy="74.0" r="0.69"/><circle cx="104.7" cy="83.2" r="0.78"/><circle cx="123.9" cy="100.3" r="0.94"/><circle cx="130.5" cy="102.3" r="0.93"/><circle cx="122.4" cy="102.3" r="0.78"/><circle cx="88.9" cy="61.8" r="0.73"/><circle cx="110.4" cy="92.6" r="0.77"/><circle cx="108.3" cy="97.6" r="0.85"/><circle cx="92.7" cy="67.9" r="0.79"/><circle cx="99.9" cy="80.9" r="0.85"/><circle cx="110.4" cy="59.2" r="0.70"/><circle cx="137.7" cy="78.0" r="0.76"/><circle cx="98.7" cy="69.8" r="0.78"/><circle cx="108.8" cy="77.6" r="0.75"/><circle cx="85.6" cy="56.9" r="0.66"/><circle cx="106.5" cy="68.8" r="0.77"/><circle cx="79.0" cy="56.2" r="0.93"/><circle cx="94.5" cy="88.6" r="0.87"/><circle cx="122.2" cy="92.8" r="0.63"/><circle cx="125.4" cy="94.3" r="0.59"/><circle cx="114.4" cy="81.6" r="0.80"/><circle cx="123.3" cy="53.7" r="0.63"/><circle cx="96.8" cy="92.8" r="0.94"/><circle cx="120.2" cy="77.6" r="0.51"/><circle cx="99.2" cy="72.2" r="0.89"/><circle cx="112.6" cy="89.4" r="0.58"/><circle cx="80.4" cy="72.7" r="0.83"/><circle cx="123.2" cy="85.0" r="0.80"/><circle cx="118.0" cy="100.7" r="0.60"/><circle cx="91.5" cy="55.8" r="0.71"/><circle cx="89.3" cy="82.2" r="0.95"/><circle cx="80.2" cy="89.4" r="0.57"/><circle cx="122.7" cy="88.1" r="0.74"/><circle cx="87.7" cy="72.8" r="0.67"/><circle cx="109.8" cy="58.9" r="0.76"/><circle cx="123.2" cy="89.2" r="0.53"/><circle cx="120.0" cy="94.2" r="0.83"/><circle cx="118.3" cy="74.2" r="0.60"/><circle cx="104.7" cy="95.0" r="0.81"/><circle cx="111.2" cy="79.9" r="0.59"/><circle cx="88.3" cy="88.7" r="0.72"/><circle cx="103.0" cy="69.6" r="0.86"/><circle cx="115.6" cy="82.2" r="0.66"/><circle cx="122.2" cy="91.2" r="0.91"/><circle cx="93.8" cy="63.0" r="0.80"/><circle cx="82.6" cy="61.8" r="0.66"/><circle cx="89.3" cy="80.4" r="0.60"/><circle cx="83.2" cy="79.7" r="0.66"/><circle cx="83.2" cy="85.3" r="0.84"/><circle cx="119.4" cy="83.7" r="0.59"/><circle cx="112.3" cy="67.2" r="0.79"/><circle cx="88.1" cy="80.2" r="0.67"/><circle cx="91.4" cy="94.8" r="0.68"/><circle cx="118.5" cy="90.6" r="0.88"/><circle cx="102.9" cy="76.5" r="0.79"/><circle cx="90.2" cy="85.1" r="0.59"/><circle cx="81.3" cy="86.9" r="0.92"/><circle cx="127.2" cy="96.5" r="0.78"/><circle cx="125.4" cy="96.1" r="0.71"/><circle cx="79.4" cy="82.7" r="0.82"/><circle cx="82.3" cy="88.6" r="0.85"/><circle cx="109.4" cy="98.6" r="0.92"/><circle cx="117.0" cy="77.5" r="0.66"/><circle cx="111.5" cy="58.6" r="0.54"/><circle cx="116.7" cy="79.7" r="0.57"/><circle cx="112.5" cy="95.7" r="0.74"/><circle cx="113.4" cy="49.5" r="0.65"/><circle cx="89.3" cy="81.0" r="0.59"/><circle cx="106.9" cy="98.0" r="0.60"/><circle cx="108.4" cy="88.2" r="0.82"/><circle cx="97.1" cy="94.3" r="0.83"/><circle cx="108.8" cy="71.2" r="0.56"/><circle cx="74.7" cy="81.9" r="0.72"/><circle cx="91.9" cy="85.2" r="0.74"/><circle cx="94.5" cy="91.1" r="0.61"/><circle cx="111.8" cy="95.8" r="0.79"/><circle cx="79.4" cy="76.0" r="0.85"/><circle cx="110.8" cy="99.5" r="0.86"/><circle cx="90.3" cy="90.5" r="0.79"/><circle cx="103.6" cy="86.3" r="0.70"/><circle cx="113.3" cy="97.4" r="0.65"/><circle cx="105.9" cy="87.8" r="0.91"/><circle cx="77.7" cy="86.1" r="0.76"/><circle cx="118.0" cy="73.8" r="0.92"/><circle cx="96.9" cy="94.1" r="0.90"/><circle cx="98.0" cy="87.2" r="0.74"/><circle cx="110.7" cy="95.6" r="0.52"/><circle cx="76.2" cy="77.4" r="0.56"/><circle cx="114.1" cy="81.7" r="0.60"/><circle cx="120.3" cy="92.5" r="0.72"/><circle cx="102.7" cy="73.2" r="0.76"/><circle cx="74.5" cy="79.8" r="0.53"/><circle cx="74.8" cy="68.1" r="0.52"/><circle cx="119.1" cy="98.4" r="0.55"/><circle cx="111.0" cy="83.3" r="0.95"/><circle cx="120.6" cy="89.0" r="0.95"/><circle cx="116.0" cy="101.2" r="0.94"/><circle cx="98.1" cy="85.6" r="0.72"/><circle cx="110.5" cy="83.3" r="0.73"/><circle cx="113.9" cy="78.7" r="0.56"/><circle cx="93.8" cy="90.1" r="0.58"/><circle cx="118.9" cy="91.8" r="0.85"/><circle cx="110.5" cy="61.0" r="0.82"/><circle cx="115.9" cy="81.4" r="0.58"/><circle cx="101.0" cy="67.2" r="0.55"/><circle cx="119.3" cy="79.6" r="0.83"/><circle cx="88.1" cy="78.6" r="0.68"/><circle cx="80.4" cy="79.5" r="0.92"/><circle cx="116.9" cy="69.3" r="0.85"/><circle cx="94.0" cy="90.2" r="0.60"/><circle cx="125.0" cy="100.1" r="0.73"/><circle cx="96.3" cy="95.3" r="0.51"/><circle cx="95.9" cy="88.1" r="0.61"/><circle cx="101.6" cy="83.4" r="0.67"/><circle cx="106.9" cy="76.4" r="0.82"/><circle cx="118.7" cy="101.6" r="0.92"/><circle cx="80.3" cy="89.8" r="0.88"/><circle cx="80.3" cy="44.5" r="0.76"/><circle cx="95.1" cy="40.8" r="0.57"/><circle cx="75.5" cy="49.7" r="0.65"/><circle cx="85.8" cy="47.0" r="0.65"/><circle cx="84.4" cy="46.7" r="0.80"/><circle cx="75.7" cy="44.7" r="0.81"/><circle cx="98.9" cy="36.9" r="0.52"/><circle cx="79.8" cy="47.9" r="0.66"/><circle cx="76.3" cy="50.0" r="0.75"/><circle cx="77.7" cy="46.3" r="0.68"/><circle cx="99.5" cy="32.0" r="0.83"/><circle cx="98.8" cy="29.2" r="0.94"/><circle cx="80.5" cy="48.7" r="0.61"/><circle cx="76.5" cy="51.3" r="0.83"/><circle cx="79.7" cy="49.8" r="0.53"/><circle cx="75.1" cy="48.2" r="0.65"/><circle cx="75.1" cy="49.1" r="0.85"/><circle cx="81.0" cy="43.2" r="0.77"/><circle cx="78.3" cy="44.8" r="0.73"/><circle cx="79.5" cy="47.4" r="0.78"/><circle cx="81.2" cy="46.3" r="0.79"/><circle cx="93.8" cy="36.3" r="0.82"/><circle cx="74.6" cy="46.7" r="0.77"/><circle cx="83.1" cy="47.5" r="0.68"/></g><path d="M141.5,100 L144.3,100.5 L145.4,107 L144.6,110.5 L142.6,106.5 Z" fill="#fff" fill-opacity="0.85"/><g fill="#cbcbcb"><circle cx="75.1" cy="65.5" r="0.6"/><circle cx="92.3" cy="93.3" r="0.6"/><circle cx="80.5" cy="65.0" r="0.6"/><circle cx="107.5" cy="66.8" r="0.6"/><circle cx="109.7" cy="71.3" r="0.6"/><circle cx="130.2" cy="95.5" r="0.6"/><circle cx="77.2" cy="68.6" r="0.6"/><circle cx="93.3" cy="80.0" r="0.6"/><circle cx="131.7" cy="100.0" r="0.6"/><circle cx="81.8" cy="64.1" r="0.6"/><circle cx="77.5" cy="68.1" r="0.6"/><circle cx="83.7" cy="73.9" r="0.6"/><circle cx="109.0" cy="63.9" r="0.6"/><circle cx="82.6" cy="71.2" r="0.6"/><circle cx="95.6" cy="63.0" r="0.6"/><circle cx="116.5" cy="91.6" r="0.6"/><circle cx="119.8" cy="80.7" r="0.6"/><circle cx="112.5" cy="72.8" r="0.6"/><circle cx="102.5" cy="69.5" r="0.6"/><circle cx="81.8" cy="69.4" r="0.6"/><circle cx="86.6" cy="70.6" r="0.6"/><circle cx="88.5" cy="94.3" r="0.6"/><circle cx="75.4" cy="67.8" r="0.6"/><circle cx="112.6" cy="67.4" r="0.6"/><circle cx="111.7" cy="70.6" r="0.6"/><circle cx="117.4" cy="75.1" r="0.6"/><circle cx="100.8" cy="87.0" r="0.6"/><circle cx="78.8" cy="77.8" r="0.6"/><circle cx="86.7" cy="75.5" r="0.6"/><circle cx="81.7" cy="73.9" r="0.6"/><circle cx="77.2" cy="63.8" r="0.6"/><circle cx="116.4" cy="72.8" r="0.6"/><circle cx="86.9" cy="93.9" r="0.6"/><circle cx="77.2" cy="83.2" r="0.6"/><circle cx="81.6" cy="64.7" r="0.6"/><circle cx="87.5" cy="82.6" r="0.6"/><circle cx="94.9" cy="63.3" r="0.6"/><circle cx="108.7" cy="63.6" r="0.6"/><circle cx="115.4" cy="87.2" r="0.6"/><circle cx="97.7" cy="66.0" r="0.6"/><circle cx="104.8" cy="64.8" r="0.6"/><circle cx="113.8" cy="83.6" r="0.6"/><circle cx="80.9" cy="72.7" r="0.6"/><circle cx="99.3" cy="90.0" r="0.6"/><circle cx="84.9" cy="67.8" r="0.6"/><circle cx="99.2" cy="65.5" r="0.6"/><circle cx="83.4" cy="71.5" r="0.6"/><circle cx="77.0" cy="63.2" r="0.6"/><circle cx="113.2" cy="72.1" r="0.6"/><circle cx="94.0" cy="96.8" r="0.6"/><circle cx="83.4" cy="78.2" r="0.6"/><circle cx="76.2" cy="99.0" r="0.6"/><circle cx="77.2" cy="101.8" r="0.6"/><circle cx="77.0" cy="104.6" r="0.6"/><circle cx="77.3" cy="107.5" r="0.6"/><circle cx="77.5" cy="110.3" r="0.6"/><circle cx="77.0" cy="113.1" r="0.6"/><circle cx="77.0" cy="115.9" r="0.6"/><circle cx="77.1" cy="118.7" r="0.6"/><circle cx="76.9" cy="121.5" r="0.6"/><circle cx="76.5" cy="124.4" r="0.6"/><circle cx="76.1" cy="127.2" r="0.6"/><circle cx="77.5" cy="130.0" r="0.6"/><circle cx="95.9" cy="96.0" r="0.6"/><circle cx="94.5" cy="97.8" r="0.6"/><circle cx="95.3" cy="99.6" r="0.6"/><circle cx="95.5" cy="101.5" r="0.6"/><circle cx="95.5" cy="103.3" r="0.6"/><circle cx="95.7" cy="105.1" r="0.6"/><circle cx="95.2" cy="106.9" r="0.6"/><circle cx="94.9" cy="108.7" r="0.6"/><circle cx="95.3" cy="110.5" r="0.6"/><circle cx="95.9" cy="112.4" r="0.6"/><circle cx="94.7" cy="114.2" r="0.6"/><circle cx="94.9" cy="116.0" r="0.6"/><circle cx="115.8" cy="101.0" r="0.6"/><circle cx="116.2" cy="103.0" r="0.6"/><circle cx="117.2" cy="105.0" r="0.6"/><circle cx="115.8" cy="107.0" r="0.6"/><circle cx="116.0" cy="109.0" r="0.6"/><circle cx="123.2" cy="130.0" r="0.6"/><circle cx="123.7" cy="132.3" r="0.6"/><circle cx="123.1" cy="134.7" r="0.6"/><circle cx="123.8" cy="137.0" r="0.6"/><circle cx="118.3" cy="126.0" r="0.6"/><circle cx="28.1" cy="83.8" r="0.6"/><circle cx="65.8" cy="71.8" r="0.6"/><circle cx="23.5" cy="82.4" r="0.6"/><circle cx="24.9" cy="81.2" r="0.6"/><circle cx="61.7" cy="69.9" r="0.6"/><circle cx="33.4" cy="82.3" r="0.6"/><circle cx="39.6" cy="80.6" r="0.6"/><circle cx="30.6" cy="80.3" r="0.6"/><circle cx="46.8" cy="76.7" r="0.6"/><circle cx="64.1" cy="71.3" r="0.6"/><circle cx="24.7" cy="82.2" r="0.6"/><circle cx="58.1" cy="74.4" r="0.6"/><circle cx="36.8" cy="80.2" r="0.6"/><circle cx="28.9" cy="84.3" r="0.6"/><circle cx="36.6" cy="81.6" r="0.6"/><circle cx="45.9" cy="78.2" r="0.6"/><circle cx="26.5" cy="85.4" r="0.6"/><circle cx="42.6" cy="74.5" r="0.6"/><circle cx="38.0" cy="78.1" r="0.6"/><circle cx="64.3" cy="71.6" r="0.6"/><circle cx="33.4" cy="80.9" r="0.6"/><circle cx="18.3" cy="84.1" r="0.6"/><circle cx="57.0" cy="71.0" r="0.6"/><circle cx="41.1" cy="74.5" r="0.6"/><circle cx="33.6" cy="81.8" r="0.6"/><circle cx="49.4" cy="72.7" r="0.6"/><circle cx="42.6" cy="75.3" r="0.6"/><circle cx="67.4" cy="65.8" r="0.6"/><circle cx="31.3" cy="79.3" r="0.6"/><circle cx="68.0" cy="69.4" r="0.6"/><circle cx="61.6" cy="72.9" r="0.6"/><circle cx="22.7" cy="83.3" r="0.6"/><circle cx="22.7" cy="85.2" r="0.6"/><circle cx="42.0" cy="79.3" r="0.6"/><circle cx="52.6" cy="76.3" r="0.6"/><circle cx="56.5" cy="70.2" r="0.6"/><circle cx="28.0" cy="80.2" r="0.6"/><circle cx="30.3" cy="81.6" r="0.6"/><circle cx="49.4" cy="75.5" r="0.6"/><circle cx="30.0" cy="82.4" r="0.6"/><circle cx="62.2" cy="71.6" r="0.6"/><circle cx="70.9" cy="67.4" r="0.6"/><circle cx="20.7" cy="86.2" r="0.6"/><circle cx="18.3" cy="86.8" r="0.6"/><circle cx="54.4" cy="74.6" r="0.6"/></g></g></defs>
<g transform="translate(20,525)"><use href="#emb"/></g>
<g transform="translate(180,525)"><use href="#emb"/></g>
<g transform="translate(340,525)"><use href="#emb"/></g>
<defs><linearGradient id="bandg" x1="0" y1="0" x2="1" y2="0"><stop offset="0" stop-color="#e8a0a8" stop-opacity="0.2"/><stop offset="0.3" stop-color="#e88088" stop-opacity="0.35"/><stop offset="0.6" stop-color="#e84c58" stop-opacity="0.8"/><stop offset="0.8" stop-color="#e84450" stop-opacity="0.75"/><stop offset="1" stop-color="#e86070" stop-opacity="0.4"/></linearGradient><linearGradient id="lobe" x1="0" y1="0" x2="0" y2="1"><stop offset="0" stop-color="#e8a0a8" stop-opacity="0"/><stop offset="0.3" stop-color="#e8a0a8" stop-opacity="0.35"/><stop offset="0.6" stop-color="#e47078" stop-opacity="0.65"/><stop offset="1" stop-color="#e0303e" stop-opacity="0.92"/></linearGradient></defs>
<defs><linearGradient id="mt" x1="0" y1="0" x2="0" y2="1"><stop offset="0" stop-color="#e8a8b0" stop-opacity="0.22"/><stop offset="0.5" stop-color="#e8a8b0" stop-opacity="0.12"/><stop offset="0.8" stop-color="#e8a8b0" stop-opacity="0"/></linearGradient><radialGradient id="jn"><stop offset="0" stop-color="#e86070" stop-opacity="0.45"/><stop offset="1" stop-color="#e86070" stop-opacity="0"/></radialGradient></defs>
<g transform="translate(180,525)"><path d="M98.9,27.5 L99.5,23.5 L100.7,21.4 L102.5,21.8 L106.0,24.0 L110.0,25.0 L114.5,24.5 L115.8,21.0 L116.6,15.0 L117.1,10.8 L117.6,15.0 L118.4,21.0 L119.7,24.0 L129.2,27.5 L137.9,31.0 L143.0,29.0 L149.1,26.4 L149.6,27.4 L144.0,31.5 L139.5,34.4 L138.5,45.0 L137.9,55.0 L139.0,66.0 L140.0,74.0 L144.0,80.0 L145.0,88.0 L146.0,96.0 L146.5,104.0 L146.2,111.0 L145.0,113.0 L143.0,112.0 L139.6,107.0 L135.8,101.2 L131.9,95.0 L128.8,93.8 L123.0,80.0 L117.0,65.0 L110.0,62.5 L99.0,62.0 L90.0,62.5 L80.0,62.5 L76.5,63.0 L76.5,56.0 L74.2,50.0 L71.2,45.7 L77.3,43.9 L86.0,41.3 L94.6,34.4 L97.2,31.0 Z" fill="url(#mt)"/><ellipse cx="73" cy="80" rx="9" ry="13" fill="url(#jn)"/><path d="M12.6,87.5 L14.0,91.0 L17.2,94.2 L24.0,95.8 L31.1,96.3 L46.5,95.5 L58.8,92.0 L66.5,88.2 L72.6,82.7 L75.7,76.5 L76.5,70.4 L76.5,63.0 L74.2,61.2 L72.6,67.3 L69.5,73.5 L63.4,80.4 L54.2,85.8 L38.8,89.6 L23.4,90.4 L15.0,89.0 Z" fill="url(#bandg)"/><g fill="#e04858" fill-opacity="0.6"><circle cx="66.6" cy="97.7" r="0.6"/><circle cx="79.6" cy="78.7" r="0.6"/><circle cx="70.2" cy="92.9" r="0.6"/><circle cx="78.1" cy="95.3" r="0.6"/><circle cx="73.0" cy="83.9" r="0.6"/><circle cx="60.8" cy="75.2" r="0.6"/><circle cx="76.8" cy="94.8" r="0.6"/><circle cx="73.9" cy="100.5" r="0.6"/><circle cx="63.5" cy="72.7" r="0.6"/><circle cx="78.3" cy="84.3" r="0.6"/><circle cx="72.9" cy="85.4" r="0.6"/><circle cx="78.4" cy="78.8" r="0.6"/><circle cx="73.7" cy="99.8" r="0.6"/><circle cx="73.1" cy="95.8" r="0.6"/><circle cx="60.9" cy="89.8" r="0.6"/><circle cx="68.6" cy="74.5" r="0.6"/><circle cx="81.5" cy="93.8" r="0.6"/><circle cx="69.6" cy="79.7" r="0.6"/><circle cx="72.9" cy="84.2" r="0.6"/><circle cx="62.2" cy="99.0" r="0.6"/><circle cx="67.7" cy="70.8" r="0.6"/><circle cx="75.4" cy="83.0" r="0.6"/><circle cx="65.1" cy="92.3" r="0.6"/><circle cx="62.7" cy="70.7" r="0.6"/><circle cx="76.5" cy="74.4" r="0.6"/><circle cx="67.5" cy="93.9" r="0.6"/><circle cx="79.6" cy="97.5" r="0.6"/><circle cx="67.5" cy="98.7" r="0.6"/><circle cx="71.8" cy="90.3" r="0.6"/><circle cx="60.0" cy="85.8" r="0.6"/><circle cx="74.1" cy="71.5" r="0.6"/><circle cx="61.7" cy="86.7" r="0.6"/><circle cx="73.1" cy="84.0" r="0.6"/><circle cx="69.1" cy="101.1" r="0.6"/><circle cx="64.9" cy="96.1" r="0.6"/><circle cx="60.3" cy="88.4" r="0.6"/><circle cx="66.9" cy="71.9" r="0.6"/><circle cx="71.2" cy="87.1" r="0.6"/><circle cx="70.0" cy="90.8" r="0.6"/><circle cx="79.3" cy="80.1" r="0.6"/><circle cx="73.5" cy="79.7" r="0.6"/><circle cx="73.9" cy="99.6" r="0.6"/><circle cx="74.7" cy="93.8" r="0.6"/><circle cx="61.0" cy="78.9" r="0.6"/><circle cx="78.6" cy="86.6" r="0.6"/></g></g>
<g transform="translate(340,525)"><path d="M120,64 L138,65 L140,74 L144,80 L145,88 L146,96 L146.5,104 L146.2,111 L145,113 L143,112 L139.6,107 L135.8,101.2 L131.9,97 L126,92 L121,82 Z" fill="url(#lobe)"/><path d="M141.5,100 L144.3,100.5 L145.4,107 L144.6,110.5 L142.6,106.5 Z" fill="#fff" fill-opacity="0.85"/></g>
<g fill="none" stroke="#111" stroke-width="1.3"><rect x="20.3" y="524.8" width="480.2" height="156"/><line x1="180.3" y1="524.8" x2="180.3" y2="680.8"/><line x1="340.3" y1="524.8" x2="340.3" y2="680.8"/></g>
<rect x="20.5" y="627.3" width="53.3" height="53.5" fill="#fff" stroke="#111" stroke-width="1.3"/>
<rect x="87" y="624.4" width="36.2" height="36.2" fill="#fff" stroke="#111" stroke-width="1.3"/>
<circle cx="33.3" cy="629.3" r="0.77" fill="#c4c4c4"/><circle cx="33.9" cy="630.8" r="0.76" fill="#c4c4c4"/><circle cx="34.1" cy="632.6" r="0.66" fill="#c4c4c4"/><circle cx="33.9" cy="634.5" r="0.75" fill="#c4c4c4"/><circle cx="33.8" cy="636.1" r="0.57" fill="#c4c4c4"/><circle cx="33.1" cy="637.8" r="0.65" fill="#c4c4c4"/><circle cx="33.3" cy="639.7" r="0.68" fill="#c4c4c4"/><circle cx="33.1" cy="641.2" r="0.72" fill="#c4c4c4"/><circle cx="32.9" cy="642.9" r="0.76" fill="#c4c4c4"/><circle cx="33.6" cy="644.9" r="0.72" fill="#c4c4c4"/><circle cx="33.0" cy="646.6" r="0.70" fill="#c4c4c4"/><circle cx="32.8" cy="648.4" r="0.58" fill="#c4c4c4"/><circle cx="33.3" cy="649.7" r="0.71" fill="#c4c4c4"/><circle cx="32.9" cy="652.0" r="0.59" fill="#c4c4c4"/><circle cx="32.5" cy="653.4" r="0.52" fill="#c4c4c4"/><circle cx="32.5" cy="654.9" r="0.65" fill="#c4c4c4"/><circle cx="33.0" cy="656.7" r="0.69" fill="#c4c4c4"/><circle cx="32.3" cy="658.4" r="0.70" fill="#c4c4c4"/><circle cx="32.1" cy="660.5" r="0.72" fill="#c4c4c4"/><circle cx="32.8" cy="662.1" r="0.72" fill="#c4c4c4"/><circle cx="32.3" cy="663.8" r="0.55" fill="#e07080"/><circle cx="32.2" cy="665.3" r="0.75" fill="#e07080"/><circle cx="32.1" cy="667.3" r="0.59" fill="#e07080"/><circle cx="32.7" cy="668.7" r="0.73" fill="#e07080"/><circle cx="32.1" cy="670.6" r="0.66" fill="#e07080"/><circle cx="32.0" cy="672.3" r="0.58" fill="#c02038"/><circle cx="32.2" cy="674.0" r="0.54" fill="#c02038"/><circle cx="32.2" cy="675.9" r="0.70" fill="#c02038"/>
<circle cx="61.7" cy="628.1" r="0.71" fill="#c4c4c4"/><circle cx="61.7" cy="629.7" r="0.88" fill="#c4c4c4"/><circle cx="61.8" cy="631.3" r="0.79" fill="#c4c4c4"/><circle cx="61.3" cy="632.3" r="0.67" fill="#c4c4c4"/><circle cx="61.5" cy="633.7" r="0.65" fill="#c4c4c4"/><circle cx="61.7" cy="635.5" r="0.64" fill="#c4c4c4"/><circle cx="61.8" cy="636.6" r="0.73" fill="#e890a0"/><circle cx="62.0" cy="638.3" r="0.71" fill="#e890a0"/><circle cx="62.2" cy="639.3" r="0.71" fill="#e890a0"/><circle cx="61.3" cy="640.7" r="0.71" fill="#e890a0"/><circle cx="61.6" cy="642.4" r="0.89" fill="#e890a0"/><circle cx="61.7" cy="643.7" r="0.72" fill="#e890a0"/><circle cx="62.3" cy="645.5" r="0.73" fill="#c83048"/><circle cx="61.7" cy="646.7" r="0.80" fill="#c83048"/><circle cx="61.4" cy="647.8" r="0.75" fill="#c83048"/><circle cx="61.9" cy="649.6" r="0.86" fill="#c83048"/><circle cx="62.2" cy="650.7" r="0.86" fill="#c83048"/><circle cx="61.4" cy="652.2" r="0.89" fill="#c83048"/>
<circle cx="34.3" cy="649.4" r="0.60" fill="#c4c4c4"/><circle cx="35.9" cy="647.9" r="0.48" fill="#c4c4c4"/><circle cx="38.5" cy="646.8" r="0.56" fill="#c4c4c4"/><circle cx="40.2" cy="645.7" r="0.48" fill="#c4c4c4"/><circle cx="41.6" cy="644.5" r="0.42" fill="#c4c4c4"/><circle cx="44.1" cy="643.1" r="0.49" fill="#c4c4c4"/><circle cx="45.6" cy="641.8" r="0.58" fill="#c4c4c4"/><circle cx="47.2" cy="640.6" r="0.59" fill="#c4c4c4"/><circle cx="49.7" cy="639.6" r="0.43" fill="#c4c4c4"/>
<circle cx="49.4" cy="639.0" r="0.58" fill="#c4c4c4"/><circle cx="51.2" cy="637.9" r="0.58" fill="#c4c4c4"/><circle cx="52.8" cy="636.2" r="0.48" fill="#c4c4c4"/><circle cx="55.0" cy="634.2" r="0.59" fill="#c4c4c4"/><circle cx="57.0" cy="633.2" r="0.51" fill="#c4c4c4"/><circle cx="58.8" cy="631.5" r="0.40" fill="#c4c4c4"/>
<circle cx="46.1" cy="630.1" r="0.51" fill="#c4c4c4"/><circle cx="56.9" cy="630.2" r="0.52" fill="#c4c4c4"/><circle cx="63.2" cy="630.1" r="0.57" fill="#c4c4c4"/><circle cx="66.5" cy="630.3" r="0.45" fill="#c4c4c4"/>
<circle cx="32.1" cy="673.8" r="1.1" fill="#b81830"/><circle cx="61.8" cy="649.3" r="1.1" fill="#c02838"/>
<circle cx="95.4" cy="626.6" r="0.74" fill="#c4c4c4"/><circle cx="95.4" cy="628.2" r="0.65" fill="#c4c4c4"/><circle cx="95.9" cy="629.6" r="0.69" fill="#c4c4c4"/><circle cx="96.0" cy="631.1" r="0.67" fill="#c4c4c4"/><circle cx="95.5" cy="633.0" r="0.73" fill="#c4c4c4"/><circle cx="95.3" cy="634.4" r="0.64" fill="#c4c4c4"/><circle cx="95.6" cy="636.3" r="0.52" fill="#c4c4c4"/><circle cx="95.1" cy="637.8" r="0.78" fill="#c4c4c4"/><circle cx="96.0" cy="639.4" r="0.68" fill="#c4c4c4"/><circle cx="95.4" cy="641.1" r="0.56" fill="#c4c4c4"/><circle cx="95.1" cy="642.7" r="0.54" fill="#c4c4c4"/><circle cx="95.5" cy="644.4" r="0.53" fill="#c4c4c4"/><circle cx="95.4" cy="645.8" r="0.62" fill="#c4c4c4"/><circle cx="95.8" cy="647.4" r="0.72" fill="#c4c4c4"/><circle cx="95.3" cy="649.3" r="0.53" fill="#d04050"/><circle cx="94.9" cy="651.2" r="0.58" fill="#d04050"/><circle cx="95.5" cy="652.6" r="0.61" fill="#d04050"/><circle cx="95.6" cy="654.3" r="0.77" fill="#d04050"/><circle cx="95.4" cy="655.8" r="0.60" fill="#d04050"/><circle cx="95.1" cy="657.4" r="0.52" fill="#d04050"/>
<circle cx="114.9" cy="625.2" r="0.67" fill="#c4c4c4"/><circle cx="114.7" cy="626.4" r="0.80" fill="#c4c4c4"/><circle cx="114.7" cy="628.1" r="0.69" fill="#c4c4c4"/><circle cx="114.8" cy="629.4" r="0.69" fill="#c4c4c4"/><circle cx="114.6" cy="630.5" r="0.68" fill="#c4c4c4"/><circle cx="115.4" cy="632.4" r="0.75" fill="#c4c4c4"/><circle cx="115.2" cy="633.7" r="0.60" fill="#c4c4c4"/><circle cx="115.3" cy="634.8" r="0.66" fill="#c4c4c4"/><circle cx="114.8" cy="636.5" r="0.71" fill="#c4c4c4"/><circle cx="115.1" cy="638.2" r="0.78" fill="#c4c4c4"/><circle cx="115.3" cy="639.4" r="0.81" fill="#c4c4c4"/>
<circle cx="96.4" cy="639.1" r="0.49" fill="#c4c4c4"/><circle cx="98.3" cy="638.0" r="0.52" fill="#c4c4c4"/><circle cx="100.0" cy="636.7" r="0.57" fill="#c4c4c4"/><circle cx="102.6" cy="635.4" r="0.59" fill="#c4c4c4"/><circle cx="104.7" cy="633.6" r="0.41" fill="#c4c4c4"/><circle cx="106.8" cy="632.5" r="0.48" fill="#c4c4c4"/>
<circle cx="107.5" cy="632.5" r="0.41" fill="#c4c4c4"/><circle cx="109.3" cy="630.9" r="0.53" fill="#c4c4c4"/><circle cx="111.7" cy="628.8" r="0.58" fill="#c4c4c4"/><circle cx="113.8" cy="627.2" r="0.41" fill="#c4c4c4"/>
<circle cx="95.3" cy="655.4" r="1" fill="#c02838"/>
<rect x="180.5" y="627.3" width="53.3" height="53.5" fill="#fff" stroke="#111" stroke-width="1.3"/>
<rect x="247" y="624.4" width="36.2" height="36.2" fill="#fff" stroke="#111" stroke-width="1.3"/>
<circle cx="193.2" cy="629.5" r="0.55" fill="#c82038"/><circle cx="193.5" cy="630.8" r="0.69" fill="#c82038"/><circle cx="193.4" cy="632.8" r="0.54" fill="#e05060"/><circle cx="193.4" cy="634.3" r="0.74" fill="#e05060"/><circle cx="193.7" cy="636.3" r="0.54" fill="#c82038"/><circle cx="193.0" cy="638.0" r="0.71" fill="#c82038"/><circle cx="193.0" cy="639.7" r="0.54" fill="#e05060"/><circle cx="193.4" cy="641.1" r="0.67" fill="#e05060"/><circle cx="192.8" cy="643.1" r="0.63" fill="#c82038"/><circle cx="193.0" cy="644.7" r="0.59" fill="#c82038"/><circle cx="192.6" cy="646.4" r="0.78" fill="#e05060"/><circle cx="192.7" cy="648.4" r="0.62" fill="#e05060"/><circle cx="193.0" cy="650.2" r="0.64" fill="#e05060"/><circle cx="193.1" cy="651.9" r="0.56" fill="#c82038"/><circle cx="193.0" cy="653.3" r="0.77" fill="#e05060"/><circle cx="192.9" cy="655.3" r="0.73" fill="#e05060"/><circle cx="193.0" cy="656.7" r="0.55" fill="#e05060"/><circle cx="192.8" cy="658.4" r="0.53" fill="#e05060"/><circle cx="193.0" cy="660.2" r="0.75" fill="#e05060"/><circle cx="192.9" cy="662.1" r="0.53" fill="#e05060"/><circle cx="191.9" cy="663.9" r="0.65" fill="#e05060"/><circle cx="191.9" cy="665.5" r="0.56" fill="#e05060"/><circle cx="192.3" cy="667.0" r="0.70" fill="#c82038"/><circle cx="192.7" cy="668.8" r="0.63" fill="#e05060"/><circle cx="191.8" cy="670.6" r="0.74" fill="#e05060"/><circle cx="192.6" cy="672.5" r="0.53" fill="#e05060"/><circle cx="192.5" cy="674.0" r="0.54" fill="#c82038"/><circle cx="192.4" cy="675.6" r="0.55" fill="#e05060"/>
<circle cx="221.8" cy="628.4" r="0.61" fill="#c4c4c4"/><circle cx="221.6" cy="629.5" r="0.69" fill="#c4c4c4"/><circle cx="221.3" cy="631.4" r="0.79" fill="#c4c4c4"/><circle cx="221.3" cy="632.5" r="0.78" fill="#c4c4c4"/><circle cx="221.5" cy="633.8" r="0.88" fill="#c4c4c4"/><circle cx="221.9" cy="635.6" r="0.67" fill="#c4c4c4"/><circle cx="222.2" cy="636.6" r="0.64" fill="#c4c4c4"/><circle cx="221.3" cy="638.1" r="0.70" fill="#c4c4c4"/><circle cx="222.2" cy="639.8" r="0.74" fill="#c4c4c4"/><circle cx="221.4" cy="641.0" r="0.76" fill="#c4c4c4"/><circle cx="222.0" cy="642.1" r="0.67" fill="#c4c4c4"/><circle cx="222.2" cy="643.7" r="0.84" fill="#c4c4c4"/><circle cx="221.3" cy="645.4" r="0.84" fill="#c4c4c4"/><circle cx="221.8" cy="646.5" r="0.70" fill="#c4c4c4"/><circle cx="221.7" cy="648.2" r="0.79" fill="#c4c4c4"/><circle cx="221.4" cy="649.7" r="0.79" fill="#c4c4c4"/><circle cx="221.6" cy="650.8" r="0.71" fill="#c4c4c4"/><circle cx="222.1" cy="652.2" r="0.83" fill="#c4c4c4"/>
<circle cx="194.6" cy="649.4" r="0.55" fill="#e07080"/><circle cx="196.2" cy="648.1" r="0.48" fill="#e07080"/><circle cx="198.3" cy="647.0" r="0.46" fill="#e07080"/><circle cx="199.9" cy="645.4" r="0.50" fill="#c4c4c4"/><circle cx="201.7" cy="644.1" r="0.59" fill="#c4c4c4"/><circle cx="203.6" cy="643.1" r="0.43" fill="#c4c4c4"/><circle cx="205.8" cy="641.7" r="0.53" fill="#c4c4c4"/><circle cx="208.0" cy="640.5" r="0.55" fill="#c4c4c4"/><circle cx="209.2" cy="639.3" r="0.48" fill="#c4c4c4"/>
<circle cx="209.7" cy="639.1" r="0.42" fill="#c4c4c4"/><circle cx="211.7" cy="637.5" r="0.41" fill="#c4c4c4"/><circle cx="212.6" cy="636.2" r="0.55" fill="#c4c4c4"/><circle cx="215.3" cy="634.6" r="0.57" fill="#c4c4c4"/><circle cx="217.0" cy="633.2" r="0.59" fill="#c4c4c4"/><circle cx="218.0" cy="631.5" r="0.48" fill="#c4c4c4"/>
<circle cx="196.7" cy="630.5" r="0.55" fill="#c4c4c4"/><circle cx="198.3" cy="630.2" r="0.51" fill="#c4c4c4"/><circle cx="204.5" cy="630.5" r="0.58" fill="#c4c4c4"/><circle cx="206.6" cy="630.2" r="0.56" fill="#c4c4c4"/><circle cx="208.4" cy="630.4" r="0.51" fill="#c4c4c4"/><circle cx="211.8" cy="630.4" r="0.55" fill="#c4c4c4"/><circle cx="214.4" cy="630.1" r="0.48" fill="#c4c4c4"/><circle cx="219.6" cy="630.5" r="0.48" fill="#c4c4c4"/><circle cx="221.2" cy="630.6" r="0.48" fill="#c4c4c4"/><circle cx="224.0" cy="630.1" r="0.51" fill="#c4c4c4"/><circle cx="225.9" cy="630.0" r="0.51" fill="#c4c4c4"/>
<circle cx="194.5" cy="649.3" r="1.4" fill="#d83040" fill-opacity="0.8"/>
<circle cx="255.3" cy="626.6" r="0.64" fill="#e05060"/><circle cx="255.3" cy="627.8" r="0.57" fill="#e05060"/><circle cx="256.0" cy="629.9" r="0.61" fill="#e05060"/><circle cx="256.0" cy="631.4" r="0.72" fill="#c82038"/><circle cx="256.1" cy="633.2" r="0.68" fill="#e05060"/><circle cx="255.9" cy="634.5" r="0.66" fill="#e05060"/><circle cx="255.5" cy="636.1" r="0.75" fill="#e05060"/><circle cx="255.2" cy="637.8" r="0.70" fill="#e05060"/><circle cx="256.0" cy="639.7" r="0.63" fill="#c82038"/><circle cx="255.3" cy="641.3" r="0.54" fill="#e05060"/><circle cx="255.5" cy="642.6" r="0.70" fill="#e05060"/><circle cx="255.2" cy="644.4" r="0.56" fill="#e05060"/><circle cx="255.6" cy="645.9" r="0.58" fill="#c82038"/><circle cx="255.1" cy="647.8" r="0.60" fill="#c82038"/><circle cx="255.5" cy="649.2" r="0.69" fill="#e05060"/><circle cx="255.2" cy="650.8" r="0.58" fill="#e05060"/><circle cx="255.3" cy="652.8" r="0.53" fill="#c82038"/><circle cx="255.5" cy="654.3" r="0.59" fill="#e05060"/><circle cx="255.4" cy="655.9" r="0.65" fill="#e05060"/><circle cx="255.0" cy="657.6" r="0.65" fill="#e05060"/>
<circle cx="274.9" cy="624.7" r="0.69" fill="#c4c4c4"/><circle cx="274.7" cy="626.3" r="0.68" fill="#c4c4c4"/><circle cx="274.9" cy="628.0" r="0.86" fill="#c4c4c4"/><circle cx="274.7" cy="629.2" r="0.85" fill="#c4c4c4"/><circle cx="274.7" cy="630.8" r="0.70" fill="#c4c4c4"/><circle cx="274.6" cy="632.0" r="0.78" fill="#c4c4c4"/><circle cx="275.3" cy="633.6" r="0.69" fill="#c4c4c4"/><circle cx="274.8" cy="635.3" r="0.64" fill="#c4c4c4"/><circle cx="274.8" cy="636.5" r="0.72" fill="#c4c4c4"/><circle cx="274.8" cy="638.0" r="0.69" fill="#c4c4c4"/><circle cx="274.9" cy="639.7" r="0.83" fill="#c4c4c4"/>
<circle cx="256.4" cy="639.3" r="0.49" fill="#c4c4c4"/><circle cx="257.9" cy="637.8" r="0.42" fill="#c4c4c4"/><circle cx="260.9" cy="636.9" r="0.46" fill="#c4c4c4"/><circle cx="262.8" cy="635.3" r="0.44" fill="#c4c4c4"/><circle cx="264.7" cy="633.7" r="0.54" fill="#c4c4c4"/><circle cx="267.2" cy="632.5" r="0.46" fill="#c4c4c4"/>
<circle cx="267.2" cy="632.2" r="0.58" fill="#c4c4c4"/><circle cx="269.7" cy="630.9" r="0.50" fill="#c4c4c4"/><circle cx="271.9" cy="629.3" r="0.56" fill="#c4c4c4"/><circle cx="273.9" cy="627.3" r="0.59" fill="#c4c4c4"/>
<circle cx="257" cy="639.4" r="1.1" fill="#d83040" fill-opacity="0.8"/>
<text x="27.3" y="535.6" font-size="8.2" fill="#333" textLength="87.9" lengthAdjust="spacingAndGlyphs">Cluster 1 gene expression</text>
<text x="187.3" y="535.6" font-size="8.2" fill="#333" textLength="87.9" lengthAdjust="spacingAndGlyphs">Cluster 2 gene expression</text>
<text x="347.7" y="535.6" font-size="8.2" fill="#333" textLength="87.9" lengthAdjust="spacingAndGlyphs">Cluster 3 gene expression</text>
<rect x="355.2" y="673.6" width="65.7" height="3.2" fill="url(#gm)"/>
<text x="342.7" y="676.8" font-size="7.4" fill="#333" textLength="10.5" lengthAdjust="spacingAndGlyphs">Min</text>
<text x="421.9" y="676.8" font-size="7.4" fill="#333" textLength="12.5" lengthAdjust="spacingAndGlyphs">Max</text>
<text x="355.2" y="671.2" font-size="7.4" fill="#333" textLength="65.7" lengthAdjust="spacingAndGlyphs">Geometric mean score</text>
<rect x="0" y="0" width="520" height="688" fill="none" stroke="#000" stroke-width="2.8"/>
</svg></body></html>
